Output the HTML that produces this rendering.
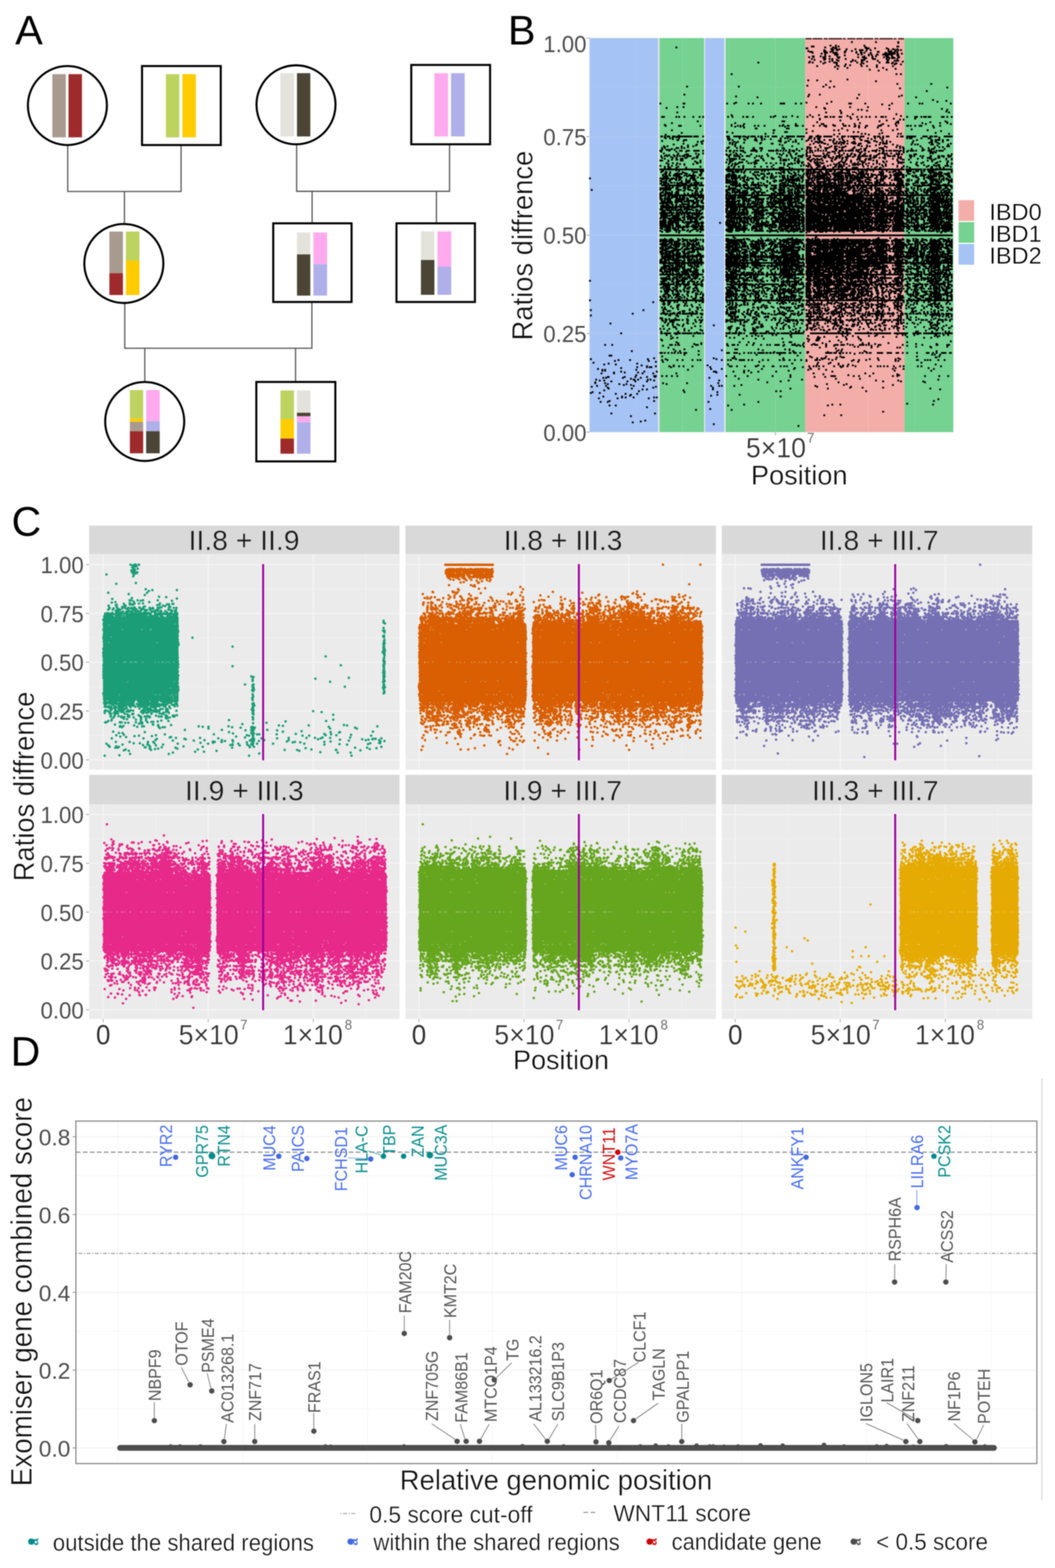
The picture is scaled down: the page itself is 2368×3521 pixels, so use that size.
<!DOCTYPE html>
<html lang="en"><head><meta charset="utf-8"><title>Figure: IBD sharing and Exomiser gene scores</title>
<style>
html,body{margin:0;padding:0;background:#fff}
svg{display:block;filter:blur(.8px)}
text{font-family:'Liberation Sans',sans-serif}
</style></head>
<body>
<svg width="2368" height="3521" viewBox="0 0 2368 3521" role="img" aria-label="Pedigree, IBD ratio scatter plots and Exomiser gene scores">
<rect width="2368" height="3521" fill="#fff"/>
<g id="panelA">
<text transform="translate(34 99.5)" font-size="93" fill="#000">A</text>
<path d="M152 326 L152 430 L406.4 430 L406.4 326" stroke="#4d4d4d" stroke-width="2.6" fill="none"/>
<path d="M279.3 430 L279.3 502" stroke="#4d4d4d" stroke-width="2.6" fill="none"/>
<path d="M665.8 325 L665.8 429.6 L1009 429.6 L1009 325" stroke="#4d4d4d" stroke-width="2.6" fill="none"/>
<path d="M700.6 429.6 L700.6 501" stroke="#4d4d4d" stroke-width="2.6" fill="none"/>
<path d="M979.6 429.6 L979.6 501" stroke="#4d4d4d" stroke-width="2.6" fill="none"/>
<path d="M280 681 L280 782 L700 782 L700 679" stroke="#4d4d4d" stroke-width="2.6" fill="none"/>
<path d="M325 782 L325 857" stroke="#4d4d4d" stroke-width="2.6" fill="none"/>
<path d="M663.4 782 L663.4 857" stroke="#4d4d4d" stroke-width="2.6" fill="none"/>
<circle cx="151.3" cy="237" r="88.7" fill="#fff" stroke="#000" stroke-width="4.6"/>
<rect x="117.5" y="166.5" width="30.2" height="141.9" fill="#a89a8e"/>
<rect x="153.8" y="166.5" width="30.2" height="141.9" fill="#9e2a2b"/>
<rect x="318.8" y="148.3" width="176.7" height="177.4" fill="#fff" stroke="#000" stroke-width="4.6"/>
<rect x="372.3" y="166.5" width="30.2" height="141.9" fill="#bcd35f"/>
<rect x="409.4" y="166.5" width="30.3" height="141.9" fill="#ffcc00"/>
<circle cx="664.4" cy="235.3" r="88.7" fill="#fff" stroke="#000" stroke-width="4.6"/>
<rect x="629.3" y="164.3" width="30.7" height="142.1" fill="#e3e2db"/>
<rect x="666.6" y="164.3" width="29.9" height="142.1" fill="#4b4535"/>
<rect x="923.1" y="145.8" width="176.9" height="178.2" fill="#fff" stroke="#000" stroke-width="4.6"/>
<rect x="975" y="164.3" width="30.7" height="142.1" fill="#ffaaee"/>
<rect x="1012.4" y="164.3" width="30.6" height="142.1" fill="#afafe9"/>
<circle cx="278" cy="591.7" r="88.7" fill="#fff" stroke="#000" stroke-width="4.6"/>
<rect x="245.5" y="520" width="30.4" height="93.4" fill="#a89a8e"/>
<rect x="245.5" y="613.4" width="30.4" height="49.1" fill="#9e2a2b"/>
<rect x="282.6" y="520" width="30.4" height="64.8" fill="#bcd35f"/>
<rect x="282.6" y="584.8" width="30.4" height="77.7" fill="#ffcc00"/>
<rect x="613.3" y="501.5" width="175.8" height="176.6" fill="#fff" stroke="#000" stroke-width="4.6"/>
<rect x="666.6" y="522" width="29.9" height="49.3" fill="#e3e2db"/>
<rect x="666.6" y="571.3" width="29.9" height="92.5" fill="#4b4535"/>
<rect x="703.5" y="522" width="30.7" height="71.3" fill="#ffaaee"/>
<rect x="703.5" y="593.3" width="30.7" height="70.5" fill="#afafe9"/>
<rect x="889.9" y="501.5" width="176.1" height="176.6" fill="#fff" stroke="#000" stroke-width="4.6"/>
<rect x="944.8" y="519.5" width="30.2" height="64.3" fill="#e3e2db"/>
<rect x="944.8" y="583.8" width="30.2" height="78.2" fill="#4b4535"/>
<rect x="982" y="519.5" width="30.8" height="79.5" fill="#ffaaee"/>
<rect x="982" y="599" width="30.8" height="63" fill="#afafe9"/>
<circle cx="324.8" cy="946.4" r="88.7" fill="#fff" stroke="#000" stroke-width="4.6"/>
<rect x="291.5" y="875.9" width="29.9" height="63.8" fill="#bcd35f"/>
<rect x="291.5" y="939.7" width="29.9" height="7.6" fill="#ffcc00"/>
<rect x="291.5" y="947.3" width="29.9" height="21" fill="#a89a8e"/>
<rect x="291.5" y="968.3" width="29.9" height="49.6" fill="#9e2a2b"/>
<rect x="328" y="875.9" width="30.5" height="69.6" fill="#ffaaee"/>
<rect x="328" y="945.5" width="30.5" height="22.8" fill="#afafe9"/>
<rect x="328" y="968.3" width="30.5" height="49.6" fill="#4b4535"/>
<rect x="575.3" y="857.7" width="177.4" height="178.4" fill="#fff" stroke="#000" stroke-width="4.6"/>
<rect x="629.5" y="876.8" width="30.3" height="64.2" fill="#bcd35f"/>
<rect x="629.5" y="941" width="30.3" height="43.8" fill="#ffcc00"/>
<rect x="629.5" y="984.8" width="30.3" height="34" fill="#9e2a2b"/>
<rect x="666.5" y="876.8" width="30.4" height="50" fill="#e3e2db"/>
<rect x="666.5" y="926.8" width="30.4" height="8" fill="#4b4535"/>
<rect x="666.5" y="934.8" width="30.4" height="13.4" fill="#ffaaee"/>
<rect x="666.5" y="948.2" width="30.4" height="70.6" fill="#afafe9"/>
</g>
<g id="panelB">
<text transform="translate(1140 99.5)" font-size="93" fill="#000">B</text>
<rect x="1323.2" y="85.5" width="816.5" height="884.8" fill="#ebebeb"/>
<rect x="1323.2" y="85.5" width="154.1" height="884.8" fill="#a6c3f5"/>
<rect x="1480.3" y="85.5" width="100" height="884.8" fill="#75d291"/>
<rect x="1582.6" y="85.5" width="43" height="884.8" fill="#a6c3f5"/>
<rect x="1628.6" y="85.5" width="178.7" height="884.8" fill="#75d291"/>
<rect x="1807.3" y="85.5" width="222.9" height="884.8" fill="#f3aeaa"/>
<rect x="2030.2" y="85.5" width="109.5" height="884.8" fill="#75d291"/>
<path d="M1323.2 749.1H2139.7M1323.2 527.9H2139.7M1323.2 306.7H2139.7M1532.2 85.5V970.3M1740.6 85.5V970.3M1949 85.5V970.3" stroke="#fff" stroke-width="2" opacity=".12" fill="none"/>
<path d="M1323.2 859.7H2139.7M1323.2 638.5H2139.7M1323.2 417.3H2139.7M1323.2 196.1H2139.7M1428 85.5V970.3M1636.4 85.5V970.3M1844.8 85.5V970.3M2053.2 85.5V970.3" stroke="#fff" stroke-width="1.2" opacity=".09" fill="none"/>
<path transform="translate(1324.2 86.5) scale(2.0)" d="M294 4h0m27 0h0m25 0h0m0 1h0m-76 3h0m6 0h0m32 0h0m-59 1h0m2 0h0m28 0h0m66 0h0m1 0h0m-249 1h0m167 0h0m9 0h0m3 0h0m33 0h0m1 0h0m-67 1h0m1 0h0m28 0h0m3 0h0m35 0h0m2 0h0m1 0h0m7 0h0m13 0h0m-62 1h0m6 0h0m3 0h0m8 0h0m10 0h0m13 0h0m24 0h0m5 0h0m1 0h0m4 0h0m-82 1h0m10 0h0m4 0h0m1 0h0m25 0h0m2 0h0m1 0h0m9 0h0m28 0h0m3 0h0m3 0h0m-104 1h0m18 0h0m1 0h0m8 0h0m15 0h0m7 0h0m10 0h0m6 0h0m25 0h0m3 0h0m5 0h0m-96 1h0m2 0h0m14 0h0m2 0h0m5 0h0m16 0h0m13 0h0m5 0h0m19 0h0m1 0h0m12 0h0m2 0h0m4 0h0m3 0h0m-95 1h0m16 0h0m7 0h0m2 0h0m1 0h0m1 0h0m9 0h0m13 0h0m5 0h0m1 0h0m3 0h0m7 0h0m17 0h0m7 0h0m2 0h0m-81 1h0m4 0h0m67 0h0m1 0h0m2 0h0m1 0h0m2 0h0m2 0h0m2 0h0m1 0h0m3 0h0m5 0h0m-75 1h0m2 0h0m1 0h0m23 0h0m4 0h0m8 0h0m3 0h0m6 0h0m1 0h0m6 0h0m1 0h0m5 0h0m2 0h0m1 0h0m8 0h0m-82 1h0m13 0h0m9 0h0m27 0h0m19 0h0m2 0h0m5 0h0m6 0h0m-95 1h0m1 0h0m8 0h0m5 0h0m5 0h0m39 0h0m9 0h0m4 0h0m18 0h0m7 0h0m-100 1h0m5 0h0m11 0h0m16 0h0m2 0h0m21 0h0m5 0h0m24 0h0m3 0h0m2 0h0m5 0h0m6 0h0m1 0h0m-85 1h0m2 0h0m15 0h0m29 0h0m1 0h0m1 0h0m7 0h0m19 0h0m3 0h0m1 0h0m2 0h0m-93 1h0m15 0h0m5 0h0m3 0h0m15 0h0m31 0h0m2 0h0m13 0h0m12 0h0m-93 1h0m11 0h0m14 0h0m18 0h0m10 0h0m2 0h0m1 0h0m27 0h0m-63 1h0m7 0h0m16 0h0m3 0h0m8 0h0m17 0h0m11 0h0m8 0h0m1 0h0m1 0h0m2 0h0m-99 1h0m12 0h0m10 0h0m24 0h0m12 0h0m6 0h0m23 0h0m17 0h0m-162 1h0m57 0h0m4 0h0m14 0h0m10 0h0m2 0h0m1 0h0m23 0h0m5 0h0m20 0h0m8 0h0m2 0h0m5 0h0m-78 1h0m45 0h0m32 0h0m4 0h0m1 0h0m-67 1h0m10 0h0m17 0h0m38 0h0m7 0h0m-72 1h0m15 0h0m30 0h0m-67 1h0m24 0h0m7 0h0m19 0h0m6 0h0m29 0h0m-65 1h0m47 0h0m-33 1h0m40 0h0m-51 1h0m65 0h0m-29 1h0m19 0h0m-9 1h0m-165 4h0m185 0h0m5 0h0m-60 6h0m-44 1h0m10 0h0m15 1h0m51 0h0m24 3h0m38 0h0m-118 1h0m-21 1h0m-135 1h0m58 0h0m95 0h0m12 0h0m-5 1h0m132 0h0m-53 1h0m30 3h0m-272 4h0m140 0h0m12 0h0m44 0h0m48 1h0m-186 1h0m81 0h0m102 0h0m-159 1h0m178 0h0m-66 1h0m85 2h0m15 1h0m-129 1h0m119 0h0m-226 1h0m79 0h0m-164 1h0m26 0h0m1 0h0m48 0h0m8 0h0m16 0h0m5 0h0m9 0h0m22 0h0m2 0h0m2 0h0m13 0h0m6 0h0m29 0h0m25 0h0m2 0h0m16 0h0m30 0h0m18 0h0m13 0h0m3 0h0m32 0h0m-77 1h0m8 1h0m-238 2h0m7 0h0m149 0h0m38 0h0m20 0h0m-226 1h0m177 0h0m1 1h0m72 0h0m59 0h0m-94 1h0m4 0h0m96 0h0m-120 1h0m30 0h0m89 1h0m-302 1h0m167 0h0m17 0h0m121 0h0m-121 1h0m13 1h0m49 0h0m-185 1h0m88 0h0m10 0h0m-49 1h0m19 0h0m62 0h0m60 0h0m-268 1h0m2 0h0m14 0h0m3 0h0m6 0h0m10 0h0m7 0h0m4 0h0m28 0h0m5 0h0m12 0h0m4 0h0m1 0h0m6 0h0m20 0h0m3 0h0m11 0h0m3 0h0m13 0h0m11 0h0m6 0h0m14 0h0m2 0h0m4 0h0m3 0h0m1 0h0m6 0h0m2 0h0m10 0h0m8 0h0m5 0h0m5 0h0m4 0h0m7 0h0m6 0h0m2 0h0m3 0h0m24 0h0m9 0h0m2 0h0m5 0h0m3 0h0m2 0h0m3 0h0m1 0h0m1 0h0m13 0h0m2 0h0m4 0h0m5 0h0m-148 2h0m35 0h0m48 0h0m24 0h0m-107 1h0m43 0h0m47 0h0m4 0h0m-71 1h0m52 0h0m-212 1h0m95 0h0m2 0h0m107 0h0m21 0h0m53 0h0m-144 1h0m89 0h0m38 0h0m19 0h0m-309 1h0m71 0h0m140 0h0m43 0h0m27 0h0m20 0h0m8 0h0m-228 1h0m58 0h0m29 0h0m2 0h0m22 0h0m13 0h0m32 0h0m14 0h0m34 0h0m28 0h0m-321 1h0m75 0h0m58 0h0m56 0h0m54 0h0m-242 1h0m15 0h0m2 0h0m22 0h0m35 0h0m7 0h0m3 0h0m3 0h0m13 0h0m4 0h0m7 0h0m17 0h0m3 0h0m6 0h0m1 0h0m8 0h0m2 0h0m6 0h0m12 0h0m7 0h0m5 0h0m2 0h0m9 0h0m1 0h0m10 0h0m2 0h0m4 0h0m7 0h0m4 0h0m8 0h0m1 0h0m13 0h0m2 0h0m9 0h0m9 0h0m12 0h0m1 0h0m3 0h0m5 0h0m5 0h0m2 0h0m13 0h0m8 0h0m-230 1h0m6 0h0m50 0h0m46 0h0m32 0h0m-124 1h0m129 0h0m7 0h0m14 0h0m63 0h0m-200 1h0m1 0h0m34 0h0m2 0h0m60 0h0m-40 1h0m102 0h0m16 0h0m-269 1h0m114 0h0m1 0h0m67 0h0m5 0h0m10 0h0m38 0h0m13 0h0m39 0h0m-129 1h0m144 0h0m-240 1h0m65 0h0m2 0h0m75 0h0m5 0h0m-198 1h0m57 0h0m46 0h0m37 0h0m85 0h0m60 0h0m-191 1h0m83 0h0m25 0h0m4 0h0m16 0h0m21 0h0m3 0h0m54 0h0m-318 1h0m189 0h0m39 0h0m-213 1h0m156 0h0m-176 1h0m1 0h0m3 0h0m3 0h0m2 0h0m4 0h0m1 0h0m1 0h0m3 0h0m2 0h0m1 0h0m1 0h0m1 0h0m2 0h0m2 0h0m2 0h0m1 0h0m1 0h0m2 0h0m1 0h0m3 0h0m1 0h0m2 0h0m1 0h0m6 0h0m27 0h0m1 0h0m1 0h0m6 0h0m1 0h0m2 0h0m1 0h0m1 0h0m1 0h0m1 0h0m3 0h0m1 0h0m1 0h0m4 0h0m3 0h0m2 0h0m2 0h0m4 0h0m3 0h0m1 0h0m4 0h0m3 0h0m5 0h0m2 0h0m2 0h0m7 0h0m5 0h0m1 0h0m1 0h0m2 0h0m1 0h0m1 0h0m1 0h0m1 0h0m4 0h0m1 0h0m2 0h0m1 0h0m2 0h0m1 0h0m7 0h0m1 0h0m1 0h0m5 0h0m2 0h0m1 0h0m1 0h0m1 0h0m4 0h0m1 0h0m2 0h0m1 0h0m2 0h0m2 0h0m7 0h0m5 0h0m1 0h0m1 0h0m1 0h0m4 0h0m3 0h0m2 0h0m2 0h0m1 0h0m1 0h0m1 0h0m1 0h0m3 0h0m2 0h0m1 0h0m12 0h0m1 0h0m3 0h0m1 0h0m1 0h0m4 0h0m4 0h0m2 0h0m10 0h0m4 0h0m1 0h0m1 0h0m5 0h0m1 0h0m2 0h0m2 0h0m1 0h0m2 0h0m1 0h0m9 0h0m2 0h0m1 0h0m1 0h0m4 0h0m2 0h0m3 0h0m2 0h0m9 0h0m2 0h0m1 0h0m1 0h0m2 0h0m2 0h0m-322 1h0m13 0h0m58 0h0m21 0h0m16 0h0m64 0h0m73 0h0m63 0h0m-307 1h0m5 0h0m3 0h0m7 0h0m56 0h0m12 0h0m9 0h0m9 0h0m7 0h0m21 0h0m5 0h0m3 0h0m24 0h0m2 0h0m4 0h0m6 0h0m25 0h0m13 0h0m7 0h0m9 0h0m8 0h0m6 0h0m3 0h0m27 0h0m3 0h0m2 0h0m11 0h0m8 0h0m2 0h0m-289 1h0m62 0h0m2 0h0m16 0h0m23 0h0m7 0h0m11 0h0m11 0h0m13 0h0m14 0h0m4 0h0m18 0h0m6 0h0m17 0h0m19 0h0m76 0h0m-294 1h0m1 0h0m7 0h0m2 0h0m48 0h0m4 0h0m14 0h0m11 0h0m2 0h0m6 0h0m38 0h0m14 0h0m12 0h0m6 0h0m6 0h0m1 0h0m4 0h0m10 0h0m20 0h0m1 0h0m23 0h0m39 0h0m16 0h0m1 0h0m4 0h0m1 0h0m1 0h0m2 0h0m4 0h0m5 0h0m1 0h0m-321 1h0m24 0h0m22 0h0m60 0h0m25 0h0m2 0h0m9 0h0m20 0h0m6 0h0m9 0h0m15 0h0m12 0h0m4 0h0m20 0h0m1 0h0m2 0h0m7 0h0m1 0h0m13 0h0m30 0h0m21 0h0m-263 1h0m4 0h0m37 0h0m4 0h0m48 0h0m6 0h0m8 0h0m3 0h0m22 0h0m2 0h0m3 0h0m2 0h0m13 0h0m4 0h0m4 0h0m4 0h0m1 0h0m10 0h0m1 0h0m16 0h0m9 0h0m7 0h0m4 0h0m4 0h0m46 0h0m1 0h0m4 0h0m8 0h0m-239 1h0m3 0h0m4 0h0m9 0h0m19 0h0m27 0h0m37 0h0m1 0h0m3 0h0m1 0h0m19 0h0m3 0h0m11 0h0m3 0h0m15 0h0m2 0h0m12 0h0m36 0h0m19 0h0m9 0h0m-285 1h0m21 0h0m31 0h0m34 0h0m13 0h0m1 0h0m29 0h0m17 0h0m12 0h0m1 0h0m10 0h0m2 0h0m3 0h0m6 0h0m4 0h0m7 0h0m2 0h0m4 0h0m2 0h0m25 0h0m2 0h0m2 0h0m51 0h0m8 0h0m13 0h0m-311 1h0m26 0h0m40 0h0m3 0h0m50 0h0m34 0h0m20 0h0m15 0h0m43 0h0m15 0h0m21 0h0m4 0h0m3 0h0m15 0h0m2 0h0m17 0h0m-292 1h0m9 0h0m97 0h0m42 0h0m43 0h0m1 0h0m9 0h0m10 0h0m24 0h0m45 0h0m-307 1h0m4 0h0m16 0h0m13 0h0m47 0h0m6 0h0m58 0h0m44 0h0m4 0h0m2 0h0m10 0h0m18 0h0m6 0h0m3 0h0m17 0h0m17 0h0m23 0h0m30 0h0m2 0h0m-319 1h0m26 0h0m46 0h0m88 0h0m2 0h0m7 0h0m6 0h0m10 0h0m6 0h0m5 0h0m3 0h0m2 0h0m12 0h0m36 0h0m11 0h0m4 0h0m3 0h0m36 0h0m5 0h0m4 0h0m-315 1h0m3 0h0m13 0h0m2 0h0m4 0h0m3 0h0m48 0h0m1 0h0m10 0h0m4 0h0m3 0h0m12 0h0m7 0h0m2 0h0m23 0h0m1 0h0m31 0h0m16 0h0m1 0h0m2 0h0m29 0h0m14 0h0m15 0h0m2 0h0m1 0h0m1 0h0m19 0h0m4 0h0m21 0h0m7 0h0m-288 1h0m91 0h0m10 0h0m25 0h0m14 0h0m6 0h0m6 0h0m3 0h0m9 0h0m9 0h0m10 0h0m2 0h0m6 0h0m12 0h0m9 0h0m4 0h0m20 0h0m1 0h0m32 0h0m23 0h0m2 0h0m12 0h0m-317 1h0m5 0h0m1 0h0m1 0h0m2 0h0m5 0h0m90 0h0m25 0h0m14 0h0m8 0h0m61 0h0m6 0h0m3 0h0m7 0h0m13 0h0m7 0h0m23 0h0m22 0h0m1 0h0m6 0h0m-302 1h0m10 0h0m12 0h0m2 0h0m6 0h0m1 0h0m1 0h0m6 0h0m1 0h0m1 0h0m2 0h0m1 0h0m5 0h0m26 0h0m4 0h0m1 0h0m4 0h0m3 0h0m4 0h0m2 0h0m1 0h0m9 0h0m1 0h0m2 0h0m1 0h0m1 0h0m1 0h0m5 0h0m9 0h0m1 0h0m2 0h0m2 0h0m3 0h0m2 0h0m3 0h0m3 0h0m3 0h0m4 0h0m3 0h0m2 0h0m6 0h0m8 0h0m4 0h0m2 0h0m4 0h0m3 0h0m3 0h0m3 0h0m3 0h0m11 0h0m4 0h0m1 0h0m1 0h0m2 0h0m3 0h0m3 0h0m2 0h0m2 0h0m1 0h0m4 0h0m2 0h0m7 0h0m1 0h0m8 0h0m2 0h0m1 0h0m1 0h0m4 0h0m5 0h0m3 0h0m3 0h0m1 0h0m1 0h0m3 0h0m2 0h0m1 0h0m1 0h0m3 0h0m1 0h0m3 0h0m5 0h0m3 0h0m1 0h0m1 0h0m1 0h0m3 0h0m7 0h0m7 0h0m3 0h0m6 0h0m3 0h0m1 0h0m1 0h0m2 0h0m-316 1h0m17 0h0m11 0h0m49 0h0m15 0h0m15 0h0m42 0h0m18 0h0m25 0h0m2 0h0m6 0h0m21 0h0m4 0h0m8 0h0m8 0h0m8 0h0m18 0h0m9 0h0m26 0h0m4 0h0m-225 1h0m13 0h0m49 0h0m1 0h0m20 0h0m3 0h0m3 0h0m17 0h0m2 0h0m10 0h0m24 0h0m1 0h0m48 0h0m32 0h0m1 0h0m3 0h0m-305 1h0m16 0h0m20 0h0m8 0h0m37 0h0m46 0h0m7 0h0m15 0h0m11 0h0m19 0h0m13 0h0m10 0h0m9 0h0m15 0h0m16 0h0m3 0h0m2 0h0m3 0h0m5 0h0m6 0h0m3 0h0m35 0h0m3 0h0m-286 1h0m9 0h0m2 0h0m12 0h0m31 0h0m5 0h0m7 0h0m4 0h0m12 0h0m18 0h0m14 0h0m12 0h0m6 0h0m12 0h0m23 0h0m14 0h0m9 0h0m4 0h0m4 0h0m6 0h0m5 0h0m16 0h0m7 0h0m14 0h0m2 0h0m3 0h0m14 0h0m2 0h0m40 0h0m-320 1h0m3 0h0m5 0h0m4 0h0m8 0h0m48 0h0m3 0h0m5 0h0m53 0h0m6 0h0m18 0h0m4 0h0m8 0h0m12 0h0m5 0h0m15 0h0m15 0h0m4 0h0m5 0h0m8 0h0m7 0h0m12 0h0m8 0h0m17 0h0m1 0h0m42 0h0m-322 1h0m4 0h0m3 0h0m8 0h0m3 0h0m3 0h0m3 0h0m2 0h0m3 0h0m2 0h0m2 0h0m7 0h0m1 0h0m35 0h0m6 0h0m2 0h0m1 0h0m1 0h0m1 0h0m4 0h0m5 0h0m1 0h0m2 0h0m8 0h0m3 0h0m3 0h0m7 0h0m21 0h0m5 0h0m8 0h0m2 0h0m1 0h0m6 0h0m1 0h0m3 0h0m6 0h0m1 0h0m2 0h0m1 0h0m2 0h0m4 0h0m2 0h0m3 0h0m9 0h0m1 0h0m2 0h0m1 0h0m8 0h0m1 0h0m1 0h0m1 0h0m5 0h0m8 0h0m1 0h0m2 0h0m1 0h0m2 0h0m3 0h0m1 0h0m4 0h0m1 0h0m11 0h0m4 0h0m2 0h0m3 0h0m1 0h0m1 0h0m4 0h0m13 0h0m1 0h0m1 0h0m3 0h0m7 0h0m3 0h0m8 0h0m1 0h0m8 0h0m1 0h0m3 0h0m2 0h0m5 0h0m2 0h0m1 0h0m-314 1h0m18 0h0m12 0h0m35 0h0m12 0h0m44 0h0m25 0h0m1 0h0m9 0h0m15 0h0m6 0h0m5 0h0m14 0h0m8 0h0m6 0h0m1 0h0m1 0h0m18 0h0m10 0h0m18 0h0m43 0h0m5 0h0m6 0h0m-322 1h0m12 0h0m4 0h0m10 0h0m1 0h0m9 0h0m3 0h0m65 0h0m7 0h0m12 0h0m10 0h0m13 0h0m4 0h0m15 0h0m18 0h0m6 0h0m6 0h0m1 0h0m3 0h0m3 0h0m1 0h0m5 0h0m13 0h0m1 0h0m12 0h0m3 0h0m1 0h0m6 0h0m4 0h0m17 0h0m1 0h0m13 0h0m13 0h0m6 0h0m2 0h0m1 0h0m9 0h0m1 0h0m-308 1h0m18 0h0m2 0h0m11 0h0m42 0h0m2 0h0m1 0h0m2 0h0m2 0h0m4 0h0m26 0h0m11 0h0m1 0h0m8 0h0m16 0h0m4 0h0m10 0h0m7 0h0m4 0h0m5 0h0m12 0h0m4 0h0m7 0h0m5 0h0m13 0h0m1 0h0m1 0h0m7 0h0m3 0h0m18 0h0m9 0h0m9 0h0m19 0h0m14 0h0m1 0h0m5 0h0m12 0h0m6 0h0m-314 1h0m5 0h0m1 0h0m56 0h0m8 0h0m9 0h0m2 0h0m44 0h0m2 0h0m1 0h0m3 0h0m22 0h0m4 0h0m4 0h0m3 0h0m2 0h0m17 0h0m8 0h0m5 0h0m12 0h0m9 0h0m4 0h0m2 0h0m30 0h0m6 0h0m1 0h0m6 0h0m28 0h0m14 0h0m6 0h0m-327 1h0m2 0h0m7 0h0m14 0h0m2 0h0m20 0h0m33 0h0m3 0h0m26 0h0m2 0h0m1 0h0m6 0h0m19 0h0m3 0h0m1 0h0m2 0h0m10 0h0m4 0h0m13 0h0m14 0h0m10 0h0m16 0h0m6 0h0m10 0h0m6 0h0m9 0h0m4 0h0m23 0h0m34 0h0m5 0h0m-296 1h0m30 0h0m41 0h0m17 0h0m10 0h0m47 0h0m1 0h0m1 0h0m13 0h0m4 0h0m3 0h0m11 0h0m6 0h0m10 0h0m11 0h0m12 0h0m1 0h0m23 0h0m4 0h0m13 0h0m38 0h0m9 0h0m9 0h0m-282 1h0m4 0h0m29 0h0m4 0h0m11 0h0m1 0h0m2 0h0m13 0h0m49 0h0m5 0h0m1 0h0m13 0h0m6 0h0m22 0h0m4 0h0m2 0h0m7 0h0m8 0h0m7 0h0m14 0h0m8 0h0m17 0h0m2 0h0m1 0h0m2 0h0m8 0h0m7 0h0m7 0h0m16 0h0m11 0h0m-315 1h0m7 0h0m5 0h0m22 0h0m1 0h0m42 0h0m4 0h0m11 0h0m3 0h0m4 0h0m2 0h0m11 0h0m5 0h0m6 0h0m5 0h0m4 0h0m8 0h0m4 0h0m4 0h0m4 0h0m7 0h0m8 0h0m1 0h0m2 0h0m4 0h0m2 0h0m17 0h0m18 0h0m9 0h0m7 0h0m9 0h0m24 0h0m3 0h0m1 0h0m22 0h0m16 0h0m1 0h0m17 0h0m-318 1h0m13 0h0m5 0h0m10 0h0m40 0h0m4 0h0m5 0h0m20 0h0m33 0h0m5 0h0m1 0h0m3 0h0m19 0h0m28 0h0m3 0h0m3 0h0m5 0h0m3 0h0m7 0h0m3 0h0m2 0h0m3 0h0m7 0h0m8 0h0m7 0h0m7 0h0m8 0h0m26 0h0m35 0h0m5 0h0m-309 1h0m9 0h0m57 0h0m43 0h0m12 0h0m22 0h0m7 0h0m7 0h0m2 0h0m1 0h0m1 0h0m12 0h0m6 0h0m6 0h0m3 0h0m10 0h0m1 0h0m2 0h0m3 0h0m5 0h0m22 0h0m39 0h0m8 0h0m11 0h0m5 0h0m1 0h0m-313 1h0m9 0h0m4 0h0m67 0h0m13 0h0m50 0h0m15 0h0m6 0h0m1 0h0m1 0h0m18 0h0m4 0h0m12 0h0m2 0h0m4 0h0m6 0h0m21 0h0m20 0h0m13 0h0m7 0h0m16 0h0m12 0h0m8 0h0m1 0h0m10 0h0m1 0h0m2 0h0m-318 1h0m15 0h0m25 0h0m32 0h0m6 0h0m5 0h0m18 0h0m7 0h0m7 0h0m5 0h0m41 0h0m3 0h0m8 0h0m2 0h0m4 0h0m13 0h0m1 0h0m3 0h0m2 0h0m1 0h0m1 0h0m24 0h0m9 0h0m6 0h0m7 0h0m16 0h0m7 0h0m4 0h0m22 0h0m6 0h0m8 0h0m13 0h0m-321 1h0m4 0h0m2 0h0m7 0h0m11 0h0m47 0h0m1 0h0m16 0h0m41 0h0m2 0h0m2 0h0m7 0h0m25 0h0m6 0h0m6 0h0m2 0h0m1 0h0m9 0h0m6 0h0m4 0h0m5 0h0m7 0h0m2 0h0m1 0h0m2 0h0m20 0h0m6 0h0m24 0h0m9 0h0m24 0h0m1 0h0m9 0h0m4 0h0m-241 1h0m5 0h0m45 0h0m21 0h0m27 0h0m58 0h0m13 0h0m64 0h0m-310 1h0m1 0h0m1 0h0m1 0h0m1 0h0m1 0h0m1 0h0m1 0h0m1 0h0m1 0h0m1 0h0m1 0h0m1 0h0m1 0h0m1 0h0m1 0h0m1 0h0m1 0h0m1 0h0m1 0h0m1 0h0m1 0h0m1 0h0m1 0h0m1 0h0m1 0h0m1 0h0m1 0h0m2 0h0m1 0h0m1 0h0m1 0h0m2 0h0m1 0h0m1 0h0m1 0h0m2 0h0m1 0h0m1 0h0m1 0h0m1 0h0m1 0h0m1 0h0m1 0h0m1 0h0m1 0h0m26 0h0m1 0h0m1 0h0m1 0h0m1 0h0m1 0h0m1 0h0m1 0h0m1 0h0m1 0h0m1 0h0m2 0h0m1 0h0m1 0h0m1 0h0m1 0h0m1 0h0m1 0h0m1 0h0m3 0h0m1 0h0m1 0h0m1 0h0m2 0h0m1 0h0m2 0h0m1 0h0m2 0h0m1 0h0m1 0h0m1 0h0m1 0h0m1 0h0m1 0h0m1 0h0m2 0h0m1 0h0m1 0h0m1 0h0m2 0h0m1 0h0m1 0h0m1 0h0m1 0h0m1 0h0m1 0h0m1 0h0m1 0h0m1 0h0m1 0h0m2 0h0m1 0h0m1 0h0m1 0h0m1 0h0m1 0h0m1 0h0m1 0h0m1 0h0m1 0h0m1 0h0m1 0h0m1 0h0m1 0h0m1 0h0m1 0h0m1 0h0m1 0h0m1 0h0m1 0h0m1 0h0m2 0h0m1 0h0m1 0h0m2 0h0m1 0h0m1 0h0m3 0h0m1 0h0m1 0h0m1 0h0m1 0h0m1 0h0m1 0h0m1 0h0m1 0h0m1 0h0m1 0h0m1 0h0m1 0h0m1 0h0m1 0h0m2 0h0m1 0h0m1 0h0m1 0h0m1 0h0m1 0h0m1 0h0m1 0h0m1 0h0m1 0h0m1 0h0m1 0h0m1 0h0m1 0h0m1 0h0m1 0h0m1 0h0m1 0h0m1 0h0m1 0h0m1 0h0m1 0h0m1 0h0m1 0h0m1 0h0m1 0h0m1 0h0m1 0h0m1 0h0m1 0h0m1 0h0m1 0h0m1 0h0m1 0h0m1 0h0m1 0h0m1 0h0m1 0h0m1 0h0m1 0h0m1 0h0m2 0h0m1 0h0m1 0h0m1 0h0m1 0h0m1 0h0m1 0h0m1 0h0m1 0h0m1 0h0m1 0h0m1 0h0m1 0h0m1 0h0m1 0h0m1 0h0m1 0h0m1 0h0m1 0h0m1 0h0m1 0h0m1 0h0m1 0h0m1 0h0m1 0h0m1 0h0m1 0h0m1 0h0m1 0h0m1 0h0m1 0h0m1 0h0m1 0h0m1 0h0m2 0h0m1 0h0m1 0h0m1 0h0m1 0h0m1 0h0m2 0h0m1 0h0m1 0h0m1 0h0m1 0h0m1 0h0m1 0h0m1 0h0m1 0h0m1 0h0m3 0h0m1 0h0m1 0h0m1 0h0m1 0h0m1 0h0m1 0h0m1 0h0m1 0h0m1 0h0m1 0h0m1 0h0m1 0h0m1 0h0m1 0h0m1 0h0m1 0h0m1 0h0m3 0h0m1 0h0m3 0h0m1 0h0m1 0h0m1 0h0m1 0h0m1 0h0m1 0h0m1 0h0m2 0h0m1 0h0m1 0h0m1 0h0m1 0h0m1 0h0m1 0h0m2 0h0m1 0h0m1 0h0m2 0h0m1 0h0m1 0h0m1 0h0m1 0h0m1 0h0m1 0h0m-309 1h0m3 0h0m54 0h0m5 0h0m6 0h0m5 0h0m26 0h0m4 0h0m14 0h0m4 0h0m4 0h0m4 0h0m18 0h0m2 0h0m6 0h0m6 0h0m12 0h0m12 0h0m6 0h0m13 0h0m5 0h0m3 0h0m6 0h0m13 0h0m18 0h0m10 0h0m10 0h0m9 0h0m10 0h0m3 0h0m-307 1h0m1 0h0m18 0h0m15 0h0m9 0h0m2 0h0m1 0h0m28 0h0m2 0h0m1 0h0m2 0h0m4 0h0m3 0h0m7 0h0m19 0h0m3 0h0m21 0h0m1 0h0m16 0h0m5 0h0m5 0h0m1 0h0m1 0h0m2 0h0m3 0h0m8 0h0m6 0h0m1 0h0m3 0h0m2 0h0m4 0h0m7 0h0m1 0h0m7 0h0m1 0h0m14 0h0m1 0h0m5 0h0m7 0h0m10 0h0m5 0h0m8 0h0m2 0h0m4 0h0m11 0h0m2 0h0m6 0h0m1 0h0m1 0h0m4 0h0m3 0h0m5 0h0m2 0h0m1 0h0m23 0h0m-326 1h0m5 0h0m1 0h0m4 0h0m14 0h0m13 0h0m1 0h0m2 0h0m41 0h0m1 0h0m3 0h0m1 0h0m4 0h0m3 0h0m7 0h0m5 0h0m2 0h0m2 0h0m27 0h0m1 0h0m6 0h0m6 0h0m5 0h0m9 0h0m5 0h0m4 0h0m1 0h0m2 0h0m1 0h0m1 0h0m3 0h0m5 0h0m2 0h0m7 0h0m5 0h0m1 0h0m1 0h0m1 0h0m7 0h0m2 0h0m4 0h0m2 0h0m5 0h0m2 0h0m2 0h0m1 0h0m18 0h0m2 0h0m2 0h0m7 0h0m1 0h0m3 0h0m7 0h0m2 0h0m7 0h0m1 0h0m6 0h0m9 0h0m9 0h0m3 0h0m2 0h0m6 0h0m2 0h0m12 0h0m-321 1h0m1 0h0m4 0h0m8 0h0m8 0h0m1 0h0m18 0h0m35 0h0m13 0h0m28 0h0m8 0h0m3 0h0m2 0h0m4 0h0m6 0h0m6 0h0m13 0h0m2 0h0m3 0h0m2 0h0m2 0h0m9 0h0m6 0h0m10 0h0m2 0h0m3 0h0m1 0h0m2 0h0m2 0h0m2 0h0m10 0h0m7 0h0m1 0h0m3 0h0m18 0h0m1 0h0m15 0h0m2 0h0m18 0h0m8 0h0m1 0h0m9 0h0m1 0h0m4 0h0m2 0h0m3 0h0m3 0h0m7 0h0m1 0h0m-319 1h0m12 0h0m3 0h0m2 0h0m2 0h0m6 0h0m7 0h0m9 0h0m31 0h0m1 0h0m4 0h0m22 0h0m9 0h0m2 0h0m1 0h0m4 0h0m2 0h0m3 0h0m10 0h0m12 0h0m5 0h0m9 0h0m4 0h0m1 0h0m1 0h0m1 0h0m9 0h0m1 0h0m1 0h0m4 0h0m2 0h0m1 0h0m2 0h0m1 0h0m4 0h0m1 0h0m2 0h0m2 0h0m2 0h0m1 0h0m2 0h0m8 0h0m2 0h0m10 0h0m2 0h0m2 0h0m4 0h0m2 0h0m4 0h0m10 0h0m1 0h0m1 0h0m1 0h0m13 0h0m4 0h0m1 0h0m2 0h0m1 0h0m7 0h0m2 0h0m13 0h0m10 0h0m4 0h0m2 0h0m2 0h0m1 0h0m3 0h0m4 0h0m2 0h0m2 0h0m-320 1h0m3 0h0m4 0h0m6 0h0m1 0h0m1 0h0m3 0h0m8 0h0m4 0h0m4 0h0m7 0h0m1 0h0m30 0h0m6 0h0m3 0h0m21 0h0m1 0h0m3 0h0m42 0h0m4 0h0m9 0h0m1 0h0m3 0h0m3 0h0m5 0h0m1 0h0m1 0h0m1 0h0m3 0h0m2 0h0m5 0h0m1 0h0m7 0h0m1 0h0m5 0h0m5 0h0m8 0h0m5 0h0m1 0h0m3 0h0m3 0h0m1 0h0m9 0h0m2 0h0m1 0h0m4 0h0m2 0h0m1 0h0m10 0h0m4 0h0m3 0h0m2 0h0m1 0h0m2 0h0m3 0h0m20 0h0m3 0h0m2 0h0m15 0h0m1 0h0m7 0h0m2 0h0m1 0h0m-321 1h0m3 0h0m1 0h0m4 0h0m4 0h0m1 0h0m2 0h0m1 0h0m8 0h0m5 0h0m2 0h0m2 0h0m1 0h0m1 0h0m1 0h0m6 0h0m29 0h0m1 0h0m2 0h0m1 0h0m1 0h0m2 0h0m1 0h0m1 0h0m1 0h0m1 0h0m4 0h0m6 0h0m16 0h0m6 0h0m8 0h0m1 0h0m11 0h0m1 0h0m1 0h0m4 0h0m6 0h0m3 0h0m5 0h0m3 0h0m5 0h0m3 0h0m4 0h0m1 0h0m4 0h0m4 0h0m1 0h0m1 0h0m1 0h0m2 0h0m9 0h0m3 0h0m2 0h0m1 0h0m2 0h0m1 0h0m1 0h0m5 0h0m2 0h0m1 0h0m2 0h0m1 0h0m2 0h0m3 0h0m4 0h0m2 0h0m6 0h0m4 0h0m6 0h0m5 0h0m2 0h0m3 0h0m6 0h0m4 0h0m1 0h0m2 0h0m2 0h0m4 0h0m4 0h0m7 0h0m3 0h0m1 0h0m5 0h0m1 0h0m1 0h0m7 0h0m3 0h0m1 0h0m2 0h0m1 0h0m2 0h0m3 0h0m1 0h0m1 0h0m2 0h0m6 0h0m-319 1h0m1 0h0m1 0h0m2 0h0m12 0h0m2 0h0m8 0h0m5 0h0m39 0h0m1 0h0m2 0h0m4 0h0m2 0h0m1 0h0m1 0h0m3 0h0m7 0h0m12 0h0m10 0h0m7 0h0m6 0h0m4 0h0m4 0h0m8 0h0m1 0h0m1 0h0m2 0h0m10 0h0m5 0h0m2 0h0m8 0h0m2 0h0m1 0h0m1 0h0m1 0h0m1 0h0m3 0h0m3 0h0m4 0h0m5 0h0m1 0h0m2 0h0m2 0h0m2 0h0m2 0h0m3 0h0m2 0h0m3 0h0m2 0h0m5 0h0m1 0h0m1 0h0m5 0h0m2 0h0m9 0h0m13 0h0m1 0h0m2 0h0m10 0h0m1 0h0m2 0h0m6 0h0m11 0h0m12 0h0m5 0h0m2 0h0m2 0h0m1 0h0m1 0h0m1 0h0m1 0h0m6 0h0m8 0h0m2 0h0m-319 1h0m1 0h0m11 0h0m4 0h0m2 0h0m12 0h0m2 0h0m4 0h0m32 0h0m3 0h0m3 0h0m1 0h0m7 0h0m1 0h0m3 0h0m2 0h0m4 0h0m17 0h0m5 0h0m5 0h0m3 0h0m9 0h0m2 0h0m4 0h0m4 0h0m2 0h0m6 0h0m3 0h0m2 0h0m11 0h0m3 0h0m3 0h0m2 0h0m1 0h0m3 0h0m5 0h0m11 0h0m1 0h0m3 0h0m5 0h0m7 0h0m3 0h0m1 0h0m3 0h0m2 0h0m1 0h0m5 0h0m1 0h0m3 0h0m1 0h0m1 0h0m7 0h0m5 0h0m4 0h0m6 0h0m6 0h0m8 0h0m1 0h0m14 0h0m1 0h0m1 0h0m7 0h0m3 0h0m4 0h0m2 0h0m1 0h0m7 0h0m5 0h0m7 0h0m-404 1h0m79 0h0m1 0h0m1 0h0m2 0h0m1 0h0m1 0h0m1 0h0m1 0h0m1 0h0m4 0h0m1 0h0m1 0h0m3 0h0m3 0h0m1 0h0m1 0h0m11 0h0m2 0h0m1 0h0m1 0h0m8 0h0m2 0h0m32 0h0m1 0h0m1 0h0m2 0h0m2 0h0m7 0h0m5 0h0m3 0h0m2 0h0m5 0h0m6 0h0m10 0h0m3 0h0m13 0h0m7 0h0m1 0h0m5 0h0m1 0h0m5 0h0m7 0h0m2 0h0m2 0h0m3 0h0m3 0h0m4 0h0m1 0h0m1 0h0m2 0h0m2 0h0m1 0h0m3 0h0m5 0h0m1 0h0m5 0h0m2 0h0m2 0h0m5 0h0m3 0h0m2 0h0m1 0h0m2 0h0m1 0h0m2 0h0m5 0h0m1 0h0m5 0h0m2 0h0m7 0h0m1 0h0m7 0h0m1 0h0m1 0h0m1 0h0m5 0h0m6 0h0m2 0h0m1 0h0m2 0h0m2 0h0m31 0h0m2 0h0m15 0h0m3 0h0m-319 1h0m2 0h0m3 0h0m4 0h0m2 0h0m4 0h0m4 0h0m1 0h0m7 0h0m9 0h0m1 0h0m35 0h0m1 0h0m6 0h0m9 0h0m4 0h0m10 0h0m6 0h0m6 0h0m22 0h0m5 0h0m1 0h0m2 0h0m2 0h0m2 0h0m1 0h0m2 0h0m1 0h0m2 0h0m10 0h0m4 0h0m6 0h0m1 0h0m2 0h0m4 0h0m1 0h0m4 0h0m2 0h0m3 0h0m1 0h0m1 0h0m3 0h0m2 0h0m2 0h0m1 0h0m1 0h0m2 0h0m3 0h0m4 0h0m4 0h0m1 0h0m4 0h0m2 0h0m8 0h0m1 0h0m14 0h0m3 0h0m18 0h0m2 0h0m8 0h0m1 0h0m11 0h0m6 0h0m8 0h0m1 0h0m1 0h0m1 0h0m2 0h0m1 0h0m3 0h0m3 0h0m2 0h0m3 0h0m1 0h0m1 0h0m4 0h0m-320 1h0m11 0h0m3 0h0m12 0h0m4 0h0m1 0h0m37 0h0m1 0h0m1 0h0m1 0h0m3 0h0m3 0h0m1 0h0m9 0h0m3 0h0m2 0h0m30 0h0m6 0h0m2 0h0m1 0h0m3 0h0m2 0h0m1 0h0m2 0h0m1 0h0m2 0h0m2 0h0m2 0h0m2 0h0m5 0h0m4 0h0m2 0h0m1 0h0m6 0h0m3 0h0m11 0h0m4 0h0m4 0h0m2 0h0m1 0h0m2 0h0m3 0h0m1 0h0m5 0h0m4 0h0m3 0h0m2 0h0m3 0h0m1 0h0m1 0h0m7 0h0m5 0h0m1 0h0m7 0h0m1 0h0m5 0h0m1 0h0m10 0h0m3 0h0m2 0h0m2 0h0m1 0h0m3 0h0m6 0h0m2 0h0m3 0h0m7 0h0m14 0h0m1 0h0m1 0h0m1 0h0m2 0h0m1 0h0m9 0h0m5 0h0m2 0h0m2 0h0m-327 1h0m1 0h0m5 0h0m4 0h0m1 0h0m13 0h0m5 0h0m2 0h0m1 0h0m8 0h0m34 0h0m19 0h0m1 0h0m26 0h0m7 0h0m3 0h0m4 0h0m1 0h0m1 0h0m9 0h0m3 0h0m5 0h0m3 0h0m8 0h0m1 0h0m1 0h0m4 0h0m1 0h0m5 0h0m1 0h0m7 0h0m2 0h0m3 0h0m1 0h0m6 0h0m9 0h0m5 0h0m2 0h0m3 0h0m6 0h0m2 0h0m2 0h0m2 0h0m16 0h0m4 0h0m3 0h0m16 0h0m2 0h0m1 0h0m1 0h0m2 0h0m5 0h0m2 0h0m8 0h0m11 0h0m7 0h0m4 0h0m1 0h0m2 0h0m3 0h0m9 0h0m2 0h0m1 0h0m-325 1h0m2 0h0m2 0h0m25 0h0m2 0h0m42 0h0m2 0h0m1 0h0m2 0h0m2 0h0m1 0h0m1 0h0m2 0h0m9 0h0m9 0h0m16 0h0m8 0h0m13 0h0m3 0h0m1 0h0m4 0h0m1 0h0m9 0h0m6 0h0m1 0h0m5 0h0m8 0h0m1 0h0m2 0h0m3 0h0m11 0h0m4 0h0m1 0h0m2 0h0m7 0h0m1 0h0m2 0h0m1 0h0m11 0h0m5 0h0m1 0h0m1 0h0m2 0h0m7 0h0m3 0h0m3 0h0m22 0h0m3 0h0m15 0h0m1 0h0m1 0h0m15 0h0m1 0h0m1 0h0m4 0h0m1 0h0m4 0h0m9 0h0m3 0h0m-322 1h0m2 0h0m5 0h0m1 0h0m3 0h0m3 0h0m3 0h0m2 0h0m5 0h0m1 0h0m2 0h0m6 0h0m2 0h0m2 0h0m1 0h0m3 0h0m28 0h0m1 0h0m1 0h0m1 0h0m1 0h0m5 0h0m3 0h0m11 0h0m6 0h0m1 0h0m6 0h0m3 0h0m10 0h0m14 0h0m1 0h0m2 0h0m7 0h0m1 0h0m16 0h0m1 0h0m1 0h0m2 0h0m1 0h0m3 0h0m4 0h0m2 0h0m6 0h0m5 0h0m2 0h0m1 0h0m1 0h0m2 0h0m5 0h0m4 0h0m3 0h0m2 0h0m3 0h0m2 0h0m1 0h0m3 0h0m1 0h0m4 0h0m4 0h0m5 0h0m1 0h0m2 0h0m1 0h0m1 0h0m5 0h0m1 0h0m2 0h0m1 0h0m6 0h0m6 0h0m9 0h0m1 0h0m2 0h0m1 0h0m15 0h0m2 0h0m1 0h0m4 0h0m2 0h0m1 0h0m1 0h0m2 0h0m5 0h0m1 0h0m8 0h0m11 0h0m-324 1h0m1 0h0m3 0h0m5 0h0m11 0h0m4 0h0m2 0h0m1 0h0m8 0h0m3 0h0m2 0h0m3 0h0m38 0h0m2 0h0m2 0h0m1 0h0m3 0h0m8 0h0m7 0h0m12 0h0m7 0h0m12 0h0m4 0h0m1 0h0m3 0h0m6 0h0m2 0h0m1 0h0m4 0h0m8 0h0m1 0h0m1 0h0m1 0h0m6 0h0m6 0h0m1 0h0m3 0h0m1 0h0m1 0h0m2 0h0m1 0h0m4 0h0m3 0h0m1 0h0m1 0h0m3 0h0m3 0h0m2 0h0m3 0h0m2 0h0m9 0h0m5 0h0m4 0h0m5 0h0m8 0h0m2 0h0m8 0h0m7 0h0m4 0h0m4 0h0m4 0h0m2 0h0m4 0h0m2 0h0m6 0h0m10 0h0m2 0h0m7 0h0m1 0h0m1 0h0m1 0h0m3 0h0m3 0h0m1 0h0m10 0h0m-317 1h0m3 0h0m10 0h0m2 0h0m7 0h0m1 0h0m5 0h0m6 0h0m1 0h0m5 0h0m33 0h0m5 0h0m10 0h0m1 0h0m8 0h0m2 0h0m2 0h0m1 0h0m1 0h0m1 0h0m24 0h0m4 0h0m14 0h0m4 0h0m9 0h0m4 0h0m8 0h0m7 0h0m3 0h0m1 0h0m1 0h0m1 0h0m6 0h0m4 0h0m1 0h0m2 0h0m9 0h0m10 0h0m16 0h0m4 0h0m4 0h0m1 0h0m1 0h0m1 0h0m5 0h0m7 0h0m1 0h0m4 0h0m2 0h0m2 0h0m1 0h0m1 0h0m4 0h0m3 0h0m5 0h0m17 0h0m6 0h0m2 0h0m2 0h0m7 0h0m2 0h0m-318 1h0m1 0h0m2 0h0m1 0h0m1 0h0m1 0h0m2 0h0m2 0h0m1 0h0m1 0h0m1 0h0m2 0h0m1 0h0m1 0h0m1 0h0m2 0h0m1 0h0m2 0h0m2 0h0m1 0h0m3 0h0m1 0h0m1 0h0m2 0h0m1 0h0m2 0h0m1 0h0m1 0h0m1 0h0m3 0h0m1 0h0m2 0h0m1 0h0m33 0h0m2 0h0m1 0h0m2 0h0m2 0h0m2 0h0m3 0h0m1 0h0m3 0h0m1 0h0m4 0h0m3 0h0m1 0h0m1 0h0m3 0h0m2 0h0m1 0h0m1 0h0m3 0h0m1 0h0m1 0h0m1 0h0m5 0h0m1 0h0m2 0h0m2 0h0m4 0h0m1 0h0m1 0h0m1 0h0m1 0h0m1 0h0m1 0h0m1 0h0m2 0h0m2 0h0m1 0h0m3 0h0m3 0h0m1 0h0m1 0h0m1 0h0m3 0h0m2 0h0m1 0h0m3 0h0m2 0h0m1 0h0m1 0h0m1 0h0m1 0h0m2 0h0m1 0h0m1 0h0m1 0h0m1 0h0m1 0h0m1 0h0m1 0h0m2 0h0m1 0h0m1 0h0m1 0h0m1 0h0m2 0h0m2 0h0m2 0h0m2 0h0m1 0h0m1 0h0m3 0h0m1 0h0m1 0h0m1 0h0m1 0h0m1 0h0m2 0h0m2 0h0m2 0h0m1 0h0m1 0h0m1 0h0m1 0h0m3 0h0m1 0h0m1 0h0m2 0h0m1 0h0m1 0h0m1 0h0m1 0h0m1 0h0m1 0h0m1 0h0m1 0h0m1 0h0m2 0h0m2 0h0m1 0h0m2 0h0m1 0h0m2 0h0m1 0h0m1 0h0m1 0h0m1 0h0m1 0h0m1 0h0m1 0h0m1 0h0m1 0h0m1 0h0m1 0h0m1 0h0m1 0h0m2 0h0m2 0h0m2 0h0m1 0h0m2 0h0m1 0h0m2 0h0m2 0h0m3 0h0m2 0h0m2 0h0m3 0h0m1 0h0m8 0h0m2 0h0m2 0h0m2 0h0m3 0h0m1 0h0m1 0h0m2 0h0m1 0h0m1 0h0m1 0h0m1 0h0m2 0h0m6 0h0m1 0h0m1 0h0m2 0h0m2 0h0m1 0h0m2 0h0m1 0h0m2 0h0m2 0h0m2 0h0m-320 1h0m1 0h0m3 0h0m10 0h0m2 0h0m9 0h0m43 0h0m3 0h0m8 0h0m1 0h0m3 0h0m5 0h0m16 0h0m19 0h0m6 0h0m4 0h0m2 0h0m5 0h0m2 0h0m2 0h0m3 0h0m1 0h0m1 0h0m2 0h0m9 0h0m3 0h0m7 0h0m2 0h0m5 0h0m1 0h0m3 0h0m5 0h0m5 0h0m1 0h0m2 0h0m1 0h0m9 0h0m3 0h0m3 0h0m1 0h0m4 0h0m5 0h0m1 0h0m2 0h0m8 0h0m4 0h0m1 0h0m24 0h0m1 0h0m3 0h0m19 0h0m2 0h0m2 0h0m11 0h0m7 0h0m3 0h0m6 0h0m1 0h0m5 0h0m1 0h0m-320 1h0m7 0h0m5 0h0m8 0h0m1 0h0m3 0h0m2 0h0m7 0h0m37 0h0m17 0h0m5 0h0m8 0h0m3 0h0m9 0h0m9 0h0m6 0h0m4 0h0m1 0h0m14 0h0m1 0h0m1 0h0m1 0h0m4 0h0m4 0h0m1 0h0m8 0h0m2 0h0m3 0h0m1 0h0m2 0h0m4 0h0m1 0h0m2 0h0m1 0h0m2 0h0m1 0h0m2 0h0m2 0h0m1 0h0m1 0h0m1 0h0m5 0h0m8 0h0m3 0h0m1 0h0m6 0h0m5 0h0m2 0h0m2 0h0m5 0h0m29 0h0m1 0h0m1 0h0m2 0h0m1 0h0m3 0h0m9 0h0m21 0h0m1 0h0m2 0h0m1 0h0m2 0h0m1 0h0m3 0h0m8 0h0m-321 1h0m2 0h0m1 0h0m2 0h0m1 0h0m2 0h0m1 0h0m1 0h0m2 0h0m6 0h0m8 0h0m2 0h0m10 0h0m1 0h0m3 0h0m35 0h0m2 0h0m2 0h0m2 0h0m1 0h0m7 0h0m4 0h0m2 0h0m3 0h0m2 0h0m1 0h0m2 0h0m3 0h0m1 0h0m1 0h0m2 0h0m12 0h0m1 0h0m5 0h0m5 0h0m1 0h0m3 0h0m4 0h0m1 0h0m7 0h0m3 0h0m1 0h0m2 0h0m2 0h0m2 0h0m4 0h0m6 0h0m1 0h0m1 0h0m1 0h0m3 0h0m7 0h0m2 0h0m1 0h0m1 0h0m3 0h0m2 0h0m1 0h0m5 0h0m2 0h0m1 0h0m2 0h0m4 0h0m2 0h0m4 0h0m3 0h0m1 0h0m3 0h0m4 0h0m2 0h0m7 0h0m2 0h0m1 0h0m4 0h0m3 0h0m2 0h0m3 0h0m8 0h0m1 0h0m5 0h0m4 0h0m1 0h0m1 0h0m1 0h0m6 0h0m6 0h0m3 0h0m4 0h0m14 0h0m4 0h0m1 0h0m3 0h0m1 0h0m3 0h0m5 0h0m2 0h0m5 0h0m-327 1h0m2 0h0m3 0h0m1 0h0m3 0h0m9 0h0m1 0h0m1 0h0m8 0h0m3 0h0m16 0h0m36 0h0m2 0h0m13 0h0m5 0h0m21 0h0m1 0h0m2 0h0m1 0h0m6 0h0m2 0h0m3 0h0m9 0h0m4 0h0m3 0h0m10 0h0m8 0h0m4 0h0m1 0h0m1 0h0m1 0h0m3 0h0m4 0h0m5 0h0m4 0h0m1 0h0m1 0h0m2 0h0m2 0h0m2 0h0m1 0h0m1 0h0m5 0h0m2 0h0m5 0h0m6 0h0m3 0h0m5 0h0m5 0h0m6 0h0m2 0h0m22 0h0m11 0h0m14 0h0m5 0h0m4 0h0m1 0h0m2 0h0m1 0h0m4 0h0m2 0h0m2 0h0m5 0h0m5 0h0m-400 1h0m77 0h0m4 0h0m1 0h0m2 0h0m1 0h0m2 0h0m1 0h0m10 0h0m2 0h0m9 0h0m2 0h0m6 0h0m1 0h0m33 0h0m2 0h0m2 0h0m3 0h0m2 0h0m4 0h0m2 0h0m13 0h0m3 0h0m8 0h0m20 0h0m2 0h0m1 0h0m1 0h0m1 0h0m1 0h0m6 0h0m1 0h0m2 0h0m6 0h0m5 0h0m5 0h0m3 0h0m1 0h0m6 0h0m2 0h0m1 0h0m1 0h0m5 0h0m1 0h0m1 0h0m1 0h0m4 0h0m1 0h0m1 0h0m4 0h0m1 0h0m3 0h0m1 0h0m1 0h0m1 0h0m4 0h0m5 0h0m5 0h0m6 0h0m5 0h0m1 0h0m2 0h0m1 0h0m5 0h0m5 0h0m1 0h0m3 0h0m7 0h0m2 0h0m4 0h0m5 0h0m1 0h0m1 0h0m3 0h0m1 0h0m7 0h0m7 0h0m5 0h0m7 0h0m4 0h0m2 0h0m1 0h0m1 0h0m2 0h0m1 0h0m1 0h0m1 0h0m2 0h0m6 0h0m6 0h0m2 0h0m-319 1h0m14 0h0m6 0h0m1 0h0m9 0h0m11 0h0m27 0h0m1 0h0m6 0h0m8 0h0m4 0h0m1 0h0m1 0h0m2 0h0m9 0h0m14 0h0m7 0h0m8 0h0m3 0h0m5 0h0m1 0h0m3 0h0m4 0h0m3 0h0m2 0h0m3 0h0m5 0h0m1 0h0m2 0h0m2 0h0m1 0h0m2 0h0m5 0h0m1 0h0m1 0h0m4 0h0m2 0h0m3 0h0m9 0h0m1 0h0m2 0h0m7 0h0m3 0h0m6 0h0m2 0h0m1 0h0m2 0h0m1 0h0m4 0h0m7 0h0m9 0h0m1 0h0m1 0h0m2 0h0m2 0h0m1 0h0m5 0h0m2 0h0m3 0h0m2 0h0m2 0h0m7 0h0m5 0h0m1 0h0m2 0h0m7 0h0m8 0h0m3 0h0m3 0h0m2 0h0m2 0h0m4 0h0m2 0h0m6 0h0m4 0h0m2 0h0m3 0h0m-321 1h0m3 0h0m7 0h0m5 0h0m2 0h0m20 0h0m1 0h0m4 0h0m29 0h0m1 0h0m7 0h0m1 0h0m2 0h0m2 0h0m7 0h0m13 0h0m3 0h0m2 0h0m17 0h0m5 0h0m1 0h0m3 0h0m1 0h0m12 0h0m3 0h0m7 0h0m3 0h0m2 0h0m1 0h0m5 0h0m1 0h0m5 0h0m1 0h0m8 0h0m6 0h0m2 0h0m5 0h0m1 0h0m2 0h0m2 0h0m1 0h0m2 0h0m9 0h0m8 0h0m2 0h0m4 0h0m1 0h0m18 0h0m17 0h0m1 0h0m2 0h0m2 0h0m4 0h0m11 0h0m9 0h0m7 0h0m18 0h0m3 0h0m-323 1h0m2 0h0m5 0h0m1 0h0m1 0h0m3 0h0m5 0h0m1 0h0m1 0h0m19 0h0m38 0h0m4 0h0m3 0h0m2 0h0m3 0h0m2 0h0m1 0h0m3 0h0m2 0h0m1 0h0m6 0h0m1 0h0m3 0h0m2 0h0m4 0h0m2 0h0m1 0h0m13 0h0m5 0h0m1 0h0m1 0h0m1 0h0m2 0h0m4 0h0m1 0h0m1 0h0m2 0h0m4 0h0m2 0h0m1 0h0m2 0h0m4 0h0m4 0h0m1 0h0m1 0h0m2 0h0m2 0h0m2 0h0m2 0h0m1 0h0m1 0h0m1 0h0m1 0h0m4 0h0m1 0h0m4 0h0m1 0h0m3 0h0m4 0h0m1 0h0m1 0h0m3 0h0m2 0h0m3 0h0m11 0h0m1 0h0m7 0h0m1 0h0m3 0h0m1 0h0m2 0h0m2 0h0m7 0h0m1 0h0m4 0h0m2 0h0m1 0h0m8 0h0m2 0h0m2 0h0m1 0h0m2 0h0m1 0h0m2 0h0m5 0h0m1 0h0m3 0h0m4 0h0m3 0h0m1 0h0m4 0h0m8 0h0m2 0h0m2 0h0m4 0h0m2 0h0m2 0h0m3 0h0m1 0h0m3 0h0m1 0h0m2 0h0m2 0h0m3 0h0m2 0h0m-325 1h0m6 0h0m1 0h0m1 0h0m1 0h0m2 0h0m2 0h0m4 0h0m1 0h0m1 0h0m1 0h0m7 0h0m4 0h0m5 0h0m3 0h0m3 0h0m4 0h0m29 0h0m3 0h0m6 0h0m5 0h0m3 0h0m1 0h0m2 0h0m2 0h0m6 0h0m1 0h0m1 0h0m4 0h0m1 0h0m4 0h0m11 0h0m1 0h0m2 0h0m4 0h0m2 0h0m1 0h0m1 0h0m2 0h0m7 0h0m3 0h0m3 0h0m3 0h0m1 0h0m9 0h0m1 0h0m1 0h0m1 0h0m3 0h0m1 0h0m2 0h0m2 0h0m1 0h0m1 0h0m1 0h0m2 0h0m2 0h0m1 0h0m2 0h0m1 0h0m1 0h0m1 0h0m1 0h0m1 0h0m1 0h0m3 0h0m1 0h0m1 0h0m1 0h0m1 0h0m2 0h0m1 0h0m2 0h0m1 0h0m2 0h0m2 0h0m2 0h0m7 0h0m1 0h0m3 0h0m2 0h0m3 0h0m3 0h0m4 0h0m4 0h0m3 0h0m2 0h0m1 0h0m1 0h0m2 0h0m3 0h0m1 0h0m2 0h0m4 0h0m4 0h0m1 0h0m1 0h0m3 0h0m2 0h0m1 0h0m1 0h0m4 0h0m3 0h0m1 0h0m5 0h0m1 0h0m1 0h0m3 0h0m2 0h0m10 0h0m5 0h0m1 0h0m2 0h0m4 0h0m1 0h0m1 0h0m3 0h0m4 0h0m2 0h0m1 0h0m4 0h0m-322 1h0m36 0h0m33 0h0m4 0h0m16 0h0m50 0h0m1 0h0m8 0h0m21 0h0m4 0h0m39 0h0m8 0h0m16 0h0m9 0h0m20 0h0m18 0h0m5 0h0m12 0h0m4 0h0m-309 1h0m1 0h0m1 0h0m1 0h0m1 0h0m2 0h0m3 0h0m1 0h0m1 0h0m2 0h0m1 0h0m2 0h0m2 0h0m1 0h0m1 0h0m1 0h0m1 0h0m2 0h0m2 0h0m1 0h0m2 0h0m1 0h0m1 0h0m1 0h0m2 0h0m1 0h0m1 0h0m1 0h0m1 0h0m1 0h0m1 0h0m1 0h0m1 0h0m1 0h0m2 0h0m1 0h0m2 0h0m26 0h0m1 0h0m1 0h0m1 0h0m2 0h0m1 0h0m1 0h0m2 0h0m1 0h0m1 0h0m1 0h0m1 0h0m1 0h0m1 0h0m1 0h0m1 0h0m1 0h0m1 0h0m1 0h0m1 0h0m2 0h0m1 0h0m2 0h0m2 0h0m1 0h0m3 0h0m1 0h0m1 0h0m1 0h0m1 0h0m1 0h0m1 0h0m1 0h0m2 0h0m1 0h0m1 0h0m1 0h0m1 0h0m2 0h0m1 0h0m1 0h0m1 0h0m1 0h0m1 0h0m1 0h0m1 0h0m1 0h0m1 0h0m2 0h0m1 0h0m1 0h0m1 0h0m1 0h0m1 0h0m1 0h0m1 0h0m1 0h0m1 0h0m2 0h0m1 0h0m1 0h0m1 0h0m1 0h0m1 0h0m1 0h0m3 0h0m1 0h0m1 0h0m1 0h0m1 0h0m1 0h0m1 0h0m1 0h0m1 0h0m1 0h0m3 0h0m1 0h0m1 0h0m1 0h0m1 0h0m1 0h0m1 0h0m1 0h0m1 0h0m1 0h0m1 0h0m1 0h0m1 0h0m1 0h0m1 0h0m1 0h0m1 0h0m1 0h0m1 0h0m1 0h0m1 0h0m1 0h0m1 0h0m1 0h0m1 0h0m1 0h0m1 0h0m2 0h0m1 0h0m1 0h0m1 0h0m1 0h0m1 0h0m1 0h0m1 0h0m1 0h0m1 0h0m1 0h0m1 0h0m1 0h0m1 0h0m1 0h0m2 0h0m1 0h0m1 0h0m1 0h0m1 0h0m1 0h0m1 0h0m1 0h0m1 0h0m1 0h0m1 0h0m1 0h0m1 0h0m1 0h0m1 0h0m1 0h0m1 0h0m1 0h0m1 0h0m1 0h0m1 0h0m1 0h0m1 0h0m2 0h0m1 0h0m1 0h0m1 0h0m1 0h0m1 0h0m1 0h0m1 0h0m1 0h0m1 0h0m1 0h0m1 0h0m1 0h0m1 0h0m1 0h0m1 0h0m1 0h0m1 0h0m1 0h0m1 0h0m1 0h0m1 0h0m1 0h0m1 0h0m1 0h0m1 0h0m1 0h0m1 0h0m1 0h0m1 0h0m1 0h0m1 0h0m1 0h0m1 0h0m1 0h0m1 0h0m1 0h0m1 0h0m1 0h0m1 0h0m1 0h0m1 0h0m2 0h0m1 0h0m1 0h0m1 0h0m1 0h0m1 0h0m2 0h0m1 0h0m1 0h0m1 0h0m1 0h0m1 0h0m1 0h0m1 0h0m1 0h0m1 0h0m1 0h0m2 0h0m1 0h0m1 0h0m2 0h0m1 0h0m1 0h0m2 0h0m1 0h0m2 0h0m1 0h0m1 0h0m1 0h0m2 0h0m1 0h0m1 0h0m1 0h0m1 0h0m1 0h0m1 0h0m1 0h0m1 0h0m1 0h0m1 0h0m1 0h0m2 0h0m1 0h0m3 0h0m-326 1h0m1 0h0m4 0h0m4 0h0m3 0h0m20 0h0m3 0h0m46 0h0m11 0h0m32 0h0m14 0h0m14 0h0m7 0h0m38 0h0m8 0h0m16 0h0m10 0h0m13 0h0m65 0h0m-310 1h0m9 0h0m5 0h0m2 0h0m2 0h0m1 0h0m3 0h0m3 0h0m2 0h0m7 0h0m3 0h0m2 0h0m4 0h0m2 0h0m1 0h0m2 0h0m26 0h0m3 0h0m2 0h0m1 0h0m4 0h0m4 0h0m1 0h0m2 0h0m4 0h0m8 0h0m2 0h0m1 0h0m1 0h0m2 0h0m14 0h0m5 0h0m2 0h0m5 0h0m5 0h0m2 0h0m1 0h0m1 0h0m1 0h0m1 0h0m1 0h0m4 0h0m1 0h0m1 0h0m2 0h0m2 0h0m1 0h0m2 0h0m1 0h0m5 0h0m1 0h0m2 0h0m3 0h0m1 0h0m3 0h0m1 0h0m1 0h0m1 0h0m2 0h0m1 0h0m1 0h0m1 0h0m1 0h0m2 0h0m1 0h0m1 0h0m1 0h0m3 0h0m1 0h0m2 0h0m4 0h0m1 0h0m3 0h0m4 0h0m2 0h0m1 0h0m1 0h0m1 0h0m2 0h0m1 0h0m1 0h0m1 0h0m1 0h0m1 0h0m1 0h0m2 0h0m1 0h0m1 0h0m1 0h0m1 0h0m9 0h0m1 0h0m4 0h0m2 0h0m1 0h0m4 0h0m1 0h0m1 0h0m4 0h0m12 0h0m1 0h0m1 0h0m9 0h0m2 0h0m1 0h0m1 0h0m3 0h0m10 0h0m9 0h0m1 0h0m1 0h0m1 0h0m2 0h0m1 0h0m1 0h0m1 0h0m2 0h0m1 0h0m3 0h0m1 0h0m4 0h0m4 0h0m-321 1h0m3 0h0m2 0h0m3 0h0m5 0h0m1 0h0m6 0h0m5 0h0m9 0h0m2 0h0m4 0h0m29 0h0m2 0h0m1 0h0m4 0h0m1 0h0m1 0h0m4 0h0m1 0h0m1 0h0m3 0h0m2 0h0m2 0h0m6 0h0m3 0h0m4 0h0m1 0h0m11 0h0m4 0h0m1 0h0m4 0h0m5 0h0m4 0h0m2 0h0m2 0h0m1 0h0m2 0h0m2 0h0m3 0h0m4 0h0m5 0h0m1 0h0m4 0h0m1 0h0m1 0h0m3 0h0m2 0h0m2 0h0m2 0h0m1 0h0m1 0h0m1 0h0m2 0h0m3 0h0m2 0h0m1 0h0m2 0h0m1 0h0m2 0h0m1 0h0m2 0h0m1 0h0m1 0h0m3 0h0m5 0h0m4 0h0m1 0h0m4 0h0m2 0h0m2 0h0m2 0h0m2 0h0m1 0h0m1 0h0m2 0h0m1 0h0m1 0h0m2 0h0m1 0h0m3 0h0m2 0h0m5 0h0m1 0h0m4 0h0m2 0h0m2 0h0m1 0h0m3 0h0m5 0h0m2 0h0m5 0h0m1 0h0m1 0h0m2 0h0m2 0h0m11 0h0m5 0h0m1 0h0m4 0h0m1 0h0m2 0h0m5 0h0m1 0h0m3 0h0m1 0h0m3 0h0m1 0h0m3 0h0m4 0h0m4 0h0m-321 1h0m1 0h0m1 0h0m3 0h0m2 0h0m1 0h0m1 0h0m2 0h0m7 0h0m1 0h0m2 0h0m2 0h0m1 0h0m1 0h0m1 0h0m1 0h0m3 0h0m1 0h0m8 0h0m9 0h0m26 0h0m1 0h0m1 0h0m1 0h0m1 0h0m2 0h0m1 0h0m1 0h0m1 0h0m1 0h0m8 0h0m1 0h0m1 0h0m1 0h0m2 0h0m3 0h0m7 0h0m1 0h0m2 0h0m1 0h0m1 0h0m2 0h0m2 0h0m4 0h0m1 0h0m3 0h0m1 0h0m3 0h0m4 0h0m2 0h0m1 0h0m3 0h0m1 0h0m5 0h0m1 0h0m1 0h0m2 0h0m2 0h0m1 0h0m1 0h0m1 0h0m1 0h0m1 0h0m6 0h0m4 0h0m1 0h0m2 0h0m1 0h0m1 0h0m1 0h0m2 0h0m2 0h0m1 0h0m2 0h0m1 0h0m1 0h0m1 0h0m3 0h0m1 0h0m1 0h0m2 0h0m1 0h0m1 0h0m1 0h0m2 0h0m1 0h0m1 0h0m1 0h0m1 0h0m1 0h0m3 0h0m1 0h0m1 0h0m2 0h0m1 0h0m3 0h0m1 0h0m1 0h0m2 0h0m1 0h0m1 0h0m1 0h0m1 0h0m4 0h0m1 0h0m2 0h0m1 0h0m1 0h0m1 0h0m2 0h0m1 0h0m1 0h0m2 0h0m1 0h0m1 0h0m1 0h0m1 0h0m2 0h0m2 0h0m1 0h0m1 0h0m2 0h0m1 0h0m1 0h0m2 0h0m1 0h0m4 0h0m1 0h0m3 0h0m8 0h0m3 0h0m1 0h0m2 0h0m1 0h0m2 0h0m1 0h0m4 0h0m3 0h0m5 0h0m5 0h0m3 0h0m4 0h0m1 0h0m2 0h0m3 0h0m1 0h0m3 0h0m1 0h0m1 0h0m1 0h0m1 0h0m2 0h0m2 0h0m3 0h0m3 0h0m3 0h0m-325 1h0m3 0h0m3 0h0m1 0h0m2 0h0m7 0h0m1 0h0m1 0h0m3 0h0m3 0h0m4 0h0m1 0h0m10 0h0m36 0h0m4 0h0m1 0h0m11 0h0m3 0h0m3 0h0m10 0h0m3 0h0m16 0h0m7 0h0m1 0h0m5 0h0m2 0h0m1 0h0m1 0h0m2 0h0m4 0h0m4 0h0m1 0h0m8 0h0m1 0h0m1 0h0m2 0h0m1 0h0m3 0h0m2 0h0m1 0h0m2 0h0m1 0h0m2 0h0m3 0h0m3 0h0m1 0h0m3 0h0m6 0h0m1 0h0m3 0h0m1 0h0m2 0h0m1 0h0m2 0h0m1 0h0m2 0h0m1 0h0m3 0h0m1 0h0m1 0h0m2 0h0m1 0h0m1 0h0m2 0h0m1 0h0m4 0h0m2 0h0m3 0h0m2 0h0m3 0h0m3 0h0m4 0h0m1 0h0m2 0h0m8 0h0m12 0h0m1 0h0m1 0h0m1 0h0m1 0h0m3 0h0m5 0h0m7 0h0m3 0h0m5 0h0m3 0h0m6 0h0m4 0h0m2 0h0m1 0h0m1 0h0m1 0h0m2 0h0m4 0h0m1 0h0m5 0h0m3 0h0m1 0h0m-326 1h0m16 0h0m1 0h0m1 0h0m3 0h0m2 0h0m7 0h0m2 0h0m2 0h0m2 0h0m6 0h0m3 0h0m1 0h0m28 0h0m1 0h0m5 0h0m2 0h0m4 0h0m1 0h0m1 0h0m4 0h0m1 0h0m1 0h0m6 0h0m6 0h0m3 0h0m4 0h0m1 0h0m9 0h0m3 0h0m1 0h0m2 0h0m3 0h0m2 0h0m2 0h0m2 0h0m2 0h0m3 0h0m3 0h0m4 0h0m3 0h0m6 0h0m4 0h0m2 0h0m1 0h0m1 0h0m7 0h0m2 0h0m1 0h0m2 0h0m1 0h0m2 0h0m1 0h0m2 0h0m1 0h0m1 0h0m3 0h0m1 0h0m3 0h0m1 0h0m4 0h0m1 0h0m1 0h0m1 0h0m1 0h0m2 0h0m1 0h0m3 0h0m1 0h0m1 0h0m2 0h0m2 0h0m2 0h0m1 0h0m3 0h0m1 0h0m1 0h0m1 0h0m1 0h0m1 0h0m4 0h0m4 0h0m1 0h0m2 0h0m1 0h0m4 0h0m1 0h0m3 0h0m1 0h0m1 0h0m1 0h0m2 0h0m2 0h0m7 0h0m3 0h0m1 0h0m2 0h0m3 0h0m3 0h0m4 0h0m4 0h0m3 0h0m4 0h0m1 0h0m4 0h0m9 0h0m1 0h0m2 0h0m1 0h0m2 0h0m2 0h0m2 0h0m3 0h0m4 0h0m1 0h0m2 0h0m4 0h0m1 0h0m-325 1h0m1 0h0m2 0h0m3 0h0m2 0h0m2 0h0m7 0h0m2 0h0m1 0h0m5 0h0m2 0h0m1 0h0m1 0h0m1 0h0m3 0h0m6 0h0m1 0h0m32 0h0m1 0h0m3 0h0m2 0h0m1 0h0m1 0h0m1 0h0m1 0h0m1 0h0m8 0h0m1 0h0m3 0h0m2 0h0m5 0h0m3 0h0m3 0h0m10 0h0m8 0h0m3 0h0m2 0h0m5 0h0m6 0h0m1 0h0m1 0h0m2 0h0m3 0h0m1 0h0m2 0h0m1 0h0m9 0h0m1 0h0m1 0h0m1 0h0m1 0h0m3 0h0m1 0h0m3 0h0m1 0h0m2 0h0m4 0h0m1 0h0m1 0h0m2 0h0m1 0h0m4 0h0m1 0h0m1 0h0m3 0h0m1 0h0m4 0h0m1 0h0m1 0h0m3 0h0m2 0h0m2 0h0m1 0h0m1 0h0m7 0h0m1 0h0m2 0h0m2 0h0m2 0h0m6 0h0m1 0h0m8 0h0m1 0h0m1 0h0m2 0h0m1 0h0m1 0h0m1 0h0m1 0h0m2 0h0m1 0h0m1 0h0m2 0h0m10 0h0m1 0h0m1 0h0m1 0h0m10 0h0m1 0h0m7 0h0m3 0h0m5 0h0m2 0h0m5 0h0m3 0h0m1 0h0m1 0h0m4 0h0m3 0h0m4 0h0m1 0h0m1 0h0m2 0h0m2 0h0m1 0h0m3 0h0m-322 1h0m1 0h0m3 0h0m4 0h0m4 0h0m1 0h0m1 0h0m5 0h0m8 0h0m5 0h0m2 0h0m2 0h0m5 0h0m1 0h0m27 0h0m1 0h0m1 0h0m1 0h0m1 0h0m4 0h0m1 0h0m1 0h0m4 0h0m11 0h0m4 0h0m2 0h0m4 0h0m3 0h0m2 0h0m1 0h0m6 0h0m1 0h0m2 0h0m2 0h0m3 0h0m2 0h0m4 0h0m2 0h0m6 0h0m4 0h0m2 0h0m1 0h0m2 0h0m3 0h0m3 0h0m6 0h0m1 0h0m2 0h0m2 0h0m1 0h0m4 0h0m2 0h0m1 0h0m2 0h0m5 0h0m1 0h0m1 0h0m1 0h0m2 0h0m1 0h0m1 0h0m1 0h0m1 0h0m2 0h0m1 0h0m1 0h0m1 0h0m2 0h0m1 0h0m1 0h0m1 0h0m3 0h0m3 0h0m2 0h0m2 0h0m3 0h0m2 0h0m1 0h0m1 0h0m2 0h0m1 0h0m1 0h0m1 0h0m1 0h0m3 0h0m1 0h0m1 0h0m2 0h0m2 0h0m2 0h0m1 0h0m1 0h0m1 0h0m2 0h0m2 0h0m1 0h0m1 0h0m2 0h0m1 0h0m3 0h0m3 0h0m4 0h0m2 0h0m3 0h0m3 0h0m1 0h0m5 0h0m3 0h0m3 0h0m2 0h0m3 0h0m1 0h0m4 0h0m4 0h0m1 0h0m2 0h0m3 0h0m2 0h0m4 0h0m6 0h0m1 0h0m1 0h0m1 0h0m2 0h0m2 0h0m1 0h0m1 0h0m1 0h0m-321 1h0m1 0h0m1 0h0m2 0h0m2 0h0m2 0h0m3 0h0m2 0h0m5 0h0m7 0h0m14 0h0m3 0h0m6 0h0m27 0h0m3 0h0m2 0h0m3 0h0m1 0h0m9 0h0m1 0h0m9 0h0m2 0h0m1 0h0m3 0h0m3 0h0m12 0h0m2 0h0m3 0h0m1 0h0m1 0h0m1 0h0m1 0h0m2 0h0m1 0h0m1 0h0m2 0h0m1 0h0m5 0h0m10 0h0m2 0h0m8 0h0m1 0h0m2 0h0m1 0h0m7 0h0m7 0h0m1 0h0m1 0h0m1 0h0m1 0h0m1 0h0m1 0h0m1 0h0m1 0h0m1 0h0m2 0h0m3 0h0m3 0h0m1 0h0m2 0h0m1 0h0m1 0h0m3 0h0m3 0h0m1 0h0m2 0h0m2 0h0m2 0h0m1 0h0m3 0h0m1 0h0m2 0h0m3 0h0m7 0h0m6 0h0m2 0h0m1 0h0m5 0h0m1 0h0m2 0h0m6 0h0m1 0h0m1 0h0m2 0h0m2 0h0m1 0h0m1 0h0m1 0h0m4 0h0m1 0h0m3 0h0m2 0h0m4 0h0m1 0h0m1 0h0m10 0h0m6 0h0m2 0h0m1 0h0m2 0h0m1 0h0m2 0h0m2 0h0m8 0h0m6 0h0m3 0h0m-313 1h0m12 0h0m2 0h0m1 0h0m2 0h0m2 0h0m5 0h0m5 0h0m33 0h0m2 0h0m2 0h0m2 0h0m1 0h0m1 0h0m1 0h0m3 0h0m2 0h0m1 0h0m4 0h0m1 0h0m3 0h0m2 0h0m1 0h0m5 0h0m1 0h0m4 0h0m3 0h0m6 0h0m1 0h0m4 0h0m2 0h0m2 0h0m5 0h0m3 0h0m2 0h0m4 0h0m1 0h0m1 0h0m1 0h0m1 0h0m1 0h0m4 0h0m7 0h0m7 0h0m2 0h0m3 0h0m1 0h0m5 0h0m2 0h0m2 0h0m2 0h0m6 0h0m3 0h0m3 0h0m2 0h0m2 0h0m1 0h0m1 0h0m2 0h0m1 0h0m1 0h0m2 0h0m2 0h0m2 0h0m1 0h0m1 0h0m4 0h0m1 0h0m1 0h0m5 0h0m1 0h0m1 0h0m1 0h0m3 0h0m4 0h0m1 0h0m1 0h0m3 0h0m2 0h0m1 0h0m2 0h0m1 0h0m1 0h0m3 0h0m1 0h0m3 0h0m1 0h0m5 0h0m4 0h0m1 0h0m2 0h0m1 0h0m5 0h0m6 0h0m6 0h0m3 0h0m1 0h0m1 0h0m9 0h0m7 0h0m1 0h0m2 0h0m1 0h0m1 0h0m2 0h0m1 0h0m3 0h0m4 0h0m4 0h0m-321 1h0m4 0h0m2 0h0m5 0h0m4 0h0m4 0h0m1 0h0m3 0h0m5 0h0m5 0h0m5 0h0m33 0h0m7 0h0m2 0h0m2 0h0m6 0h0m2 0h0m14 0h0m2 0h0m13 0h0m3 0h0m9 0h0m4 0h0m9 0h0m1 0h0m5 0h0m6 0h0m2 0h0m3 0h0m2 0h0m1 0h0m1 0h0m2 0h0m2 0h0m2 0h0m3 0h0m1 0h0m1 0h0m1 0h0m2 0h0m1 0h0m1 0h0m5 0h0m2 0h0m7 0h0m5 0h0m1 0h0m1 0h0m6 0h0m2 0h0m2 0h0m1 0h0m2 0h0m1 0h0m3 0h0m2 0h0m1 0h0m1 0h0m3 0h0m2 0h0m1 0h0m3 0h0m1 0h0m4 0h0m2 0h0m4 0h0m5 0h0m5 0h0m2 0h0m3 0h0m6 0h0m2 0h0m1 0h0m3 0h0m5 0h0m1 0h0m6 0h0m1 0h0m6 0h0m4 0h0m1 0h0m1 0h0m4 0h0m3 0h0m1 0h0m4 0h0m3 0h0m6 0h0m1 0h0m2 0h0m1 0h0m2 0h0m2 0h0m-326 1h0m4 0h0m1 0h0m1 0h0m3 0h0m7 0h0m1 0h0m8 0h0m5 0h0m2 0h0m8 0h0m1 0h0m1 0h0m2 0h0m3 0h0m26 0h0m2 0h0m2 0h0m1 0h0m1 0h0m2 0h0m1 0h0m1 0h0m1 0h0m3 0h0m2 0h0m4 0h0m4 0h0m3 0h0m3 0h0m1 0h0m2 0h0m5 0h0m2 0h0m1 0h0m10 0h0m2 0h0m1 0h0m6 0h0m1 0h0m4 0h0m1 0h0m4 0h0m1 0h0m2 0h0m1 0h0m3 0h0m1 0h0m1 0h0m1 0h0m2 0h0m8 0h0m1 0h0m1 0h0m2 0h0m1 0h0m3 0h0m1 0h0m3 0h0m1 0h0m1 0h0m1 0h0m2 0h0m1 0h0m1 0h0m2 0h0m1 0h0m1 0h0m1 0h0m2 0h0m1 0h0m1 0h0m2 0h0m1 0h0m1 0h0m1 0h0m2 0h0m4 0h0m1 0h0m2 0h0m1 0h0m1 0h0m1 0h0m1 0h0m1 0h0m1 0h0m1 0h0m1 0h0m1 0h0m3 0h0m4 0h0m1 0h0m1 0h0m1 0h0m1 0h0m3 0h0m3 0h0m1 0h0m2 0h0m1 0h0m1 0h0m4 0h0m3 0h0m1 0h0m2 0h0m1 0h0m1 0h0m1 0h0m2 0h0m3 0h0m2 0h0m9 0h0m1 0h0m1 0h0m1 0h0m1 0h0m2 0h0m6 0h0m6 0h0m1 0h0m13 0h0m1 0h0m3 0h0m1 0h0m3 0h0m1 0h0m1 0h0m1 0h0m1 0h0m1 0h0m1 0h0m5 0h0m2 0h0m4 0h0m2 0h0m2 0h0m-326 1h0m1 0h0m1 0h0m2 0h0m1 0h0m1 0h0m1 0h0m1 0h0m1 0h0m1 0h0m2 0h0m1 0h0m4 0h0m2 0h0m1 0h0m1 0h0m2 0h0m1 0h0m1 0h0m1 0h0m1 0h0m1 0h0m1 0h0m1 0h0m1 0h0m1 0h0m1 0h0m1 0h0m2 0h0m1 0h0m1 0h0m1 0h0m1 0h0m1 0h0m3 0h0m1 0h0m2 0h0m27 0h0m2 0h0m1 0h0m1 0h0m1 0h0m1 0h0m1 0h0m1 0h0m3 0h0m1 0h0m1 0h0m1 0h0m1 0h0m1 0h0m2 0h0m1 0h0m2 0h0m1 0h0m1 0h0m1 0h0m1 0h0m3 0h0m1 0h0m2 0h0m1 0h0m1 0h0m3 0h0m1 0h0m2 0h0m5 0h0m1 0h0m1 0h0m1 0h0m2 0h0m1 0h0m1 0h0m2 0h0m2 0h0m1 0h0m3 0h0m1 0h0m1 0h0m1 0h0m2 0h0m1 0h0m1 0h0m2 0h0m1 0h0m1 0h0m3 0h0m1 0h0m1 0h0m1 0h0m1 0h0m1 0h0m1 0h0m1 0h0m2 0h0m1 0h0m1 0h0m1 0h0m1 0h0m3 0h0m1 0h0m1 0h0m1 0h0m1 0h0m1 0h0m1 0h0m1 0h0m1 0h0m1 0h0m1 0h0m1 0h0m2 0h0m1 0h0m1 0h0m1 0h0m1 0h0m1 0h0m1 0h0m1 0h0m1 0h0m1 0h0m1 0h0m1 0h0m1 0h0m2 0h0m1 0h0m1 0h0m1 0h0m1 0h0m1 0h0m1 0h0m1 0h0m1 0h0m1 0h0m1 0h0m1 0h0m1 0h0m1 0h0m1 0h0m1 0h0m1 0h0m1 0h0m1 0h0m1 0h0m1 0h0m1 0h0m1 0h0m1 0h0m1 0h0m1 0h0m1 0h0m1 0h0m1 0h0m1 0h0m1 0h0m1 0h0m1 0h0m1 0h0m1 0h0m1 0h0m1 0h0m1 0h0m1 0h0m1 0h0m1 0h0m1 0h0m1 0h0m1 0h0m1 0h0m1 0h0m1 0h0m1 0h0m1 0h0m1 0h0m1 0h0m1 0h0m1 0h0m1 0h0m1 0h0m1 0h0m1 0h0m1 0h0m1 0h0m1 0h0m1 0h0m1 0h0m1 0h0m1 0h0m1 0h0m2 0h0m1 0h0m1 0h0m1 0h0m1 0h0m1 0h0m1 0h0m2 0h0m1 0h0m1 0h0m1 0h0m2 0h0m1 0h0m1 0h0m1 0h0m6 0h0m2 0h0m2 0h0m1 0h0m1 0h0m1 0h0m1 0h0m2 0h0m1 0h0m1 0h0m1 0h0m1 0h0m1 0h0m2 0h0m5 0h0m2 0h0m1 0h0m1 0h0m2 0h0m1 0h0m1 0h0m2 0h0m1 0h0m1 0h0m1 0h0m2 0h0m3 0h0m1 0h0m1 0h0m1 0h0m1 0h0m1 0h0m3 0h0m-325 1h0m1 0h0m2 0h0m1 0h0m2 0h0m2 0h0m1 0h0m1 0h0m2 0h0m1 0h0m1 0h0m2 0h0m12 0h0m2 0h0m4 0h0m1 0h0m2 0h0m6 0h0m31 0h0m3 0h0m1 0h0m1 0h0m1 0h0m2 0h0m1 0h0m1 0h0m3 0h0m5 0h0m2 0h0m4 0h0m2 0h0m1 0h0m1 0h0m5 0h0m1 0h0m2 0h0m2 0h0m2 0h0m1 0h0m8 0h0m5 0h0m3 0h0m2 0h0m1 0h0m3 0h0m5 0h0m5 0h0m5 0h0m1 0h0m1 0h0m1 0h0m2 0h0m1 0h0m4 0h0m1 0h0m1 0h0m1 0h0m1 0h0m1 0h0m1 0h0m4 0h0m2 0h0m2 0h0m2 0h0m1 0h0m1 0h0m1 0h0m1 0h0m2 0h0m2 0h0m1 0h0m2 0h0m1 0h0m1 0h0m2 0h0m1 0h0m1 0h0m1 0h0m2 0h0m1 0h0m1 0h0m2 0h0m1 0h0m1 0h0m3 0h0m1 0h0m1 0h0m3 0h0m1 0h0m1 0h0m1 0h0m1 0h0m1 0h0m2 0h0m1 0h0m4 0h0m2 0h0m1 0h0m1 0h0m3 0h0m2 0h0m5 0h0m2 0h0m1 0h0m1 0h0m4 0h0m1 0h0m1 0h0m2 0h0m2 0h0m2 0h0m4 0h0m1 0h0m5 0h0m1 0h0m3 0h0m1 0h0m1 0h0m9 0h0m6 0h0m2 0h0m4 0h0m2 0h0m9 0h0m1 0h0m1 0h0m2 0h0m5 0h0m5 0h0m1 0h0m4 0h0m4 0h0m-326 1h0m1 0h0m8 0h0m13 0h0m4 0h0m2 0h0m19 0h0m26 0h0m1 0h0m5 0h0m1 0h0m4 0h0m1 0h0m8 0h0m2 0h0m1 0h0m13 0h0m14 0h0m11 0h0m1 0h0m3 0h0m2 0h0m2 0h0m1 0h0m2 0h0m9 0h0m4 0h0m1 0h0m5 0h0m3 0h0m4 0h0m2 0h0m1 0h0m1 0h0m6 0h0m3 0h0m1 0h0m1 0h0m2 0h0m3 0h0m3 0h0m2 0h0m3 0h0m2 0h0m1 0h0m1 0h0m3 0h0m1 0h0m1 0h0m2 0h0m3 0h0m1 0h0m4 0h0m2 0h0m1 0h0m5 0h0m1 0h0m1 0h0m4 0h0m9 0h0m3 0h0m3 0h0m2 0h0m5 0h0m3 0h0m3 0h0m1 0h0m2 0h0m2 0h0m4 0h0m1 0h0m2 0h0m4 0h0m11 0h0m6 0h0m11 0h0m1 0h0m2 0h0m2 0h0m1 0h0m8 0h0m2 0h0m2 0h0m4 0h0m-327 1h0m1 0h0m6 0h0m1 0h0m1 0h0m1 0h0m3 0h0m1 0h0m3 0h0m3 0h0m2 0h0m2 0h0m3 0h0m4 0h0m1 0h0m2 0h0m1 0h0m6 0h0m6 0h0m27 0h0m1 0h0m4 0h0m3 0h0m2 0h0m1 0h0m1 0h0m3 0h0m3 0h0m2 0h0m1 0h0m9 0h0m1 0h0m2 0h0m1 0h0m1 0h0m1 0h0m5 0h0m4 0h0m8 0h0m1 0h0m1 0h0m6 0h0m2 0h0m1 0h0m1 0h0m1 0h0m5 0h0m1 0h0m1 0h0m1 0h0m2 0h0m1 0h0m4 0h0m5 0h0m4 0h0m1 0h0m2 0h0m1 0h0m1 0h0m2 0h0m1 0h0m1 0h0m1 0h0m2 0h0m1 0h0m2 0h0m1 0h0m2 0h0m2 0h0m1 0h0m1 0h0m2 0h0m1 0h0m1 0h0m2 0h0m2 0h0m1 0h0m2 0h0m1 0h0m1 0h0m1 0h0m1 0h0m1 0h0m1 0h0m1 0h0m1 0h0m2 0h0m1 0h0m1 0h0m1 0h0m3 0h0m2 0h0m1 0h0m1 0h0m1 0h0m2 0h0m2 0h0m1 0h0m1 0h0m1 0h0m2 0h0m2 0h0m1 0h0m1 0h0m1 0h0m3 0h0m1 0h0m1 0h0m2 0h0m3 0h0m1 0h0m2 0h0m3 0h0m1 0h0m1 0h0m5 0h0m1 0h0m2 0h0m2 0h0m4 0h0m1 0h0m1 0h0m1 0h0m3 0h0m2 0h0m1 0h0m4 0h0m5 0h0m1 0h0m1 0h0m3 0h0m1 0h0m1 0h0m1 0h0m1 0h0m2 0h0m2 0h0m1 0h0m2 0h0m4 0h0m1 0h0m1 0h0m1 0h0m2 0h0m3 0h0m2 0h0m1 0h0m8 0h0m1 0h0m3 0h0m1 0h0m1 0h0m-324 1h0m2 0h0m3 0h0m1 0h0m3 0h0m3 0h0m3 0h0m1 0h0m1 0h0m3 0h0m7 0h0m7 0h0m3 0h0m2 0h0m3 0h0m29 0h0m1 0h0m6 0h0m2 0h0m1 0h0m2 0h0m3 0h0m4 0h0m1 0h0m3 0h0m9 0h0m2 0h0m2 0h0m3 0h0m1 0h0m2 0h0m2 0h0m2 0h0m8 0h0m2 0h0m1 0h0m6 0h0m2 0h0m1 0h0m1 0h0m4 0h0m2 0h0m2 0h0m5 0h0m10 0h0m1 0h0m1 0h0m1 0h0m2 0h0m1 0h0m1 0h0m3 0h0m1 0h0m1 0h0m1 0h0m2 0h0m1 0h0m5 0h0m1 0h0m5 0h0m1 0h0m1 0h0m2 0h0m1 0h0m1 0h0m1 0h0m2 0h0m3 0h0m2 0h0m5 0h0m1 0h0m1 0h0m1 0h0m2 0h0m1 0h0m1 0h0m1 0h0m1 0h0m2 0h0m1 0h0m2 0h0m3 0h0m2 0h0m4 0h0m1 0h0m2 0h0m1 0h0m1 0h0m3 0h0m1 0h0m1 0h0m1 0h0m1 0h0m1 0h0m1 0h0m2 0h0m1 0h0m1 0h0m5 0h0m6 0h0m4 0h0m1 0h0m1 0h0m2 0h0m1 0h0m6 0h0m1 0h0m3 0h0m2 0h0m1 0h0m3 0h0m1 0h0m1 0h0m3 0h0m7 0h0m3 0h0m1 0h0m1 0h0m2 0h0m3 0h0m3 0h0m2 0h0m4 0h0m3 0h0m4 0h0m1 0h0m1 0h0m-325 1h0m2 0h0m7 0h0m1 0h0m7 0h0m6 0h0m4 0h0m1 0h0m14 0h0m33 0h0m1 0h0m1 0h0m1 0h0m1 0h0m1 0h0m2 0h0m10 0h0m3 0h0m1 0h0m12 0h0m2 0h0m4 0h0m11 0h0m11 0h0m1 0h0m1 0h0m3 0h0m1 0h0m2 0h0m2 0h0m1 0h0m1 0h0m2 0h0m1 0h0m1 0h0m1 0h0m2 0h0m1 0h0m6 0h0m1 0h0m1 0h0m1 0h0m1 0h0m2 0h0m6 0h0m1 0h0m1 0h0m1 0h0m3 0h0m1 0h0m1 0h0m2 0h0m1 0h0m2 0h0m1 0h0m1 0h0m1 0h0m3 0h0m2 0h0m4 0h0m2 0h0m1 0h0m1 0h0m4 0h0m2 0h0m3 0h0m1 0h0m3 0h0m3 0h0m2 0h0m3 0h0m4 0h0m1 0h0m3 0h0m1 0h0m12 0h0m1 0h0m1 0h0m1 0h0m2 0h0m2 0h0m7 0h0m4 0h0m1 0h0m4 0h0m2 0h0m1 0h0m2 0h0m16 0h0m5 0h0m2 0h0m9 0h0m3 0h0m1 0h0m1 0h0m1 0h0m5 0h0m2 0h0m1 0h0m3 0h0m3 0h0m-325 1h0m2 0h0m1 0h0m14 0h0m3 0h0m6 0h0m5 0h0m8 0h0m3 0h0m30 0h0m3 0h0m1 0h0m5 0h0m5 0h0m3 0h0m2 0h0m1 0h0m3 0h0m7 0h0m2 0h0m2 0h0m6 0h0m12 0h0m1 0h0m7 0h0m4 0h0m1 0h0m1 0h0m1 0h0m4 0h0m2 0h0m3 0h0m3 0h0m1 0h0m2 0h0m4 0h0m4 0h0m2 0h0m1 0h0m4 0h0m1 0h0m1 0h0m3 0h0m1 0h0m1 0h0m1 0h0m1 0h0m1 0h0m2 0h0m1 0h0m1 0h0m1 0h0m1 0h0m4 0h0m3 0h0m1 0h0m1 0h0m1 0h0m4 0h0m1 0h0m2 0h0m1 0h0m4 0h0m1 0h0m2 0h0m1 0h0m2 0h0m1 0h0m1 0h0m1 0h0m2 0h0m2 0h0m2 0h0m1 0h0m1 0h0m3 0h0m2 0h0m2 0h0m2 0h0m1 0h0m5 0h0m2 0h0m4 0h0m2 0h0m10 0h0m3 0h0m4 0h0m1 0h0m1 0h0m1 0h0m1 0h0m7 0h0m3 0h0m1 0h0m1 0h0m1 0h0m3 0h0m1 0h0m9 0h0m6 0h0m1 0h0m4 0h0m1 0h0m2 0h0m3 0h0m2 0h0m2 0h0m2 0h0m4 0h0m4 0h0m-327 1h0m1 0h0m1 0h0m1 0h0m2 0h0m2 0h0m1 0h0m1 0h0m1 0h0m2 0h0m1 0h0m1 0h0m1 0h0m3 0h0m1 0h0m2 0h0m2 0h0m2 0h0m1 0h0m2 0h0m1 0h0m2 0h0m1 0h0m1 0h0m1 0h0m2 0h0m1 0h0m1 0h0m1 0h0m1 0h0m1 0h0m1 0h0m2 0h0m3 0h0m28 0h0m1 0h0m3 0h0m1 0h0m2 0h0m1 0h0m2 0h0m1 0h0m2 0h0m2 0h0m1 0h0m1 0h0m1 0h0m2 0h0m1 0h0m1 0h0m1 0h0m5 0h0m5 0h0m1 0h0m2 0h0m2 0h0m1 0h0m1 0h0m4 0h0m1 0h0m2 0h0m1 0h0m1 0h0m1 0h0m1 0h0m2 0h0m2 0h0m1 0h0m1 0h0m1 0h0m1 0h0m1 0h0m1 0h0m1 0h0m3 0h0m1 0h0m1 0h0m4 0h0m2 0h0m2 0h0m1 0h0m1 0h0m1 0h0m1 0h0m7 0h0m3 0h0m2 0h0m1 0h0m1 0h0m1 0h0m1 0h0m2 0h0m1 0h0m2 0h0m1 0h0m3 0h0m1 0h0m2 0h0m2 0h0m2 0h0m1 0h0m1 0h0m1 0h0m1 0h0m1 0h0m1 0h0m1 0h0m1 0h0m1 0h0m1 0h0m1 0h0m3 0h0m2 0h0m1 0h0m1 0h0m1 0h0m1 0h0m1 0h0m1 0h0m1 0h0m1 0h0m1 0h0m1 0h0m1 0h0m1 0h0m1 0h0m1 0h0m1 0h0m1 0h0m1 0h0m1 0h0m1 0h0m2 0h0m2 0h0m1 0h0m1 0h0m1 0h0m1 0h0m2 0h0m1 0h0m1 0h0m1 0h0m1 0h0m1 0h0m2 0h0m1 0h0m1 0h0m1 0h0m2 0h0m1 0h0m1 0h0m1 0h0m1 0h0m1 0h0m1 0h0m1 0h0m1 0h0m1 0h0m3 0h0m1 0h0m1 0h0m2 0h0m2 0h0m2 0h0m1 0h0m2 0h0m1 0h0m1 0h0m1 0h0m1 0h0m2 0h0m4 0h0m1 0h0m1 0h0m1 0h0m1 0h0m1 0h0m2 0h0m2 0h0m4 0h0m1 0h0m3 0h0m1 0h0m5 0h0m3 0h0m3 0h0m1 0h0m1 0h0m5 0h0m1 0h0m3 0h0m1 0h0m4 0h0m1 0h0m2 0h0m1 0h0m2 0h0m-326 1h0m1 0h0m2 0h0m9 0h0m5 0h0m12 0h0m1 0h0m6 0h0m3 0h0m1 0h0m5 0h0m29 0h0m1 0h0m1 0h0m7 0h0m9 0h0m1 0h0m1 0h0m3 0h0m8 0h0m1 0h0m3 0h0m9 0h0m6 0h0m10 0h0m2 0h0m1 0h0m4 0h0m2 0h0m2 0h0m3 0h0m4 0h0m1 0h0m4 0h0m1 0h0m5 0h0m1 0h0m2 0h0m1 0h0m1 0h0m2 0h0m1 0h0m1 0h0m1 0h0m2 0h0m3 0h0m1 0h0m4 0h0m4 0h0m2 0h0m3 0h0m1 0h0m2 0h0m1 0h0m1 0h0m2 0h0m3 0h0m2 0h0m2 0h0m1 0h0m1 0h0m1 0h0m1 0h0m2 0h0m1 0h0m1 0h0m1 0h0m1 0h0m1 0h0m4 0h0m2 0h0m1 0h0m1 0h0m1 0h0m3 0h0m3 0h0m1 0h0m1 0h0m1 0h0m1 0h0m7 0h0m4 0h0m2 0h0m2 0h0m2 0h0m1 0h0m7 0h0m2 0h0m1 0h0m1 0h0m1 0h0m1 0h0m2 0h0m3 0h0m5 0h0m8 0h0m4 0h0m1 0h0m5 0h0m2 0h0m6 0h0m1 0h0m1 0h0m1 0h0m1 0h0m2 0h0m2 0h0m1 0h0m2 0h0m3 0h0m2 0h0m2 0h0m3 0h0m-324 1h0m2 0h0m3 0h0m1 0h0m6 0h0m5 0h0m1 0h0m1 0h0m1 0h0m3 0h0m3 0h0m4 0h0m1 0h0m4 0h0m3 0h0m2 0h0m1 0h0m1 0h0m1 0h0m31 0h0m2 0h0m2 0h0m1 0h0m1 0h0m1 0h0m1 0h0m1 0h0m1 0h0m1 0h0m2 0h0m3 0h0m2 0h0m1 0h0m3 0h0m9 0h0m1 0h0m1 0h0m3 0h0m1 0h0m1 0h0m1 0h0m2 0h0m7 0h0m1 0h0m1 0h0m2 0h0m6 0h0m1 0h0m1 0h0m2 0h0m1 0h0m1 0h0m3 0h0m1 0h0m1 0h0m1 0h0m5 0h0m3 0h0m1 0h0m1 0h0m1 0h0m8 0h0m1 0h0m1 0h0m1 0h0m1 0h0m1 0h0m1 0h0m3 0h0m3 0h0m2 0h0m1 0h0m11 0h0m3 0h0m2 0h0m1 0h0m4 0h0m1 0h0m1 0h0m1 0h0m1 0h0m2 0h0m1 0h0m1 0h0m1 0h0m2 0h0m1 0h0m1 0h0m1 0h0m1 0h0m1 0h0m1 0h0m2 0h0m2 0h0m1 0h0m1 0h0m1 0h0m1 0h0m1 0h0m1 0h0m1 0h0m2 0h0m1 0h0m2 0h0m4 0h0m4 0h0m5 0h0m2 0h0m1 0h0m1 0h0m1 0h0m3 0h0m2 0h0m1 0h0m1 0h0m2 0h0m4 0h0m1 0h0m1 0h0m1 0h0m1 0h0m1 0h0m1 0h0m1 0h0m10 0h0m1 0h0m1 0h0m3 0h0m2 0h0m2 0h0m9 0h0m4 0h0m1 0h0m2 0h0m1 0h0m1 0h0m1 0h0m2 0h0m1 0h0m1 0h0m1 0h0m1 0h0m4 0h0m3 0h0m-320 1h0m3 0h0m1 0h0m1 0h0m1 0h0m1 0h0m2 0h0m3 0h0m1 0h0m2 0h0m1 0h0m3 0h0m6 0h0m4 0h0m2 0h0m3 0h0m5 0h0m36 0h0m1 0h0m1 0h0m4 0h0m1 0h0m5 0h0m1 0h0m11 0h0m7 0h0m5 0h0m13 0h0m1 0h0m7 0h0m2 0h0m2 0h0m3 0h0m2 0h0m4 0h0m2 0h0m2 0h0m1 0h0m1 0h0m2 0h0m5 0h0m4 0h0m2 0h0m1 0h0m1 0h0m2 0h0m1 0h0m1 0h0m2 0h0m2 0h0m1 0h0m1 0h0m1 0h0m2 0h0m1 0h0m2 0h0m3 0h0m2 0h0m2 0h0m1 0h0m1 0h0m1 0h0m2 0h0m2 0h0m3 0h0m1 0h0m2 0h0m2 0h0m3 0h0m1 0h0m1 0h0m3 0h0m2 0h0m2 0h0m5 0h0m1 0h0m1 0h0m1 0h0m2 0h0m3 0h0m2 0h0m1 0h0m8 0h0m1 0h0m1 0h0m1 0h0m1 0h0m2 0h0m1 0h0m1 0h0m1 0h0m1 0h0m2 0h0m2 0h0m2 0h0m3 0h0m3 0h0m2 0h0m1 0h0m3 0h0m1 0h0m1 0h0m1 0h0m2 0h0m2 0h0m2 0h0m2 0h0m12 0h0m3 0h0m2 0h0m10 0h0m1 0h0m2 0h0m1 0h0m1 0h0m1 0h0m1 0h0m1 0h0m1 0h0m1 0h0m3 0h0m3 0h0m1 0h0m1 0h0m1 0h0m-326 1h0m2 0h0m1 0h0m2 0h0m8 0h0m4 0h0m1 0h0m11 0h0m4 0h0m2 0h0m5 0h0m1 0h0m1 0h0m4 0h0m27 0h0m1 0h0m1 0h0m2 0h0m2 0h0m4 0h0m4 0h0m1 0h0m6 0h0m4 0h0m7 0h0m1 0h0m2 0h0m1 0h0m4 0h0m1 0h0m6 0h0m7 0h0m1 0h0m4 0h0m2 0h0m2 0h0m7 0h0m2 0h0m2 0h0m2 0h0m2 0h0m2 0h0m2 0h0m1 0h0m8 0h0m4 0h0m3 0h0m1 0h0m2 0h0m1 0h0m1 0h0m2 0h0m1 0h0m3 0h0m1 0h0m1 0h0m2 0h0m5 0h0m6 0h0m2 0h0m1 0h0m2 0h0m1 0h0m4 0h0m1 0h0m1 0h0m3 0h0m4 0h0m1 0h0m2 0h0m2 0h0m2 0h0m1 0h0m11 0h0m6 0h0m1 0h0m1 0h0m1 0h0m1 0h0m1 0h0m1 0h0m1 0h0m1 0h0m2 0h0m3 0h0m5 0h0m3 0h0m1 0h0m3 0h0m1 0h0m3 0h0m8 0h0m2 0h0m6 0h0m1 0h0m9 0h0m3 0h0m1 0h0m2 0h0m1 0h0m2 0h0m1 0h0m1 0h0m1 0h0m1 0h0m3 0h0m1 0h0m7 0h0m2 0h0m1 0h0m2 0h0m1 0h0m-326 1h0m2 0h0m2 0h0m1 0h0m1 0h0m7 0h0m1 0h0m2 0h0m2 0h0m1 0h0m5 0h0m1 0h0m1 0h0m4 0h0m1 0h0m5 0h0m2 0h0m7 0h0m2 0h0m27 0h0m2 0h0m2 0h0m1 0h0m1 0h0m1 0h0m1 0h0m1 0h0m2 0h0m2 0h0m2 0h0m3 0h0m1 0h0m1 0h0m2 0h0m1 0h0m5 0h0m1 0h0m1 0h0m1 0h0m1 0h0m4 0h0m3 0h0m1 0h0m12 0h0m8 0h0m1 0h0m2 0h0m2 0h0m4 0h0m1 0h0m2 0h0m1 0h0m1 0h0m1 0h0m2 0h0m1 0h0m1 0h0m1 0h0m4 0h0m1 0h0m1 0h0m3 0h0m1 0h0m1 0h0m2 0h0m1 0h0m2 0h0m1 0h0m3 0h0m2 0h0m1 0h0m1 0h0m2 0h0m1 0h0m1 0h0m2 0h0m1 0h0m2 0h0m3 0h0m3 0h0m1 0h0m1 0h0m2 0h0m2 0h0m1 0h0m1 0h0m1 0h0m1 0h0m3 0h0m1 0h0m1 0h0m1 0h0m1 0h0m1 0h0m2 0h0m2 0h0m6 0h0m2 0h0m1 0h0m3 0h0m2 0h0m3 0h0m1 0h0m1 0h0m3 0h0m1 0h0m3 0h0m1 0h0m2 0h0m1 0h0m1 0h0m1 0h0m1 0h0m1 0h0m1 0h0m3 0h0m1 0h0m3 0h0m6 0h0m1 0h0m1 0h0m3 0h0m3 0h0m5 0h0m5 0h0m2 0h0m4 0h0m1 0h0m4 0h0m3 0h0m1 0h0m5 0h0m1 0h0m1 0h0m1 0h0m2 0h0m1 0h0m5 0h0m2 0h0m4 0h0m2 0h0m4 0h0m2 0h0m-327 1h0m4 0h0m1 0h0m4 0h0m1 0h0m1 0h0m1 0h0m2 0h0m1 0h0m2 0h0m1 0h0m1 0h0m3 0h0m11 0h0m2 0h0m1 0h0m2 0h0m2 0h0m1 0h0m4 0h0m31 0h0m3 0h0m2 0h0m1 0h0m1 0h0m1 0h0m1 0h0m2 0h0m1 0h0m1 0h0m1 0h0m1 0h0m3 0h0m1 0h0m2 0h0m3 0h0m2 0h0m3 0h0m1 0h0m1 0h0m1 0h0m5 0h0m2 0h0m1 0h0m3 0h0m6 0h0m4 0h0m1 0h0m1 0h0m2 0h0m1 0h0m4 0h0m1 0h0m1 0h0m1 0h0m4 0h0m2 0h0m3 0h0m1 0h0m4 0h0m1 0h0m5 0h0m3 0h0m2 0h0m2 0h0m4 0h0m2 0h0m2 0h0m2 0h0m1 0h0m1 0h0m1 0h0m2 0h0m2 0h0m2 0h0m4 0h0m1 0h0m1 0h0m1 0h0m1 0h0m3 0h0m2 0h0m1 0h0m1 0h0m1 0h0m3 0h0m3 0h0m1 0h0m1 0h0m1 0h0m1 0h0m2 0h0m1 0h0m1 0h0m4 0h0m2 0h0m1 0h0m5 0h0m1 0h0m1 0h0m1 0h0m2 0h0m5 0h0m2 0h0m2 0h0m1 0h0m3 0h0m1 0h0m1 0h0m5 0h0m1 0h0m3 0h0m4 0h0m2 0h0m1 0h0m1 0h0m1 0h0m1 0h0m1 0h0m1 0h0m1 0h0m2 0h0m4 0h0m5 0h0m5 0h0m1 0h0m2 0h0m3 0h0m1 0h0m1 0h0m6 0h0m1 0h0m1 0h0m1 0h0m1 0h0m1 0h0m1 0h0m3 0h0m2 0h0m1 0h0m3 0h0m2 0h0m3 0h0m1 0h0m1 0h0m1 0h0m1 0h0m2 0h0m-317 1h0m1 0h0m1 0h0m7 0h0m1 0h0m1 0h0m6 0h0m4 0h0m8 0h0m2 0h0m3 0h0m1 0h0m31 0h0m4 0h0m3 0h0m6 0h0m2 0h0m3 0h0m3 0h0m1 0h0m4 0h0m3 0h0m1 0h0m1 0h0m1 0h0m2 0h0m1 0h0m14 0h0m5 0h0m4 0h0m3 0h0m1 0h0m1 0h0m1 0h0m3 0h0m5 0h0m2 0h0m1 0h0m1 0h0m1 0h0m1 0h0m5 0h0m1 0h0m1 0h0m3 0h0m1 0h0m1 0h0m3 0h0m1 0h0m2 0h0m1 0h0m1 0h0m2 0h0m1 0h0m1 0h0m1 0h0m1 0h0m3 0h0m1 0h0m1 0h0m1 0h0m1 0h0m1 0h0m1 0h0m1 0h0m1 0h0m3 0h0m1 0h0m3 0h0m2 0h0m1 0h0m1 0h0m1 0h0m1 0h0m1 0h0m1 0h0m3 0h0m4 0h0m2 0h0m1 0h0m3 0h0m2 0h0m2 0h0m1 0h0m1 0h0m1 0h0m1 0h0m1 0h0m1 0h0m2 0h0m1 0h0m2 0h0m2 0h0m1 0h0m1 0h0m3 0h0m2 0h0m3 0h0m2 0h0m1 0h0m1 0h0m2 0h0m1 0h0m4 0h0m5 0h0m2 0h0m1 0h0m1 0h0m1 0h0m1 0h0m3 0h0m4 0h0m1 0h0m1 0h0m5 0h0m2 0h0m2 0h0m1 0h0m1 0h0m1 0h0m4 0h0m1 0h0m8 0h0m1 0h0m2 0h0m1 0h0m1 0h0m1 0h0m1 0h0m1 0h0m2 0h0m1 0h0m1 0h0m1 0h0m6 0h0m1 0h0m1 0h0m1 0h0m3 0h0m-324 1h0m1 0h0m2 0h0m4 0h0m1 0h0m4 0h0m2 0h0m2 0h0m1 0h0m2 0h0m1 0h0m3 0h0m1 0h0m7 0h0m1 0h0m4 0h0m2 0h0m34 0h0m1 0h0m1 0h0m1 0h0m1 0h0m4 0h0m3 0h0m4 0h0m4 0h0m7 0h0m1 0h0m4 0h0m3 0h0m1 0h0m20 0h0m2 0h0m3 0h0m3 0h0m1 0h0m3 0h0m1 0h0m1 0h0m1 0h0m1 0h0m2 0h0m2 0h0m1 0h0m1 0h0m3 0h0m2 0h0m4 0h0m3 0h0m1 0h0m1 0h0m1 0h0m2 0h0m4 0h0m1 0h0m4 0h0m1 0h0m1 0h0m5 0h0m1 0h0m7 0h0m1 0h0m1 0h0m2 0h0m1 0h0m2 0h0m1 0h0m1 0h0m1 0h0m1 0h0m1 0h0m2 0h0m2 0h0m1 0h0m1 0h0m2 0h0m2 0h0m2 0h0m4 0h0m1 0h0m2 0h0m2 0h0m1 0h0m9 0h0m5 0h0m3 0h0m1 0h0m2 0h0m3 0h0m1 0h0m3 0h0m5 0h0m1 0h0m3 0h0m1 0h0m1 0h0m1 0h0m1 0h0m1 0h0m1 0h0m1 0h0m9 0h0m6 0h0m3 0h0m8 0h0m4 0h0m1 0h0m3 0h0m1 0h0m1 0h0m2 0h0m1 0h0m1 0h0m1 0h0m1 0h0m4 0h0m10 0h0m-326 1h0m1 0h0m5 0h0m4 0h0m1 0h0m1 0h0m1 0h0m1 0h0m4 0h0m1 0h0m1 0h0m5 0h0m9 0h0m6 0h0m36 0h0m1 0h0m4 0h0m5 0h0m3 0h0m2 0h0m1 0h0m2 0h0m1 0h0m3 0h0m7 0h0m3 0h0m2 0h0m4 0h0m5 0h0m7 0h0m2 0h0m9 0h0m4 0h0m1 0h0m2 0h0m4 0h0m2 0h0m9 0h0m1 0h0m4 0h0m2 0h0m3 0h0m2 0h0m1 0h0m3 0h0m1 0h0m2 0h0m2 0h0m3 0h0m1 0h0m1 0h0m1 0h0m2 0h0m4 0h0m1 0h0m2 0h0m1 0h0m1 0h0m1 0h0m1 0h0m2 0h0m3 0h0m1 0h0m1 0h0m1 0h0m2 0h0m1 0h0m1 0h0m1 0h0m4 0h0m2 0h0m1 0h0m1 0h0m1 0h0m1 0h0m5 0h0m3 0h0m1 0h0m2 0h0m1 0h0m2 0h0m2 0h0m3 0h0m1 0h0m1 0h0m5 0h0m1 0h0m1 0h0m2 0h0m2 0h0m4 0h0m5 0h0m2 0h0m2 0h0m3 0h0m1 0h0m1 0h0m5 0h0m2 0h0m3 0h0m5 0h0m9 0h0m6 0h0m2 0h0m1 0h0m1 0h0m2 0h0m2 0h0m2 0h0m3 0h0m3 0h0m6 0h0m-324 1h0m3 0h0m1 0h0m1 0h0m1 0h0m3 0h0m2 0h0m5 0h0m1 0h0m1 0h0m1 0h0m1 0h0m5 0h0m4 0h0m2 0h0m1 0h0m1 0h0m1 0h0m2 0h0m2 0h0m3 0h0m1 0h0m5 0h0m27 0h0m1 0h0m4 0h0m3 0h0m1 0h0m9 0h0m2 0h0m3 0h0m1 0h0m4 0h0m3 0h0m5 0h0m10 0h0m1 0h0m7 0h0m1 0h0m1 0h0m2 0h0m1 0h0m2 0h0m1 0h0m2 0h0m2 0h0m1 0h0m1 0h0m1 0h0m1 0h0m1 0h0m2 0h0m1 0h0m3 0h0m2 0h0m3 0h0m4 0h0m1 0h0m3 0h0m1 0h0m1 0h0m1 0h0m1 0h0m1 0h0m2 0h0m2 0h0m2 0h0m1 0h0m1 0h0m1 0h0m1 0h0m3 0h0m1 0h0m1 0h0m1 0h0m1 0h0m1 0h0m1 0h0m1 0h0m3 0h0m1 0h0m1 0h0m1 0h0m2 0h0m1 0h0m2 0h0m3 0h0m1 0h0m6 0h0m2 0h0m2 0h0m1 0h0m1 0h0m1 0h0m1 0h0m1 0h0m1 0h0m1 0h0m1 0h0m1 0h0m1 0h0m1 0h0m1 0h0m1 0h0m1 0h0m2 0h0m1 0h0m3 0h0m2 0h0m1 0h0m1 0h0m1 0h0m1 0h0m3 0h0m1 0h0m1 0h0m1 0h0m3 0h0m1 0h0m2 0h0m1 0h0m1 0h0m1 0h0m3 0h0m3 0h0m5 0h0m1 0h0m1 0h0m3 0h0m1 0h0m5 0h0m1 0h0m1 0h0m8 0h0m2 0h0m7 0h0m7 0h0m1 0h0m1 0h0m6 0h0m3 0h0m3 0h0m4 0h0m2 0h0m1 0h0m3 0h0m-326 1h0m2 0h0m1 0h0m1 0h0m1 0h0m4 0h0m1 0h0m1 0h0m2 0h0m3 0h0m1 0h0m9 0h0m4 0h0m2 0h0m1 0h0m5 0h0m1 0h0m1 0h0m4 0h0m1 0h0m1 0h0m1 0h0m19 0h0m7 0h0m2 0h0m1 0h0m4 0h0m3 0h0m1 0h0m1 0h0m1 0h0m2 0h0m4 0h0m2 0h0m1 0h0m1 0h0m1 0h0m6 0h0m4 0h0m6 0h0m2 0h0m2 0h0m3 0h0m5 0h0m1 0h0m1 0h0m6 0h0m2 0h0m1 0h0m1 0h0m1 0h0m3 0h0m1 0h0m1 0h0m1 0h0m1 0h0m1 0h0m1 0h0m2 0h0m1 0h0m1 0h0m1 0h0m1 0h0m1 0h0m4 0h0m1 0h0m5 0h0m2 0h0m1 0h0m1 0h0m2 0h0m2 0h0m3 0h0m1 0h0m1 0h0m1 0h0m1 0h0m2 0h0m1 0h0m1 0h0m2 0h0m1 0h0m1 0h0m2 0h0m1 0h0m1 0h0m5 0h0m1 0h0m2 0h0m1 0h0m2 0h0m1 0h0m1 0h0m1 0h0m1 0h0m1 0h0m1 0h0m3 0h0m1 0h0m1 0h0m2 0h0m1 0h0m1 0h0m1 0h0m1 0h0m1 0h0m2 0h0m1 0h0m1 0h0m1 0h0m1 0h0m4 0h0m1 0h0m1 0h0m4 0h0m5 0h0m1 0h0m1 0h0m3 0h0m1 0h0m2 0h0m1 0h0m1 0h0m1 0h0m2 0h0m2 0h0m4 0h0m3 0h0m2 0h0m1 0h0m1 0h0m2 0h0m1 0h0m1 0h0m1 0h0m7 0h0m2 0h0m2 0h0m1 0h0m4 0h0m10 0h0m3 0h0m2 0h0m1 0h0m1 0h0m1 0h0m1 0h0m1 0h0m1 0h0m4 0h0m2 0h0m3 0h0m1 0h0m1 0h0m1 0h0m1 0h0m2 0h0m-325 1h0m4 0h0m2 0h0m3 0h0m9 0h0m1 0h0m1 0h0m10 0h0m2 0h0m10 0h0m1 0h0m33 0h0m2 0h0m4 0h0m2 0h0m1 0h0m14 0h0m8 0h0m3 0h0m2 0h0m2 0h0m1 0h0m1 0h0m18 0h0m1 0h0m2 0h0m3 0h0m4 0h0m2 0h0m11 0h0m3 0h0m4 0h0m1 0h0m1 0h0m1 0h0m2 0h0m3 0h0m4 0h0m2 0h0m1 0h0m2 0h0m1 0h0m1 0h0m1 0h0m1 0h0m2 0h0m1 0h0m5 0h0m1 0h0m1 0h0m1 0h0m1 0h0m1 0h0m3 0h0m1 0h0m2 0h0m1 0h0m4 0h0m1 0h0m1 0h0m1 0h0m2 0h0m1 0h0m1 0h0m2 0h0m3 0h0m1 0h0m3 0h0m3 0h0m3 0h0m2 0h0m1 0h0m4 0h0m3 0h0m2 0h0m5 0h0m1 0h0m1 0h0m3 0h0m8 0h0m4 0h0m1 0h0m1 0h0m1 0h0m1 0h0m1 0h0m3 0h0m2 0h0m1 0h0m20 0h0m1 0h0m2 0h0m1 0h0m5 0h0m1 0h0m2 0h0m3 0h0m2 0h0m1 0h0m11 0h0m-323 1h0m4 0h0m3 0h0m1 0h0m2 0h0m2 0h0m4 0h0m2 0h0m17 0h0m3 0h0m7 0h0m27 0h0m5 0h0m1 0h0m4 0h0m1 0h0m3 0h0m1 0h0m1 0h0m4 0h0m7 0h0m7 0h0m2 0h0m1 0h0m1 0h0m2 0h0m3 0h0m2 0h0m1 0h0m3 0h0m2 0h0m1 0h0m2 0h0m1 0h0m5 0h0m2 0h0m1 0h0m1 0h0m1 0h0m1 0h0m7 0h0m4 0h0m1 0h0m3 0h0m6 0h0m3 0h0m2 0h0m1 0h0m1 0h0m4 0h0m2 0h0m1 0h0m1 0h0m1 0h0m1 0h0m1 0h0m2 0h0m2 0h0m2 0h0m1 0h0m1 0h0m2 0h0m2 0h0m1 0h0m1 0h0m2 0h0m2 0h0m1 0h0m2 0h0m4 0h0m1 0h0m2 0h0m1 0h0m1 0h0m1 0h0m5 0h0m1 0h0m1 0h0m2 0h0m2 0h0m1 0h0m4 0h0m1 0h0m3 0h0m1 0h0m2 0h0m1 0h0m11 0h0m2 0h0m1 0h0m1 0h0m1 0h0m12 0h0m2 0h0m2 0h0m2 0h0m1 0h0m1 0h0m1 0h0m2 0h0m5 0h0m7 0h0m3 0h0m2 0h0m3 0h0m2 0h0m1 0h0m8 0h0m1 0h0m1 0h0m2 0h0m1 0h0m2 0h0m1 0h0m3 0h0m3 0h0m1 0h0m2 0h0m1 0h0m1 0h0m4 0h0m-327 1h0m3 0h0m1 0h0m3 0h0m2 0h0m1 0h0m8 0h0m1 0h0m3 0h0m7 0h0m1 0h0m1 0h0m5 0h0m1 0h0m2 0h0m1 0h0m3 0h0m3 0h0m1 0h0m28 0h0m1 0h0m1 0h0m1 0h0m1 0h0m1 0h0m2 0h0m3 0h0m9 0h0m1 0h0m2 0h0m8 0h0m3 0h0m7 0h0m3 0h0m2 0h0m2 0h0m2 0h0m1 0h0m4 0h0m1 0h0m4 0h0m1 0h0m3 0h0m3 0h0m1 0h0m2 0h0m2 0h0m1 0h0m1 0h0m2 0h0m1 0h0m1 0h0m1 0h0m1 0h0m1 0h0m1 0h0m4 0h0m4 0h0m1 0h0m1 0h0m1 0h0m2 0h0m2 0h0m1 0h0m1 0h0m1 0h0m1 0h0m1 0h0m1 0h0m1 0h0m1 0h0m1 0h0m1 0h0m3 0h0m1 0h0m1 0h0m1 0h0m1 0h0m1 0h0m1 0h0m2 0h0m2 0h0m1 0h0m1 0h0m1 0h0m2 0h0m1 0h0m1 0h0m1 0h0m1 0h0m1 0h0m3 0h0m1 0h0m1 0h0m1 0h0m1 0h0m1 0h0m1 0h0m2 0h0m1 0h0m2 0h0m1 0h0m1 0h0m2 0h0m1 0h0m1 0h0m2 0h0m1 0h0m1 0h0m1 0h0m2 0h0m1 0h0m1 0h0m1 0h0m2 0h0m1 0h0m4 0h0m1 0h0m3 0h0m4 0h0m1 0h0m1 0h0m1 0h0m1 0h0m1 0h0m2 0h0m3 0h0m3 0h0m3 0h0m1 0h0m1 0h0m1 0h0m2 0h0m3 0h0m4 0h0m5 0h0m5 0h0m1 0h0m5 0h0m3 0h0m8 0h0m2 0h0m1 0h0m1 0h0m1 0h0m1 0h0m1 0h0m1 0h0m1 0h0m3 0h0m2 0h0m1 0h0m2 0h0m1 0h0m1 0h0m2 0h0m1 0h0m1 0h0m-326 1h0m1 0h0m2 0h0m2 0h0m2 0h0m3 0h0m3 0h0m4 0h0m1 0h0m1 0h0m2 0h0m4 0h0m3 0h0m2 0h0m1 0h0m3 0h0m1 0h0m1 0h0m2 0h0m3 0h0m3 0h0m1 0h0m2 0h0m28 0h0m1 0h0m1 0h0m1 0h0m2 0h0m1 0h0m2 0h0m2 0h0m1 0h0m1 0h0m1 0h0m1 0h0m3 0h0m11 0h0m2 0h0m1 0h0m3 0h0m1 0h0m2 0h0m5 0h0m1 0h0m1 0h0m3 0h0m1 0h0m1 0h0m1 0h0m4 0h0m5 0h0m1 0h0m1 0h0m1 0h0m1 0h0m2 0h0m3 0h0m2 0h0m1 0h0m2 0h0m3 0h0m1 0h0m6 0h0m1 0h0m1 0h0m3 0h0m1 0h0m1 0h0m1 0h0m1 0h0m2 0h0m2 0h0m1 0h0m3 0h0m1 0h0m2 0h0m2 0h0m1 0h0m2 0h0m1 0h0m1 0h0m2 0h0m2 0h0m1 0h0m4 0h0m1 0h0m1 0h0m1 0h0m2 0h0m1 0h0m1 0h0m1 0h0m1 0h0m1 0h0m2 0h0m1 0h0m1 0h0m2 0h0m1 0h0m1 0h0m1 0h0m1 0h0m1 0h0m1 0h0m1 0h0m1 0h0m2 0h0m1 0h0m4 0h0m1 0h0m2 0h0m1 0h0m1 0h0m1 0h0m1 0h0m1 0h0m1 0h0m1 0h0m1 0h0m6 0h0m3 0h0m2 0h0m1 0h0m1 0h0m1 0h0m7 0h0m4 0h0m2 0h0m3 0h0m2 0h0m1 0h0m2 0h0m1 0h0m2 0h0m2 0h0m2 0h0m1 0h0m3 0h0m2 0h0m1 0h0m1 0h0m1 0h0m1 0h0m1 0h0m2 0h0m4 0h0m3 0h0m1 0h0m2 0h0m1 0h0m1 0h0m1 0h0m2 0h0m2 0h0m2 0h0m2 0h0m3 0h0m3 0h0m1 0h0m1 0h0m2 0h0m1 0h0m1 0h0m1 0h0m-325 1h0m4 0h0m1 0h0m1 0h0m3 0h0m10 0h0m2 0h0m1 0h0m1 0h0m1 0h0m2 0h0m3 0h0m1 0h0m6 0h0m2 0h0m2 0h0m1 0h0m3 0h0m2 0h0m30 0h0m1 0h0m1 0h0m1 0h0m1 0h0m2 0h0m1 0h0m1 0h0m1 0h0m2 0h0m1 0h0m3 0h0m2 0h0m1 0h0m8 0h0m1 0h0m1 0h0m1 0h0m2 0h0m3 0h0m3 0h0m11 0h0m1 0h0m1 0h0m1 0h0m1 0h0m4 0h0m1 0h0m1 0h0m5 0h0m3 0h0m1 0h0m3 0h0m2 0h0m7 0h0m5 0h0m3 0h0m1 0h0m1 0h0m1 0h0m1 0h0m4 0h0m2 0h0m2 0h0m1 0h0m1 0h0m1 0h0m1 0h0m1 0h0m1 0h0m2 0h0m1 0h0m1 0h0m1 0h0m4 0h0m1 0h0m3 0h0m1 0h0m1 0h0m1 0h0m2 0h0m2 0h0m1 0h0m1 0h0m1 0h0m2 0h0m3 0h0m2 0h0m1 0h0m2 0h0m1 0h0m1 0h0m1 0h0m1 0h0m1 0h0m2 0h0m3 0h0m2 0h0m1 0h0m1 0h0m2 0h0m1 0h0m3 0h0m1 0h0m1 0h0m1 0h0m2 0h0m3 0h0m1 0h0m1 0h0m1 0h0m3 0h0m1 0h0m1 0h0m1 0h0m2 0h0m3 0h0m4 0h0m2 0h0m3 0h0m1 0h0m2 0h0m1 0h0m7 0h0m1 0h0m2 0h0m6 0h0m2 0h0m1 0h0m5 0h0m1 0h0m1 0h0m1 0h0m2 0h0m4 0h0m2 0h0m3 0h0m1 0h0m1 0h0m2 0h0m1 0h0m3 0h0m2 0h0m5 0h0m1 0h0m1 0h0m1 0h0m-326 1h0m2 0h0m5 0h0m2 0h0m1 0h0m1 0h0m3 0h0m1 0h0m2 0h0m21 0h0m40 0h0m3 0h0m7 0h0m6 0h0m3 0h0m7 0h0m2 0h0m1 0h0m1 0h0m14 0h0m14 0h0m5 0h0m3 0h0m4 0h0m2 0h0m3 0h0m2 0h0m11 0h0m4 0h0m3 0h0m2 0h0m1 0h0m2 0h0m1 0h0m2 0h0m2 0h0m2 0h0m1 0h0m1 0h0m8 0h0m2 0h0m1 0h0m4 0h0m1 0h0m2 0h0m1 0h0m2 0h0m1 0h0m1 0h0m6 0h0m1 0h0m3 0h0m1 0h0m1 0h0m2 0h0m1 0h0m2 0h0m3 0h0m1 0h0m1 0h0m4 0h0m4 0h0m2 0h0m1 0h0m3 0h0m3 0h0m15 0h0m2 0h0m3 0h0m1 0h0m3 0h0m4 0h0m8 0h0m2 0h0m2 0h0m4 0h0m2 0h0m1 0h0m7 0h0m1 0h0m4 0h0m3 0h0m2 0h0m2 0h0m1 0h0m1 0h0m1 0h0m2 0h0m1 0h0m3 0h0m3 0h0m-325 1h0m7 0h0m1 0h0m1 0h0m4 0h0m2 0h0m3 0h0m5 0h0m13 0h0m1 0h0m1 0h0m4 0h0m2 0h0m2 0h0m27 0h0m1 0h0m2 0h0m1 0h0m2 0h0m4 0h0m1 0h0m3 0h0m2 0h0m1 0h0m1 0h0m1 0h0m2 0h0m7 0h0m4 0h0m1 0h0m4 0h0m2 0h0m9 0h0m1 0h0m9 0h0m5 0h0m2 0h0m2 0h0m5 0h0m1 0h0m3 0h0m1 0h0m1 0h0m1 0h0m1 0h0m1 0h0m1 0h0m3 0h0m1 0h0m3 0h0m2 0h0m1 0h0m1 0h0m3 0h0m2 0h0m3 0h0m1 0h0m1 0h0m5 0h0m1 0h0m2 0h0m4 0h0m1 0h0m4 0h0m1 0h0m1 0h0m3 0h0m2 0h0m2 0h0m1 0h0m2 0h0m2 0h0m1 0h0m1 0h0m3 0h0m1 0h0m2 0h0m1 0h0m1 0h0m1 0h0m1 0h0m1 0h0m4 0h0m1 0h0m1 0h0m4 0h0m1 0h0m1 0h0m1 0h0m1 0h0m2 0h0m1 0h0m2 0h0m1 0h0m1 0h0m1 0h0m2 0h0m2 0h0m1 0h0m1 0h0m1 0h0m5 0h0m5 0h0m1 0h0m4 0h0m1 0h0m1 0h0m2 0h0m1 0h0m1 0h0m7 0h0m8 0h0m9 0h0m10 0h0m1 0h0m1 0h0m1 0h0m2 0h0m1 0h0m1 0h0m4 0h0m2 0h0m2 0h0m2 0h0m3 0h0m1 0h0m-322 1h0m2 0h0m4 0h0m5 0h0m2 0h0m7 0h0m1 0h0m1 0h0m4 0h0m5 0h0m6 0h0m4 0h0m2 0h0m26 0h0m1 0h0m2 0h0m2 0h0m2 0h0m5 0h0m2 0h0m1 0h0m2 0h0m1 0h0m2 0h0m1 0h0m4 0h0m4 0h0m6 0h0m1 0h0m1 0h0m14 0h0m5 0h0m5 0h0m2 0h0m5 0h0m4 0h0m1 0h0m1 0h0m2 0h0m7 0h0m7 0h0m1 0h0m1 0h0m1 0h0m2 0h0m1 0h0m2 0h0m1 0h0m3 0h0m1 0h0m1 0h0m2 0h0m1 0h0m1 0h0m2 0h0m1 0h0m1 0h0m1 0h0m1 0h0m3 0h0m1 0h0m3 0h0m1 0h0m1 0h0m1 0h0m2 0h0m1 0h0m1 0h0m1 0h0m1 0h0m2 0h0m1 0h0m1 0h0m1 0h0m1 0h0m1 0h0m10 0h0m1 0h0m3 0h0m2 0h0m6 0h0m1 0h0m2 0h0m1 0h0m1 0h0m1 0h0m2 0h0m1 0h0m2 0h0m1 0h0m3 0h0m1 0h0m3 0h0m1 0h0m2 0h0m8 0h0m2 0h0m1 0h0m1 0h0m2 0h0m13 0h0m3 0h0m3 0h0m3 0h0m3 0h0m3 0h0m5 0h0m4 0h0m1 0h0m6 0h0m4 0h0m3 0h0m1 0h0m2 0h0m1 0h0m3 0h0m-327 1h0m9 0h0m1 0h0m1 0h0m10 0h0m1 0h0m8 0h0m4 0h0m7 0h0m1 0h0m33 0h0m3 0h0m1 0h0m6 0h0m1 0h0m2 0h0m6 0h0m12 0h0m1 0h0m1 0h0m2 0h0m1 0h0m1 0h0m1 0h0m1 0h0m1 0h0m5 0h0m1 0h0m3 0h0m1 0h0m1 0h0m2 0h0m1 0h0m1 0h0m1 0h0m4 0h0m1 0h0m1 0h0m1 0h0m3 0h0m1 0h0m1 0h0m1 0h0m1 0h0m2 0h0m1 0h0m2 0h0m2 0h0m2 0h0m3 0h0m3 0h0m1 0h0m4 0h0m1 0h0m2 0h0m5 0h0m4 0h0m1 0h0m1 0h0m1 0h0m1 0h0m1 0h0m1 0h0m1 0h0m1 0h0m1 0h0m2 0h0m1 0h0m1 0h0m2 0h0m1 0h0m1 0h0m1 0h0m2 0h0m3 0h0m1 0h0m1 0h0m1 0h0m1 0h0m2 0h0m1 0h0m2 0h0m2 0h0m1 0h0m1 0h0m1 0h0m1 0h0m1 0h0m1 0h0m4 0h0m1 0h0m1 0h0m5 0h0m2 0h0m1 0h0m1 0h0m1 0h0m2 0h0m2 0h0m7 0h0m1 0h0m1 0h0m3 0h0m1 0h0m1 0h0m3 0h0m4 0h0m3 0h0m2 0h0m1 0h0m1 0h0m1 0h0m1 0h0m2 0h0m1 0h0m1 0h0m1 0h0m1 0h0m4 0h0m10 0h0m1 0h0m1 0h0m2 0h0m6 0h0m1 0h0m3 0h0m1 0h0m2 0h0m1 0h0m1 0h0m1 0h0m3 0h0m3 0h0m4 0h0m1 0h0m4 0h0m2 0h0m3 0h0m-325 1h0m5 0h0m2 0h0m9 0h0m3 0h0m12 0h0m12 0h0m32 0h0m1 0h0m2 0h0m14 0h0m29 0h0m9 0h0m12 0h0m6 0h0m7 0h0m2 0h0m8 0h0m7 0h0m1 0h0m4 0h0m2 0h0m1 0h0m4 0h0m9 0h0m6 0h0m14 0h0m14 0h0m20 0h0m1 0h0m61 0h0m5 0h0m4 0h0m7 0h0m-306 1h0m143 0h0m53 0h0m62 0h0m36 0h0m-315 3h0m1 0h0m1 0h0m1 0h0m1 0h0m1 0h0m2 0h0m2 0h0m1 0h0m1 0h0m1 0h0m1 0h0m1 0h0m1 0h0m1 0h0m1 0h0m1 0h0m1 0h0m2 0h0m1 0h0m1 0h0m1 0h0m1 0h0m1 0h0m1 0h0m1 0h0m1 0h0m1 0h0m1 0h0m1 0h0m1 0h0m1 0h0m1 0h0m1 0h0m1 0h0m1 0h0m1 0h0m1 0h0m1 0h0m2 0h0m1 0h0m1 0h0m1 0h0m1 0h0m1 0h0m26 0h0m1 0h0m1 0h0m1 0h0m1 0h0m1 0h0m1 0h0m1 0h0m2 0h0m1 0h0m1 0h0m1 0h0m1 0h0m1 0h0m1 0h0m1 0h0m1 0h0m1 0h0m1 0h0m1 0h0m1 0h0m1 0h0m1 0h0m1 0h0m1 0h0m1 0h0m1 0h0m1 0h0m1 0h0m1 0h0m1 0h0m1 0h0m1 0h0m1 0h0m1 0h0m1 0h0m1 0h0m1 0h0m1 0h0m1 0h0m1 0h0m1 0h0m1 0h0m1 0h0m1 0h0m1 0h0m1 0h0m1 0h0m1 0h0m1 0h0m1 0h0m1 0h0m1 0h0m1 0h0m1 0h0m1 0h0m1 0h0m1 0h0m1 0h0m1 0h0m1 0h0m1 0h0m1 0h0m1 0h0m1 0h0m1 0h0m1 0h0m1 0h0m2 0h0m1 0h0m1 0h0m1 0h0m1 0h0m1 0h0m1 0h0m1 0h0m1 0h0m1 0h0m1 0h0m1 0h0m1 0h0m1 0h0m1 0h0m1 0h0m1 0h0m1 0h0m3 0h0m1 0h0m2 0h0m1 0h0m1 0h0m1 0h0m1 0h0m1 0h0m1 0h0m1 0h0m2 0h0m2 0h0m1 0h0m1 0h0m1 0h0m2 0h0m1 0h0m2 0h0m1 0h0m1 0h0m1 0h0m1 0h0m1 0h0m1 0h0m1 0h0m1 0h0m1 0h0m1 0h0m1 0h0m2 0h0m1 0h0m1 0h0m1 0h0m1 0h0m1 0h0m1 0h0m1 0h0m1 0h0m1 0h0m1 0h0m1 0h0m1 0h0m1 0h0m1 0h0m1 0h0m1 0h0m1 0h0m1 0h0m1 0h0m1 0h0m1 0h0m1 0h0m1 0h0m1 0h0m1 0h0m1 0h0m1 0h0m1 0h0m1 0h0m1 0h0m1 0h0m1 0h0m1 0h0m1 0h0m1 0h0m1 0h0m1 0h0m1 0h0m1 0h0m1 0h0m1 0h0m1 0h0m1 0h0m1 0h0m1 0h0m1 0h0m1 0h0m1 0h0m2 0h0m1 0h0m1 0h0m1 0h0m1 0h0m1 0h0m1 0h0m1 0h0m1 0h0m1 0h0m2 0h0m1 0h0m1 0h0m1 0h0m1 0h0m1 0h0m1 0h0m1 0h0m1 0h0m1 0h0m1 0h0m1 0h0m1 0h0m1 0h0m2 0h0m1 0h0m1 0h0m1 0h0m1 0h0m1 0h0m1 0h0m1 0h0m1 0h0m1 0h0m1 0h0m1 0h0m1 0h0m1 0h0m1 0h0m1 0h0m1 0h0m1 0h0m1 0h0m1 0h0m1 0h0m1 0h0m2 0h0m1 0h0m1 0h0m1 0h0m1 0h0m1 0h0m1 0h0m1 0h0m1 0h0m1 0h0m1 0h0m1 0h0m1 0h0m1 0h0m1 0h0m1 0h0m1 0h0m1 0h0m1 0h0m1 0h0m1 0h0m1 0h0m1 0h0m1 0h0m1 0h0m1 0h0m1 0h0m1 0h0m1 0h0m1 0h0m-245 2h0m93 0h0m-91 1h0m29 0h0m35 0h0m26 0h0m71 0h0m13 0h0m-253 1h0m7 0h0m8 0h0m5 0h0m15 0h0m34 0h0m2 0h0m18 0h0m3 0h0m1 0h0m23 0h0m10 0h0m12 0h0m1 0h0m2 0h0m2 0h0m5 0h0m12 0h0m1 0h0m5 0h0m3 0h0m3 0h0m18 0h0m4 0h0m11 0h0m33 0h0m21 0h0m1 0h0m7 0h0m12 0h0m3 0h0m7 0h0m10 0h0m10 0h0m2 0h0m1 0h0m6 0h0m1 0h0m-324 1h0m1 0h0m2 0h0m1 0h0m1 0h0m2 0h0m3 0h0m3 0h0m1 0h0m6 0h0m1 0h0m1 0h0m4 0h0m1 0h0m1 0h0m2 0h0m3 0h0m4 0h0m3 0h0m2 0h0m3 0h0m3 0h0m26 0h0m4 0h0m1 0h0m1 0h0m1 0h0m2 0h0m3 0h0m2 0h0m1 0h0m1 0h0m2 0h0m2 0h0m5 0h0m1 0h0m10 0h0m4 0h0m6 0h0m4 0h0m4 0h0m6 0h0m4 0h0m1 0h0m2 0h0m1 0h0m2 0h0m1 0h0m2 0h0m1 0h0m2 0h0m1 0h0m1 0h0m2 0h0m1 0h0m2 0h0m3 0h0m4 0h0m2 0h0m1 0h0m1 0h0m1 0h0m1 0h0m4 0h0m1 0h0m1 0h0m2 0h0m1 0h0m3 0h0m1 0h0m1 0h0m1 0h0m1 0h0m1 0h0m1 0h0m1 0h0m3 0h0m1 0h0m2 0h0m1 0h0m2 0h0m1 0h0m1 0h0m1 0h0m1 0h0m1 0h0m1 0h0m1 0h0m1 0h0m1 0h0m1 0h0m1 0h0m1 0h0m1 0h0m1 0h0m1 0h0m1 0h0m1 0h0m1 0h0m1 0h0m1 0h0m2 0h0m2 0h0m2 0h0m1 0h0m1 0h0m1 0h0m2 0h0m2 0h0m3 0h0m1 0h0m4 0h0m2 0h0m2 0h0m2 0h0m1 0h0m1 0h0m1 0h0m1 0h0m1 0h0m2 0h0m2 0h0m9 0h0m3 0h0m1 0h0m1 0h0m2 0h0m2 0h0m1 0h0m4 0h0m1 0h0m9 0h0m1 0h0m1 0h0m6 0h0m1 0h0m2 0h0m6 0h0m3 0h0m1 0h0m4 0h0m1 0h0m5 0h0m2 0h0m3 0h0m1 0h0m3 0h0m-326 1h0m4 0h0m7 0h0m1 0h0m1 0h0m7 0h0m6 0h0m7 0h0m2 0h0m1 0h0m1 0h0m2 0h0m34 0h0m1 0h0m1 0h0m2 0h0m1 0h0m1 0h0m5 0h0m3 0h0m3 0h0m13 0h0m6 0h0m2 0h0m3 0h0m3 0h0m1 0h0m2 0h0m1 0h0m7 0h0m6 0h0m2 0h0m1 0h0m2 0h0m2 0h0m1 0h0m5 0h0m2 0h0m2 0h0m2 0h0m1 0h0m3 0h0m6 0h0m1 0h0m3 0h0m4 0h0m1 0h0m2 0h0m1 0h0m1 0h0m2 0h0m5 0h0m4 0h0m1 0h0m3 0h0m3 0h0m1 0h0m1 0h0m6 0h0m1 0h0m1 0h0m2 0h0m1 0h0m1 0h0m1 0h0m1 0h0m1 0h0m5 0h0m1 0h0m3 0h0m1 0h0m1 0h0m1 0h0m2 0h0m2 0h0m3 0h0m1 0h0m1 0h0m1 0h0m2 0h0m1 0h0m1 0h0m3 0h0m2 0h0m1 0h0m1 0h0m1 0h0m1 0h0m2 0h0m1 0h0m2 0h0m2 0h0m1 0h0m1 0h0m4 0h0m1 0h0m1 0h0m2 0h0m1 0h0m1 0h0m1 0h0m1 0h0m2 0h0m10 0h0m4 0h0m3 0h0m6 0h0m6 0h0m4 0h0m1 0h0m1 0h0m3 0h0m1 0h0m2 0h0m1 0h0m1 0h0m5 0h0m1 0h0m3 0h0m1 0h0m1 0h0m3 0h0m-327 1h0m3 0h0m2 0h0m2 0h0m1 0h0m1 0h0m1 0h0m2 0h0m1 0h0m3 0h0m2 0h0m1 0h0m6 0h0m5 0h0m5 0h0m3 0h0m2 0h0m8 0h0m27 0h0m2 0h0m1 0h0m2 0h0m1 0h0m1 0h0m1 0h0m2 0h0m1 0h0m3 0h0m2 0h0m4 0h0m7 0h0m4 0h0m1 0h0m1 0h0m1 0h0m4 0h0m1 0h0m11 0h0m1 0h0m3 0h0m9 0h0m1 0h0m4 0h0m6 0h0m1 0h0m2 0h0m1 0h0m2 0h0m2 0h0m1 0h0m7 0h0m2 0h0m1 0h0m1 0h0m1 0h0m1 0h0m1 0h0m1 0h0m1 0h0m1 0h0m1 0h0m1 0h0m1 0h0m1 0h0m2 0h0m1 0h0m1 0h0m1 0h0m1 0h0m1 0h0m1 0h0m1 0h0m2 0h0m1 0h0m1 0h0m1 0h0m2 0h0m1 0h0m2 0h0m3 0h0m2 0h0m1 0h0m2 0h0m1 0h0m1 0h0m1 0h0m1 0h0m1 0h0m3 0h0m2 0h0m1 0h0m2 0h0m1 0h0m2 0h0m1 0h0m2 0h0m1 0h0m3 0h0m1 0h0m1 0h0m1 0h0m2 0h0m6 0h0m2 0h0m4 0h0m1 0h0m1 0h0m2 0h0m1 0h0m1 0h0m2 0h0m6 0h0m4 0h0m2 0h0m1 0h0m1 0h0m2 0h0m7 0h0m2 0h0m7 0h0m2 0h0m1 0h0m4 0h0m1 0h0m10 0h0m1 0h0m1 0h0m1 0h0m1 0h0m1 0h0m2 0h0m3 0h0m4 0h0m3 0h0m3 0h0m2 0h0m-320 1h0m7 0h0m5 0h0m2 0h0m12 0h0m11 0h0m33 0h0m4 0h0m2 0h0m9 0h0m1 0h0m2 0h0m1 0h0m8 0h0m4 0h0m1 0h0m2 0h0m5 0h0m9 0h0m3 0h0m7 0h0m1 0h0m4 0h0m2 0h0m4 0h0m1 0h0m1 0h0m1 0h0m2 0h0m2 0h0m5 0h0m2 0h0m6 0h0m1 0h0m1 0h0m2 0h0m1 0h0m1 0h0m7 0h0m1 0h0m1 0h0m3 0h0m1 0h0m1 0h0m1 0h0m2 0h0m7 0h0m2 0h0m1 0h0m2 0h0m1 0h0m1 0h0m1 0h0m1 0h0m1 0h0m3 0h0m1 0h0m1 0h0m4 0h0m2 0h0m1 0h0m1 0h0m6 0h0m7 0h0m3 0h0m1 0h0m4 0h0m2 0h0m2 0h0m1 0h0m2 0h0m4 0h0m15 0h0m1 0h0m1 0h0m1 0h0m1 0h0m1 0h0m1 0h0m2 0h0m5 0h0m8 0h0m2 0h0m3 0h0m5 0h0m7 0h0m1 0h0m2 0h0m2 0h0m1 0h0m1 0h0m3 0h0m2 0h0m6 0h0m1 0h0m5 0h0m-325 1h0m1 0h0m2 0h0m1 0h0m5 0h0m2 0h0m3 0h0m3 0h0m1 0h0m1 0h0m1 0h0m5 0h0m4 0h0m2 0h0m4 0h0m4 0h0m1 0h0m35 0h0m1 0h0m1 0h0m2 0h0m1 0h0m1 0h0m1 0h0m1 0h0m1 0h0m1 0h0m1 0h0m3 0h0m1 0h0m2 0h0m2 0h0m12 0h0m2 0h0m1 0h0m1 0h0m2 0h0m1 0h0m1 0h0m1 0h0m6 0h0m2 0h0m2 0h0m5 0h0m3 0h0m7 0h0m1 0h0m1 0h0m5 0h0m1 0h0m1 0h0m1 0h0m2 0h0m1 0h0m4 0h0m1 0h0m5 0h0m2 0h0m1 0h0m2 0h0m3 0h0m1 0h0m2 0h0m1 0h0m1 0h0m1 0h0m6 0h0m1 0h0m1 0h0m5 0h0m1 0h0m2 0h0m1 0h0m1 0h0m2 0h0m1 0h0m1 0h0m3 0h0m1 0h0m1 0h0m2 0h0m1 0h0m1 0h0m2 0h0m1 0h0m4 0h0m1 0h0m1 0h0m1 0h0m1 0h0m1 0h0m2 0h0m1 0h0m1 0h0m1 0h0m1 0h0m1 0h0m2 0h0m1 0h0m6 0h0m6 0h0m2 0h0m2 0h0m2 0h0m2 0h0m9 0h0m3 0h0m2 0h0m1 0h0m1 0h0m2 0h0m1 0h0m1 0h0m1 0h0m13 0h0m1 0h0m1 0h0m3 0h0m5 0h0m5 0h0m1 0h0m1 0h0m1 0h0m3 0h0m2 0h0m5 0h0m7 0h0m4 0h0m2 0h0m-327 1h0m1 0h0m2 0h0m1 0h0m2 0h0m1 0h0m2 0h0m4 0h0m4 0h0m1 0h0m2 0h0m2 0h0m3 0h0m2 0h0m3 0h0m1 0h0m2 0h0m1 0h0m2 0h0m1 0h0m3 0h0m2 0h0m1 0h0m31 0h0m1 0h0m2 0h0m1 0h0m5 0h0m3 0h0m2 0h0m5 0h0m2 0h0m6 0h0m2 0h0m2 0h0m1 0h0m2 0h0m1 0h0m1 0h0m1 0h0m4 0h0m1 0h0m6 0h0m1 0h0m3 0h0m3 0h0m5 0h0m1 0h0m1 0h0m2 0h0m10 0h0m4 0h0m1 0h0m1 0h0m1 0h0m9 0h0m1 0h0m1 0h0m1 0h0m1 0h0m2 0h0m2 0h0m1 0h0m1 0h0m1 0h0m1 0h0m1 0h0m1 0h0m1 0h0m1 0h0m1 0h0m1 0h0m1 0h0m1 0h0m1 0h0m3 0h0m1 0h0m1 0h0m1 0h0m1 0h0m2 0h0m1 0h0m2 0h0m1 0h0m2 0h0m1 0h0m2 0h0m1 0h0m1 0h0m1 0h0m3 0h0m2 0h0m2 0h0m2 0h0m1 0h0m1 0h0m1 0h0m1 0h0m4 0h0m1 0h0m1 0h0m2 0h0m2 0h0m2 0h0m2 0h0m1 0h0m2 0h0m1 0h0m2 0h0m1 0h0m1 0h0m2 0h0m1 0h0m1 0h0m4 0h0m1 0h0m2 0h0m2 0h0m1 0h0m5 0h0m6 0h0m1 0h0m2 0h0m2 0h0m1 0h0m1 0h0m2 0h0m4 0h0m1 0h0m1 0h0m1 0h0m1 0h0m3 0h0m3 0h0m3 0h0m4 0h0m2 0h0m4 0h0m1 0h0m1 0h0m1 0h0m1 0h0m1 0h0m1 0h0m3 0h0m2 0h0m1 0h0m1 0h0m2 0h0m3 0h0m1 0h0m4 0h0m2 0h0m-325 1h0m4 0h0m9 0h0m2 0h0m2 0h0m1 0h0m7 0h0m5 0h0m4 0h0m1 0h0m1 0h0m3 0h0m34 0h0m1 0h0m1 0h0m1 0h0m3 0h0m1 0h0m1 0h0m1 0h0m1 0h0m8 0h0m2 0h0m7 0h0m3 0h0m3 0h0m6 0h0m5 0h0m6 0h0m5 0h0m1 0h0m4 0h0m2 0h0m2 0h0m2 0h0m3 0h0m2 0h0m2 0h0m1 0h0m1 0h0m11 0h0m3 0h0m1 0h0m2 0h0m2 0h0m2 0h0m1 0h0m1 0h0m1 0h0m2 0h0m3 0h0m1 0h0m1 0h0m1 0h0m4 0h0m1 0h0m6 0h0m1 0h0m1 0h0m1 0h0m1 0h0m1 0h0m2 0h0m2 0h0m1 0h0m1 0h0m1 0h0m3 0h0m1 0h0m1 0h0m2 0h0m5 0h0m1 0h0m5 0h0m1 0h0m3 0h0m3 0h0m1 0h0m3 0h0m6 0h0m3 0h0m2 0h0m3 0h0m1 0h0m1 0h0m5 0h0m2 0h0m6 0h0m1 0h0m2 0h0m4 0h0m1 0h0m2 0h0m2 0h0m2 0h0m4 0h0m12 0h0m2 0h0m3 0h0m2 0h0m4 0h0m1 0h0m2 0h0m2 0h0m4 0h0m1 0h0m2 0h0m7 0h0m2 0h0m-321 1h0m1 0h0m2 0h0m4 0h0m1 0h0m4 0h0m1 0h0m2 0h0m1 0h0m1 0h0m6 0h0m1 0h0m3 0h0m1 0h0m4 0h0m1 0h0m7 0h0m3 0h0m28 0h0m1 0h0m2 0h0m1 0h0m1 0h0m1 0h0m3 0h0m2 0h0m3 0h0m3 0h0m2 0h0m1 0h0m2 0h0m1 0h0m6 0h0m1 0h0m1 0h0m1 0h0m1 0h0m3 0h0m3 0h0m1 0h0m2 0h0m11 0h0m1 0h0m6 0h0m2 0h0m1 0h0m1 0h0m5 0h0m2 0h0m3 0h0m1 0h0m11 0h0m3 0h0m1 0h0m1 0h0m2 0h0m1 0h0m1 0h0m6 0h0m1 0h0m1 0h0m1 0h0m1 0h0m1 0h0m1 0h0m2 0h0m2 0h0m2 0h0m3 0h0m1 0h0m1 0h0m1 0h0m1 0h0m1 0h0m1 0h0m1 0h0m2 0h0m1 0h0m2 0h0m2 0h0m1 0h0m5 0h0m2 0h0m3 0h0m2 0h0m1 0h0m3 0h0m1 0h0m1 0h0m1 0h0m2 0h0m2 0h0m1 0h0m2 0h0m1 0h0m1 0h0m10 0h0m1 0h0m2 0h0m1 0h0m1 0h0m1 0h0m2 0h0m2 0h0m3 0h0m5 0h0m5 0h0m1 0h0m1 0h0m1 0h0m6 0h0m10 0h0m2 0h0m1 0h0m10 0h0m5 0h0m1 0h0m1 0h0m1 0h0m1 0h0m1 0h0m1 0h0m1 0h0m2 0h0m4 0h0m4 0h0m2 0h0m1 0h0m1 0h0m2 0h0m-325 1h0m7 0h0m1 0h0m9 0h0m1 0h0m5 0h0m5 0h0m7 0h0m2 0h0m35 0h0m1 0h0m2 0h0m1 0h0m1 0h0m6 0h0m1 0h0m3 0h0m4 0h0m1 0h0m1 0h0m7 0h0m2 0h0m2 0h0m1 0h0m2 0h0m1 0h0m6 0h0m8 0h0m5 0h0m2 0h0m3 0h0m3 0h0m2 0h0m1 0h0m1 0h0m2 0h0m1 0h0m1 0h0m3 0h0m1 0h0m1 0h0m1 0h0m3 0h0m1 0h0m2 0h0m4 0h0m3 0h0m1 0h0m1 0h0m1 0h0m1 0h0m1 0h0m7 0h0m1 0h0m1 0h0m1 0h0m1 0h0m1 0h0m1 0h0m1 0h0m1 0h0m2 0h0m1 0h0m2 0h0m2 0h0m2 0h0m2 0h0m1 0h0m4 0h0m1 0h0m2 0h0m1 0h0m1 0h0m2 0h0m3 0h0m3 0h0m1 0h0m2 0h0m4 0h0m1 0h0m1 0h0m1 0h0m1 0h0m1 0h0m1 0h0m1 0h0m1 0h0m3 0h0m1 0h0m5 0h0m4 0h0m2 0h0m3 0h0m4 0h0m1 0h0m11 0h0m2 0h0m2 0h0m1 0h0m1 0h0m2 0h0m1 0h0m2 0h0m8 0h0m1 0h0m11 0h0m1 0h0m3 0h0m2 0h0m3 0h0m1 0h0m3 0h0m2 0h0m1 0h0m1 0h0m6 0h0m1 0h0m4 0h0m1 0h0m5 0h0m-327 1h0m1 0h0m2 0h0m3 0h0m4 0h0m2 0h0m1 0h0m1 0h0m3 0h0m18 0h0m2 0h0m4 0h0m1 0h0m3 0h0m3 0h0m26 0h0m1 0h0m2 0h0m4 0h0m1 0h0m1 0h0m1 0h0m1 0h0m1 0h0m2 0h0m3 0h0m7 0h0m10 0h0m1 0h0m1 0h0m1 0h0m4 0h0m1 0h0m12 0h0m1 0h0m6 0h0m4 0h0m4 0h0m2 0h0m2 0h0m5 0h0m2 0h0m1 0h0m9 0h0m1 0h0m1 0h0m2 0h0m4 0h0m1 0h0m4 0h0m2 0h0m2 0h0m3 0h0m2 0h0m1 0h0m2 0h0m2 0h0m1 0h0m3 0h0m2 0h0m1 0h0m1 0h0m1 0h0m3 0h0m2 0h0m2 0h0m3 0h0m4 0h0m1 0h0m1 0h0m6 0h0m1 0h0m2 0h0m2 0h0m3 0h0m2 0h0m5 0h0m3 0h0m2 0h0m2 0h0m1 0h0m1 0h0m1 0h0m2 0h0m1 0h0m2 0h0m2 0h0m3 0h0m4 0h0m4 0h0m2 0h0m1 0h0m2 0h0m3 0h0m4 0h0m3 0h0m4 0h0m2 0h0m3 0h0m7 0h0m7 0h0m1 0h0m3 0h0m1 0h0m3 0h0m1 0h0m1 0h0m1 0h0m5 0h0m3 0h0m5 0h0m-327 1h0m6 0h0m1 0h0m2 0h0m6 0h0m3 0h0m6 0h0m4 0h0m1 0h0m2 0h0m2 0h0m4 0h0m4 0h0m3 0h0m1 0h0m33 0h0m3 0h0m1 0h0m3 0h0m1 0h0m13 0h0m5 0h0m1 0h0m2 0h0m1 0h0m2 0h0m1 0h0m1 0h0m3 0h0m6 0h0m1 0h0m1 0h0m4 0h0m11 0h0m3 0h0m5 0h0m3 0h0m6 0h0m1 0h0m3 0h0m5 0h0m1 0h0m1 0h0m1 0h0m1 0h0m1 0h0m2 0h0m4 0h0m1 0h0m3 0h0m2 0h0m2 0h0m1 0h0m1 0h0m1 0h0m1 0h0m3 0h0m1 0h0m3 0h0m1 0h0m2 0h0m1 0h0m2 0h0m3 0h0m2 0h0m4 0h0m1 0h0m3 0h0m1 0h0m1 0h0m2 0h0m1 0h0m1 0h0m1 0h0m2 0h0m4 0h0m4 0h0m1 0h0m1 0h0m2 0h0m1 0h0m1 0h0m2 0h0m1 0h0m4 0h0m2 0h0m1 0h0m1 0h0m2 0h0m1 0h0m4 0h0m4 0h0m1 0h0m2 0h0m2 0h0m1 0h0m1 0h0m1 0h0m1 0h0m3 0h0m1 0h0m1 0h0m1 0h0m8 0h0m2 0h0m4 0h0m1 0h0m5 0h0m1 0h0m5 0h0m1 0h0m6 0h0m2 0h0m1 0h0m1 0h0m1 0h0m2 0h0m2 0h0m6 0h0m3 0h0m-322 1h0m2 0h0m1 0h0m1 0h0m1 0h0m8 0h0m2 0h0m3 0h0m2 0h0m5 0h0m2 0h0m2 0h0m5 0h0m2 0h0m2 0h0m2 0h0m3 0h0m1 0h0m2 0h0m28 0h0m1 0h0m1 0h0m3 0h0m1 0h0m1 0h0m1 0h0m3 0h0m5 0h0m1 0h0m1 0h0m1 0h0m1 0h0m6 0h0m6 0h0m2 0h0m14 0h0m1 0h0m10 0h0m3 0h0m1 0h0m2 0h0m1 0h0m2 0h0m4 0h0m2 0h0m5 0h0m1 0h0m4 0h0m1 0h0m3 0h0m2 0h0m1 0h0m2 0h0m2 0h0m3 0h0m2 0h0m1 0h0m1 0h0m2 0h0m2 0h0m2 0h0m1 0h0m1 0h0m2 0h0m7 0h0m1 0h0m1 0h0m1 0h0m2 0h0m1 0h0m1 0h0m1 0h0m1 0h0m5 0h0m1 0h0m3 0h0m2 0h0m1 0h0m1 0h0m3 0h0m1 0h0m1 0h0m2 0h0m2 0h0m3 0h0m1 0h0m1 0h0m2 0h0m1 0h0m3 0h0m5 0h0m1 0h0m1 0h0m1 0h0m1 0h0m2 0h0m1 0h0m1 0h0m4 0h0m3 0h0m5 0h0m5 0h0m1 0h0m3 0h0m8 0h0m1 0h0m4 0h0m1 0h0m2 0h0m2 0h0m7 0h0m1 0h0m6 0h0m1 0h0m4 0h0m1 0h0m1 0h0m1 0h0m1 0h0m3 0h0m8 0h0m-321 1h0m1 0h0m1 0h0m2 0h0m7 0h0m1 0h0m3 0h0m2 0h0m17 0h0m1 0h0m5 0h0m32 0h0m1 0h0m2 0h0m3 0h0m1 0h0m1 0h0m3 0h0m1 0h0m1 0h0m1 0h0m7 0h0m2 0h0m11 0h0m1 0h0m2 0h0m7 0h0m1 0h0m3 0h0m5 0h0m4 0h0m6 0h0m2 0h0m1 0h0m4 0h0m2 0h0m1 0h0m1 0h0m3 0h0m1 0h0m2 0h0m1 0h0m9 0h0m1 0h0m9 0h0m1 0h0m2 0h0m2 0h0m5 0h0m1 0h0m1 0h0m1 0h0m1 0h0m3 0h0m3 0h0m1 0h0m1 0h0m2 0h0m1 0h0m1 0h0m1 0h0m1 0h0m1 0h0m1 0h0m1 0h0m2 0h0m2 0h0m1 0h0m1 0h0m2 0h0m2 0h0m2 0h0m1 0h0m3 0h0m1 0h0m1 0h0m2 0h0m1 0h0m4 0h0m1 0h0m1 0h0m1 0h0m1 0h0m1 0h0m8 0h0m1 0h0m2 0h0m2 0h0m1 0h0m1 0h0m2 0h0m2 0h0m1 0h0m1 0h0m9 0h0m2 0h0m2 0h0m1 0h0m9 0h0m3 0h0m11 0h0m3 0h0m1 0h0m6 0h0m1 0h0m1 0h0m1 0h0m5 0h0m1 0h0m12 0h0m1 0h0m2 0h0m-327 1h0m1 0h0m1 0h0m5 0h0m2 0h0m2 0h0m1 0h0m3 0h0m4 0h0m1 0h0m5 0h0m1 0h0m1 0h0m6 0h0m4 0h0m1 0h0m38 0h0m5 0h0m1 0h0m2 0h0m1 0h0m3 0h0m1 0h0m1 0h0m10 0h0m4 0h0m4 0h0m1 0h0m11 0h0m5 0h0m3 0h0m8 0h0m3 0h0m2 0h0m2 0h0m1 0h0m6 0h0m1 0h0m2 0h0m12 0h0m1 0h0m1 0h0m1 0h0m1 0h0m2 0h0m2 0h0m3 0h0m1 0h0m1 0h0m1 0h0m4 0h0m1 0h0m1 0h0m1 0h0m1 0h0m4 0h0m1 0h0m1 0h0m3 0h0m2 0h0m1 0h0m1 0h0m1 0h0m2 0h0m1 0h0m6 0h0m1 0h0m1 0h0m2 0h0m3 0h0m1 0h0m1 0h0m1 0h0m4 0h0m1 0h0m1 0h0m1 0h0m3 0h0m1 0h0m1 0h0m2 0h0m3 0h0m2 0h0m5 0h0m1 0h0m1 0h0m2 0h0m1 0h0m1 0h0m3 0h0m5 0h0m3 0h0m1 0h0m1 0h0m2 0h0m1 0h0m1 0h0m1 0h0m3 0h0m2 0h0m6 0h0m1 0h0m3 0h0m1 0h0m3 0h0m1 0h0m3 0h0m2 0h0m3 0h0m6 0h0m2 0h0m1 0h0m3 0h0m2 0h0m1 0h0m1 0h0m1 0h0m4 0h0m1 0h0m4 0h0m2 0h0m1 0h0m-325 1h0m6 0h0m4 0h0m1 0h0m2 0h0m1 0h0m5 0h0m8 0h0m4 0h0m2 0h0m1 0h0m2 0h0m1 0h0m5 0h0m35 0h0m1 0h0m1 0h0m2 0h0m1 0h0m7 0h0m4 0h0m2 0h0m2 0h0m7 0h0m1 0h0m1 0h0m2 0h0m1 0h0m4 0h0m2 0h0m2 0h0m9 0h0m3 0h0m1 0h0m1 0h0m2 0h0m1 0h0m3 0h0m2 0h0m1 0h0m1 0h0m6 0h0m1 0h0m4 0h0m1 0h0m1 0h0m10 0h0m1 0h0m1 0h0m1 0h0m1 0h0m5 0h0m1 0h0m5 0h0m1 0h0m3 0h0m1 0h0m1 0h0m1 0h0m1 0h0m3 0h0m1 0h0m1 0h0m1 0h0m1 0h0m2 0h0m1 0h0m1 0h0m4 0h0m1 0h0m1 0h0m2 0h0m1 0h0m2 0h0m2 0h0m2 0h0m3 0h0m1 0h0m2 0h0m3 0h0m2 0h0m3 0h0m2 0h0m2 0h0m2 0h0m3 0h0m6 0h0m1 0h0m5 0h0m1 0h0m1 0h0m1 0h0m2 0h0m10 0h0m3 0h0m1 0h0m1 0h0m2 0h0m1 0h0m1 0h0m3 0h0m2 0h0m1 0h0m3 0h0m4 0h0m2 0h0m9 0h0m4 0h0m1 0h0m2 0h0m1 0h0m2 0h0m1 0h0m1 0h0m2 0h0m1 0h0m4 0h0m3 0h0m-316 1h0m2 0h0m2 0h0m1 0h0m3 0h0m4 0h0m4 0h0m1 0h0m1 0h0m2 0h0m4 0h0m1 0h0m3 0h0m1 0h0m12 0h0m34 0h0m1 0h0m1 0h0m2 0h0m5 0h0m3 0h0m3 0h0m1 0h0m1 0h0m1 0h0m6 0h0m2 0h0m3 0h0m2 0h0m15 0h0m3 0h0m7 0h0m3 0h0m2 0h0m1 0h0m1 0h0m1 0h0m6 0h0m1 0h0m2 0h0m2 0h0m1 0h0m1 0h0m10 0h0m3 0h0m6 0h0m1 0h0m1 0h0m2 0h0m1 0h0m1 0h0m1 0h0m2 0h0m1 0h0m1 0h0m2 0h0m2 0h0m1 0h0m1 0h0m1 0h0m1 0h0m3 0h0m3 0h0m2 0h0m1 0h0m1 0h0m1 0h0m1 0h0m1 0h0m3 0h0m2 0h0m3 0h0m1 0h0m1 0h0m1 0h0m1 0h0m1 0h0m1 0h0m1 0h0m2 0h0m1 0h0m1 0h0m2 0h0m1 0h0m2 0h0m4 0h0m2 0h0m3 0h0m1 0h0m2 0h0m2 0h0m1 0h0m1 0h0m1 0h0m1 0h0m4 0h0m1 0h0m12 0h0m1 0h0m2 0h0m3 0h0m1 0h0m1 0h0m5 0h0m1 0h0m2 0h0m3 0h0m4 0h0m1 0h0m4 0h0m1 0h0m2 0h0m1 0h0m6 0h0m3 0h0m5 0h0m4 0h0m3 0h0m6 0h0m2 0h0m2 0h0m-326 1h0m2 0h0m3 0h0m1 0h0m1 0h0m1 0h0m2 0h0m4 0h0m3 0h0m9 0h0m1 0h0m4 0h0m13 0h0m29 0h0m1 0h0m3 0h0m2 0h0m9 0h0m5 0h0m1 0h0m7 0h0m2 0h0m1 0h0m9 0h0m4 0h0m7 0h0m2 0h0m10 0h0m3 0h0m1 0h0m2 0h0m2 0h0m5 0h0m2 0h0m12 0h0m2 0h0m1 0h0m1 0h0m8 0h0m1 0h0m1 0h0m1 0h0m1 0h0m3 0h0m2 0h0m3 0h0m2 0h0m1 0h0m1 0h0m1 0h0m2 0h0m1 0h0m2 0h0m2 0h0m1 0h0m2 0h0m1 0h0m5 0h0m2 0h0m1 0h0m3 0h0m1 0h0m3 0h0m2 0h0m1 0h0m2 0h0m9 0h0m2 0h0m3 0h0m4 0h0m1 0h0m1 0h0m4 0h0m2 0h0m4 0h0m11 0h0m2 0h0m5 0h0m5 0h0m1 0h0m4 0h0m3 0h0m3 0h0m4 0h0m3 0h0m1 0h0m6 0h0m3 0h0m2 0h0m4 0h0m6 0h0m2 0h0m1 0h0m2 0h0m-320 1h0m4 0h0m1 0h0m3 0h0m4 0h0m2 0h0m3 0h0m1 0h0m1 0h0m1 0h0m5 0h0m1 0h0m3 0h0m5 0h0m5 0h0m1 0h0m2 0h0m31 0h0m3 0h0m4 0h0m1 0h0m3 0h0m2 0h0m7 0h0m2 0h0m1 0h0m3 0h0m3 0h0m2 0h0m1 0h0m6 0h0m6 0h0m6 0h0m12 0h0m1 0h0m1 0h0m2 0h0m1 0h0m2 0h0m1 0h0m2 0h0m2 0h0m1 0h0m1 0h0m3 0h0m1 0h0m5 0h0m4 0h0m1 0h0m1 0h0m1 0h0m2 0h0m8 0h0m1 0h0m1 0h0m1 0h0m2 0h0m1 0h0m1 0h0m1 0h0m1 0h0m1 0h0m2 0h0m1 0h0m1 0h0m4 0h0m1 0h0m1 0h0m3 0h0m1 0h0m2 0h0m1 0h0m1 0h0m4 0h0m1 0h0m1 0h0m1 0h0m1 0h0m1 0h0m1 0h0m1 0h0m1 0h0m1 0h0m1 0h0m2 0h0m1 0h0m1 0h0m1 0h0m7 0h0m5 0h0m4 0h0m1 0h0m2 0h0m1 0h0m1 0h0m1 0h0m4 0h0m4 0h0m9 0h0m2 0h0m1 0h0m2 0h0m2 0h0m3 0h0m8 0h0m3 0h0m1 0h0m1 0h0m1 0h0m1 0h0m6 0h0m2 0h0m3 0h0m2 0h0m7 0h0m2 0h0m1 0h0m1 0h0m3 0h0m1 0h0m7 0h0m-321 1h0m3 0h0m1 0h0m2 0h0m1 0h0m1 0h0m1 0h0m1 0h0m1 0h0m1 0h0m4 0h0m1 0h0m1 0h0m5 0h0m1 0h0m8 0h0m1 0h0m2 0h0m2 0h0m1 0h0m2 0h0m1 0h0m2 0h0m1 0h0m2 0h0m26 0h0m1 0h0m1 0h0m1 0h0m1 0h0m1 0h0m2 0h0m1 0h0m1 0h0m1 0h0m3 0h0m1 0h0m2 0h0m4 0h0m1 0h0m7 0h0m2 0h0m3 0h0m3 0h0m4 0h0m1 0h0m1 0h0m3 0h0m4 0h0m1 0h0m3 0h0m2 0h0m2 0h0m4 0h0m3 0h0m1 0h0m3 0h0m1 0h0m3 0h0m1 0h0m1 0h0m2 0h0m2 0h0m1 0h0m2 0h0m1 0h0m8 0h0m1 0h0m1 0h0m1 0h0m1 0h0m4 0h0m2 0h0m1 0h0m1 0h0m1 0h0m1 0h0m1 0h0m1 0h0m1 0h0m2 0h0m1 0h0m2 0h0m1 0h0m1 0h0m1 0h0m1 0h0m1 0h0m2 0h0m2 0h0m1 0h0m1 0h0m3 0h0m1 0h0m1 0h0m1 0h0m1 0h0m1 0h0m3 0h0m2 0h0m1 0h0m2 0h0m2 0h0m1 0h0m2 0h0m1 0h0m1 0h0m1 0h0m2 0h0m1 0h0m1 0h0m1 0h0m1 0h0m3 0h0m1 0h0m2 0h0m5 0h0m2 0h0m1 0h0m1 0h0m1 0h0m1 0h0m1 0h0m3 0h0m2 0h0m2 0h0m5 0h0m1 0h0m6 0h0m1 0h0m1 0h0m1 0h0m1 0h0m1 0h0m4 0h0m3 0h0m1 0h0m2 0h0m5 0h0m1 0h0m3 0h0m1 0h0m3 0h0m2 0h0m10 0h0m1 0h0m1 0h0m1 0h0m1 0h0m1 0h0m2 0h0m3 0h0m3 0h0m3 0h0m4 0h0m2 0h0m1 0h0m-325 1h0m1 0h0m1 0h0m1 0h0m4 0h0m1 0h0m1 0h0m2 0h0m1 0h0m1 0h0m3 0h0m1 0h0m1 0h0m2 0h0m1 0h0m3 0h0m1 0h0m1 0h0m1 0h0m1 0h0m1 0h0m2 0h0m1 0h0m1 0h0m1 0h0m1 0h0m1 0h0m1 0h0m1 0h0m5 0h0m1 0h0m1 0h0m1 0h0m26 0h0m1 0h0m2 0h0m1 0h0m2 0h0m1 0h0m1 0h0m1 0h0m1 0h0m1 0h0m1 0h0m3 0h0m2 0h0m1 0h0m1 0h0m2 0h0m1 0h0m2 0h0m3 0h0m1 0h0m1 0h0m1 0h0m1 0h0m1 0h0m1 0h0m1 0h0m1 0h0m1 0h0m1 0h0m1 0h0m4 0h0m2 0h0m1 0h0m1 0h0m1 0h0m1 0h0m2 0h0m1 0h0m2 0h0m1 0h0m1 0h0m1 0h0m1 0h0m1 0h0m2 0h0m1 0h0m1 0h0m1 0h0m2 0h0m1 0h0m2 0h0m4 0h0m2 0h0m1 0h0m2 0h0m2 0h0m3 0h0m4 0h0m4 0h0m1 0h0m1 0h0m1 0h0m1 0h0m2 0h0m1 0h0m2 0h0m2 0h0m2 0h0m1 0h0m2 0h0m1 0h0m1 0h0m1 0h0m1 0h0m1 0h0m1 0h0m1 0h0m1 0h0m1 0h0m1 0h0m2 0h0m1 0h0m4 0h0m1 0h0m1 0h0m1 0h0m1 0h0m1 0h0m1 0h0m2 0h0m1 0h0m1 0h0m1 0h0m1 0h0m1 0h0m2 0h0m1 0h0m2 0h0m1 0h0m1 0h0m1 0h0m1 0h0m2 0h0m1 0h0m1 0h0m2 0h0m1 0h0m1 0h0m1 0h0m1 0h0m1 0h0m1 0h0m2 0h0m1 0h0m1 0h0m1 0h0m1 0h0m1 0h0m2 0h0m1 0h0m1 0h0m1 0h0m2 0h0m1 0h0m1 0h0m1 0h0m1 0h0m1 0h0m2 0h0m2 0h0m3 0h0m1 0h0m1 0h0m1 0h0m1 0h0m1 0h0m2 0h0m1 0h0m1 0h0m1 0h0m1 0h0m1 0h0m1 0h0m2 0h0m1 0h0m2 0h0m1 0h0m1 0h0m2 0h0m1 0h0m2 0h0m1 0h0m1 0h0m3 0h0m1 0h0m2 0h0m1 0h0m2 0h0m1 0h0m1 0h0m3 0h0m2 0h0m1 0h0m1 0h0m1 0h0m1 0h0m1 0h0m1 0h0m2 0h0m1 0h0m1 0h0m1 0h0m2 0h0m1 0h0m1 0h0m2 0h0m2 0h0m1 0h0m1 0h0m1 0h0m3 0h0m2 0h0m-325 1h0m1 0h0m1 0h0m2 0h0m1 0h0m2 0h0m6 0h0m3 0h0m1 0h0m1 0h0m2 0h0m3 0h0m2 0h0m3 0h0m1 0h0m1 0h0m4 0h0m5 0h0m4 0h0m1 0h0m29 0h0m2 0h0m1 0h0m1 0h0m1 0h0m1 0h0m2 0h0m1 0h0m3 0h0m1 0h0m4 0h0m1 0h0m1 0h0m4 0h0m3 0h0m5 0h0m4 0h0m4 0h0m3 0h0m3 0h0m3 0h0m6 0h0m1 0h0m1 0h0m2 0h0m2 0h0m1 0h0m1 0h0m1 0h0m1 0h0m2 0h0m1 0h0m2 0h0m1 0h0m1 0h0m1 0h0m2 0h0m1 0h0m4 0h0m1 0h0m1 0h0m4 0h0m4 0h0m1 0h0m1 0h0m1 0h0m1 0h0m1 0h0m3 0h0m4 0h0m1 0h0m1 0h0m1 0h0m1 0h0m1 0h0m1 0h0m2 0h0m3 0h0m1 0h0m3 0h0m1 0h0m1 0h0m2 0h0m2 0h0m3 0h0m1 0h0m1 0h0m1 0h0m1 0h0m5 0h0m1 0h0m1 0h0m3 0h0m1 0h0m2 0h0m4 0h0m1 0h0m2 0h0m1 0h0m1 0h0m3 0h0m4 0h0m2 0h0m2 0h0m4 0h0m2 0h0m3 0h0m2 0h0m1 0h0m1 0h0m1 0h0m2 0h0m9 0h0m6 0h0m1 0h0m1 0h0m1 0h0m4 0h0m1 0h0m5 0h0m8 0h0m4 0h0m2 0h0m3 0h0m1 0h0m1 0h0m2 0h0m1 0h0m1 0h0m2 0h0m2 0h0m2 0h0m1 0h0m1 0h0m1 0h0m1 0h0m3 0h0m1 0h0m2 0h0m2 0h0m3 0h0m2 0h0m-324 1h0m3 0h0m5 0h0m3 0h0m6 0h0m7 0h0m4 0h0m5 0h0m5 0h0m4 0h0m1 0h0m30 0h0m1 0h0m1 0h0m2 0h0m1 0h0m1 0h0m1 0h0m3 0h0m3 0h0m4 0h0m2 0h0m1 0h0m11 0h0m6 0h0m1 0h0m11 0h0m2 0h0m4 0h0m3 0h0m5 0h0m1 0h0m1 0h0m1 0h0m4 0h0m1 0h0m1 0h0m2 0h0m3 0h0m2 0h0m2 0h0m7 0h0m1 0h0m2 0h0m1 0h0m3 0h0m2 0h0m1 0h0m3 0h0m1 0h0m3 0h0m1 0h0m1 0h0m1 0h0m2 0h0m1 0h0m3 0h0m1 0h0m1 0h0m1 0h0m2 0h0m1 0h0m1 0h0m2 0h0m1 0h0m1 0h0m3 0h0m1 0h0m4 0h0m1 0h0m1 0h0m1 0h0m1 0h0m1 0h0m1 0h0m1 0h0m1 0h0m6 0h0m2 0h0m1 0h0m7 0h0m1 0h0m1 0h0m1 0h0m2 0h0m4 0h0m1 0h0m3 0h0m3 0h0m1 0h0m2 0h0m2 0h0m1 0h0m2 0h0m1 0h0m2 0h0m5 0h0m1 0h0m1 0h0m11 0h0m2 0h0m5 0h0m2 0h0m2 0h0m6 0h0m6 0h0m3 0h0m2 0h0m3 0h0m1 0h0m1 0h0m1 0h0m1 0h0m8 0h0m2 0h0m1 0h0m1 0h0m1 0h0m1 0h0m-326 1h0m4 0h0m1 0h0m3 0h0m1 0h0m1 0h0m1 0h0m4 0h0m2 0h0m1 0h0m1 0h0m7 0h0m5 0h0m1 0h0m1 0h0m4 0h0m3 0h0m3 0h0m1 0h0m29 0h0m1 0h0m1 0h0m1 0h0m1 0h0m5 0h0m1 0h0m1 0h0m2 0h0m8 0h0m1 0h0m5 0h0m1 0h0m1 0h0m4 0h0m1 0h0m3 0h0m2 0h0m2 0h0m10 0h0m6 0h0m1 0h0m3 0h0m4 0h0m1 0h0m1 0h0m1 0h0m2 0h0m1 0h0m1 0h0m2 0h0m1 0h0m2 0h0m2 0h0m1 0h0m1 0h0m3 0h0m1 0h0m2 0h0m3 0h0m3 0h0m1 0h0m2 0h0m6 0h0m1 0h0m1 0h0m1 0h0m2 0h0m1 0h0m2 0h0m2 0h0m1 0h0m1 0h0m2 0h0m2 0h0m3 0h0m1 0h0m4 0h0m2 0h0m2 0h0m1 0h0m5 0h0m1 0h0m2 0h0m1 0h0m1 0h0m1 0h0m2 0h0m1 0h0m2 0h0m1 0h0m1 0h0m1 0h0m1 0h0m1 0h0m1 0h0m5 0h0m1 0h0m1 0h0m2 0h0m1 0h0m2 0h0m2 0h0m1 0h0m1 0h0m2 0h0m1 0h0m1 0h0m1 0h0m2 0h0m2 0h0m2 0h0m5 0h0m1 0h0m2 0h0m4 0h0m1 0h0m1 0h0m4 0h0m1 0h0m15 0h0m1 0h0m5 0h0m5 0h0m2 0h0m3 0h0m2 0h0m1 0h0m1 0h0m1 0h0m1 0h0m1 0h0m2 0h0m7 0h0m1 0h0m1 0h0m1 0h0m1 0h0m3 0h0m-327 1h0m1 0h0m6 0h0m2 0h0m5 0h0m4 0h0m1 0h0m1 0h0m2 0h0m1 0h0m4 0h0m4 0h0m3 0h0m1 0h0m3 0h0m4 0h0m3 0h0m1 0h0m28 0h0m1 0h0m1 0h0m1 0h0m1 0h0m1 0h0m1 0h0m3 0h0m1 0h0m1 0h0m2 0h0m3 0h0m2 0h0m2 0h0m2 0h0m1 0h0m1 0h0m3 0h0m6 0h0m1 0h0m1 0h0m7 0h0m1 0h0m2 0h0m6 0h0m3 0h0m1 0h0m4 0h0m1 0h0m1 0h0m3 0h0m1 0h0m2 0h0m2 0h0m2 0h0m2 0h0m1 0h0m2 0h0m1 0h0m1 0h0m1 0h0m1 0h0m1 0h0m9 0h0m1 0h0m1 0h0m1 0h0m1 0h0m1 0h0m2 0h0m1 0h0m2 0h0m2 0h0m1 0h0m1 0h0m1 0h0m1 0h0m1 0h0m1 0h0m1 0h0m1 0h0m1 0h0m1 0h0m1 0h0m1 0h0m2 0h0m1 0h0m1 0h0m1 0h0m1 0h0m1 0h0m2 0h0m1 0h0m1 0h0m1 0h0m2 0h0m1 0h0m1 0h0m2 0h0m2 0h0m2 0h0m1 0h0m2 0h0m2 0h0m2 0h0m1 0h0m3 0h0m1 0h0m3 0h0m1 0h0m1 0h0m2 0h0m2 0h0m1 0h0m2 0h0m1 0h0m1 0h0m1 0h0m1 0h0m1 0h0m2 0h0m1 0h0m1 0h0m5 0h0m2 0h0m3 0h0m1 0h0m3 0h0m1 0h0m1 0h0m3 0h0m4 0h0m1 0h0m1 0h0m1 0h0m1 0h0m1 0h0m4 0h0m1 0h0m9 0h0m2 0h0m2 0h0m5 0h0m3 0h0m4 0h0m3 0h0m1 0h0m1 0h0m1 0h0m1 0h0m1 0h0m1 0h0m1 0h0m1 0h0m1 0h0m3 0h0m2 0h0m4 0h0m1 0h0m3 0h0m1 0h0m-327 1h0m2 0h0m3 0h0m1 0h0m10 0h0m2 0h0m3 0h0m4 0h0m2 0h0m5 0h0m8 0h0m5 0h0m30 0h0m7 0h0m2 0h0m2 0h0m3 0h0m1 0h0m4 0h0m9 0h0m3 0h0m2 0h0m2 0h0m18 0h0m2 0h0m3 0h0m1 0h0m1 0h0m4 0h0m3 0h0m2 0h0m1 0h0m2 0h0m2 0h0m1 0h0m1 0h0m1 0h0m3 0h0m9 0h0m1 0h0m1 0h0m1 0h0m2 0h0m7 0h0m2 0h0m1 0h0m2 0h0m5 0h0m2 0h0m1 0h0m1 0h0m1 0h0m2 0h0m2 0h0m3 0h0m2 0h0m2 0h0m1 0h0m1 0h0m3 0h0m4 0h0m2 0h0m3 0h0m2 0h0m3 0h0m1 0h0m1 0h0m1 0h0m1 0h0m1 0h0m6 0h0m1 0h0m2 0h0m1 0h0m4 0h0m1 0h0m2 0h0m4 0h0m1 0h0m1 0h0m1 0h0m1 0h0m1 0h0m1 0h0m1 0h0m3 0h0m1 0h0m6 0h0m1 0h0m1 0h0m1 0h0m2 0h0m1 0h0m1 0h0m6 0h0m7 0h0m4 0h0m8 0h0m3 0h0m4 0h0m1 0h0m4 0h0m1 0h0m1 0h0m1 0h0m2 0h0m5 0h0m2 0h0m3 0h0m3 0h0m1 0h0m-326 1h0m2 0h0m7 0h0m7 0h0m1 0h0m2 0h0m1 0h0m6 0h0m5 0h0m1 0h0m3 0h0m2 0h0m2 0h0m1 0h0m2 0h0m2 0h0m2 0h0m27 0h0m3 0h0m2 0h0m1 0h0m2 0h0m2 0h0m1 0h0m1 0h0m4 0h0m3 0h0m1 0h0m3 0h0m7 0h0m2 0h0m1 0h0m21 0h0m1 0h0m1 0h0m4 0h0m1 0h0m1 0h0m2 0h0m3 0h0m1 0h0m1 0h0m3 0h0m1 0h0m1 0h0m1 0h0m5 0h0m2 0h0m4 0h0m4 0h0m1 0h0m1 0h0m1 0h0m1 0h0m1 0h0m1 0h0m2 0h0m2 0h0m2 0h0m2 0h0m3 0h0m3 0h0m1 0h0m2 0h0m3 0h0m2 0h0m1 0h0m1 0h0m1 0h0m3 0h0m2 0h0m3 0h0m2 0h0m5 0h0m2 0h0m6 0h0m3 0h0m1 0h0m1 0h0m1 0h0m1 0h0m2 0h0m1 0h0m2 0h0m1 0h0m2 0h0m3 0h0m1 0h0m1 0h0m1 0h0m2 0h0m2 0h0m2 0h0m1 0h0m1 0h0m1 0h0m2 0h0m3 0h0m2 0h0m10 0h0m1 0h0m1 0h0m1 0h0m1 0h0m3 0h0m4 0h0m4 0h0m8 0h0m1 0h0m4 0h0m7 0h0m1 0h0m4 0h0m2 0h0m1 0h0m3 0h0m1 0h0m1 0h0m2 0h0m3 0h0m1 0h0m2 0h0m4 0h0m2 0h0m-327 1h0m2 0h0m1 0h0m1 0h0m1 0h0m1 0h0m2 0h0m2 0h0m1 0h0m1 0h0m1 0h0m1 0h0m1 0h0m2 0h0m1 0h0m1 0h0m1 0h0m1 0h0m1 0h0m1 0h0m1 0h0m1 0h0m1 0h0m1 0h0m1 0h0m1 0h0m2 0h0m1 0h0m1 0h0m2 0h0m3 0h0m1 0h0m1 0h0m1 0h0m1 0h0m2 0h0m1 0h0m1 0h0m1 0h0m1 0h0m26 0h0m1 0h0m1 0h0m1 0h0m2 0h0m1 0h0m1 0h0m1 0h0m1 0h0m1 0h0m1 0h0m1 0h0m1 0h0m1 0h0m1 0h0m1 0h0m1 0h0m1 0h0m1 0h0m1 0h0m1 0h0m1 0h0m1 0h0m1 0h0m1 0h0m1 0h0m1 0h0m1 0h0m2 0h0m1 0h0m1 0h0m1 0h0m2 0h0m1 0h0m1 0h0m1 0h0m1 0h0m2 0h0m1 0h0m1 0h0m1 0h0m1 0h0m2 0h0m1 0h0m1 0h0m1 0h0m1 0h0m1 0h0m1 0h0m2 0h0m1 0h0m1 0h0m2 0h0m1 0h0m1 0h0m1 0h0m1 0h0m1 0h0m1 0h0m1 0h0m1 0h0m2 0h0m1 0h0m1 0h0m1 0h0m1 0h0m1 0h0m1 0h0m1 0h0m1 0h0m3 0h0m1 0h0m2 0h0m1 0h0m1 0h0m1 0h0m4 0h0m1 0h0m1 0h0m1 0h0m1 0h0m1 0h0m1 0h0m1 0h0m1 0h0m1 0h0m1 0h0m1 0h0m1 0h0m1 0h0m1 0h0m1 0h0m1 0h0m1 0h0m1 0h0m1 0h0m1 0h0m1 0h0m1 0h0m1 0h0m1 0h0m1 0h0m1 0h0m1 0h0m1 0h0m1 0h0m1 0h0m1 0h0m1 0h0m1 0h0m1 0h0m1 0h0m1 0h0m1 0h0m1 0h0m1 0h0m1 0h0m2 0h0m1 0h0m1 0h0m1 0h0m1 0h0m1 0h0m1 0h0m1 0h0m1 0h0m1 0h0m1 0h0m1 0h0m1 0h0m1 0h0m1 0h0m1 0h0m1 0h0m1 0h0m1 0h0m1 0h0m1 0h0m1 0h0m1 0h0m1 0h0m1 0h0m1 0h0m1 0h0m1 0h0m1 0h0m1 0h0m1 0h0m1 0h0m1 0h0m1 0h0m1 0h0m1 0h0m1 0h0m1 0h0m1 0h0m1 0h0m2 0h0m1 0h0m1 0h0m1 0h0m1 0h0m1 0h0m1 0h0m1 0h0m1 0h0m1 0h0m1 0h0m1 0h0m2 0h0m1 0h0m1 0h0m1 0h0m1 0h0m1 0h0m1 0h0m1 0h0m1 0h0m2 0h0m1 0h0m1 0h0m1 0h0m2 0h0m1 0h0m2 0h0m3 0h0m1 0h0m1 0h0m1 0h0m1 0h0m1 0h0m1 0h0m1 0h0m3 0h0m1 0h0m1 0h0m1 0h0m1 0h0m1 0h0m3 0h0m1 0h0m1 0h0m1 0h0m1 0h0m1 0h0m1 0h0m1 0h0m1 0h0m2 0h0m1 0h0m3 0h0m1 0h0m1 0h0m1 0h0m1 0h0m1 0h0m1 0h0m1 0h0m1 0h0m1 0h0m1 0h0m1 0h0m1 0h0m1 0h0m1 0h0m-322 1h0m5 0h0m1 0h0m3 0h0m3 0h0m3 0h0m1 0h0m4 0h0m6 0h0m3 0h0m3 0h0m1 0h0m1 0h0m3 0h0m1 0h0m3 0h0m28 0h0m1 0h0m2 0h0m4 0h0m1 0h0m4 0h0m2 0h0m1 0h0m5 0h0m1 0h0m3 0h0m7 0h0m2 0h0m18 0h0m5 0h0m4 0h0m1 0h0m2 0h0m2 0h0m1 0h0m3 0h0m1 0h0m3 0h0m1 0h0m1 0h0m1 0h0m3 0h0m2 0h0m6 0h0m5 0h0m1 0h0m1 0h0m1 0h0m3 0h0m3 0h0m1 0h0m1 0h0m2 0h0m5 0h0m3 0h0m1 0h0m1 0h0m2 0h0m1 0h0m1 0h0m1 0h0m2 0h0m1 0h0m3 0h0m2 0h0m1 0h0m1 0h0m3 0h0m3 0h0m1 0h0m2 0h0m8 0h0m3 0h0m2 0h0m2 0h0m1 0h0m2 0h0m1 0h0m2 0h0m1 0h0m1 0h0m1 0h0m3 0h0m3 0h0m1 0h0m2 0h0m1 0h0m1 0h0m1 0h0m15 0h0m3 0h0m1 0h0m2 0h0m1 0h0m1 0h0m4 0h0m5 0h0m2 0h0m2 0h0m5 0h0m3 0h0m2 0h0m3 0h0m3 0h0m4 0h0m2 0h0m4 0h0m2 0h0m10 0h0m4 0h0m-323 1h0m15 0h0m1 0h0m1 0h0m3 0h0m3 0h0m7 0h0m12 0h0m28 0h0m3 0h0m1 0h0m1 0h0m4 0h0m1 0h0m8 0h0m1 0h0m10 0h0m6 0h0m2 0h0m1 0h0m20 0h0m3 0h0m2 0h0m3 0h0m2 0h0m1 0h0m4 0h0m3 0h0m1 0h0m2 0h0m1 0h0m1 0h0m6 0h0m4 0h0m5 0h0m1 0h0m2 0h0m4 0h0m1 0h0m2 0h0m3 0h0m3 0h0m1 0h0m1 0h0m5 0h0m1 0h0m1 0h0m3 0h0m1 0h0m1 0h0m1 0h0m2 0h0m1 0h0m1 0h0m3 0h0m1 0h0m4 0h0m5 0h0m4 0h0m1 0h0m1 0h0m3 0h0m2 0h0m2 0h0m1 0h0m7 0h0m3 0h0m1 0h0m3 0h0m4 0h0m15 0h0m3 0h0m1 0h0m1 0h0m17 0h0m6 0h0m3 0h0m7 0h0m5 0h0m1 0h0m3 0h0m1 0h0m1 0h0m-310 1h0m2 0h0m1 0h0m2 0h0m3 0h0m1 0h0m1 0h0m4 0h0m2 0h0m2 0h0m10 0h0m1 0h0m2 0h0m4 0h0m1 0h0m2 0h0m32 0h0m1 0h0m2 0h0m3 0h0m1 0h0m1 0h0m1 0h0m1 0h0m1 0h0m1 0h0m2 0h0m1 0h0m2 0h0m2 0h0m2 0h0m3 0h0m6 0h0m1 0h0m1 0h0m2 0h0m1 0h0m1 0h0m4 0h0m1 0h0m1 0h0m1 0h0m4 0h0m1 0h0m3 0h0m1 0h0m2 0h0m1 0h0m2 0h0m3 0h0m4 0h0m2 0h0m1 0h0m3 0h0m1 0h0m4 0h0m6 0h0m1 0h0m2 0h0m1 0h0m6 0h0m1 0h0m1 0h0m1 0h0m2 0h0m1 0h0m1 0h0m1 0h0m3 0h0m1 0h0m2 0h0m2 0h0m1 0h0m2 0h0m1 0h0m1 0h0m1 0h0m1 0h0m2 0h0m1 0h0m1 0h0m1 0h0m1 0h0m1 0h0m3 0h0m2 0h0m1 0h0m1 0h0m1 0h0m2 0h0m5 0h0m1 0h0m2 0h0m1 0h0m1 0h0m1 0h0m2 0h0m2 0h0m1 0h0m1 0h0m1 0h0m3 0h0m1 0h0m2 0h0m1 0h0m2 0h0m2 0h0m1 0h0m3 0h0m1 0h0m1 0h0m1 0h0m1 0h0m1 0h0m2 0h0m1 0h0m4 0h0m1 0h0m2 0h0m1 0h0m7 0h0m3 0h0m1 0h0m1 0h0m2 0h0m1 0h0m1 0h0m15 0h0m3 0h0m7 0h0m8 0h0m1 0h0m1 0h0m3 0h0m1 0h0m1 0h0m3 0h0m5 0h0m5 0h0m1 0h0m2 0h0m-322 1h0m2 0h0m1 0h0m2 0h0m1 0h0m7 0h0m1 0h0m1 0h0m1 0h0m2 0h0m2 0h0m3 0h0m9 0h0m7 0h0m32 0h0m1 0h0m2 0h0m1 0h0m1 0h0m3 0h0m2 0h0m2 0h0m1 0h0m3 0h0m4 0h0m1 0h0m2 0h0m8 0h0m1 0h0m5 0h0m1 0h0m7 0h0m4 0h0m1 0h0m4 0h0m2 0h0m4 0h0m4 0h0m1 0h0m1 0h0m1 0h0m1 0h0m1 0h0m3 0h0m4 0h0m2 0h0m1 0h0m1 0h0m6 0h0m3 0h0m1 0h0m1 0h0m1 0h0m1 0h0m1 0h0m1 0h0m1 0h0m6 0h0m1 0h0m2 0h0m3 0h0m1 0h0m3 0h0m3 0h0m1 0h0m1 0h0m1 0h0m1 0h0m1 0h0m2 0h0m1 0h0m2 0h0m3 0h0m1 0h0m1 0h0m1 0h0m5 0h0m4 0h0m4 0h0m3 0h0m1 0h0m1 0h0m1 0h0m1 0h0m1 0h0m3 0h0m2 0h0m2 0h0m3 0h0m3 0h0m1 0h0m1 0h0m1 0h0m1 0h0m2 0h0m2 0h0m1 0h0m2 0h0m3 0h0m12 0h0m1 0h0m2 0h0m1 0h0m1 0h0m2 0h0m5 0h0m3 0h0m9 0h0m1 0h0m5 0h0m2 0h0m4 0h0m1 0h0m1 0h0m3 0h0m1 0h0m4 0h0m1 0h0m5 0h0m4 0h0m1 0h0m1 0h0m3 0h0m-325 1h0m1 0h0m1 0h0m6 0h0m4 0h0m4 0h0m1 0h0m3 0h0m4 0h0m9 0h0m3 0h0m3 0h0m35 0h0m1 0h0m1 0h0m8 0h0m2 0h0m5 0h0m1 0h0m7 0h0m5 0h0m1 0h0m1 0h0m20 0h0m1 0h0m6 0h0m3 0h0m1 0h0m1 0h0m1 0h0m4 0h0m1 0h0m2 0h0m5 0h0m3 0h0m2 0h0m6 0h0m1 0h0m1 0h0m7 0h0m1 0h0m2 0h0m1 0h0m1 0h0m1 0h0m2 0h0m2 0h0m1 0h0m1 0h0m2 0h0m3 0h0m1 0h0m3 0h0m1 0h0m1 0h0m2 0h0m5 0h0m1 0h0m2 0h0m3 0h0m1 0h0m1 0h0m1 0h0m4 0h0m2 0h0m2 0h0m1 0h0m1 0h0m2 0h0m3 0h0m2 0h0m2 0h0m1 0h0m8 0h0m3 0h0m2 0h0m3 0h0m2 0h0m2 0h0m3 0h0m12 0h0m1 0h0m1 0h0m1 0h0m18 0h0m10 0h0m4 0h0m6 0h0m1 0h0m1 0h0m1 0h0m9 0h0m-319 1h0m3 0h0m2 0h0m6 0h0m3 0h0m1 0h0m3 0h0m6 0h0m2 0h0m11 0h0m36 0h0m2 0h0m1 0h0m5 0h0m3 0h0m6 0h0m2 0h0m1 0h0m1 0h0m9 0h0m5 0h0m1 0h0m5 0h0m6 0h0m11 0h0m6 0h0m1 0h0m3 0h0m3 0h0m3 0h0m7 0h0m11 0h0m1 0h0m2 0h0m2 0h0m6 0h0m11 0h0m4 0h0m1 0h0m2 0h0m2 0h0m1 0h0m1 0h0m1 0h0m1 0h0m2 0h0m2 0h0m2 0h0m5 0h0m1 0h0m3 0h0m1 0h0m2 0h0m4 0h0m1 0h0m5 0h0m3 0h0m12 0h0m2 0h0m2 0h0m1 0h0m12 0h0m3 0h0m2 0h0m2 0h0m1 0h0m10 0h0m3 0h0m2 0h0m5 0h0m2 0h0m7 0h0m2 0h0m5 0h0m1 0h0m1 0h0m1 0h0m4 0h0m1 0h0m5 0h0m5 0h0m-322 1h0m1 0h0m3 0h0m3 0h0m1 0h0m1 0h0m1 0h0m2 0h0m5 0h0m3 0h0m10 0h0m2 0h0m1 0h0m6 0h0m34 0h0m2 0h0m2 0h0m1 0h0m3 0h0m3 0h0m4 0h0m5 0h0m1 0h0m18 0h0m13 0h0m1 0h0m1 0h0m4 0h0m3 0h0m2 0h0m1 0h0m2 0h0m1 0h0m1 0h0m1 0h0m2 0h0m1 0h0m1 0h0m1 0h0m2 0h0m1 0h0m2 0h0m3 0h0m3 0h0m1 0h0m5 0h0m2 0h0m2 0h0m3 0h0m1 0h0m1 0h0m1 0h0m1 0h0m1 0h0m1 0h0m1 0h0m3 0h0m4 0h0m1 0h0m1 0h0m2 0h0m3 0h0m1 0h0m1 0h0m1 0h0m2 0h0m2 0h0m1 0h0m3 0h0m1 0h0m2 0h0m3 0h0m1 0h0m3 0h0m2 0h0m5 0h0m1 0h0m1 0h0m1 0h0m1 0h0m1 0h0m1 0h0m2 0h0m2 0h0m1 0h0m1 0h0m1 0h0m4 0h0m1 0h0m2 0h0m1 0h0m2 0h0m2 0h0m3 0h0m1 0h0m2 0h0m9 0h0m2 0h0m2 0h0m4 0h0m1 0h0m1 0h0m2 0h0m4 0h0m3 0h0m1 0h0m4 0h0m2 0h0m8 0h0m6 0h0m3 0h0m4 0h0m13 0h0m3 0h0m1 0h0m2 0h0m-327 1h0m12 0h0m3 0h0m2 0h0m2 0h0m1 0h0m6 0h0m1 0h0m2 0h0m1 0h0m1 0h0m3 0h0m5 0h0m3 0h0m6 0h0m35 0h0m1 0h0m5 0h0m14 0h0m1 0h0m9 0h0m11 0h0m11 0h0m3 0h0m3 0h0m2 0h0m1 0h0m1 0h0m1 0h0m7 0h0m6 0h0m1 0h0m5 0h0m1 0h0m1 0h0m1 0h0m4 0h0m1 0h0m3 0h0m1 0h0m1 0h0m2 0h0m2 0h0m1 0h0m1 0h0m2 0h0m4 0h0m4 0h0m2 0h0m1 0h0m1 0h0m2 0h0m1 0h0m1 0h0m1 0h0m1 0h0m1 0h0m5 0h0m1 0h0m1 0h0m4 0h0m7 0h0m1 0h0m3 0h0m5 0h0m1 0h0m16 0h0m1 0h0m7 0h0m6 0h0m1 0h0m3 0h0m1 0h0m2 0h0m1 0h0m2 0h0m4 0h0m11 0h0m1 0h0m7 0h0m12 0h0m2 0h0m2 0h0m2 0h0m3 0h0m1 0h0m2 0h0m2 0h0m2 0h0m-324 1h0m1 0h0m4 0h0m2 0h0m3 0h0m1 0h0m3 0h0m3 0h0m3 0h0m6 0h0m2 0h0m5 0h0m5 0h0m1 0h0m1 0h0m37 0h0m1 0h0m3 0h0m2 0h0m1 0h0m1 0h0m1 0h0m2 0h0m1 0h0m16 0h0m6 0h0m1 0h0m12 0h0m11 0h0m1 0h0m2 0h0m1 0h0m1 0h0m1 0h0m3 0h0m4 0h0m4 0h0m3 0h0m2 0h0m2 0h0m5 0h0m1 0h0m1 0h0m3 0h0m2 0h0m1 0h0m1 0h0m1 0h0m2 0h0m1 0h0m2 0h0m4 0h0m3 0h0m3 0h0m1 0h0m5 0h0m1 0h0m1 0h0m4 0h0m2 0h0m1 0h0m1 0h0m4 0h0m2 0h0m1 0h0m1 0h0m5 0h0m1 0h0m3 0h0m3 0h0m7 0h0m1 0h0m4 0h0m1 0h0m1 0h0m11 0h0m2 0h0m2 0h0m15 0h0m1 0h0m1 0h0m1 0h0m3 0h0m2 0h0m11 0h0m8 0h0m5 0h0m3 0h0m1 0h0m1 0h0m6 0h0m9 0h0m3 0h0m-322 1h0m3 0h0m4 0h0m1 0h0m4 0h0m4 0h0m6 0h0m2 0h0m1 0h0m2 0h0m1 0h0m4 0h0m1 0h0m2 0h0m2 0h0m2 0h0m7 0h0m26 0h0m5 0h0m2 0h0m3 0h0m4 0h0m6 0h0m16 0h0m2 0h0m17 0h0m7 0h0m1 0h0m1 0h0m1 0h0m1 0h0m3 0h0m2 0h0m3 0h0m2 0h0m9 0h0m6 0h0m3 0h0m4 0h0m5 0h0m1 0h0m5 0h0m1 0h0m1 0h0m1 0h0m2 0h0m1 0h0m1 0h0m1 0h0m1 0h0m1 0h0m2 0h0m5 0h0m4 0h0m1 0h0m1 0h0m2 0h0m2 0h0m1 0h0m3 0h0m7 0h0m2 0h0m1 0h0m2 0h0m1 0h0m1 0h0m8 0h0m1 0h0m4 0h0m2 0h0m6 0h0m3 0h0m6 0h0m6 0h0m2 0h0m1 0h0m1 0h0m1 0h0m8 0h0m1 0h0m3 0h0m8 0h0m1 0h0m1 0h0m2 0h0m3 0h0m8 0h0m2 0h0m1 0h0m1 0h0m4 0h0m3 0h0m2 0h0m-314 1h0m4 0h0m4 0h0m10 0h0m4 0h0m4 0h0m2 0h0m6 0h0m2 0h0m1 0h0m2 0h0m33 0h0m4 0h0m2 0h0m2 0h0m1 0h0m1 0h0m6 0h0m1 0h0m2 0h0m3 0h0m1 0h0m1 0h0m2 0h0m2 0h0m1 0h0m3 0h0m3 0h0m4 0h0m1 0h0m5 0h0m5 0h0m4 0h0m6 0h0m2 0h0m2 0h0m1 0h0m2 0h0m1 0h0m1 0h0m1 0h0m5 0h0m1 0h0m6 0h0m1 0h0m6 0h0m1 0h0m1 0h0m2 0h0m1 0h0m1 0h0m3 0h0m2 0h0m2 0h0m1 0h0m1 0h0m1 0h0m1 0h0m1 0h0m1 0h0m6 0h0m2 0h0m1 0h0m3 0h0m2 0h0m1 0h0m2 0h0m1 0h0m1 0h0m1 0h0m6 0h0m1 0h0m3 0h0m1 0h0m1 0h0m1 0h0m1 0h0m1 0h0m1 0h0m2 0h0m1 0h0m1 0h0m1 0h0m3 0h0m1 0h0m2 0h0m1 0h0m2 0h0m3 0h0m7 0h0m5 0h0m2 0h0m2 0h0m5 0h0m1 0h0m5 0h0m3 0h0m1 0h0m3 0h0m1 0h0m11 0h0m7 0h0m4 0h0m9 0h0m1 0h0m1 0h0m5 0h0m1 0h0m2 0h0m1 0h0m2 0h0m4 0h0m1 0h0m1 0h0m4 0h0m-311 1h0m5 0h0m8 0h0m55 0h0m1 0h0m43 0h0m8 0h0m6 0h0m3 0h0m2 0h0m2 0h0m8 0h0m4 0h0m8 0h0m7 0h0m8 0h0m1 0h0m20 0h0m23 0h0m1 0h0m22 0h0m35 0h0m3 0h0m1 0h0m8 0h0m8 0h0m4 0h0m8 0h0m3 0h0m-319 1h0m2 0h0m1 0h0m1 0h0m1 0h0m1 0h0m1 0h0m1 0h0m1 0h0m1 0h0m1 0h0m1 0h0m1 0h0m1 0h0m1 0h0m1 0h0m1 0h0m1 0h0m1 0h0m2 0h0m2 0h0m1 0h0m1 0h0m1 0h0m1 0h0m2 0h0m1 0h0m2 0h0m3 0h0m2 0h0m1 0h0m1 0h0m1 0h0m1 0h0m1 0h0m1 0h0m1 0h0m1 0h0m1 0h0m1 0h0m27 0h0m1 0h0m1 0h0m2 0h0m1 0h0m1 0h0m1 0h0m1 0h0m3 0h0m1 0h0m1 0h0m1 0h0m1 0h0m1 0h0m1 0h0m1 0h0m2 0h0m1 0h0m1 0h0m1 0h0m1 0h0m1 0h0m1 0h0m1 0h0m1 0h0m1 0h0m1 0h0m1 0h0m2 0h0m1 0h0m1 0h0m1 0h0m1 0h0m2 0h0m1 0h0m1 0h0m1 0h0m3 0h0m1 0h0m2 0h0m1 0h0m1 0h0m1 0h0m1 0h0m2 0h0m1 0h0m1 0h0m1 0h0m1 0h0m1 0h0m1 0h0m3 0h0m1 0h0m1 0h0m1 0h0m1 0h0m1 0h0m1 0h0m1 0h0m1 0h0m1 0h0m2 0h0m1 0h0m1 0h0m1 0h0m1 0h0m1 0h0m1 0h0m1 0h0m1 0h0m2 0h0m1 0h0m1 0h0m1 0h0m3 0h0m1 0h0m1 0h0m1 0h0m1 0h0m1 0h0m1 0h0m1 0h0m1 0h0m1 0h0m1 0h0m1 0h0m1 0h0m1 0h0m1 0h0m1 0h0m1 0h0m1 0h0m1 0h0m1 0h0m1 0h0m1 0h0m1 0h0m1 0h0m1 0h0m1 0h0m1 0h0m1 0h0m1 0h0m1 0h0m1 0h0m1 0h0m1 0h0m1 0h0m1 0h0m1 0h0m1 0h0m1 0h0m1 0h0m1 0h0m1 0h0m1 0h0m1 0h0m1 0h0m1 0h0m1 0h0m1 0h0m1 0h0m1 0h0m1 0h0m1 0h0m1 0h0m1 0h0m1 0h0m1 0h0m1 0h0m1 0h0m1 0h0m1 0h0m1 0h0m1 0h0m1 0h0m1 0h0m1 0h0m1 0h0m1 0h0m1 0h0m1 0h0m1 0h0m1 0h0m1 0h0m1 0h0m1 0h0m1 0h0m1 0h0m1 0h0m2 0h0m1 0h0m1 0h0m1 0h0m1 0h0m1 0h0m1 0h0m1 0h0m1 0h0m1 0h0m1 0h0m1 0h0m1 0h0m1 0h0m2 0h0m1 0h0m1 0h0m1 0h0m1 0h0m1 0h0m1 0h0m1 0h0m1 0h0m1 0h0m1 0h0m1 0h0m1 0h0m1 0h0m1 0h0m1 0h0m1 0h0m4 0h0m1 0h0m1 0h0m1 0h0m2 0h0m1 0h0m3 0h0m1 0h0m1 0h0m1 0h0m1 0h0m1 0h0m2 0h0m1 0h0m4 0h0m2 0h0m1 0h0m1 0h0m1 0h0m2 0h0m1 0h0m1 0h0m1 0h0m1 0h0m2 0h0m1 0h0m1 0h0m1 0h0m1 0h0m4 0h0m1 0h0m1 0h0m1 0h0m2 0h0m1 0h0m1 0h0m1 0h0m1 0h0m-318 1h0m5 0h0m15 0h0m3 0h0m4 0h0m41 0h0m1 0h0m2 0h0m2 0h0m4 0h0m3 0h0m1 0h0m7 0h0m4 0h0m1 0h0m4 0h0m21 0h0m8 0h0m1 0h0m14 0h0m15 0h0m9 0h0m11 0h0m1 0h0m9 0h0m9 0h0m8 0h0m1 0h0m5 0h0m13 0h0m38 0h0m3 0h0m15 0h0m15 0h0m22 0h0m-315 1h0m1 0h0m9 0h0m3 0h0m2 0h0m9 0h0m4 0h0m3 0h0m2 0h0m32 0h0m2 0h0m4 0h0m2 0h0m1 0h0m2 0h0m10 0h0m10 0h0m4 0h0m10 0h0m1 0h0m8 0h0m7 0h0m4 0h0m1 0h0m2 0h0m2 0h0m2 0h0m1 0h0m1 0h0m3 0h0m14 0h0m1 0h0m2 0h0m2 0h0m3 0h0m1 0h0m2 0h0m1 0h0m2 0h0m1 0h0m1 0h0m2 0h0m2 0h0m2 0h0m2 0h0m2 0h0m1 0h0m3 0h0m2 0h0m2 0h0m2 0h0m4 0h0m3 0h0m2 0h0m1 0h0m3 0h0m2 0h0m2 0h0m1 0h0m1 0h0m1 0h0m2 0h0m1 0h0m2 0h0m3 0h0m2 0h0m1 0h0m4 0h0m1 0h0m2 0h0m3 0h0m10 0h0m17 0h0m17 0h0m1 0h0m1 0h0m1 0h0m3 0h0m1 0h0m12 0h0m1 0h0m2 0h0m3 0h0m3 0h0m4 0h0m1 0h0m3 0h0m5 0h0m-320 1h0m9 0h0m2 0h0m3 0h0m6 0h0m4 0h0m2 0h0m6 0h0m2 0h0m7 0h0m26 0h0m1 0h0m1 0h0m1 0h0m1 0h0m6 0h0m1 0h0m4 0h0m11 0h0m2 0h0m5 0h0m1 0h0m16 0h0m4 0h0m1 0h0m5 0h0m4 0h0m2 0h0m1 0h0m19 0h0m5 0h0m7 0h0m1 0h0m1 0h0m1 0h0m1 0h0m1 0h0m1 0h0m6 0h0m2 0h0m1 0h0m4 0h0m4 0h0m1 0h0m1 0h0m4 0h0m5 0h0m5 0h0m5 0h0m5 0h0m2 0h0m1 0h0m2 0h0m3 0h0m1 0h0m8 0h0m3 0h0m3 0h0m4 0h0m1 0h0m2 0h0m1 0h0m15 0h0m2 0h0m3 0h0m6 0h0m8 0h0m14 0h0m8 0h0m1 0h0m3 0h0m1 0h0m4 0h0m4 0h0m1 0h0m1 0h0m-322 1h0m1 0h0m1 0h0m2 0h0m1 0h0m4 0h0m4 0h0m4 0h0m4 0h0m3 0h0m4 0h0m1 0h0m3 0h0m5 0h0m1 0h0m1 0h0m1 0h0m34 0h0m1 0h0m3 0h0m1 0h0m2 0h0m1 0h0m1 0h0m2 0h0m3 0h0m2 0h0m1 0h0m1 0h0m4 0h0m1 0h0m4 0h0m3 0h0m1 0h0m9 0h0m13 0h0m1 0h0m2 0h0m7 0h0m5 0h0m1 0h0m2 0h0m2 0h0m3 0h0m1 0h0m1 0h0m1 0h0m1 0h0m10 0h0m2 0h0m1 0h0m4 0h0m1 0h0m5 0h0m5 0h0m1 0h0m1 0h0m1 0h0m1 0h0m1 0h0m1 0h0m6 0h0m3 0h0m4 0h0m1 0h0m1 0h0m3 0h0m1 0h0m1 0h0m1 0h0m1 0h0m1 0h0m2 0h0m2 0h0m2 0h0m1 0h0m1 0h0m2 0h0m2 0h0m1 0h0m1 0h0m1 0h0m1 0h0m4 0h0m3 0h0m1 0h0m5 0h0m6 0h0m1 0h0m1 0h0m1 0h0m1 0h0m1 0h0m2 0h0m1 0h0m1 0h0m2 0h0m1 0h0m5 0h0m2 0h0m1 0h0m1 0h0m1 0h0m1 0h0m1 0h0m9 0h0m3 0h0m1 0h0m1 0h0m8 0h0m1 0h0m2 0h0m1 0h0m4 0h0m1 0h0m1 0h0m1 0h0m5 0h0m3 0h0m1 0h0m7 0h0m7 0h0m-325 1h0m2 0h0m2 0h0m2 0h0m1 0h0m2 0h0m3 0h0m1 0h0m3 0h0m1 0h0m7 0h0m2 0h0m2 0h0m5 0h0m1 0h0m3 0h0m5 0h0m31 0h0m2 0h0m1 0h0m3 0h0m1 0h0m2 0h0m1 0h0m1 0h0m8 0h0m3 0h0m1 0h0m7 0h0m2 0h0m29 0h0m8 0h0m6 0h0m8 0h0m6 0h0m4 0h0m1 0h0m3 0h0m3 0h0m1 0h0m3 0h0m1 0h0m1 0h0m9 0h0m7 0h0m2 0h0m1 0h0m1 0h0m2 0h0m1 0h0m5 0h0m1 0h0m4 0h0m2 0h0m6 0h0m1 0h0m6 0h0m1 0h0m4 0h0m2 0h0m1 0h0m8 0h0m4 0h0m3 0h0m11 0h0m2 0h0m1 0h0m5 0h0m4 0h0m1 0h0m3 0h0m10 0h0m7 0h0m2 0h0m2 0h0m4 0h0m1 0h0m1 0h0m2 0h0m2 0h0m3 0h0m2 0h0m8 0h0m-320 1h0m4 0h0m4 0h0m3 0h0m6 0h0m4 0h0m2 0h0m9 0h0m13 0h0m26 0h0m2 0h0m4 0h0m8 0h0m5 0h0m1 0h0m1 0h0m2 0h0m1 0h0m8 0h0m1 0h0m1 0h0m1 0h0m3 0h0m2 0h0m11 0h0m3 0h0m1 0h0m3 0h0m11 0h0m1 0h0m7 0h0m6 0h0m1 0h0m6 0h0m2 0h0m1 0h0m1 0h0m4 0h0m1 0h0m3 0h0m2 0h0m1 0h0m2 0h0m1 0h0m1 0h0m3 0h0m1 0h0m1 0h0m1 0h0m1 0h0m2 0h0m6 0h0m2 0h0m1 0h0m1 0h0m2 0h0m9 0h0m2 0h0m7 0h0m12 0h0m3 0h0m6 0h0m2 0h0m3 0h0m1 0h0m15 0h0m3 0h0m6 0h0m8 0h0m5 0h0m1 0h0m3 0h0m3 0h0m3 0h0m5 0h0m3 0h0m5 0h0m5 0h0m1 0h0m5 0h0m1 0h0m-400 1h0m84 0h0m1 0h0m13 0h0m3 0h0m2 0h0m3 0h0m7 0h0m13 0h0m29 0h0m6 0h0m12 0h0m1 0h0m2 0h0m3 0h0m3 0h0m4 0h0m1 0h0m5 0h0m7 0h0m6 0h0m6 0h0m6 0h0m4 0h0m2 0h0m8 0h0m3 0h0m11 0h0m2 0h0m1 0h0m1 0h0m3 0h0m3 0h0m1 0h0m2 0h0m3 0h0m2 0h0m3 0h0m5 0h0m3 0h0m3 0h0m2 0h0m1 0h0m3 0h0m2 0h0m4 0h0m9 0h0m3 0h0m2 0h0m1 0h0m2 0h0m3 0h0m1 0h0m14 0h0m2 0h0m1 0h0m1 0h0m4 0h0m8 0h0m3 0h0m1 0h0m1 0h0m1 0h0m4 0h0m1 0h0m8 0h0m6 0h0m2 0h0m14 0h0m4 0h0m5 0h0m1 0h0m1 0h0m10 0h0m4 0h0m-326 1h0m1 0h0m2 0h0m9 0h0m1 0h0m4 0h0m3 0h0m4 0h0m1 0h0m1 0h0m5 0h0m4 0h0m2 0h0m4 0h0m4 0h0m29 0h0m3 0h0m1 0h0m2 0h0m1 0h0m1 0h0m4 0h0m2 0h0m20 0h0m1 0h0m4 0h0m2 0h0m12 0h0m8 0h0m1 0h0m1 0h0m1 0h0m1 0h0m3 0h0m1 0h0m2 0h0m2 0h0m1 0h0m1 0h0m2 0h0m2 0h0m12 0h0m2 0h0m6 0h0m2 0h0m1 0h0m2 0h0m1 0h0m4 0h0m3 0h0m2 0h0m2 0h0m3 0h0m1 0h0m1 0h0m1 0h0m3 0h0m1 0h0m1 0h0m1 0h0m1 0h0m2 0h0m3 0h0m5 0h0m1 0h0m1 0h0m1 0h0m1 0h0m2 0h0m1 0h0m1 0h0m1 0h0m2 0h0m2 0h0m2 0h0m6 0h0m2 0h0m4 0h0m1 0h0m1 0h0m1 0h0m6 0h0m3 0h0m9 0h0m3 0h0m1 0h0m1 0h0m1 0h0m3 0h0m6 0h0m12 0h0m11 0h0m2 0h0m2 0h0m2 0h0m2 0h0m1 0h0m1 0h0m8 0h0m5 0h0m1 0h0m2 0h0m-322 1h0m5 0h0m6 0h0m3 0h0m1 0h0m7 0h0m5 0h0m1 0h0m9 0h0m5 0h0m35 0h0m1 0h0m1 0h0m2 0h0m9 0h0m48 0h0m3 0h0m6 0h0m2 0h0m2 0h0m4 0h0m6 0h0m3 0h0m4 0h0m2 0h0m3 0h0m1 0h0m2 0h0m3 0h0m1 0h0m2 0h0m2 0h0m1 0h0m1 0h0m2 0h0m2 0h0m1 0h0m4 0h0m1 0h0m1 0h0m2 0h0m1 0h0m3 0h0m2 0h0m2 0h0m2 0h0m2 0h0m2 0h0m2 0h0m9 0h0m1 0h0m2 0h0m1 0h0m6 0h0m2 0h0m1 0h0m8 0h0m1 0h0m8 0h0m8 0h0m1 0h0m1 0h0m1 0h0m2 0h0m34 0h0m3 0h0m1 0h0m3 0h0m6 0h0m1 0h0m1 0h0m3 0h0m-321 1h0m3 0h0m1 0h0m14 0h0m5 0h0m13 0h0m42 0h0m9 0h0m3 0h0m1 0h0m2 0h0m2 0h0m15 0h0m25 0h0m1 0h0m20 0h0m2 0h0m4 0h0m1 0h0m1 0h0m1 0h0m9 0h0m2 0h0m1 0h0m2 0h0m1 0h0m2 0h0m2 0h0m1 0h0m1 0h0m1 0h0m4 0h0m2 0h0m8 0h0m7 0h0m9 0h0m6 0h0m11 0h0m5 0h0m5 0h0m11 0h0m7 0h0m3 0h0m1 0h0m10 0h0m6 0h0m7 0h0m12 0h0m5 0h0m1 0h0m2 0h0m4 0h0m2 0h0m6 0h0m-323 1h0m2 0h0m1 0h0m1 0h0m3 0h0m1 0h0m1 0h0m1 0h0m1 0h0m2 0h0m1 0h0m1 0h0m3 0h0m2 0h0m1 0h0m1 0h0m1 0h0m3 0h0m1 0h0m2 0h0m2 0h0m1 0h0m5 0h0m1 0h0m1 0h0m3 0h0m1 0h0m1 0h0m3 0h0m28 0h0m1 0h0m1 0h0m1 0h0m5 0h0m1 0h0m1 0h0m1 0h0m2 0h0m1 0h0m2 0h0m1 0h0m1 0h0m1 0h0m2 0h0m1 0h0m2 0h0m2 0h0m1 0h0m1 0h0m4 0h0m1 0h0m3 0h0m3 0h0m1 0h0m2 0h0m1 0h0m1 0h0m1 0h0m2 0h0m1 0h0m1 0h0m1 0h0m2 0h0m1 0h0m1 0h0m2 0h0m1 0h0m4 0h0m2 0h0m1 0h0m1 0h0m3 0h0m2 0h0m3 0h0m1 0h0m1 0h0m1 0h0m2 0h0m3 0h0m2 0h0m2 0h0m4 0h0m1 0h0m1 0h0m1 0h0m1 0h0m1 0h0m4 0h0m1 0h0m1 0h0m1 0h0m1 0h0m1 0h0m1 0h0m1 0h0m1 0h0m2 0h0m1 0h0m1 0h0m1 0h0m1 0h0m1 0h0m1 0h0m1 0h0m1 0h0m1 0h0m1 0h0m1 0h0m1 0h0m1 0h0m2 0h0m2 0h0m1 0h0m1 0h0m1 0h0m1 0h0m1 0h0m4 0h0m1 0h0m1 0h0m2 0h0m1 0h0m1 0h0m1 0h0m1 0h0m1 0h0m1 0h0m1 0h0m1 0h0m2 0h0m1 0h0m1 0h0m1 0h0m1 0h0m1 0h0m2 0h0m1 0h0m1 0h0m1 0h0m2 0h0m2 0h0m4 0h0m1 0h0m1 0h0m1 0h0m1 0h0m1 0h0m2 0h0m1 0h0m1 0h0m1 0h0m1 0h0m1 0h0m1 0h0m1 0h0m2 0h0m2 0h0m1 0h0m1 0h0m1 0h0m1 0h0m1 0h0m1 0h0m1 0h0m1 0h0m3 0h0m1 0h0m6 0h0m1 0h0m2 0h0m6 0h0m1 0h0m1 0h0m1 0h0m1 0h0m2 0h0m1 0h0m1 0h0m3 0h0m1 0h0m2 0h0m5 0h0m1 0h0m1 0h0m1 0h0m3 0h0m2 0h0m1 0h0m1 0h0m1 0h0m1 0h0m2 0h0m4 0h0m2 0h0m-321 1h0m1 0h0m1 0h0m1 0h0m1 0h0m19 0h0m2 0h0m1 0h0m1 0h0m8 0h0m2 0h0m5 0h0m33 0h0m1 0h0m2 0h0m8 0h0m1 0h0m9 0h0m3 0h0m2 0h0m5 0h0m7 0h0m18 0h0m1 0h0m3 0h0m9 0h0m2 0h0m2 0h0m12 0h0m2 0h0m1 0h0m1 0h0m4 0h0m4 0h0m2 0h0m1 0h0m3 0h0m1 0h0m1 0h0m1 0h0m1 0h0m2 0h0m1 0h0m1 0h0m1 0h0m4 0h0m1 0h0m2 0h0m3 0h0m2 0h0m1 0h0m1 0h0m5 0h0m1 0h0m5 0h0m1 0h0m2 0h0m3 0h0m1 0h0m2 0h0m8 0h0m5 0h0m4 0h0m2 0h0m4 0h0m5 0h0m1 0h0m4 0h0m4 0h0m5 0h0m8 0h0m13 0h0m1 0h0m9 0h0m7 0h0m1 0h0m7 0h0m1 0h0m10 0h0m3 0h0m-323 1h0m1 0h0m1 0h0m2 0h0m2 0h0m7 0h0m2 0h0m3 0h0m25 0h0m33 0h0m2 0h0m6 0h0m1 0h0m5 0h0m2 0h0m10 0h0m4 0h0m5 0h0m11 0h0m1 0h0m6 0h0m1 0h0m3 0h0m4 0h0m4 0h0m1 0h0m1 0h0m1 0h0m2 0h0m11 0h0m3 0h0m2 0h0m1 0h0m1 0h0m5 0h0m2 0h0m1 0h0m1 0h0m2 0h0m5 0h0m3 0h0m1 0h0m11 0h0m3 0h0m5 0h0m5 0h0m1 0h0m3 0h0m1 0h0m1 0h0m1 0h0m2 0h0m1 0h0m3 0h0m6 0h0m2 0h0m1 0h0m9 0h0m4 0h0m1 0h0m10 0h0m8 0h0m1 0h0m2 0h0m3 0h0m5 0h0m7 0h0m2 0h0m8 0h0m4 0h0m5 0h0m4 0h0m1 0h0m2 0h0m3 0h0m6 0h0m4 0h0m4 0h0m-324 1h0m25 0h0m5 0h0m7 0h0m36 0h0m1 0h0m6 0h0m1 0h0m4 0h0m1 0h0m4 0h0m1 0h0m9 0h0m7 0h0m2 0h0m2 0h0m15 0h0m6 0h0m16 0h0m14 0h0m2 0h0m12 0h0m1 0h0m1 0h0m5 0h0m3 0h0m8 0h0m1 0h0m2 0h0m7 0h0m1 0h0m1 0h0m1 0h0m1 0h0m7 0h0m1 0h0m4 0h0m3 0h0m3 0h0m11 0h0m3 0h0m11 0h0m1 0h0m5 0h0m1 0h0m18 0h0m9 0h0m5 0h0m20 0h0m3 0h0m5 0h0m-320 1h0m5 0h0m1 0h0m2 0h0m1 0h0m4 0h0m1 0h0m3 0h0m1 0h0m8 0h0m4 0h0m1 0h0m7 0h0m2 0h0m33 0h0m4 0h0m1 0h0m1 0h0m1 0h0m1 0h0m7 0h0m5 0h0m1 0h0m2 0h0m10 0h0m1 0h0m2 0h0m8 0h0m2 0h0m11 0h0m4 0h0m13 0h0m1 0h0m2 0h0m9 0h0m4 0h0m1 0h0m2 0h0m4 0h0m5 0h0m2 0h0m2 0h0m1 0h0m3 0h0m3 0h0m8 0h0m1 0h0m1 0h0m1 0h0m2 0h0m3 0h0m1 0h0m1 0h0m4 0h0m3 0h0m1 0h0m13 0h0m2 0h0m1 0h0m4 0h0m4 0h0m4 0h0m7 0h0m2 0h0m1 0h0m11 0h0m9 0h0m7 0h0m2 0h0m6 0h0m5 0h0m2 0h0m1 0h0m9 0h0m4 0h0m1 0h0m1 0h0m2 0h0m2 0h0m3 0h0m6 0h0m2 0h0m1 0h0m-321 1h0m26 0h0m2 0h0m5 0h0m4 0h0m37 0h0m3 0h0m2 0h0m1 0h0m2 0h0m9 0h0m20 0h0m7 0h0m1 0h0m5 0h0m10 0h0m1 0h0m1 0h0m4 0h0m8 0h0m3 0h0m2 0h0m1 0h0m6 0h0m2 0h0m1 0h0m1 0h0m8 0h0m8 0h0m3 0h0m1 0h0m1 0h0m2 0h0m2 0h0m1 0h0m2 0h0m2 0h0m3 0h0m2 0h0m2 0h0m2 0h0m2 0h0m2 0h0m1 0h0m1 0h0m1 0h0m2 0h0m1 0h0m1 0h0m3 0h0m1 0h0m4 0h0m1 0h0m2 0h0m1 0h0m2 0h0m3 0h0m2 0h0m6 0h0m6 0h0m1 0h0m13 0h0m1 0h0m3 0h0m1 0h0m2 0h0m3 0h0m5 0h0m9 0h0m9 0h0m5 0h0m2 0h0m1 0h0m3 0h0m5 0h0m1 0h0m5 0h0m3 0h0m2 0h0m-316 1h0m2 0h0m2 0h0m5 0h0m1 0h0m1 0h0m8 0h0m16 0h0m33 0h0m1 0h0m2 0h0m6 0h0m10 0h0m1 0h0m3 0h0m6 0h0m1 0h0m16 0h0m9 0h0m4 0h0m1 0h0m1 0h0m1 0h0m2 0h0m1 0h0m3 0h0m1 0h0m2 0h0m1 0h0m4 0h0m1 0h0m3 0h0m2 0h0m7 0h0m1 0h0m1 0h0m1 0h0m5 0h0m1 0h0m4 0h0m1 0h0m1 0h0m9 0h0m1 0h0m2 0h0m6 0h0m3 0h0m1 0h0m1 0h0m4 0h0m1 0h0m1 0h0m2 0h0m2 0h0m1 0h0m5 0h0m5 0h0m1 0h0m1 0h0m1 0h0m1 0h0m4 0h0m11 0h0m1 0h0m11 0h0m4 0h0m8 0h0m11 0h0m5 0h0m3 0h0m4 0h0m4 0h0m14 0h0m2 0h0m1 0h0m7 0h0m10 0h0m-322 1h0m8 0h0m1 0h0m5 0h0m3 0h0m5 0h0m11 0h0m1 0h0m40 0h0m5 0h0m1 0h0m2 0h0m2 0h0m5 0h0m1 0h0m5 0h0m1 0h0m10 0h0m5 0h0m4 0h0m8 0h0m6 0h0m4 0h0m3 0h0m4 0h0m5 0h0m4 0h0m10 0h0m1 0h0m2 0h0m1 0h0m5 0h0m4 0h0m2 0h0m1 0h0m1 0h0m2 0h0m1 0h0m2 0h0m4 0h0m2 0h0m5 0h0m6 0h0m1 0h0m1 0h0m4 0h0m7 0h0m6 0h0m4 0h0m1 0h0m3 0h0m1 0h0m2 0h0m9 0h0m2 0h0m5 0h0m10 0h0m6 0h0m2 0h0m1 0h0m3 0h0m15 0h0m23 0h0m1 0h0m3 0h0m1 0h0m4 0h0m2 0h0m1 0h0m-320 1h0m4 0h0m1 0h0m1 0h0m2 0h0m5 0h0m4 0h0m5 0h0m4 0h0m3 0h0m2 0h0m5 0h0m5 0h0m1 0h0m32 0h0m1 0h0m1 0h0m1 0h0m1 0h0m1 0h0m1 0h0m4 0h0m7 0h0m2 0h0m10 0h0m2 0h0m2 0h0m6 0h0m11 0h0m1 0h0m1 0h0m2 0h0m2 0h0m8 0h0m2 0h0m2 0h0m1 0h0m2 0h0m2 0h0m2 0h0m4 0h0m1 0h0m11 0h0m2 0h0m1 0h0m3 0h0m2 0h0m3 0h0m1 0h0m1 0h0m5 0h0m2 0h0m1 0h0m1 0h0m4 0h0m1 0h0m1 0h0m2 0h0m1 0h0m1 0h0m1 0h0m2 0h0m1 0h0m1 0h0m1 0h0m3 0h0m1 0h0m1 0h0m1 0h0m5 0h0m2 0h0m2 0h0m4 0h0m5 0h0m3 0h0m2 0h0m2 0h0m2 0h0m6 0h0m1 0h0m6 0h0m3 0h0m3 0h0m3 0h0m2 0h0m1 0h0m2 0h0m5 0h0m1 0h0m5 0h0m2 0h0m8 0h0m2 0h0m1 0h0m6 0h0m2 0h0m2 0h0m1 0h0m3 0h0m2 0h0m4 0h0m1 0h0m4 0h0m7 0h0m2 0h0m5 0h0m-319 1h0m12 0h0m11 0h0m5 0h0m10 0h0m32 0h0m2 0h0m17 0h0m9 0h0m1 0h0m1 0h0m2 0h0m7 0h0m17 0h0m3 0h0m2 0h0m1 0h0m4 0h0m2 0h0m4 0h0m2 0h0m6 0h0m2 0h0m4 0h0m1 0h0m3 0h0m1 0h0m4 0h0m2 0h0m1 0h0m2 0h0m2 0h0m1 0h0m3 0h0m1 0h0m2 0h0m3 0h0m10 0h0m3 0h0m2 0h0m9 0h0m4 0h0m1 0h0m5 0h0m2 0h0m2 0h0m4 0h0m1 0h0m10 0h0m1 0h0m5 0h0m2 0h0m8 0h0m11 0h0m14 0h0m12 0h0m2 0h0m6 0h0m2 0h0m4 0h0m2 0h0m1 0h0m8 0h0m4 0h0m-319 1h0m8 0h0m6 0h0m11 0h0m9 0h0m34 0h0m1 0h0m2 0h0m1 0h0m4 0h0m3 0h0m17 0h0m5 0h0m3 0h0m4 0h0m3 0h0m11 0h0m4 0h0m4 0h0m1 0h0m8 0h0m1 0h0m1 0h0m1 0h0m8 0h0m3 0h0m5 0h0m3 0h0m1 0h0m9 0h0m2 0h0m8 0h0m1 0h0m8 0h0m1 0h0m1 0h0m2 0h0m3 0h0m1 0h0m2 0h0m10 0h0m6 0h0m2 0h0m2 0h0m1 0h0m6 0h0m4 0h0m6 0h0m2 0h0m5 0h0m7 0h0m1 0h0m5 0h0m1 0h0m13 0h0m7 0h0m3 0h0m2 0h0m1 0h0m15 0h0m1 0h0m2 0h0m1 0h0m2 0h0m9 0h0m3 0h0m3 0h0m-321 1h0m1 0h0m2 0h0m9 0h0m2 0h0m2 0h0m9 0h0m10 0h0m2 0h0m3 0h0m3 0h0m26 0h0m1 0h0m2 0h0m2 0h0m2 0h0m3 0h0m2 0h0m5 0h0m1 0h0m1 0h0m1 0h0m4 0h0m1 0h0m5 0h0m3 0h0m1 0h0m2 0h0m9 0h0m6 0h0m4 0h0m4 0h0m2 0h0m4 0h0m8 0h0m20 0h0m1 0h0m6 0h0m1 0h0m1 0h0m3 0h0m2 0h0m1 0h0m1 0h0m1 0h0m1 0h0m2 0h0m4 0h0m2 0h0m1 0h0m1 0h0m1 0h0m1 0h0m3 0h0m1 0h0m1 0h0m1 0h0m1 0h0m2 0h0m2 0h0m3 0h0m1 0h0m2 0h0m3 0h0m1 0h0m4 0h0m3 0h0m2 0h0m3 0h0m2 0h0m1 0h0m5 0h0m6 0h0m23 0h0m1 0h0m1 0h0m9 0h0m3 0h0m17 0h0m2 0h0m3 0h0m1 0h0m3 0h0m1 0h0m2 0h0m2 0h0m1 0h0m1 0h0m3 0h0m2 0h0m3 0h0m-318 1h0m6 0h0m5 0h0m10 0h0m50 0h0m4 0h0m2 0h0m1 0h0m4 0h0m4 0h0m4 0h0m7 0h0m23 0h0m15 0h0m8 0h0m1 0h0m2 0h0m1 0h0m13 0h0m1 0h0m1 0h0m2 0h0m5 0h0m3 0h0m1 0h0m1 0h0m1 0h0m2 0h0m2 0h0m3 0h0m1 0h0m5 0h0m3 0h0m6 0h0m6 0h0m2 0h0m1 0h0m1 0h0m1 0h0m1 0h0m1 0h0m2 0h0m5 0h0m1 0h0m4 0h0m2 0h0m2 0h0m3 0h0m4 0h0m12 0h0m8 0h0m10 0h0m1 0h0m11 0h0m4 0h0m1 0h0m3 0h0m2 0h0m7 0h0m1 0h0m7 0h0m3 0h0m1 0h0m1 0h0m6 0h0m3 0h0m3 0h0m6 0h0m-324 1h0m6 0h0m2 0h0m7 0h0m2 0h0m11 0h0m9 0h0m8 0h0m29 0h0m1 0h0m2 0h0m2 0h0m3 0h0m7 0h0m1 0h0m2 0h0m1 0h0m10 0h0m1 0h0m3 0h0m1 0h0m5 0h0m10 0h0m7 0h0m1 0h0m1 0h0m7 0h0m6 0h0m2 0h0m2 0h0m4 0h0m8 0h0m4 0h0m1 0h0m3 0h0m1 0h0m2 0h0m1 0h0m1 0h0m1 0h0m4 0h0m4 0h0m1 0h0m3 0h0m5 0h0m2 0h0m3 0h0m1 0h0m2 0h0m2 0h0m3 0h0m1 0h0m4 0h0m3 0h0m1 0h0m4 0h0m1 0h0m1 0h0m3 0h0m2 0h0m1 0h0m4 0h0m2 0h0m9 0h0m9 0h0m4 0h0m12 0h0m1 0h0m2 0h0m9 0h0m3 0h0m3 0h0m5 0h0m2 0h0m1 0h0m7 0h0m1 0h0m4 0h0m1 0h0m3 0h0m2 0h0m9 0h0m1 0h0m1 0h0m2 0h0m-326 1h0m4 0h0m2 0h0m12 0h0m1 0h0m3 0h0m5 0h0m8 0h0m5 0h0m34 0h0m1 0h0m1 0h0m2 0h0m1 0h0m5 0h0m1 0h0m3 0h0m4 0h0m9 0h0m18 0h0m14 0h0m2 0h0m4 0h0m1 0h0m1 0h0m1 0h0m2 0h0m1 0h0m1 0h0m2 0h0m1 0h0m1 0h0m1 0h0m7 0h0m1 0h0m5 0h0m1 0h0m2 0h0m2 0h0m3 0h0m1 0h0m2 0h0m2 0h0m1 0h0m1 0h0m1 0h0m4 0h0m1 0h0m1 0h0m7 0h0m1 0h0m1 0h0m3 0h0m2 0h0m3 0h0m3 0h0m2 0h0m1 0h0m4 0h0m3 0h0m6 0h0m1 0h0m2 0h0m12 0h0m5 0h0m1 0h0m7 0h0m4 0h0m9 0h0m4 0h0m1 0h0m2 0h0m1 0h0m1 0h0m9 0h0m5 0h0m1 0h0m6 0h0m12 0h0m1 0h0m4 0h0m1 0h0m1 0h0m1 0h0m1 0h0m1 0h0m7 0h0m4 0h0m1 0h0m-318 1h0m4 0h0m4 0h0m7 0h0m3 0h0m13 0h0m5 0h0m2 0h0m30 0h0m7 0h0m8 0h0m3 0h0m12 0h0m1 0h0m2 0h0m14 0h0m1 0h0m1 0h0m8 0h0m3 0h0m2 0h0m1 0h0m3 0h0m4 0h0m4 0h0m14 0h0m1 0h0m1 0h0m5 0h0m2 0h0m2 0h0m1 0h0m6 0h0m1 0h0m4 0h0m5 0h0m2 0h0m5 0h0m4 0h0m2 0h0m10 0h0m1 0h0m2 0h0m1 0h0m2 0h0m1 0h0m18 0h0m3 0h0m2 0h0m12 0h0m10 0h0m5 0h0m14 0h0m1 0h0m7 0h0m7 0h0m6 0h0m1 0h0m1 0h0m2 0h0m3 0h0m-314 1h0m1 0h0m4 0h0m14 0h0m1 0h0m9 0h0m7 0h0m2 0h0m8 0h0m1 0h0m26 0h0m6 0h0m4 0h0m2 0h0m10 0h0m11 0h0m3 0h0m3 0h0m18 0h0m3 0h0m1 0h0m3 0h0m3 0h0m3 0h0m3 0h0m3 0h0m6 0h0m2 0h0m9 0h0m2 0h0m2 0h0m5 0h0m3 0h0m7 0h0m1 0h0m1 0h0m4 0h0m3 0h0m5 0h0m2 0h0m1 0h0m2 0h0m4 0h0m6 0h0m2 0h0m2 0h0m2 0h0m5 0h0m4 0h0m2 0h0m3 0h0m1 0h0m3 0h0m9 0h0m2 0h0m1 0h0m6 0h0m8 0h0m2 0h0m1 0h0m2 0h0m1 0h0m8 0h0m10 0h0m2 0h0m7 0h0m2 0h0m1 0h0m1 0h0m1 0h0m1 0h0m4 0h0m1 0h0m1 0h0m1 0h0m2 0h0m2 0h0m3 0h0m4 0h0m5 0h0m-305 1h0m58 0h0m14 0h0m17 0h0m14 0h0m9 0h0m4 0h0m6 0h0m9 0h0m2 0h0m1 0h0m45 0h0m1 0h0m9 0h0m2 0h0m22 0h0m9 0h0m37 0h0m3 0h0m8 0h0m11 0h0m7 0h0m2 0h0m-391 1h0m79 0h0m1 0h0m1 0h0m1 0h0m1 0h0m1 0h0m1 0h0m1 0h0m1 0h0m1 0h0m1 0h0m1 0h0m1 0h0m1 0h0m1 0h0m1 0h0m1 0h0m1 0h0m1 0h0m2 0h0m1 0h0m1 0h0m2 0h0m1 0h0m2 0h0m1 0h0m1 0h0m1 0h0m1 0h0m1 0h0m1 0h0m1 0h0m1 0h0m1 0h0m1 0h0m1 0h0m1 0h0m1 0h0m1 0h0m1 0h0m1 0h0m1 0h0m1 0h0m1 0h0m1 0h0m1 0h0m26 0h0m1 0h0m1 0h0m1 0h0m1 0h0m1 0h0m1 0h0m1 0h0m1 0h0m1 0h0m1 0h0m1 0h0m1 0h0m1 0h0m1 0h0m1 0h0m1 0h0m1 0h0m1 0h0m1 0h0m1 0h0m1 0h0m1 0h0m1 0h0m1 0h0m1 0h0m2 0h0m3 0h0m1 0h0m1 0h0m1 0h0m1 0h0m1 0h0m1 0h0m1 0h0m1 0h0m2 0h0m1 0h0m2 0h0m1 0h0m1 0h0m1 0h0m1 0h0m1 0h0m1 0h0m1 0h0m1 0h0m1 0h0m1 0h0m1 0h0m1 0h0m1 0h0m1 0h0m1 0h0m1 0h0m1 0h0m1 0h0m1 0h0m1 0h0m1 0h0m1 0h0m1 0h0m1 0h0m1 0h0m1 0h0m1 0h0m1 0h0m1 0h0m1 0h0m1 0h0m2 0h0m1 0h0m2 0h0m1 0h0m2 0h0m1 0h0m3 0h0m1 0h0m3 0h0m1 0h0m1 0h0m1 0h0m1 0h0m1 0h0m1 0h0m1 0h0m1 0h0m1 0h0m1 0h0m1 0h0m1 0h0m1 0h0m1 0h0m1 0h0m1 0h0m1 0h0m1 0h0m1 0h0m1 0h0m1 0h0m1 0h0m1 0h0m1 0h0m1 0h0m1 0h0m1 0h0m1 0h0m1 0h0m1 0h0m1 0h0m1 0h0m1 0h0m1 0h0m1 0h0m1 0h0m1 0h0m1 0h0m1 0h0m1 0h0m1 0h0m1 0h0m1 0h0m1 0h0m1 0h0m1 0h0m1 0h0m1 0h0m1 0h0m1 0h0m1 0h0m1 0h0m1 0h0m1 0h0m1 0h0m1 0h0m1 0h0m1 0h0m1 0h0m1 0h0m1 0h0m1 0h0m1 0h0m2 0h0m1 0h0m1 0h0m1 0h0m1 0h0m1 0h0m1 0h0m1 0h0m1 0h0m1 0h0m1 0h0m1 0h0m1 0h0m1 0h0m1 0h0m1 0h0m1 0h0m1 0h0m1 0h0m1 0h0m1 0h0m1 0h0m1 0h0m1 0h0m1 0h0m1 0h0m1 0h0m1 0h0m1 0h0m1 0h0m1 0h0m1 0h0m1 0h0m1 0h0m1 0h0m1 0h0m1 0h0m1 0h0m1 0h0m1 0h0m1 0h0m1 0h0m1 0h0m1 0h0m1 0h0m4 0h0m1 0h0m2 0h0m1 0h0m1 0h0m1 0h0m2 0h0m1 0h0m1 0h0m1 0h0m1 0h0m1 0h0m3 0h0m1 0h0m1 0h0m1 0h0m2 0h0m1 0h0m1 0h0m1 0h0m1 0h0m1 0h0m1 0h0m1 0h0m1 0h0m1 0h0m1 0h0m1 0h0m1 0h0m1 0h0m1 0h0m1 0h0m1 0h0m1 0h0m1 0h0m1 0h0m1 0h0m1 0h0m1 0h0m1 0h0m1 0h0m1 0h0m1 0h0m1 0h0m1 0h0m1 0h0m-325 1h0m9 0h0m18 0h0m15 0h0m49 0h0m15 0h0m25 0h0m5 0h0m14 0h0m41 0h0m37 0h0m5 0h0m19 0h0m23 0h0m5 0h0m5 0h0m2 0h0m20 0h0m-317 1h0m12 0h0m5 0h0m2 0h0m5 0h0m3 0h0m7 0h0m14 0h0m7 0h0m1 0h0m27 0h0m3 0h0m3 0h0m14 0h0m11 0h0m5 0h0m1 0h0m9 0h0m15 0h0m3 0h0m6 0h0m11 0h0m9 0h0m2 0h0m5 0h0m9 0h0m7 0h0m9 0h0m1 0h0m26 0h0m2 0h0m4 0h0m14 0h0m5 0h0m3 0h0m12 0h0m3 0h0m6 0h0m23 0h0m5 0h0m1 0h0m6 0h0m15 0h0m-294 1h0m52 0h0m4 0h0m9 0h0m4 0h0m25 0h0m8 0h0m5 0h0m2 0h0m3 0h0m8 0h0m24 0h0m4 0h0m11 0h0m1 0h0m2 0h0m1 0h0m4 0h0m4 0h0m3 0h0m1 0h0m4 0h0m9 0h0m2 0h0m8 0h0m6 0h0m16 0h0m13 0h0m4 0h0m1 0h0m3 0h0m8 0h0m7 0h0m3 0h0m19 0h0m6 0h0m8 0h0m-318 1h0m2 0h0m4 0h0m1 0h0m18 0h0m50 0h0m3 0h0m23 0h0m1 0h0m29 0h0m4 0h0m10 0h0m1 0h0m3 0h0m7 0h0m5 0h0m4 0h0m2 0h0m4 0h0m2 0h0m2 0h0m1 0h0m2 0h0m6 0h0m5 0h0m3 0h0m7 0h0m2 0h0m4 0h0m1 0h0m1 0h0m4 0h0m2 0h0m9 0h0m6 0h0m6 0h0m8 0h0m2 0h0m2 0h0m17 0h0m5 0h0m6 0h0m11 0h0m16 0h0m1 0h0m4 0h0m3 0h0m1 0h0m8 0h0m4 0h0m-321 1h0m5 0h0m11 0h0m1 0h0m14 0h0m9 0h0m32 0h0m1 0h0m4 0h0m4 0h0m1 0h0m5 0h0m3 0h0m1 0h0m3 0h0m6 0h0m12 0h0m44 0h0m4 0h0m1 0h0m1 0h0m2 0h0m1 0h0m3 0h0m1 0h0m2 0h0m1 0h0m5 0h0m3 0h0m3 0h0m17 0h0m1 0h0m1 0h0m1 0h0m9 0h0m1 0h0m5 0h0m1 0h0m8 0h0m1 0h0m2 0h0m5 0h0m3 0h0m2 0h0m4 0h0m2 0h0m2 0h0m11 0h0m4 0h0m4 0h0m10 0h0m3 0h0m17 0h0m2 0h0m5 0h0m3 0h0m-292 1h0m8 0h0m3 0h0m55 0h0m4 0h0m25 0h0m5 0h0m36 0h0m2 0h0m2 0h0m18 0h0m1 0h0m6 0h0m15 0h0m2 0h0m3 0h0m4 0h0m4 0h0m6 0h0m8 0h0m1 0h0m10 0h0m6 0h0m9 0h0m11 0h0m2 0h0m5 0h0m6 0h0m18 0h0m10 0h0m7 0h0m4 0h0m-303 1h0m8 0h0m16 0h0m38 0h0m5 0h0m1 0h0m4 0h0m30 0h0m3 0h0m8 0h0m10 0h0m16 0h0m4 0h0m4 0h0m1 0h0m7 0h0m3 0h0m3 0h0m3 0h0m2 0h0m17 0h0m8 0h0m14 0h0m4 0h0m13 0h0m11 0h0m2 0h0m2 0h0m3 0h0m3 0h0m9 0h0m2 0h0m2 0h0m11 0h0m20 0h0m6 0h0m4 0h0m3 0h0m3 0h0m-313 1h0m3 0h0m14 0h0m22 0h0m1 0h0m3 0h0m32 0h0m2 0h0m2 0h0m1 0h0m3 0h0m19 0h0m1 0h0m4 0h0m1 0h0m3 0h0m7 0h0m7 0h0m8 0h0m2 0h0m2 0h0m3 0h0m2 0h0m2 0h0m9 0h0m16 0h0m3 0h0m2 0h0m3 0h0m9 0h0m9 0h0m4 0h0m2 0h0m5 0h0m1 0h0m2 0h0m1 0h0m2 0h0m2 0h0m4 0h0m2 0h0m3 0h0m4 0h0m2 0h0m6 0h0m7 0h0m4 0h0m1 0h0m17 0h0m4 0h0m9 0h0m7 0h0m10 0h0m15 0h0m6 0h0m5 0h0m1 0h0m-309 1h0m28 0h0m36 0h0m4 0h0m36 0h0m14 0h0m7 0h0m6 0h0m7 0h0m1 0h0m16 0h0m8 0h0m2 0h0m3 0h0m3 0h0m15 0h0m3 0h0m3 0h0m18 0h0m1 0h0m8 0h0m10 0h0m5 0h0m9 0h0m6 0h0m7 0h0m6 0h0m6 0h0m2 0h0m12 0h0m16 0h0m15 0h0m-323 1h0m2 0h0m14 0h0m13 0h0m9 0h0m33 0h0m3 0h0m2 0h0m1 0h0m3 0h0m15 0h0m11 0h0m31 0h0m20 0h0m11 0h0m5 0h0m8 0h0m4 0h0m8 0h0m1 0h0m6 0h0m13 0h0m14 0h0m8 0h0m27 0h0m1 0h0m16 0h0m21 0h0m20 0h0m-402 1h0m59 0h0m22 0h0m30 0h0m14 0h0m28 0h0m13 0h0m10 0h0m6 0h0m29 0h0m11 0h0m15 0h0m5 0h0m3 0h0m8 0h0m1 0h0m3 0h0m6 0h0m1 0h0m2 0h0m8 0h0m7 0h0m3 0h0m1 0h0m8 0h0m2 0h0m1 0h0m5 0h0m2 0h0m19 0h0m6 0h0m7 0h0m10 0h0m16 0h0m10 0h0m15 0h0m7 0h0m2 0h0m9 0h0m1 0h0m-319 1h0m1 0h0m1 0h0m1 0h0m14 0h0m2 0h0m13 0h0m45 0h0m17 0h0m26 0h0m15 0h0m3 0h0m1 0h0m2 0h0m23 0h0m5 0h0m1 0h0m3 0h0m5 0h0m1 0h0m7 0h0m1 0h0m1 0h0m1 0h0m24 0h0m1 0h0m2 0h0m15 0h0m7 0h0m23 0h0m1 0h0m16 0h0m1 0h0m20 0h0m1 0h0m4 0h0m10 0h0m-318 1h0m18 0h0m4 0h0m10 0h0m5 0h0m33 0h0m1 0h0m4 0h0m2 0h0m1 0h0m1 0h0m2 0h0m3 0h0m6 0h0m4 0h0m4 0h0m5 0h0m1 0h0m6 0h0m14 0h0m6 0h0m3 0h0m18 0h0m12 0h0m2 0h0m3 0h0m1 0h0m8 0h0m11 0h0m3 0h0m3 0h0m2 0h0m1 0h0m2 0h0m5 0h0m9 0h0m4 0h0m1 0h0m9 0h0m3 0h0m8 0h0m1 0h0m1 0h0m2 0h0m3 0h0m1 0h0m32 0h0m2 0h0m12 0h0m4 0h0m4 0h0m-301 1h0m12 0h0m5 0h0m13 0h0m51 0h0m30 0h0m1 0h0m24 0h0m16 0h0m4 0h0m13 0h0m2 0h0m2 0h0m3 0h0m10 0h0m4 0h0m1 0h0m6 0h0m10 0h0m3 0h0m8 0h0m35 0h0m5 0h0m5 0h0m5 0h0m20 0h0m17 0h0m4 0h0m-343 1h0m32 0h0m3 0h0m2 0h0m1 0h0m1 0h0m3 0h0m1 0h0m1 0h0m1 0h0m1 0h0m1 0h0m3 0h0m3 0h0m3 0h0m1 0h0m1 0h0m1 0h0m1 0h0m2 0h0m1 0h0m2 0h0m1 0h0m2 0h0m1 0h0m1 0h0m1 0h0m1 0h0m4 0h0m1 0h0m1 0h0m27 0h0m1 0h0m1 0h0m3 0h0m1 0h0m1 0h0m1 0h0m1 0h0m1 0h0m8 0h0m5 0h0m1 0h0m3 0h0m5 0h0m1 0h0m3 0h0m6 0h0m2 0h0m3 0h0m1 0h0m10 0h0m1 0h0m2 0h0m1 0h0m3 0h0m1 0h0m1 0h0m6 0h0m2 0h0m1 0h0m1 0h0m3 0h0m5 0h0m5 0h0m1 0h0m2 0h0m2 0h0m3 0h0m2 0h0m1 0h0m3 0h0m2 0h0m3 0h0m1 0h0m3 0h0m1 0h0m4 0h0m1 0h0m1 0h0m2 0h0m2 0h0m3 0h0m3 0h0m3 0h0m5 0h0m2 0h0m4 0h0m5 0h0m1 0h0m3 0h0m3 0h0m3 0h0m2 0h0m1 0h0m1 0h0m1 0h0m1 0h0m1 0h0m1 0h0m2 0h0m2 0h0m1 0h0m2 0h0m1 0h0m3 0h0m3 0h0m2 0h0m2 0h0m2 0h0m1 0h0m8 0h0m2 0h0m3 0h0m1 0h0m4 0h0m1 0h0m3 0h0m3 0h0m1 0h0m1 0h0m3 0h0m4 0h0m1 0h0m3 0h0m5 0h0m2 0h0m3 0h0m3 0h0m3 0h0m1 0h0m4 0h0m1 0h0m1 0h0m1 0h0m1 0h0m-319 1h0m5 0h0m8 0h0m16 0h0m12 0h0m30 0h0m16 0h0m6 0h0m11 0h0m15 0h0m3 0h0m2 0h0m7 0h0m13 0h0m1 0h0m6 0h0m8 0h0m30 0h0m35 0h0m13 0h0m5 0h0m2 0h0m22 0h0m5 0h0m26 0h0m6 0h0m3 0h0m6 0h0m3 0h0m6 0h0m-405 1h0m88 0h0m1 0h0m7 0h0m17 0h0m42 0h0m2 0h0m4 0h0m18 0h0m7 0h0m2 0h0m29 0h0m7 0h0m9 0h0m14 0h0m10 0h0m3 0h0m12 0h0m7 0h0m3 0h0m6 0h0m5 0h0m1 0h0m2 0h0m9 0h0m2 0h0m4 0h0m2 0h0m7 0h0m2 0h0m1 0h0m16 0h0m6 0h0m3 0h0m28 0h0m7 0h0m2 0h0m3 0h0m4 0h0m8 0h0m1 0h0m-303 1h0m11 0h0m48 0h0m2 0h0m3 0h0m3 0h0m8 0h0m16 0h0m8 0h0m2 0h0m43 0h0m1 0h0m1 0h0m1 0h0m3 0h0m2 0h0m4 0h0m15 0h0m9 0h0m4 0h0m1 0h0m9 0h0m11 0h0m13 0h0m10 0h0m2 0h0m8 0h0m10 0h0m2 0h0m7 0h0m36 0h0m4 0h0m4 0h0m6 0h0m-285 1h0m4 0h0m34 0h0m1 0h0m5 0h0m1 0h0m8 0h0m9 0h0m2 0h0m11 0h0m1 0h0m3 0h0m20 0h0m4 0h0m24 0h0m7 0h0m1 0h0m2 0h0m2 0h0m6 0h0m15 0h0m24 0h0m5 0h0m12 0h0m38 0h0m6 0h0m18 0h0m19 0h0m-324 1h0m2 0h0m15 0h0m67 0h0m20 0h0m4 0h0m19 0h0m2 0h0m6 0h0m6 0h0m2 0h0m24 0h0m1 0h0m8 0h0m6 0h0m9 0h0m6 0h0m25 0h0m5 0h0m17 0h0m4 0h0m19 0h0m3 0h0m7 0h0m32 0h0m-303 1h0m4 0h0m20 0h0m50 0h0m1 0h0m92 0h0m4 0h0m7 0h0m2 0h0m5 0h0m6 0h0m5 0h0m13 0h0m4 0h0m3 0h0m21 0h0m23 0h0m13 0h0m11 0h0m17 0h0m6 0h0m7 0h0m7 0h0m-325 1h0m4 0h0m1 0h0m6 0h0m1 0h0m1 0h0m1 0h0m2 0h0m1 0h0m2 0h0m4 0h0m5 0h0m1 0h0m8 0h0m5 0h0m3 0h0m27 0h0m1 0h0m3 0h0m5 0h0m1 0h0m2 0h0m3 0h0m1 0h0m1 0h0m1 0h0m2 0h0m4 0h0m1 0h0m7 0h0m2 0h0m11 0h0m6 0h0m4 0h0m5 0h0m5 0h0m4 0h0m1 0h0m1 0h0m2 0h0m1 0h0m2 0h0m3 0h0m4 0h0m1 0h0m2 0h0m4 0h0m1 0h0m1 0h0m1 0h0m2 0h0m1 0h0m2 0h0m3 0h0m1 0h0m1 0h0m1 0h0m1 0h0m1 0h0m1 0h0m1 0h0m2 0h0m1 0h0m1 0h0m2 0h0m1 0h0m1 0h0m4 0h0m1 0h0m1 0h0m1 0h0m3 0h0m2 0h0m7 0h0m1 0h0m3 0h0m1 0h0m1 0h0m1 0h0m2 0h0m1 0h0m3 0h0m5 0h0m2 0h0m2 0h0m1 0h0m2 0h0m2 0h0m5 0h0m1 0h0m1 0h0m4 0h0m1 0h0m3 0h0m1 0h0m2 0h0m3 0h0m1 0h0m4 0h0m2 0h0m4 0h0m1 0h0m1 0h0m3 0h0m7 0h0m1 0h0m6 0h0m6 0h0m2 0h0m3 0h0m1 0h0m5 0h0m8 0h0m2 0h0m1 0h0m2 0h0m3 0h0m1 0h0m4 0h0m-322 1h0m8 0h0m20 0h0m15 0h0m28 0h0m2 0h0m11 0h0m47 0h0m7 0h0m8 0h0m3 0h0m8 0h0m13 0h0m13 0h0m2 0h0m1 0h0m14 0h0m1 0h0m8 0h0m4 0h0m8 0h0m12 0h0m20 0h0m10 0h0m59 0h0m-319 1h0m5 0h0m1 0h0m2 0h0m1 0h0m25 0h0m6 0h0m28 0h0m5 0h0m2 0h0m3 0h0m6 0h0m5 0h0m2 0h0m8 0h0m6 0h0m32 0h0m1 0h0m1 0h0m9 0h0m12 0h0m2 0h0m23 0h0m5 0h0m1 0h0m5 0h0m3 0h0m12 0h0m7 0h0m7 0h0m20 0h0m1 0h0m8 0h0m7 0h0m3 0h0m31 0h0m1 0h0m9 0h0m6 0h0m-312 1h0m25 0h0m15 0h0m45 0h0m4 0h0m11 0h0m2 0h0m26 0h0m5 0h0m16 0h0m22 0h0m1 0h0m11 0h0m8 0h0m2 0h0m4 0h0m2 0h0m18 0h0m14 0h0m5 0h0m9 0h0m1 0h0m22 0h0m10 0h0m9 0h0m11 0h0m2 0h0m-361 1h0m65 0h0m5 0h0m17 0h0m6 0h0m68 0h0m6 0h0m20 0h0m5 0h0m14 0h0m9 0h0m8 0h0m2 0h0m4 0h0m3 0h0m9 0h0m8 0h0m2 0h0m3 0h0m28 0h0m6 0h0m2 0h0m4 0h0m11 0h0m16 0h0m2 0h0m3 0h0m1 0h0m6 0h0m8 0h0m19 0h0m7 0h0m2 0h0m-294 1h0m7 0h0m64 0h0m13 0h0m11 0h0m27 0h0m12 0h0m12 0h0m11 0h0m20 0h0m9 0h0m11 0h0m2 0h0m4 0h0m24 0h0m20 0h0m1 0h0m22 0h0m14 0h0m5 0h0m-300 1h0m6 0h0m7 0h0m39 0h0m33 0h0m1 0h0m19 0h0m18 0h0m8 0h0m25 0h0m1 0h0m7 0h0m6 0h0m20 0h0m2 0h0m9 0h0m1 0h0m11 0h0m12 0h0m12 0h0m6 0h0m2 0h0m53 0h0m3 0h0m2 0h0m10 0h0m-318 1h0m22 0h0m14 0h0m6 0h0m35 0h0m14 0h0m21 0h0m29 0h0m6 0h0m24 0h0m14 0h0m7 0h0m4 0h0m4 0h0m12 0h0m2 0h0m25 0h0m5 0h0m13 0h0m3 0h0m2 0h0m8 0h0m31 0h0m6 0h0m8 0h0m9 0h0m-312 1h0m2 0h0m60 0h0m1 0h0m30 0h0m2 0h0m3 0h0m1 0h0m11 0h0m13 0h0m27 0h0m7 0h0m10 0h0m20 0h0m22 0h0m10 0h0m7 0h0m25 0h0m10 0h0m10 0h0m10 0h0m-261 1h0m41 0h0m3 0h0m7 0h0m2 0h0m16 0h0m5 0h0m21 0h0m15 0h0m12 0h0m11 0h0m2 0h0m8 0h0m16 0h0m10 0h0m48 0h0m10 0h0m6 0h0m36 0h0m2 0h0m2 0h0m4 0h0m4 0h0m8 0h0m1 0h0m-325 1h0m4 0h0m6 0h0m8 0h0m9 0h0m50 0h0m17 0h0m10 0h0m2 0h0m20 0h0m9 0h0m3 0h0m14 0h0m13 0h0m4 0h0m6 0h0m19 0h0m3 0h0m4 0h0m1 0h0m5 0h0m2 0h0m3 0h0m16 0h0m9 0h0m9 0h0m11 0h0m9 0h0m7 0h0m29 0h0m6 0h0m-263 1h0m33 0h0m8 0h0m8 0h0m10 0h0m2 0h0m43 0h0m15 0h0m6 0h0m3 0h0m7 0h0m3 0h0m6 0h0m1 0h0m20 0h0m2 0h0m1 0h0m1 0h0m9 0h0m13 0h0m3 0h0m3 0h0m5 0h0m5 0h0m58 0h0m1 0h0m6 0h0m-309 1h0m19 0h0m5 0h0m15 0h0m48 0h0m12 0h0m21 0h0m28 0h0m28 0h0m18 0h0m7 0h0m40 0h0m18 0h0m31 0h0m12 0h0m-309 1h0m19 0h0m65 0h0m20 0h0m14 0h0m2 0h0m25 0h0m6 0h0m3 0h0m6 0h0m26 0h0m13 0h0m5 0h0m4 0h0m78 0h0m2 0h0m16 0h0m15 0h0m4 0h0m-283 1h0m37 0h0m11 0h0m111 0h0m10 0h0m23 0h0m-277 1h0m45 0h0m1 0h0m3 0h0m1 0h0m1 0h0m1 0h0m1 0h0m2 0h0m5 0h0m1 0h0m1 0h0m1 0h0m2 0h0m1 0h0m3 0h0m2 0h0m1 0h0m1 0h0m2 0h0m1 0h0m2 0h0m1 0h0m3 0h0m1 0h0m3 0h0m1 0h0m1 0h0m1 0h0m3 0h0m26 0h0m1 0h0m1 0h0m1 0h0m1 0h0m3 0h0m1 0h0m1 0h0m1 0h0m1 0h0m3 0h0m1 0h0m1 0h0m1 0h0m3 0h0m7 0h0m2 0h0m1 0h0m1 0h0m1 0h0m1 0h0m1 0h0m1 0h0m3 0h0m2 0h0m1 0h0m2 0h0m1 0h0m1 0h0m3 0h0m2 0h0m1 0h0m1 0h0m1 0h0m1 0h0m3 0h0m1 0h0m1 0h0m3 0h0m1 0h0m2 0h0m1 0h0m2 0h0m2 0h0m3 0h0m1 0h0m1 0h0m1 0h0m1 0h0m2 0h0m2 0h0m2 0h0m1 0h0m2 0h0m9 0h0m2 0h0m1 0h0m1 0h0m2 0h0m1 0h0m1 0h0m1 0h0m1 0h0m1 0h0m1 0h0m1 0h0m1 0h0m1 0h0m1 0h0m1 0h0m1 0h0m1 0h0m1 0h0m2 0h0m1 0h0m1 0h0m2 0h0m1 0h0m2 0h0m2 0h0m1 0h0m2 0h0m2 0h0m1 0h0m1 0h0m1 0h0m1 0h0m1 0h0m1 0h0m2 0h0m6 0h0m1 0h0m2 0h0m1 0h0m1 0h0m1 0h0m1 0h0m1 0h0m1 0h0m1 0h0m1 0h0m1 0h0m1 0h0m1 0h0m1 0h0m1 0h0m1 0h0m1 0h0m3 0h0m1 0h0m1 0h0m1 0h0m1 0h0m1 0h0m1 0h0m1 0h0m1 0h0m1 0h0m2 0h0m1 0h0m2 0h0m2 0h0m1 0h0m1 0h0m5 0h0m2 0h0m2 0h0m1 0h0m1 0h0m1 0h0m1 0h0m2 0h0m2 0h0m1 0h0m1 0h0m7 0h0m1 0h0m2 0h0m2 0h0m1 0h0m2 0h0m4 0h0m1 0h0m1 0h0m1 0h0m2 0h0m1 0h0m1 0h0m1 0h0m1 0h0m2 0h0m1 0h0m1 0h0m1 0h0m2 0h0m2 0h0m3 0h0m3 0h0m1 0h0m1 0h0m1 0h0m1 0h0m1 0h0m2 0h0m-320 1h0m11 0h0m129 0h0m57 0h0m62 0h0m23 0h0m20 0h0m-302 1h0m81 0h0m19 0h0m19 0h0m4 0h0m16 0h0m64 0h0m33 0h0m29 0h0m3 0h0m10 0h0m25 0h0m8 0h0m5 0h0m-311 1h0m25 0h0m37 0h0m23 0h0m6 0h0m7 0h0m4 0h0m52 0h0m39 0h0m11 0h0m18 0h0m7 0h0m67 0h0m5 0h0m-166 1h0m30 0h0m7 0h0m14 0h0m10 0h0m14 0h0m28 0h0m15 0h0m12 0h0m34 0h0m-297 1h0m5 0h0m59 0h0m5 0h0m95 0h0m1 0h0m117 0h0m8 0h0m-292 1h0m81 0h0m14 0h0m9 0h0m21 0h0m28 0h0m11 0h0m1 0h0m32 0h0m14 0h0m-222 1h0m166 0h0m11 0h0m31 0h0m16 0h0m-223 1h0m173 0h0m2 0h0m23 0h0m25 0h0m-59 1h0m24 0h0m136 0h0m-308 1h0m71 0h0m10 0h0m39 0h0m7 0h0m2 0h0m56 0h0m74 0h0m-257 1h0m26 0h0m59 0h0m56 0h0m21 0h0m45 0h0m7 0h0m22 0h0m-218 1h0m8 0h0m29 0h0m76 0h0m21 0h0m1 0h0m13 0h0m24 0h0m31 0h0m46 0h0m23 0h0m-372 1h0m8 0h0m65 0h0m2 0h0m4 0h0m3 0h0m1 0h0m19 0h0m2 0h0m33 0h0m6 0h0m2 0h0m4 0h0m10 0h0m7 0h0m9 0h0m7 0h0m3 0h0m6 0h0m1 0h0m1 0h0m2 0h0m6 0h0m9 0h0m1 0h0m2 0h0m4 0h0m5 0h0m10 0h0m4 0h0m2 0h0m10 0h0m10 0h0m2 0h0m1 0h0m4 0h0m2 0h0m1 0h0m7 0h0m3 0h0m8 0h0m2 0h0m2 0h0m3 0h0m3 0h0m11 0h0m1 0h0m1 0h0m25 0h0m22 0h0m16 0h0m1 0h0m11 0h0m1 0h0m1 0h0m-321 1h0m73 0h0m62 0h0m15 0h0m4 0h0m38 0h0m42 0h0m40 0h0m-241 1h0m125 0h0m25 0h0m32 0h0m4 0h0m22 0h0m43 0h0m16 0h0m19 0h0m-313 1h0m170 0h0m58 0h0m29 0h0m3 0h0m35 0h0m-107 1h0m-182 1h0m12 0h0m57 0h0m2 0h0m24 0h0m30 0h0m5 0h0m59 0h0m-135 1h0m46 0h0m30 0h0m55 0h0m-232 1h0m49 0h0m5 0h0m21 0h0m106 0h0m49 0h0m5 0h0m26 0h0m81 0h0m-182 1h0m22 0h0m15 0h0m1 0h0m22 0h0m43 0h0m-231 1h0m2 0h0m3 0h0m4 0h0m4 0h0m3 0h0m4 0h0m3 0h0m4 0h0m2 0h0m46 0h0m2 0h0m6 0h0m1 0h0m2 0h0m8 0h0m5 0h0m3 0h0m4 0h0m4 0h0m1 0h0m1 0h0m1 0h0m1 0h0m1 0h0m1 0h0m3 0h0m1 0h0m3 0h0m1 0h0m3 0h0m4 0h0m2 0h0m2 0h0m2 0h0m1 0h0m1 0h0m1 0h0m5 0h0m1 0h0m4 0h0m2 0h0m5 0h0m8 0h0m21 0h0m1 0h0m1 0h0m2 0h0m2 0h0m3 0h0m2 0h0m4 0h0m1 0h0m3 0h0m4 0h0m4 0h0m11 0h0m3 0h0m5 0h0m3 0h0m1 0h0m8 0h0m1 0h0m2 0h0m2 0h0m6 0h0m2 0h0m2 0h0m6 0h0m1 0h0m1 0h0m5 0h0m5 0h0m11 0h0m11 0h0m2 0h0m5 0h0m4 0h0m6 0h0m1 0h0m1 0h0m2 0h0m5 0h0m1 0h0m-237 1h0m113 0h0m16 0h0m-191 1h0m16 0h0m65 0h0m26 0h0m171 0h0m3 0h0m6 0h0m-371 1h0m2 0h0m209 0h0m-152 1h0m81 0h0m85 0h0m18 0h0m16 0h0m86 0h0m25 0h0m-143 1h0m28 0h0m6 0h0m2 0h0m103 0h0m1 0h0m-317 1h0m67 0h0m21 0h0m2 0h0m55 0h0m38 0h0m5 0h0m3 0h0m1 0h0m59 0h0m23 0h0m-345 1h0m64 0h0m20 0h0m57 0h0m22 0h0m97 0h0m7 0h0m8 0h0m38 0h0m29 0h0m5 0h0m-316 1h0m13 0h0m36 0h0m6 0h0m11 0h0m6 0h0m11 0h0m6 0h0m3 0h0m24 0h0m7 0h0m3 0h0m10 0h0m2 0h0m1 0h0m2 0h0m5 0h0m4 0h0m12 0h0m6 0h0m13 0h0m4 0h0m1 0h0m6 0h0m6 0h0m7 0h0m6 0h0m10 0h0m2 0h0m3 0h0m14 0h0m24 0h0m6 0h0m8 0h0m14 0h0m43 0h0m1 0h0m8 0h0m3 0h0m3 0h0m9 0h0m7 0h0m-370 1h0m38 0h0m177 0h0m51 0h0m49 0h0m3 0h0m-272 1h0m8 0h0m108 0h0m111 0h0m-297 1h0m252 0h0m14 0h0m102 0h0m-351 1h0m32 0h0m174 0h0m41 0h0m11 0h0m-263 1h0m13 0h0m126 0h0m100 0h0m24 0h0m11 0h0m98 0h0m-330 1h0m36 0h0m38 0h0m57 0h0m95 0h0m11 0h0m-231 1h0m10 0h0m15 0h0m5 0h0m6 0h0m5 0h0m10 0h0m42 0h0m2 0h0m6 0h0m9 0h0m12 0h0m1 0h0m8 0h0m10 0h0m1 0h0m8 0h0m4 0h0m3 0h0m25 0h0m5 0h0m3 0h0m3 0h0m5 0h0m12 0h0m7 0h0m3 0h0m5 0h0m9 0h0m17 0h0m8 0h0m3 0h0m4 0h0m4 0h0m7 0h0m7 0h0m4 0h0m16 0h0m4 0h0m22 0h0m-341 1h0m11 0h0m3 0h0m2 0h0m22 0h0m44 0h0m104 0h0m43 0h0m-247 1h0m195 0h0m17 0h0m96 0h0m37 0h0m-371 1h0m127 0h0m12 0h0m45 0h0m36 0h0m19 0h0m9 0h0m83 0h0m12 0h0m34 0h0m-372 1h0m3 0h0m35 0h0m58 0h0m135 0h0m20 0h0m-251 1h0m3 0h0m156 0h0m5 0h0m45 0h0m119 0h0m41 0h0m-348 1h0m26 0h0m14 0h0m64 0h0m2 0h0m20 0h0m28 0h0m20 0h0m63 0h0m-245 1h0m12 0h0m15 0h0m88 0h0m31 0h0m8 0h0m-168 1h0m14 0h0m32 0h0m12 0h0m26 0h0m154 0h0m58 0h0m9 0h0m-56 1h0m83 0h0m-293 1h0m173 0h0m65 0h0m57 0h0m-275 1h0m2 0h0m7 0h0m5 0h0m6 0h0m6 0h0m55 0h0m10 0h0m14 0h0m28 0h0m66 0h0m2 0h0m2 0h0m21 0h0m6 0h0m12 0h0m26 0h0m5 0h0m31 0h0m16 0h0m10 0h0m-382 1h0m1 0h0m18 0h0m12 0h0m13 0h0m9 0h0m152 0h0m27 0h0m12 0h0m-249 1h0m3 0h0m19 0h0m20 0h0m77 0h0m-88 1h0m121 0h0m109 0h0m27 0h0m-296 1h0m42 0h0m1 0h0m4 0h0m11 0h0m3 0h0m121 0h0m49 0h0m153 0h0m-380 1h0m5 0h0m56 0h0m73 0h0m78 0h0m98 0h0m25 0h0m-322 1h0m18 0h0m9 0h0m13 0h0m150 0h0m115 0h0m20 0h0m25 0h0m-368 1h0m193 0h0m80 0h0m97 0h0m-370 1h0m11 0h0m65 0h0m27 0h0m35 0h0m-124 1h0m13 0h0m8 0h0m45 0h0m180 0h0m22 0h0m-250 1h0m8 0h0m124 0h0m115 0h0m55 0h0m-332 1h0m10 0h0m31 0h0m11 0h0m76 0h0m9 0h0m3 0h0m14 0h0m91 0h0m-251 1h0m72 0h0m181 0h0m38 0h0m-273 1h0m51 0h0m67 0h0m154 0h0m14 0h0m23 0h0m-308 1h0m26 0h0m178 0h0m42 0h0m115 0h0m-323 1h0m5 0h0m74 0h0m255 0h0m-377 1h0m89 0h0m-50 1h0m154 0h0m5 0h0m96 0h0m-307 1h0m103 0h0m37 0h0m-142 1h0m10 0h0m18 1h0m11 0h0m13 0h0m-7 1h0m97 0h0m25 0h0m-123 1h0m91 0h0m-121 1h0m21 0h0m178 0h0m-178 1h0m4 0h0m9 0h0m23 0h0m3 0h0m-65 1h0m21 0h0m35 0h0m325 1h0m-369 2h0m50 0h0m314 0h0m-374 1h0m8 0h0m113 0h0m56 0h0m167 2h0m-183 1h0m99 0h0m9 0h0m104 0h0m-363 1h0m7 0h0m126 0h0m112 0h0m-203 2h0m71 2h0m-16 1h0m40 0h0m170 2h0m-305 2h0m49 0h0m190 2h0m19 0h0m-236 1h0m16 5h0m-5 1h0m-9 1h0m91 2h0m95 2h0" stroke="#000" stroke-width="2.1" stroke-linecap="square" fill="none"/>
<path d="M1808 87.1H2029" stroke="#000" stroke-width="3" stroke-dasharray="14 2 22 3 9 2 30 2 6 4 18 2" opacity=".8" fill="none"/>
<path d="M1316.5 85.5H1323.2" stroke="#a0a0a0" stroke-width="1.8"/>
<text transform="translate(1316.3 117.3) scale(0.975 1)" font-size="51" fill="#4d4d4d" text-anchor="end">1.00</text>
<path d="M1316.5 306.7H1323.2" stroke="#a0a0a0" stroke-width="1.8"/>
<text transform="translate(1316.3 326) scale(0.975 1)" font-size="51" fill="#4d4d4d" text-anchor="end">0.75</text>
<path d="M1316.5 527.9H1323.2" stroke="#a0a0a0" stroke-width="1.8"/>
<text transform="translate(1316.3 547.2) scale(0.975 1)" font-size="51" fill="#4d4d4d" text-anchor="end">0.50</text>
<path d="M1316.5 749.1H1323.2" stroke="#a0a0a0" stroke-width="1.8"/>
<text transform="translate(1316.3 768.4) scale(0.975 1)" font-size="51" fill="#4d4d4d" text-anchor="end">0.25</text>
<path d="M1316.5 970.3H1323.2" stroke="#a0a0a0" stroke-width="1.8"/>
<text transform="translate(1316.3 989.6) scale(0.975 1)" font-size="51" fill="#4d4d4d" text-anchor="end">0.00</text>
<path d="M1740.6 970.3V977.3" stroke="#a0a0a0" stroke-width="1.8"/>
<text transform="translate(1674.3 1027.2) scale(.958 1)" font-size="62.5" fill="#333" stroke="#fff" stroke-width="0.5">5×10<tspan dy="-33.5" dx="2.5" font-size="31" fill="#6e6e6e" stroke="none">7</tspan></text>
<text transform="translate(1685.5 1088.3) scale(0.983 1)" font-size="62" fill="#111" stroke="#fff" stroke-width="0.7">Position</text>
<text transform="translate(1194.5 551.5) scale(1.06 1) rotate(-90)" font-size="61.5" fill="#111" text-anchor="middle" stroke="#fff" stroke-width="0.7">Ratios diffrence</text>
<rect x="2151.6" y="449.5" width="35" height="46.5" fill="#f3aeaa"/>
<text transform="translate(2220.6 494) scale(1.027 1)" font-size="51.5" fill="#000" stroke="#fff" stroke-width="0.7">IBD0</text>
<rect x="2151.6" y="498.7" width="35" height="46.5" fill="#75d291"/>
<text transform="translate(2220.6 543.2) scale(1.027 1)" font-size="51.5" fill="#000" stroke="#fff" stroke-width="0.7">IBD1</text>
<rect x="2151.6" y="547.9" width="35" height="46.5" fill="#a6c3f5"/>
<text transform="translate(2220.6 592.4) scale(1.027 1)" font-size="51.5" fill="#000" stroke="#fff" stroke-width="0.7">IBD2</text>
</g>
<g id="panelC">
<text transform="translate(26 1203)" font-size="92" fill="#000">C</text>
<rect x="200" y="1180.3" width="696.8" height="63.9" fill="#d9d9d9"/>
<rect x="200" y="1244.2" width="696.8" height="484.2" fill="#ebebeb"/>
<path d="M200 1651.4h696.8M200 1541.8h696.8M200 1432.2h696.8M200 1322.6h696.8M349.5 1244.2V1728.4M585.3 1244.2V1728.4M821.1 1244.2V1728.4" stroke="#f1f1f1" stroke-width="1.5" fill="none"/>
<path d="M200 1706.2h696.8M200 1596.6h696.8M200 1487h696.8M200 1377.4h696.8M200 1267.8h696.8M231.6 1244.2V1728.4M467.4 1244.2V1728.4M703.2 1244.2V1728.4" stroke="#f5f5f5" stroke-width="2.5" fill="none"/>
<text transform="translate(547.8 1234.5) scale(1.008 1)" font-size="63" fill="#1a1a1a" text-anchor="middle" stroke="#d9d9d9" stroke-width="0.7">II.8 + II.9</text>
<rect x="231.1" y="1387" width="169.6" height="185.9" fill="#1b9e77"/>
<path d="M293 1268h0m9 0h0m3 0h0m7 0h0m-10 1h0m-4 1h0m4 1h0m2 0h0m2 0h0m1 0h0m-3 1h0m-7 2h0m2 2h0m2 1h0m8 0h0m-10 2h0m4 1h0m-8 1h0m5 1h0m1 1h0m1 0h0m-6 1h0m6 0h0m6 1h0m-10 2h0m1 0h0m1 0h0m2 0h0m2 0h0m3 0h0m-6 1h0m-62 2h0m62 0h0m-2 4h0m6 15h0m-44 2h0m66 12h0m15 2h0m55 0h0m-63 2h0m-91 4h0m87 0h0m-41 3h0m36 2h0m32 4h0m16 1h0m-77 2h0m101 1h0m-145 1h0m39 3h0m4 0h0m14 0h0m12 0h0m33 0h0m-38 1h0m70 0h0m-86 2h0m-41 1h0m76 0h0m-84 1h0m40 1h0m11 1h0m10 0h0m9 0h0m38 0h0m-81 1h0m109 0h0m2 0h0m-93 1h0m79 0h0m4 0h0m-117 1h0m30 0h0m7 0h0m59 0h0m-98 1h0m93 0h0m-109 1h0m38 0h0m84 0h0m-122 1h0m35 0h0m92 0h0m9 0h0m-55 1h0m-63 1h0m12 0h0m48 0h0m60 0h0m-80 1h0m11 0h0m46 0h0m3 0h0m-116 1h0m17 0h0m12 0h0m6 0h0m7 0h0m8 0h0m5 0h0m1 0h0m11 0h0m23 0h0m7 0h0m11 0h0m2 0h0m23 0h0m11 0h0m6 0h0m-141 1h0m20 0h0m18 0h0m50 0h0m-98 1h0m20 0h0m19 0h0m12 0h0m22 0h0m22 0h0m4 0h0m-38 1h0m14 0h0m1 0h0m15 0h0m-93 1h0m10 0h0m15 0h0m2 0h0m32 0h0m15 0h0m8 0h0m30 0h0m23 0h0m-114 1h0m4 0h0m20 0h0m11 0h0m31 0h0m8 0h0m14 0h0m31 0h0m12 0h0m-135 1h0m43 0h0m1 0h0m45 0h0m12 0h0m25 0h0m-126 1h0m5 0h0m23 0h0m19 0h0m3 0h0m6 0h0m11 0h0m27 0h0m17 0h0m14 0h0m7 0h0m-116 1h0m10 0h0m6 0h0m3 0h0m15 0h0m34 0h0m-61 1h0m4 0h0m18 0h0m9 0h0m27 0h0m21 0h0m33 0h0m-130 1h0m6 0h0m26 0h0m7 0h0m7 0h0m13 0h0m3 0h0m21 0h0m11 0h0m16 0h0m-123 1h0m10 0h0m7 0h0m26 0h0m8 0h0m1 0h0m10 0h0m20 0h0m51 0h0m8 0h0m3 0h0m-156 1h0m3 0h0m9 0h0m9 0h0m2 0h0m7 0h0m4 0h0m12 0h0m19 0h0m6 0h0m2 0h0m7 0h0m9 0h0m5 0h0m14 0h0m10 0h0m3 0h0m7 0h0m7 0h0m1 0h0m6 0h0m1 0h0m13 0h0m1 0h0m-161 1h0m1 0h0m6 0h0m1 0h0m3 0h0m25 0h0m7 0h0m2 0h0m15 0h0m1 0h0m2 0h0m6 0h0m6 0h0m4 0h0m5 0h0m1 0h0m1 0h0m1 0h0m2 0h0m2 0h0m8 0h0m3 0h0m10 0h0m4 0h0m6 0h0m26 0h0m2 0h0m6 0h0m3 0h0m3 0h0m-153 1h0m1 0h0m10 0h0m7 0h0m4 0h0m21 0h0m4 0h0m17 0h0m6 0h0m15 0h0m20 0h0m6 0h0m10 0h0m5 0h0m12 0h0m-147 1h0m14 0h0m13 0h0m4 0h0m3 0h0m2 0h0m28 0h0m1 0h0m4 0h0m9 0h0m10 0h0m2 0h0m10 0h0m2 0h0m16 0h0m5 0h0m16 0h0m4 0h0m11 0h0m-149 1h0m7 0h0m17 0h0m4 0h0m16 0h0m4 0h0m20 0h0m7 0h0m34 0h0m12 0h0m18 0h0m11 0h0m-154 1h0m23 0h0m2 0h0m9 0h0m35 0h0m6 0h0m5 0h0m3 0h0m4 0h0m14 0h0m59 0h0m-159 1h0m6 0h0m8 0h0m16 0h0m3 0h0m6 0h0m7 0h0m4 0h0m3 0h0m3 0h0m3 0h0m5 0h0m16 0h0m3 0h0m5 0h0m2 0h0m11 0h0m2 0h0m4 0h0m48 0h0m-159 1h0m7 0h0m10 0h0m13 0h0m19 0h0m13 0h0m8 0h0m11 0h0m22 0h0m4 0h0m1 0h0m3 0h0m6 0h0m1 0h0m2 0h0m29 0h0m5 0h0m7 0h0m-159 1h0m7 0h0m4 0h0m5 0h0m1 0h0m47 0h0m6 0h0m4 0h0m2 0h0m3 0h0m1 0h0m9 0h0m8 0h0m7 0h0m1 0h0m8 0h0m12 0h0m1 0h0m3 0h0m10 0h0m5 0h0m17 0h0m-158 1h0m13 0h0m8 0h0m17 0h0m8 0h0m8 0h0m12 0h0m4 0h0m7 0h0m25 0h0m2 0h0m4 0h0m6 0h0m9 0h0m15 0h0m11 0h0m2 0h0m4 0h0m-158 1h0m1 0h0m11 0h0m8 0h0m4 0h0m3 0h0m2 0h0m2 0h0m1 0h0m1 0h0m13 0h0m4 0h0m6 0h0m12 0h0m3 0h0m3 0h0m2 0h0m3 0h0m12 0h0m3 0h0m4 0h0m3 0h0m1 0h0m1 0h0m2 0h0m2 0h0m4 0h0m4 0h0m9 0h0m1 0h0m7 0h0m1 0h0m8 0h0m6 0h0m7 0h0m7 0h0m1 0h0m-162 1h0m7 0h0m1 0h0m14 0h0m7 0h0m3 0h0m6 0h0m2 0h0m4 0h0m4 0h0m5 0h0m5 0h0m1 0h0m2 0h0m1 0h0m2 0h0m5 0h0m3 0h0m12 0h0m2 0h0m2 0h0m1 0h0m23 0h0m3 0h0m4 0h0m1 0h0m5 0h0m3 0h0m3 0h0m11 0h0m6 0h0m3 0h0m3 0h0m4 0h0m1 0h0m3 0h0m-140 1h0m39 0h0m10 0h0m1 0h0m4 0h0m17 0h0m21 0h0m37 0h0m-146 1h0m22 0h0m22 0h0m7 0h0m1 0h0m2 0h0m17 0h0m13 0h0m13 0h0m9 0h0m12 0h0m16 0h0m3 0h0m14 0h0m3 0h0m-160 1h0m-3 1h0m166 2h0m463 0h0m0 4h0m-627 1h0m-1 1h0m631 0h0m-466 1h0m-165 2h0m166 3h0m-1 4h0m463 0h0m-627 1h0m164 1h0m0 1h0m-166 1h0m167 0h0m461 2h0m3 0h0m-628 1h0m165 1h0m462 0h0m-463 2h0m464 0h0m-630 6h0m629 1h0m-628 1h0m165 0h0m-166 1h0m627 0h0m-627 2h0m629 0h0m-630 1h0m200 0h0m-34 2h0m-165 2h0m166 1h0m464 0h0m-1 2h0m-464 1h0m-165 1h0m166 1h0m-164 1h0m165 0h0m463 0h0m-628 1h0m1 0h0m625 0h0m-463 1h0m463 0h0m2 0h0m-466 1h0m464 0h0m-460 2h0m460 0h0m1 2h0m-628 1h0m164 0h0m0 1h0m124 0h0m339 1h0m1 0h0m-1 1h0m0 2h0m-629 1h0m631 0h0m-629 1h0m629 0h0m0 1h0m-2 1h0m-628 1h0m629 0h0m2 0h0m-4 2h0m1 1h0m-629 1h0m627 0h0m-461 1h0m465 0h0m-631 1h0m1 0h0m629 2h0m-629 1h0m630 0h0m-630 1h0m165 0h0m-165 1h0m630 0h0m-631 1h0m499 1h0m-332 3h0m463 0h0m-629 1h0m629 1h0m-628 2h0m627 1h0m-628 1h0m166 1h0m0 1h0m462 0h0m2 0h0m0 1h0m-464 1h0m463 0h0m1 3h0m-630 1h0m2 0h0m627 0h0m-462 1h0m461 0h0m1 0h0m0 1h0m-97 1h0m-533 1h0m629 0h0m-339 1h0m339 1h0m-463 1h0m1 0h0m1 0h0m461 0h0m1 0h0m-628 2h0m-2 2h0m2 1h0m628 0h0m-1 1h0m-628 3h0m164 0h0m464 0h0m-628 1h0m166 0h0m463 0h0m1 0h0m-631 1h0m628 1h0m-625 1h0m627 1h0m1 1h0m-631 2h0m2 0h0m627 0h0m1 0h0m-463 1h0m462 0h0m-463 1h0m2 0h0m-167 1h0m628 0h0m-297 1h0m297 0h0m1 0h0m1 0h0m-294 1h0m292 0h0m-629 2h0m167 0h0m384 0h0m79 0h0m-154 2h0m153 0h0m-626 1h0m164 0h0m168 0h0m0 2h0m294 1h0m2 0h0m-296 1h0m294 0h0m2 1h0m-122 1h0m120 0h0m1 0h0m-2 1h0m-461 2h0m-1 1h0m-164 2h0m316 0h0m18 0h0m1 0h0m293 0h0m-1 1h0m-294 1h0m295 2h0m-294 1h0m206 0h0m-374 1h0m167 0h0m293 0h0m4 0h0m-296 1h0m1 0h0m294 0h0m-465 1h0m1 0h0m461 0h0m1 1h0m-293 1h0m293 0h0m-627 1h0m166 0h0m170 0h0m-4 2h0m-166 1h0m169 0h0m293 0h0m-294 1h0m295 2h0m-1 2h0m-630 1h0m629 0h0m-294 2h0m-334 2h0m335 2h0m0 2h0m-1 2h0m-169 1h0m168 0h0m-294 2h0m4 0h0m43 0h0m11 0h0m7 0h0m-93 1h0m2 0h0m6 0h0m7 0h0m15 0h0m8 0h0m15 0h0m1 0h0m24 0h0m1 0h0m2 0h0m3 0h0m8 0h0m17 0h0m2 0h0m1 0h0m15 0h0m-113 1h0m29 0h0m2 0h0m10 0h0m13 0h0m1 0h0m2 0h0m2 0h0m2 0h0m8 0h0m7 0h0m7 0h0m7 0h0m15 0h0m2 0h0m5 0h0m2 0h0m3 0h0m4 0h0m188 0h0m-308 1h0m3 0h0m4 0h0m16 0h0m2 0h0m2 0h0m13 0h0m20 0h0m1 0h0m2 0h0m7 0h0m4 0h0m17 0h0m10 0h0m12 0h0m9 0h0m-132 1h0m3 0h0m3 0h0m17 0h0m2 0h0m11 0h0m5 0h0m1 0h0m8 0h0m2 0h0m9 0h0m4 0h0m4 0h0m1 0h0m4 0h0m5 0h0m12 0h0m2 0h0m2 0h0m5 0h0m12 0h0m2 0h0m9 0h0m5 0h0m21 0h0m-163 1h0m1 0h0m9 0h0m8 0h0m10 0h0m6 0h0m1 0h0m1 0h0m1 0h0m1 0h0m1 0h0m3 0h0m11 0h0m7 0h0m2 0h0m2 0h0m11 0h0m3 0h0m4 0h0m7 0h0m7 0h0m1 0h0m1 0h0m16 0h0m4 0h0m1 0h0m10 0h0m5 0h0m17 0h0m5 0h0m3 0h0m-160 1h0m5 0h0m12 0h0m19 0h0m3 0h0m24 0h0m1 0h0m2 0h0m16 0h0m3 0h0m4 0h0m1 0h0m1 0h0m1 0h0m2 0h0m18 0h0m26 0h0m1 0h0m5 0h0m3 0h0m1 0h0m2 0h0m-140 1h0m4 0h0m7 0h0m3 0h0m13 0h0m11 0h0m8 0h0m1 0h0m25 0h0m5 0h0m12 0h0m14 0h0m22 0h0m6 0h0m7 0h0m-142 1h0m10 0h0m4 0h0m6 0h0m10 0h0m44 0h0m3 0h0m4 0h0m7 0h0m10 0h0m10 0h0m32 0h0m3 0h0m1 0h0m12 0h0m-162 1h0m6 0h0m21 0h0m16 0h0m5 0h0m2 0h0m15 0h0m18 0h0m1 0h0m2 0h0m1 0h0m3 0h0m3 0h0m5 0h0m1 0h0m1 0h0m2 0h0m2 0h0m3 0h0m4 0h0m1 0h0m7 0h0m216 0h0m-332 1h0m3 0h0m6 0h0m11 0h0m9 0h0m2 0h0m2 0h0m22 0h0m3 0h0m18 0h0m1 0h0m11 0h0m4 0h0m7 0h0m4 0h0m1 0h0m1 0h0m3 0h0m2 0h0m3 0h0m1 0h0m15 0h0m9 0h0m1 0h0m191 0h0m1 0h0m-333 1h0m16 0h0m1 0h0m9 0h0m6 0h0m3 0h0m2 0h0m1 0h0m11 0h0m1 0h0m1 0h0m9 0h0m12 0h0m4 0h0m6 0h0m2 0h0m1 0h0m3 0h0m7 0h0m1 0h0m3 0h0m5 0h0m5 0h0m2 0h0m12 0h0m17 0h0m18 0h0m4 0h0m-144 1h0m17 0h0m6 0h0m2 0h0m7 0h0m4 0h0m5 0h0m3 0h0m3 0h0m14 0h0m2 0h0m1 0h0m5 0h0m2 0h0m2 0h0m4 0h0m14 0h0m4 0h0m1 0h0m1 0h0m12 0h0m4 0h0m5 0h0m2 0h0m13 0h0m181 0h0m2 0h0m-333 1h0m16 0h0m18 0h0m3 0h0m1 0h0m7 0h0m11 0h0m22 0h0m2 0h0m6 0h0m3 0h0m8 0h0m11 0h0m9 0h0m13 0h0m23 0h0m-123 1h0m1 0h0m12 0h0m11 0h0m6 0h0m27 0h0m1 0h0m8 0h0m13 0h0m17 0h0m209 0h0m-296 1h0m3 0h0m22 0h0m13 0h0m6 0h0m7 0h0m24 0h0m5 0h0m15 0h0m28 0h0m-154 1h0m1 0h0m12 0h0m18 0h0m1 0h0m1 0h0m33 0h0m7 0h0m2 0h0m1 0h0m5 0h0m13 0h0m3 0h0m11 0h0m5 0h0m11 0h0m3 0h0m9 0h0m12 0h0m177 0h0m-334 1h0m4 0h0m4 0h0m1 0h0m4 0h0m9 0h0m3 0h0m6 0h0m1 0h0m2 0h0m4 0h0m3 0h0m7 0h0m9 0h0m12 0h0m13 0h0m4 0h0m1 0h0m3 0h0m2 0h0m53 0h0m-137 1h0m33 0h0m8 0h0m9 0h0m31 0h0m18 0h0m1 0h0m3 0h0m221 0h0m-316 1h0m80 0h0m-71 1h0m15 0h0m1 0h0m49 0h0m24 0h0m33 0h0m186 0h0m-321 1h0m4 0h0m6 0h0m9 0h0m16 0h0m2 0h0m29 0h0m19 0h0m5 0h0m36 0h0m-103 1h0m2 0h0m3 0h0m85 0h0m5 0h0m202 0h0m-245 1h0m7 0h0m47 0h0m189 0h0m-315 1h0m18 0h0m5 0h0m2 0h0m3 0h0m44 0h0m15 0h0m3 0h0m7 0h0m4 0h0m217 0h0m-331 1h0m1 0h0m21 0h0m29 0h0m6 0h0m35 0h0m17 0h0m6 0h0m6 0h0m15 0h0m196 0h0m-282 1h0m1 0h0m3 0h0m8 0h0m19 0h0m2 0h0m1 0h0m3 0h0m1 0h0m8 0h0m12 0h0m1 0h0m10 0h0m40 0h0m-161 1h0m1 0h0m7 0h0m18 0h0m1 0h0m3 0h0m10 0h0m1 0h0m10 0h0m35 0h0m1 0h0m12 0h0m4 0h0m7 0h0m13 0h0m19 0h0m190 0h0m136 0h0m-456 1h0m11 0h0m13 0h0m3 0h0m10 0h0m6 0h0m54 0h0m5 0h0m-75 1h0m3 0h0m40 0h0m7 0h0m28 0h0m21 0h0m195 0h0m154 0h0m-466 1h0m6 0h0m71 0h0m34 0h0m201 0h0m-333 1h0m94 0h0m50 0h0m-133 1h0m19 0h0m56 0h0m19 0h0m18 0h0m209 0h0m1 0h0m-318 1h0m7 0h0m3 0h0m20 0h0m17 0h0m2 0h0m41 0h0m23 0h0m4 0h0m-81 1h0m11 0h0m272 0h0m179 1h0m-437 1h0m61 0h0m25 0h0m-107 1h0m60 0h0m38 0h0m4 0h0m-144 1h0m9 0h0m9 0h0m48 0h0m16 0h0m2 0h0m43 0h0m-126 1h0m23 0h0m1 0h0m14 0h0m38 0h0m7 0h0m4 0h0m20 0h0m5 0h0m2 0h0m26 0h0m2 0h0m-119 1h0m7 0h0m11 0h0m27 0h0m57 0h0m193 0h0m-312 1h0m18 0h0m2 0h0m25 0h0m36 0h0m36 0h0m9 0h0m-65 1h0m252 0h0m-195 1h0m3 0h0m-98 1h0m39 0h0m11 0h0m-77 1h0m34 0h0m20 1h0m263 0h0m180 0h0m-432 1h0m198 0h0m-264 1h0m78 0h0m34 0h0m-119 1h0m135 0h0m354 0h0m-378 1h0m287 0h0m-301 1h0m4 0h0m-108 1h0m3 0h0m30 0h0m2 0h0m2 0h0m32 0h0m11 0h0m3 0h0m12 0h0m-50 1h0m7 0h0m310 0h0m-283 1h0m253 0h0m-256 1h0m7 0h0m225 1h0m-286 1h0m85 0h0m1 0h0m11 1h0m29 0h0m388 0h0m-471 1h0m325 0h0m67 0h0m86 0h0m-509 1h0m7 0h0m78 0h0m280 0h0m-316 1h0m4 0h0m123 0h0m67 0h0m334 0h0m-578 1h0m39 0h0m147 0h0m13 0h0m98 0h0m172 0h0m-464 1h0m83 0h0m8 0h0m5 0h0m151 0h0m48 0h0m-29 1h0m24 0h0m2 0h0m5 0h0m1 0h0m225 0h0m-438 1h0m109 1h0m97 0h0m4 0h0m172 0h0m60 0h0m-234 1h0m1 0h0m2 0h0m-1 1h0m-154 1h0m83 0h0m71 0h0m31 0h0m-49 1h0m13 0h0m58 0h0m-54 1h0m109 1h0m-423 1h0m381 0h0m202 0h0m-512 1h0m189 0h0m53 0h0m175 0h0m21 0h0m-2 1h0m-494 1h0m8 0h0m289 0h0m2 0h0m1 0h0m-44 1h0m43 0h0m4 0h0m94 1h0m64 0h0m-358 1h0m110 0h0m87 0h0m1 0h0m9 0h0m5 0h0m39 0h0m122 0h0m-465 1h0m510 0h0m-527 1h0m89 0h0m204 0h0m13 0h0m1 0h0m163 0h0m24 0h0m-443 1h0m247 0h0m9 0h0m111 0h0m15 0h0m139 0h0m-531 1h0m39 0h0m227 0h0m-298 1h0m260 0h0m-247 1h0m101 0h0m-3 1h0m169 0h0m18 0h0m156 0h0m62 0h0m-391 1h0m54 0h0m199 0h0m40 0h0m19 0h0m34 0h0m-490 1h0m71 0h0m168 0h0m77 0h0m1 0h0m19 0h0m35 0h0m98 0h0m136 0h0m-504 1h0m62 0h0m153 0h0m2 0h0m1 0h0m267 0h0m5 0h0m1 0h0m-426 1h0m153 0h0m144 0h0m99 0h0m23 0h0m-272 1h0m199 0h0m64 0h0m-478 1h0m110 0h0m39 0h0m24 0h0m48 0h0m23 0h0m55 0h0m173 0h0m30 0h0m-463 1h0m47 0h0m126 0h0m4 0h0m2 0h0m216 0h0m-278 1h0m76 0h0m282 0h0m-385 1h0m45 0h0m46 0h0m75 0h0m98 0h0m112 0h0m-594 1h0m31 0h0m41 0h0m12 0h0m138 0h0m15 0h0m1 0h0m164 0h0m66 0h0m-174 1h0m14 0h0m89 0h0m17 0h0m-342 1h0m118 0h0m28 0h0m88 0h0m285 0h0m-551 1h0m14 0h0m33 0h0m484 0h0m22 0h0m-614 1h0m160 0h0m68 0h0m68 0h0m33 0h0m9 0h0m36 0h0m70 0h0m-161 1h0m42 0h0m198 0h0m64 0h0m-551 1h0m56 0h0m35 0h0m189 0h0m10 0h0m163 0h0m51 0h0m-458 1h0m196 0h0m5 0h0m45 0h0m-324 1h0m92 0h0m15 0h0m188 0h0m-293 1h0m314 0h0m-298 1h0m75 0h0m76 0h0m-166 1h0m21 0h0m188 0h0m115 0h0m286 0h0m-531 1h0m2 0h0m10 0h0m26 0h0m198 0h0m-302 1h0m5 0h0m130 0h0m127 0h0m276 0h0m27 0h0m-138 1h0m159 0h0m-509 1h0m19 0h0m43 0h0m-50 1h0m482 0h0m-548 1h0m162 0h0m255 0h0m-360 1h0m300 0h0m28 0h0m87 0h0m1 0h0m-477 1h0m531 0h0m-520 1h0m197 0h0m186 0h0m-234 2h0m20 0h0m261 1h0m-331 1h0m370 0h0m29 0h0m-205 2h0m-290 1h0m87 0h0m-111 3h0m-33 1h0m324 0h0m230 0h0" stroke="#1b9e77" stroke-width="5.6" stroke-linecap="round" fill="none"/>
<path d="M393 1401h0m-149 3h0m31 10h0m44 0h0m18 0h0m2 0h0m-90 16h0m-5 13h0m109 0h0m-92 44h0m17 0h0m1 0h0m3 0h0m10 0h0m1 0h0m3 0h0m6 0h0m3 0h0m1 0h0m15 0h0m27 0h0m8 0h0m8 0h0m3 0h0m7 0h0m5 0h0m11 0h0m-103 44h0m104 0h0m-8 14h0m-115 15h0m81 0h0m10 0h0m27 0h0m9 0h0m-13 3h0m7 1h0m0 4h0" stroke="#ebebeb" stroke-width="2.8" stroke-linecap="round" fill="none" opacity="0.4"/>
<path d="M590.6 1266.8V1707.2" stroke="#a0009e" stroke-width="4.4"/>
<path d="M193 1267.8H200" stroke="#a0a0a0" stroke-width="1.8"/>
<text transform="translate(187.8 1287.1) scale(0.975 1)" font-size="51" fill="#4d4d4d" text-anchor="end">1.00</text>
<path d="M193 1377.4H200" stroke="#a0a0a0" stroke-width="1.8"/>
<text transform="translate(187.8 1396.7) scale(0.975 1)" font-size="51" fill="#4d4d4d" text-anchor="end">0.75</text>
<path d="M193 1487H200" stroke="#a0a0a0" stroke-width="1.8"/>
<text transform="translate(187.8 1506.3) scale(0.975 1)" font-size="51" fill="#4d4d4d" text-anchor="end">0.50</text>
<path d="M193 1596.6H200" stroke="#a0a0a0" stroke-width="1.8"/>
<text transform="translate(187.8 1615.9) scale(0.975 1)" font-size="51" fill="#4d4d4d" text-anchor="end">0.25</text>
<path d="M193 1706.2H200" stroke="#a0a0a0" stroke-width="1.8"/>
<text transform="translate(187.8 1725.5) scale(0.975 1)" font-size="51" fill="#4d4d4d" text-anchor="end">0.00</text>
<rect x="910.2" y="1180.3" width="696.8" height="63.9" fill="#d9d9d9"/>
<rect x="910.2" y="1244.2" width="696.8" height="484.2" fill="#ebebeb"/>
<path d="M910.2 1651.4h696.8M910.2 1541.8h696.8M910.2 1432.2h696.8M910.2 1322.6h696.8M1058.2 1244.2V1728.4M1294 1244.2V1728.4M1529.8 1244.2V1728.4" stroke="#f1f1f1" stroke-width="1.5" fill="none"/>
<path d="M910.2 1706.2h696.8M910.2 1596.6h696.8M910.2 1487h696.8M910.2 1377.4h696.8M910.2 1267.8h696.8M940.3 1244.2V1728.4M1176.1 1244.2V1728.4M1411.9 1244.2V1728.4" stroke="#f5f5f5" stroke-width="2.5" fill="none"/>
<text transform="translate(1263.9 1234.5) scale(1.008 1)" font-size="63" fill="#1a1a1a" text-anchor="middle" stroke="#d9d9d9" stroke-width="0.7">II.8 + III.3</text>
<path d="M999.7 1268.3H1106.3" stroke="#d95f02" stroke-width="5.4" stroke-linecap="round"/>
<rect x="940.1" y="1401.1" width="241.5" height="174" fill="#d95f02"/>
<rect x="1194.7" y="1401.1" width="382" height="174" fill="#d95f02"/>
<path d="M1488 1268h0m84 0h0m-537 9h0m-27 1h0m2 0h0m4 0h0m1 0h0m4 0h0m7 0h0m1 0h0m4 0h0m2 0h0m1 0h0m1 0h0m2 0h0m6 0h0m1 0h0m11 0h0m3 0h0m9 0h0m4 0h0m2 0h0m4 0h0m3 0h0m2 0h0m3 0h0m6 0h0m1 0h0m12 0h0m1 0h0m-102 1h0m2 0h0m5 0h0m10 0h0m3 0h0m6 0h0m2 0h0m1 0h0m1 0h0m3 0h0m1 0h0m3 0h0m2 0h0m1 0h0m6 0h0m1 0h0m1 0h0m5 0h0m4 0h0m4 0h0m7 0h0m4 0h0m3 0h0m2 0h0m6 0h0m2 0h0m1 0h0m2 0h0m2 0h0m1 0h0m3 0h0m1 0h0m5 0h0m-100 1h0m8 0h0m7 0h0m3 0h0m3 0h0m1 0h0m5 0h0m11 0h0m5 0h0m4 0h0m3 0h0m4 0h0m3 0h0m1 0h0m9 0h0m4 0h0m7 0h0m2 0h0m8 0h0m10 0h0m-93 1h0m6 0h0m5 0h0m2 0h0m4 0h0m1 0h0m7 0h0m6 0h0m3 0h0m5 0h0m3 0h0m3 0h0m1 0h0m6 0h0m2 0h0m1 0h0m3 0h0m2 0h0m8 0h0m1 0h0m1 0h0m1 0h0m1 0h0m6 0h0m2 0h0m8 0h0m1 0h0m2 0h0m1 0h0m-99 1h0m1 0h0m12 0h0m2 0h0m6 0h0m1 0h0m3 0h0m9 0h0m5 0h0m2 0h0m2 0h0m3 0h0m2 0h0m5 0h0m10 0h0m8 0h0m1 0h0m8 0h0m1 0h0m9 0h0m3 0h0m2 0h0m-95 1h0m3 0h0m4 0h0m2 0h0m1 0h0m13 0h0m8 0h0m9 0h0m1 0h0m31 0h0m4 0h0m2 0h0m2 0h0m13 0h0m1 0h0m3 0h0m6 0h0m2 0h0m-103 1h0m1 0h0m5 0h0m3 0h0m4 0h0m3 0h0m5 0h0m6 0h0m2 0h0m12 0h0m4 0h0m2 0h0m1 0h0m5 0h0m4 0h0m4 0h0m2 0h0m4 0h0m1 0h0m3 0h0m5 0h0m11 0h0m4 0h0m1 0h0m7 0h0m-92 1h0m5 0h0m4 0h0m6 0h0m3 0h0m1 0h0m2 0h0m1 0h0m8 0h0m3 0h0m7 0h0m2 0h0m26 0h0m1 0h0m3 0h0m8 0h0m1 0h0m13 0h0m-103 1h0m8 0h0m4 0h0m19 0h0m8 0h0m7 0h0m4 0h0m2 0h0m4 0h0m1 0h0m1 0h0m4 0h0m17 0h0m3 0h0m1 0h0m6 0h0m4 0h0m-89 1h0m21 0h0m4 0h0m17 0h0m15 0h0m6 0h0m1 0h0m5 0h0m6 0h0m12 0h0m3 0h0m5 0h0m5 0h0m-104 1h0m2 0h0m14 0h0m17 0h0m5 0h0m3 0h0m16 0h0m18 0h0m3 0h0m11 0h0m11 0h0m-95 1h0m12 0h0m8 0h0m6 0h0m7 0h0m3 0h0m7 0h0m2 0h0m16 0h0m2 0h0m14 0h0m8 0h0m3 0h0m1 0h0m1 0h0m1 0h0m-90 1h0m3 0h0m5 0h0m5 0h0m29 0h0m17 0h0m5 0h0m1 0h0m3 0h0m9 0h0m5 0h0m3 0h0m6 0h0m1 0h0m4 0h0m-99 1h0m6 0h0m1 0h0m10 0h0m1 0h0m7 0h0m5 0h0m15 0h0m4 0h0m11 0h0m8 0h0m2 0h0m2 0h0m2 0h0m12 0h0m2 0h0m-68 1h0m6 0h0m6 0h0m14 0h0m3 0h0m11 0h0m19 0h0m3 0h0m3 0h0m5 0h0m7 0h0m3 0h0m-98 1h0m2 0h0m5 0h0m6 0h0m13 0h0m1 0h0m6 0h0m3 0h0m10 0h0m22 0h0m14 0h0m12 0h0m-96 1h0m10 0h0m2 0h0m8 0h0m4 0h0m4 0h0m19 0h0m16 0h0m6 0h0m1 0h0m-64 1h0m11 0h0m6 0h0m29 0h0m5 0h0m2 0h0m6 0h0m5 0h0m18 0h0m10 0h0m3 0h0m-89 1h0m44 0h0m4 0h0m14 0h0m3 0h0m3 0h0m2 0h0m4 0h0m6 0h0m-90 1h0m17 0h0m15 0h0m33 0h0m28 0h0m-92 1h0m33 0h0m2 0h0m12 0h0m30 0h0m8 0h0m7 0h0m-71 1h0m16 0h0m-1 1h0m35 0h0m-67 1h0m20 0h0m-13 1h0m40 0h0m43 0h0m-54 1h0m46 0h0m-23 1h0m12 1h0m17 0h0m-58 2h0m-7 1h0m41 0h0m-2 1h0m474 3h0m-539 2h0m49 0h0m8 0h0m-3 2h0m4 1h0m102 1h0m-79 3h0m-14 1h0m-47 1h0m146 0h0m-144 2h0m-14 3h0m414 0h0m-459 1h0m270 0h0m-269 1h0m45 0h0m4 0h0m6 0h0m144 0h0m-21 1h0m157 0h0m-228 1h0m342 0h0m-397 1h0m396 0h0m-471 1h0m104 0h0m88 0h0m288 0h0m17 0h0m-299 1h0m198 0h0m179 0h0m-517 2h0m13 0h0m148 0h0m45 0h0m130 0h0m89 0h0m106 0h0m-481 1h0m-24 1h0m363 0h0m-361 1h0m196 0h0m179 0h0m99 0h0m24 0h0m-574 1h0m9 0h0m8 0h0m35 0h0m90 0h0m73 0h0m85 0h0m102 0h0m33 0h0m6 0h0m5 0h0m32 0h0m78 0h0m10 0h0m-505 1h0m308 0h0m9 0h0m94 0h0m118 0h0m-596 1h0m42 0h0m72 0h0m4 0h0m-112 1h0m6 0h0m72 0h0m15 0h0m1 0h0m51 0h0m-97 1h0m50 0h0m10 0h0m201 0h0m34 0h0m14 0h0m87 0h0m107 0h0m-450 1h0m336 0h0m75 0h0m3 0h0m39 0h0m23 0h0m-554 1h0m4 0h0m52 0h0m12 0h0m108 0h0m16 0h0m42 0h0m110 0h0m56 0h0m99 0h0m-440 1h0m18 0h0m113 0h0m38 0h0m11 0h0m1 0h0m38 0h0m84 0h0m96 0h0m43 0h0m-433 1h0m47 0h0m9 0h0m9 0h0m165 0h0m129 0h0m76 0h0m7 0h0m18 0h0m5 0h0m-482 1h0m91 0h0m19 0h0m15 0h0m189 0h0m116 0h0m21 0h0m34 0h0m-494 1h0m106 0h0m31 0h0m204 0h0m42 0h0m92 0h0m-531 1h0m25 0h0m76 0h0m48 0h0m81 0h0m111 0h0m107 0h0m76 0h0m38 0h0m-579 1h0m102 0h0m276 0h0m50 0h0m166 0h0m-584 1h0m10 0h0m116 0h0m201 0h0m35 0h0m18 0h0m3 0h0m64 0h0m-458 1h0m18 0h0m58 0h0m25 0h0m60 0h0m32 0h0m115 0h0m25 0h0m17 0h0m2 0h0m20 0h0m2 0h0m7 0h0m8 0h0m2 0h0m40 0h0m31 0h0m7 0h0m13 0h0m94 0h0m-523 1h0m32 0h0m14 0h0m20 0h0m67 0h0m12 0h0m110 0h0m5 0h0m83 0h0m76 0h0m-413 1h0m16 0h0m40 0h0m56 0h0m46 0h0m8 0h0m86 0h0m2 0h0m50 0h0m34 0h0m77 0h0m9 0h0m44 0h0m45 0h0m-572 1h0m40 0h0m19 0h0m4 0h0m18 0h0m44 0h0m145 0h0m89 0h0m101 0h0m7 0h0m12 0h0m19 0h0m-471 1h0m35 0h0m30 0h0m8 0h0m162 0h0m179 0h0m154 0h0m-577 1h0m70 0h0m3 0h0m43 0h0m28 0h0m49 0h0m5 0h0m113 0h0m9 0h0m32 0h0m13 0h0m2 0h0m3 0h0m27 0h0m48 0h0m15 0h0m1 0h0m4 0h0m20 0h0m57 0h0m-550 1h0m26 0h0m33 0h0m89 0h0m126 0h0m28 0h0m86 0h0m43 0h0m28 0h0m29 0h0m-443 1h0m18 0h0m36 0h0m79 0h0m148 0h0m49 0h0m1 0h0m23 0h0m8 0h0m18 0h0m17 0h0m7 0h0m3 0h0m3 0h0m6 0h0m7 0h0m85 0h0m5 0h0m14 0h0m-564 1h0m58 0h0m2 0h0m25 0h0m59 0h0m98 0h0m13 0h0m97 0h0m19 0h0m1 0h0m37 0h0m64 0h0m48 0h0m6 0h0m26 0h0m23 0h0m-573 1h0m8 0h0m13 0h0m56 0h0m124 0h0m31 0h0m24 0h0m7 0h0m52 0h0m39 0h0m13 0h0m69 0h0m25 0h0m13 0h0m56 0h0m56 0h0m-598 1h0m1 0h0m51 0h0m1 0h0m26 0h0m7 0h0m1 0h0m7 0h0m4 0h0m16 0h0m5 0h0m3 0h0m18 0h0m4 0h0m6 0h0m36 0h0m6 0h0m9 0h0m5 0h0m44 0h0m22 0h0m4 0h0m1 0h0m25 0h0m2 0h0m22 0h0m16 0h0m28 0h0m5 0h0m1 0h0m3 0h0m3 0h0m34 0h0m18 0h0m34 0h0m5 0h0m13 0h0m8 0h0m23 0h0m32 0h0m1 0h0m3 0h0m6 0h0m14 0h0m4 0h0m1 0h0m7 0h0m6 0h0m-591 1h0m13 0h0m4 0h0m38 0h0m43 0h0m9 0h0m8 0h0m85 0h0m5 0h0m4 0h0m41 0h0m76 0h0m4 0h0m38 0h0m53 0h0m29 0h0m3 0h0m4 0h0m2 0h0m13 0h0m11 0h0m3 0h0m18 0h0m1 0h0m16 0h0m5 0h0m1 0h0m14 0h0m15 0h0m32 0h0m6 0h0m13 0h0m-599 1h0m15 0h0m48 0h0m6 0h0m7 0h0m22 0h0m26 0h0m10 0h0m28 0h0m49 0h0m81 0h0m24 0h0m46 0h0m39 0h0m31 0h0m10 0h0m108 0h0m25 0h0m14 0h0m12 0h0m-597 1h0m92 0h0m3 0h0m3 0h0m33 0h0m57 0h0m44 0h0m124 0h0m14 0h0m33 0h0m26 0h0m38 0h0m39 0h0m55 0h0m-563 1h0m7 0h0m82 0h0m20 0h0m1 0h0m24 0h0m34 0h0m80 0h0m44 0h0m27 0h0m35 0h0m2 0h0m9 0h0m10 0h0m15 0h0m9 0h0m8 0h0m19 0h0m2 0h0m11 0h0m68 0h0m89 0h0m-606 1h0m19 0h0m39 0h0m4 0h0m22 0h0m31 0h0m39 0h0m62 0h0m52 0h0m45 0h0m15 0h0m52 0h0m2 0h0m4 0h0m2 0h0m22 0h0m50 0h0m16 0h0m2 0h0m1 0h0m73 0h0m3 0h0m4 0h0m31 0h0m-562 1h0m32 0h0m153 0h0m70 0h0m66 0h0m24 0h0m8 0h0m49 0h0m33 0h0m93 0h0m13 0h0m5 0h0m-543 1h0m29 0h0m21 0h0m4 0h0m6 0h0m6 0h0m46 0h0m3 0h0m60 0h0m35 0h0m2 0h0m50 0h0m23 0h0m41 0h0m9 0h0m1 0h0m8 0h0m31 0h0m42 0h0m4 0h0m14 0h0m14 0h0m24 0h0m5 0h0m38 0h0m5 0h0m5 0h0m-475 1h0m2 0h0m7 0h0m12 0h0m14 0h0m87 0h0m5 0h0m58 0h0m2 0h0m106 0h0m44 0h0m24 0h0m23 0h0m87 0h0m15 0h0m34 0h0m-554 1h0m25 0h0m26 0h0m2 0h0m15 0h0m91 0h0m3 0h0m39 0h0m10 0h0m32 0h0m30 0h0m8 0h0m11 0h0m26 0h0m2 0h0m12 0h0m17 0h0m33 0h0m5 0h0m20 0h0m11 0h0m6 0h0m11 0h0m4 0h0m128 0h0m-615 1h0m12 0h0m10 0h0m32 0h0m74 0h0m45 0h0m39 0h0m74 0h0m64 0h0m15 0h0m6 0h0m100 0h0m7 0h0m24 0h0m4 0h0m13 0h0m44 0h0m7 0h0m21 0h0m-567 1h0m50 0h0m6 0h0m13 0h0m36 0h0m11 0h0m30 0h0m4 0h0m32 0h0m66 0h0m14 0h0m5 0h0m24 0h0m26 0h0m45 0h0m1 0h0m23 0h0m29 0h0m10 0h0m22 0h0m8 0h0m27 0h0m43 0h0m14 0h0m26 0h0m-596 1h0m13 0h0m28 0h0m11 0h0m8 0h0m3 0h0m16 0h0m14 0h0m3 0h0m10 0h0m15 0h0m18 0h0m2 0h0m10 0h0m28 0h0m22 0h0m4 0h0m5 0h0m6 0h0m1 0h0m49 0h0m17 0h0m19 0h0m19 0h0m11 0h0m3 0h0m20 0h0m22 0h0m24 0h0m3 0h0m22 0h0m7 0h0m13 0h0m7 0h0m7 0h0m8 0h0m2 0h0m7 0h0m14 0h0m11 0h0m6 0h0m8 0h0m8 0h0m3 0h0m7 0h0m28 0h0m18 0h0m4 0h0m8 0h0m6 0h0m15 0h0m-614 1h0m13 0h0m3 0h0m11 0h0m10 0h0m21 0h0m9 0h0m11 0h0m3 0h0m15 0h0m9 0h0m22 0h0m5 0h0m7 0h0m16 0h0m24 0h0m15 0h0m12 0h0m3 0h0m1 0h0m56 0h0m10 0h0m4 0h0m13 0h0m18 0h0m10 0h0m4 0h0m2 0h0m17 0h0m3 0h0m3 0h0m16 0h0m2 0h0m3 0h0m25 0h0m36 0h0m13 0h0m12 0h0m11 0h0m4 0h0m12 0h0m1 0h0m2 0h0m7 0h0m44 0h0m2 0h0m11 0h0m45 0h0m8 0h0m3 0h0m14 0h0m-601 1h0m16 0h0m14 0h0m6 0h0m1 0h0m3 0h0m16 0h0m13 0h0m7 0h0m6 0h0m17 0h0m86 0h0m2 0h0m6 0h0m4 0h0m65 0h0m41 0h0m29 0h0m18 0h0m12 0h0m9 0h0m50 0h0m9 0h0m11 0h0m16 0h0m13 0h0m11 0h0m5 0h0m63 0h0m1 0h0m3 0h0m15 0h0m20 0h0m-605 1h0m17 0h0m23 0h0m57 0h0m20 0h0m104 0h0m59 0h0m6 0h0m29 0h0m1 0h0m5 0h0m1 0h0m32 0h0m94 0h0m25 0h0m15 0h0m4 0h0m15 0h0m54 0h0m7 0h0m2 0h0m-570 1h0m14 0h0m1 0h0m6 0h0m34 0h0m15 0h0m9 0h0m2 0h0m9 0h0m2 0h0m1 0h0m6 0h0m15 0h0m4 0h0m1 0h0m49 0h0m2 0h0m82 0h0m21 0h0m4 0h0m28 0h0m11 0h0m8 0h0m17 0h0m39 0h0m36 0h0m7 0h0m4 0h0m8 0h0m9 0h0m5 0h0m24 0h0m2 0h0m6 0h0m1 0h0m3 0h0m6 0h0m14 0h0m16 0h0m1 0h0m36 0h0m7 0h0m38 0h0m-591 1h0m77 0h0m87 0h0m22 0h0m18 0h0m2 0h0m30 0h0m8 0h0m1 0h0m12 0h0m4 0h0m3 0h0m6 0h0m11 0h0m5 0h0m64 0h0m24 0h0m14 0h0m4 0h0m11 0h0m3 0h0m5 0h0m19 0h0m13 0h0m7 0h0m3 0h0m1 0h0m21 0h0m43 0h0m21 0h0m7 0h0m16 0h0m-564 1h0m8 0h0m10 0h0m13 0h0m31 0h0m1 0h0m16 0h0m14 0h0m43 0h0m6 0h0m1 0h0m29 0h0m4 0h0m24 0h0m4 0h0m64 0h0m29 0h0m4 0h0m4 0h0m7 0h0m43 0h0m56 0h0m20 0h0m10 0h0m5 0h0m6 0h0m3 0h0m25 0h0m31 0h0m7 0h0m9 0h0m1 0h0m18 0h0m9 0h0m23 0h0m3 0h0m18 0h0m-616 1h0m14 0h0m5 0h0m3 0h0m8 0h0m2 0h0m23 0h0m26 0h0m2 0h0m2 0h0m25 0h0m34 0h0m45 0h0m11 0h0m6 0h0m80 0h0m75 0h0m10 0h0m5 0h0m1 0h0m2 0h0m17 0h0m6 0h0m14 0h0m9 0h0m4 0h0m27 0h0m2 0h0m3 0h0m1 0h0m8 0h0m6 0h0m6 0h0m7 0h0m2 0h0m5 0h0m14 0h0m4 0h0m20 0h0m31 0h0m3 0h0m21 0h0m35 0h0m-617 1h0m9 0h0m16 0h0m5 0h0m40 0h0m4 0h0m9 0h0m10 0h0m24 0h0m1 0h0m1 0h0m63 0h0m75 0h0m11 0h0m18 0h0m49 0h0m22 0h0m13 0h0m5 0h0m5 0h0m3 0h0m1 0h0m34 0h0m31 0h0m11 0h0m4 0h0m1 0h0m6 0h0m10 0h0m4 0h0m1 0h0m5 0h0m39 0h0m44 0h0m6 0h0m9 0h0m15 0h0m-613 1h0m35 0h0m1 0h0m12 0h0m11 0h0m26 0h0m9 0h0m37 0h0m6 0h0m25 0h0m12 0h0m17 0h0m11 0h0m51 0h0m5 0h0m5 0h0m12 0h0m19 0h0m2 0h0m23 0h0m64 0h0m50 0h0m3 0h0m9 0h0m9 0h0m3 0h0m15 0h0m2 0h0m3 0h0m8 0h0m1 0h0m5 0h0m4 0h0m1 0h0m7 0h0m3 0h0m47 0h0m7 0h0m3 0h0m7 0h0m12 0h0m15 0h0m15 0h0m-604 1h0m14 0h0m4 0h0m1 0h0m3 0h0m7 0h0m15 0h0m3 0h0m5 0h0m5 0h0m1 0h0m3 0h0m8 0h0m17 0h0m1 0h0m1 0h0m2 0h0m3 0h0m2 0h0m2 0h0m10 0h0m12 0h0m1 0h0m7 0h0m5 0h0m3 0h0m23 0h0m37 0h0m1 0h0m13 0h0m2 0h0m11 0h0m36 0h0m18 0h0m6 0h0m18 0h0m6 0h0m1 0h0m19 0h0m12 0h0m12 0h0m3 0h0m3 0h0m10 0h0m1 0h0m8 0h0m5 0h0m1 0h0m4 0h0m2 0h0m2 0h0m15 0h0m8 0h0m13 0h0m2 0h0m1 0h0m3 0h0m8 0h0m7 0h0m8 0h0m2 0h0m2 0h0m1 0h0m1 0h0m4 0h0m2 0h0m1 0h0m1 0h0m2 0h0m2 0h0m1 0h0m1 0h0m2 0h0m1 0h0m3 0h0m1 0h0m1 0h0m1 0h0m4 0h0m7 0h0m1 0h0m6 0h0m14 0h0m18 0h0m20 0h0m6 0h0m2 0h0m8 0h0m2 0h0m5 0h0m2 0h0m3 0h0m-586 1h0m3 0h0m6 0h0m7 0h0m4 0h0m2 0h0m1 0h0m1 0h0m2 0h0m4 0h0m7 0h0m21 0h0m28 0h0m17 0h0m2 0h0m11 0h0m1 0h0m6 0h0m2 0h0m1 0h0m1 0h0m12 0h0m4 0h0m8 0h0m3 0h0m4 0h0m8 0h0m13 0h0m8 0h0m7 0h0m11 0h0m7 0h0m8 0h0m1 0h0m1 0h0m36 0h0m8 0h0m22 0h0m1 0h0m7 0h0m10 0h0m14 0h0m50 0h0m2 0h0m11 0h0m7 0h0m2 0h0m15 0h0m13 0h0m5 0h0m14 0h0m4 0h0m6 0h0m3 0h0m3 0h0m14 0h0m2 0h0m3 0h0m1 0h0m3 0h0m6 0h0m1 0h0m1 0h0m13 0h0m21 0h0m15 0h0m6 0h0m15 0h0m2 0h0m8 0h0m1 0h0m1 0h0m1 0h0m1 0h0m4 0h0m17 0h0m7 0h0m-602 1h0m9 0h0m15 0h0m5 0h0m1 0h0m4 0h0m1 0h0m10 0h0m6 0h0m14 0h0m2 0h0m13 0h0m12 0h0m21 0h0m21 0h0m2 0h0m15 0h0m6 0h0m31 0h0m31 0h0m6 0h0m32 0h0m25 0h0m29 0h0m64 0h0m7 0h0m2 0h0m6 0h0m5 0h0m10 0h0m15 0h0m33 0h0m26 0h0m7 0h0m13 0h0m2 0h0m14 0h0m33 0h0m1 0h0m10 0h0m11 0h0m17 0h0m4 0h0m18 0h0m-601 1h0m18 0h0m9 0h0m31 0h0m2 0h0m6 0h0m3 0h0m21 0h0m24 0h0m7 0h0m5 0h0m2 0h0m4 0h0m35 0h0m13 0h0m1 0h0m8 0h0m11 0h0m10 0h0m2 0h0m1 0h0m46 0h0m32 0h0m13 0h0m16 0h0m1 0h0m48 0h0m19 0h0m2 0h0m2 0h0m23 0h0m32 0h0m1 0h0m15 0h0m6 0h0m13 0h0m33 0h0m11 0h0m30 0h0m8 0h0m14 0h0m4 0h0m12 0h0m1 0h0m6 0h0m-605 1h0m21 0h0m6 0h0m29 0h0m1 0h0m4 0h0m1 0h0m21 0h0m8 0h0m1 0h0m2 0h0m16 0h0m17 0h0m17 0h0m8 0h0m10 0h0m12 0h0m17 0h0m11 0h0m71 0h0m7 0h0m31 0h0m12 0h0m8 0h0m31 0h0m25 0h0m6 0h0m1 0h0m3 0h0m55 0h0m15 0h0m16 0h0m2 0h0m6 0h0m39 0h0m35 0h0m15 0h0m-583 1h0m3 0h0m19 0h0m3 0h0m2 0h0m3 0h0m24 0h0m1 0h0m8 0h0m7 0h0m4 0h0m9 0h0m4 0h0m1 0h0m8 0h0m9 0h0m1 0h0m7 0h0m11 0h0m3 0h0m29 0h0m35 0h0m6 0h0m3 0h0m2 0h0m7 0h0m5 0h0m2 0h0m5 0h0m4 0h0m2 0h0m42 0h0m14 0h0m27 0h0m14 0h0m4 0h0m12 0h0m9 0h0m8 0h0m19 0h0m4 0h0m1 0h0m5 0h0m2 0h0m10 0h0m29 0h0m39 0h0m3 0h0m6 0h0m1 0h0m2 0h0m1 0h0m7 0h0m3 0h0m5 0h0m2 0h0m2 0h0m5 0h0m7 0h0m13 0h0m17 0h0m23 0h0m2 0h0m9 0h0m9 0h0m-567 1h0m2 0h0m2 0h0m1 0h0m6 0h0m2 0h0m3 0h0m1 0h0m1 0h0m2 0h0m3 0h0m2 0h0m2 0h0m4 0h0m3 0h0m3 0h0m3 0h0m4 0h0m2 0h0m1 0h0m2 0h0m2 0h0m1 0h0m17 0h0m4 0h0m1 0h0m3 0h0m2 0h0m2 0h0m5 0h0m5 0h0m1 0h0m2 0h0m8 0h0m3 0h0m8 0h0m2 0h0m9 0h0m2 0h0m3 0h0m8 0h0m6 0h0m1 0h0m1 0h0m1 0h0m8 0h0m9 0h0m16 0h0m3 0h0m1 0h0m7 0h0m3 0h0m3 0h0m8 0h0m4 0h0m4 0h0m34 0h0m5 0h0m2 0h0m1 0h0m3 0h0m5 0h0m3 0h0m10 0h0m9 0h0m5 0h0m9 0h0m1 0h0m9 0h0m2 0h0m9 0h0m13 0h0m1 0h0m6 0h0m11 0h0m9 0h0m4 0h0m1 0h0m8 0h0m2 0h0m1 0h0m1 0h0m1 0h0m2 0h0m1 0h0m14 0h0m9 0h0m1 0h0m16 0h0m1 0h0m1 0h0m13 0h0m3 0h0m1 0h0m1 0h0m3 0h0m1 0h0m3 0h0m1 0h0m4 0h0m4 0h0m2 0h0m2 0h0m5 0h0m5 0h0m1 0h0m3 0h0m1 0h0m2 0h0m1 0h0m8 0h0m4 0h0m2 0h0m5 0h0m5 0h0m2 0h0m4 0h0m9 0h0m1 0h0m2 0h0m16 0h0m10 0h0m2 0h0m15 0h0m23 0h0m-593 1h0m6 0h0m8 0h0m3 0h0m3 0h0m8 0h0m3 0h0m1 0h0m2 0h0m7 0h0m3 0h0m10 0h0m3 0h0m2 0h0m13 0h0m1 0h0m2 0h0m2 0h0m8 0h0m1 0h0m6 0h0m2 0h0m2 0h0m7 0h0m3 0h0m1 0h0m10 0h0m9 0h0m1 0h0m2 0h0m2 0h0m9 0h0m4 0h0m2 0h0m25 0h0m15 0h0m9 0h0m2 0h0m2 0h0m1 0h0m6 0h0m13 0h0m29 0h0m5 0h0m3 0h0m11 0h0m7 0h0m23 0h0m11 0h0m11 0h0m10 0h0m1 0h0m4 0h0m8 0h0m6 0h0m4 0h0m27 0h0m5 0h0m2 0h0m2 0h0m11 0h0m1 0h0m5 0h0m8 0h0m1 0h0m6 0h0m16 0h0m8 0h0m2 0h0m1 0h0m18 0h0m1 0h0m2 0h0m7 0h0m1 0h0m17 0h0m3 0h0m13 0h0m1 0h0m3 0h0m4 0h0m2 0h0m5 0h0m4 0h0m6 0h0m28 0h0m1 0h0m2 0h0m2 0h0m22 0h0m5 0h0m15 0h0m-607 1h0m6 0h0m15 0h0m18 0h0m16 0h0m3 0h0m3 0h0m3 0h0m1 0h0m5 0h0m6 0h0m13 0h0m3 0h0m4 0h0m9 0h0m2 0h0m4 0h0m10 0h0m31 0h0m15 0h0m12 0h0m19 0h0m2 0h0m2 0h0m1 0h0m5 0h0m1 0h0m38 0h0m2 0h0m17 0h0m9 0h0m1 0h0m28 0h0m2 0h0m12 0h0m2 0h0m7 0h0m1 0h0m17 0h0m28 0h0m3 0h0m2 0h0m1 0h0m8 0h0m28 0h0m5 0h0m7 0h0m1 0h0m3 0h0m2 0h0m10 0h0m1 0h0m8 0h0m6 0h0m2 0h0m6 0h0m12 0h0m3 0h0m5 0h0m3 0h0m4 0h0m26 0h0m2 0h0m3 0h0m9 0h0m10 0h0m6 0h0m10 0h0m9 0h0m1 0h0m9 0h0m3 0h0m21 0h0m14 0h0m-626 1h0m2 0h0m10 0h0m13 0h0m1 0h0m1 0h0m4 0h0m1 0h0m3 0h0m5 0h0m3 0h0m2 0h0m1 0h0m16 0h0m4 0h0m3 0h0m2 0h0m1 0h0m5 0h0m3 0h0m12 0h0m2 0h0m3 0h0m2 0h0m3 0h0m9 0h0m1 0h0m8 0h0m6 0h0m21 0h0m26 0h0m13 0h0m16 0h0m12 0h0m8 0h0m4 0h0m47 0h0m13 0h0m1 0h0m8 0h0m4 0h0m10 0h0m18 0h0m2 0h0m46 0h0m14 0h0m4 0h0m2 0h0m1 0h0m2 0h0m14 0h0m4 0h0m2 0h0m7 0h0m8 0h0m23 0h0m2 0h0m5 0h0m2 0h0m1 0h0m6 0h0m1 0h0m1 0h0m4 0h0m1 0h0m3 0h0m1 0h0m4 0h0m3 0h0m1 0h0m9 0h0m3 0h0m10 0h0m1 0h0m8 0h0m11 0h0m3 0h0m5 0h0m3 0h0m13 0h0m6 0h0m1 0h0m35 0h0m5 0h0m18 0h0m-612 1h0m3 0h0m15 0h0m1 0h0m1 0h0m3 0h0m4 0h0m6 0h0m10 0h0m30 0h0m10 0h0m4 0h0m2 0h0m4 0h0m7 0h0m13 0h0m4 0h0m8 0h0m13 0h0m1 0h0m24 0h0m2 0h0m15 0h0m8 0h0m10 0h0m1 0h0m6 0h0m2 0h0m3 0h0m5 0h0m2 0h0m31 0h0m14 0h0m1 0h0m4 0h0m2 0h0m10 0h0m11 0h0m16 0h0m10 0h0m7 0h0m6 0h0m10 0h0m22 0h0m21 0h0m9 0h0m1 0h0m1 0h0m2 0h0m23 0h0m3 0h0m1 0h0m2 0h0m2 0h0m18 0h0m11 0h0m7 0h0m2 0h0m1 0h0m1 0h0m9 0h0m1 0h0m4 0h0m13 0h0m5 0h0m22 0h0m1 0h0m2 0h0m4 0h0m5 0h0m18 0h0m15 0h0m8 0h0m2 0h0m10 0h0m2 0h0m9 0h0m-604 1h0m14 0h0m2 0h0m2 0h0m3 0h0m6 0h0m3 0h0m4 0h0m2 0h0m16 0h0m1 0h0m8 0h0m1 0h0m1 0h0m3 0h0m2 0h0m1 0h0m11 0h0m6 0h0m3 0h0m14 0h0m1 0h0m3 0h0m18 0h0m9 0h0m10 0h0m3 0h0m7 0h0m28 0h0m5 0h0m1 0h0m3 0h0m1 0h0m13 0h0m2 0h0m5 0h0m4 0h0m34 0h0m2 0h0m1 0h0m3 0h0m3 0h0m10 0h0m17 0h0m12 0h0m6 0h0m21 0h0m23 0h0m1 0h0m13 0h0m15 0h0m15 0h0m1 0h0m18 0h0m10 0h0m14 0h0m2 0h0m3 0h0m16 0h0m2 0h0m4 0h0m8 0h0m3 0h0m2 0h0m2 0h0m2 0h0m1 0h0m6 0h0m6 0h0m25 0h0m21 0h0m3 0h0m2 0h0m9 0h0m3 0h0m3 0h0m13 0h0m9 0h0m10 0h0m2 0h0m13 0h0m7 0h0m7 0h0m-620 1h0m20 0h0m2 0h0m2 0h0m1 0h0m1 0h0m5 0h0m2 0h0m2 0h0m1 0h0m4 0h0m11 0h0m4 0h0m7 0h0m3 0h0m1 0h0m2 0h0m22 0h0m4 0h0m1 0h0m2 0h0m8 0h0m1 0h0m17 0h0m3 0h0m6 0h0m6 0h0m3 0h0m4 0h0m12 0h0m5 0h0m16 0h0m9 0h0m3 0h0m8 0h0m8 0h0m1 0h0m1 0h0m10 0h0m4 0h0m39 0h0m8 0h0m7 0h0m1 0h0m1 0h0m1 0h0m3 0h0m3 0h0m1 0h0m4 0h0m1 0h0m7 0h0m1 0h0m1 0h0m5 0h0m6 0h0m9 0h0m3 0h0m2 0h0m5 0h0m7 0h0m8 0h0m2 0h0m7 0h0m8 0h0m1 0h0m2 0h0m1 0h0m7 0h0m1 0h0m2 0h0m8 0h0m3 0h0m1 0h0m1 0h0m2 0h0m1 0h0m18 0h0m2 0h0m5 0h0m1 0h0m2 0h0m7 0h0m1 0h0m1 0h0m6 0h0m4 0h0m19 0h0m4 0h0m1 0h0m3 0h0m3 0h0m3 0h0m1 0h0m1 0h0m1 0h0m2 0h0m2 0h0m3 0h0m1 0h0m1 0h0m1 0h0m1 0h0m8 0h0m5 0h0m2 0h0m1 0h0m2 0h0m8 0h0m5 0h0m13 0h0m2 0h0m8 0h0m5 0h0m1 0h0m4 0h0m12 0h0m1 0h0m1 0h0m2 0h0m1 0h0m2 0h0m3 0h0m14 0h0m2 0h0m1 0h0m2 0h0m11 0h0m12 0h0m2 0h0m5 0h0m5 0h0m-626 1h0m8 0h0m8 0h0m2 0h0m12 0h0m17 0h0m1 0h0m22 0h0m1 0h0m17 0h0m1 0h0m4 0h0m1 0h0m1 0h0m4 0h0m4 0h0m2 0h0m13 0h0m3 0h0m11 0h0m1 0h0m10 0h0m6 0h0m3 0h0m8 0h0m21 0h0m1 0h0m2 0h0m6 0h0m14 0h0m8 0h0m1 0h0m2 0h0m1 0h0m1 0h0m5 0h0m5 0h0m27 0h0m1 0h0m1 0h0m1 0h0m1 0h0m3 0h0m6 0h0m7 0h0m4 0h0m5 0h0m1 0h0m3 0h0m3 0h0m5 0h0m6 0h0m9 0h0m4 0h0m10 0h0m18 0h0m2 0h0m2 0h0m1 0h0m5 0h0m1 0h0m3 0h0m11 0h0m6 0h0m3 0h0m4 0h0m5 0h0m4 0h0m2 0h0m1 0h0m3 0h0m9 0h0m10 0h0m16 0h0m1 0h0m14 0h0m4 0h0m1 0h0m6 0h0m1 0h0m2 0h0m2 0h0m2 0h0m1 0h0m1 0h0m6 0h0m3 0h0m1 0h0m1 0h0m3 0h0m2 0h0m1 0h0m1 0h0m1 0h0m4 0h0m5 0h0m10 0h0m14 0h0m14 0h0m9 0h0m17 0h0m2 0h0m4 0h0m2 0h0m3 0h0m3 0h0m1 0h0m10 0h0m1 0h0m7 0h0m2 0h0m6 0h0m10 0h0m-591 1h0m11 0h0m1 0h0m1 0h0m19 0h0m3 0h0m4 0h0m4 0h0m4 0h0m21 0h0m6 0h0m6 0h0m2 0h0m2 0h0m3 0h0m11 0h0m3 0h0m8 0h0m6 0h0m1 0h0m11 0h0m4 0h0m12 0h0m30 0h0m6 0h0m2 0h0m7 0h0m8 0h0m8 0h0m7 0h0m2 0h0m27 0h0m2 0h0m11 0h0m13 0h0m1 0h0m8 0h0m31 0h0m11 0h0m5 0h0m6 0h0m7 0h0m2 0h0m2 0h0m21 0h0m7 0h0m3 0h0m7 0h0m1 0h0m1 0h0m17 0h0m19 0h0m9 0h0m3 0h0m2 0h0m5 0h0m8 0h0m2 0h0m3 0h0m1 0h0m4 0h0m1 0h0m13 0h0m2 0h0m8 0h0m1 0h0m3 0h0m4 0h0m1 0h0m14 0h0m50 0h0m5 0h0m4 0h0m16 0h0m12 0h0m15 0h0m5 0h0m-624 1h0m3 0h0m59 0h0m21 0h0m17 0h0m3 0h0m2 0h0m5 0h0m1 0h0m20 0h0m2 0h0m14 0h0m17 0h0m11 0h0m21 0h0m3 0h0m12 0h0m46 0h0m3 0h0m10 0h0m8 0h0m8 0h0m5 0h0m7 0h0m15 0h0m2 0h0m10 0h0m12 0h0m9 0h0m20 0h0m4 0h0m10 0h0m1 0h0m3 0h0m13 0h0m8 0h0m6 0h0m1 0h0m17 0h0m27 0h0m10 0h0m3 0h0m6 0h0m1 0h0m5 0h0m1 0h0m4 0h0m1 0h0m1 0h0m8 0h0m3 0h0m10 0h0m11 0h0m40 0h0m6 0h0m3 0h0m11 0h0m9 0h0m26 0h0m-592 1h0m2 0h0m1 0h0m18 0h0m1 0h0m11 0h0m5 0h0m3 0h0m19 0h0m4 0h0m8 0h0m4 0h0m1 0h0m23 0h0m4 0h0m17 0h0m35 0h0m9 0h0m5 0h0m15 0h0m7 0h0m5 0h0m12 0h0m20 0h0m1 0h0m2 0h0m29 0h0m2 0h0m11 0h0m5 0h0m22 0h0m7 0h0m3 0h0m1 0h0m13 0h0m9 0h0m4 0h0m17 0h0m10 0h0m12 0h0m13 0h0m21 0h0m16 0h0m3 0h0m10 0h0m10 0h0m5 0h0m3 0h0m9 0h0m3 0h0m4 0h0m27 0h0m8 0h0m11 0h0m20 0h0m9 0h0m5 0h0m9 0h0m7 0h0m14 0h0m20 0h0m-594 1h0m10 0h0m2 0h0m13 0h0m8 0h0m10 0h0m2 0h0m22 0h0m3 0h0m6 0h0m15 0h0m5 0h0m25 0h0m20 0h0m12 0h0m11 0h0m3 0h0m13 0h0m6 0h0m2 0h0m36 0h0m11 0h0m10 0h0m25 0h0m18 0h0m10 0h0m8 0h0m15 0h0m10 0h0m23 0h0m4 0h0m15 0h0m5 0h0m4 0h0m4 0h0m19 0h0m7 0h0m4 0h0m8 0h0m2 0h0m2 0h0m4 0h0m1 0h0m1 0h0m3 0h0m1 0h0m2 0h0m3 0h0m3 0h0m13 0h0m17 0h0m11 0h0m38 0h0m3 0h0m2 0h0m3 0h0m1 0h0m1 0h0m3 0h0m22 0h0m3 0h0m15 0h0m4 0h0m13 2h0m2 1h0m-397 1h0m-238 1h0m256 1h0m-255 2h0m237 0h0m17 0h0m1 0h0m-255 1h0m1 0h0m235 0h0m19 1h0m378 1h0m-396 1h0m17 0h0m-16 2h0m395 0h0m1 0h0m-396 3h0m-239 1h0m238 0h0m1 0h0m15 0h0m-15 6h0m-2 1h0m2 0h0m-238 2h0m632 0h0m-633 1h0m635 0h0m-3 1h0m-392 1h0m-238 2h0m237 0h0m17 1h0m377 0h0m-632 1h0m633 0h0m-1 2h0m1 1h0m0 1h0m-379 1h0m-254 1h0m632 0h0m-632 2h0m237 0h0m-237 1h0m0 1h0m255 1h0m1 0h0m-257 2h0m1 0h0m631 1h0m1 2h0m-632 2h0m0 2h0m256 1h0m377 0h0m-377 2h0m-2 1h0m-252 2h0m-3 1h0m4 0h0m234 0h0m397 0h0m-633 1h0m238 1h0m-3 1h0m20 0h0m-255 1h0m633 0h0m-635 2h0m2 2h0m236 1h0m1 0h0m15 0h0m-254 2h0m257 0h0m0 1h0m378 0h0m-632 2h0m629 0h0m3 2h0m-634 1h0m236 0h0m2 3h0m-238 1h0m238 0h0m1 1h0m395 0h0m-378 1h0m376 0h0m-633 1h0m256 2h0m-1 1h0m2 0h0m-18 2h0m-238 1h0m2 0h0m630 0h0m-379 2h0m1 0h0m377 2h0m3 0h0m-634 1h0m238 1h0m16 0h0m379 2h0m-632 2h0m237 1h0m16 1h0m-253 1h0m-1 2h0m254 1h0m377 0h0m2 1h0m-397 1h0m3 0h0m393 1h0m-395 1h0m394 1h0m-377 1h0m-254 1h0m256 0h0m0 3h0m-1 2h0m-18 1h0m16 0h0m379 1h0m-377 1h0m-254 1h0m235 0h0m1 0h0m396 2h0m-394 1h0m16 2h0m379 0h0m-397 1h0m-238 3h0m240 0h0m-239 1h0m255 0h0m-256 1h0m255 0h0m-16 1h0m-236 2h0m235 0h0m17 0h0m378 0h0m-634 1h0m240 0h0m0 1h0m17 1h0m-256 2h0m255 1h0m-16 1h0m393 1h0m-631 1h0m255 0h0m-1 2h0m1 0h0m378 0h0m-396 2h0m397 1h0m-2 1h0m-394 1h0m17 1h0m378 0h0m-634 1h0m0 2h0m635 0h0m-397 1h0m1 0h0m16 0h0m-254 1h0m237 1h0m16 0h0m3 0h0m-19 4h0m396 0h0m-1 1h0m0 1h0m-377 1h0m377 1h0m-600 1h0m8 0h0m5 0h0m5 0h0m3 0h0m4 0h0m2 0h0m9 0h0m2 0h0m1 0h0m8 0h0m14 0h0m9 0h0m13 0h0m4 0h0m11 0h0m2 0h0m5 0h0m19 0h0m5 0h0m36 0h0m12 0h0m11 0h0m16 0h0m35 0h0m7 0h0m11 0h0m6 0h0m11 0h0m5 0h0m17 0h0m12 0h0m43 0h0m4 0h0m19 0h0m22 0h0m17 0h0m1 0h0m10 0h0m20 0h0m8 0h0m18 0h0m30 0h0m1 0h0m11 0h0m15 0h0m28 0h0m13 0h0m-594 1h0m1 0h0m6 0h0m4 0h0m1 0h0m8 0h0m3 0h0m2 0h0m5 0h0m29 0h0m4 0h0m7 0h0m2 0h0m6 0h0m2 0h0m3 0h0m1 0h0m1 0h0m1 0h0m1 0h0m1 0h0m10 0h0m5 0h0m3 0h0m4 0h0m3 0h0m13 0h0m11 0h0m3 0h0m2 0h0m1 0h0m3 0h0m2 0h0m6 0h0m1 0h0m2 0h0m2 0h0m24 0h0m1 0h0m5 0h0m1 0h0m5 0h0m1 0h0m1 0h0m2 0h0m5 0h0m9 0h0m12 0h0m1 0h0m1 0h0m1 0h0m30 0h0m7 0h0m3 0h0m3 0h0m2 0h0m1 0h0m4 0h0m2 0h0m7 0h0m1 0h0m3 0h0m5 0h0m13 0h0m19 0h0m6 0h0m2 0h0m11 0h0m6 0h0m10 0h0m14 0h0m4 0h0m9 0h0m12 0h0m2 0h0m4 0h0m5 0h0m12 0h0m2 0h0m1 0h0m6 0h0m6 0h0m2 0h0m1 0h0m8 0h0m4 0h0m11 0h0m6 0h0m3 0h0m14 0h0m1 0h0m3 0h0m2 0h0m7 0h0m1 0h0m6 0h0m6 0h0m1 0h0m6 0h0m8 0h0m2 0h0m2 0h0m4 0h0m6 0h0m2 0h0m2 0h0m2 0h0m5 0h0m7 0h0m1 0h0m6 0h0m2 0h0m3 0h0m10 0h0m1 0h0m12 0h0m1 0h0m2 0h0m10 0h0m2 0h0m1 0h0m4 0h0m7 0h0m1 0h0m-628 1h0m1 0h0m2 0h0m3 0h0m5 0h0m2 0h0m1 0h0m2 0h0m1 0h0m1 0h0m4 0h0m6 0h0m2 0h0m3 0h0m2 0h0m4 0h0m1 0h0m2 0h0m1 0h0m2 0h0m5 0h0m10 0h0m13 0h0m1 0h0m6 0h0m4 0h0m3 0h0m9 0h0m11 0h0m3 0h0m6 0h0m5 0h0m9 0h0m1 0h0m9 0h0m3 0h0m1 0h0m1 0h0m1 0h0m1 0h0m3 0h0m3 0h0m6 0h0m4 0h0m2 0h0m9 0h0m1 0h0m1 0h0m22 0h0m1 0h0m2 0h0m2 0h0m3 0h0m1 0h0m8 0h0m3 0h0m4 0h0m2 0h0m2 0h0m1 0h0m2 0h0m2 0h0m1 0h0m32 0h0m7 0h0m2 0h0m1 0h0m1 0h0m4 0h0m1 0h0m4 0h0m1 0h0m4 0h0m1 0h0m1 0h0m18 0h0m6 0h0m9 0h0m1 0h0m7 0h0m17 0h0m25 0h0m4 0h0m5 0h0m4 0h0m9 0h0m32 0h0m3 0h0m9 0h0m3 0h0m5 0h0m9 0h0m6 0h0m6 0h0m4 0h0m24 0h0m8 0h0m4 0h0m3 0h0m5 0h0m6 0h0m8 0h0m7 0h0m5 0h0m13 0h0m11 0h0m12 0h0m5 0h0m1 0h0m5 0h0m3 0h0m8 0h0m8 0h0m4 0h0m-612 1h0m2 0h0m9 0h0m15 0h0m6 0h0m2 0h0m8 0h0m12 0h0m22 0h0m42 0h0m49 0h0m24 0h0m4 0h0m20 0h0m5 0h0m6 0h0m1 0h0m4 0h0m23 0h0m13 0h0m1 0h0m3 0h0m2 0h0m5 0h0m1 0h0m1 0h0m3 0h0m1 0h0m1 0h0m8 0h0m1 0h0m7 0h0m7 0h0m1 0h0m13 0h0m13 0h0m4 0h0m10 0h0m14 0h0m17 0h0m4 0h0m4 0h0m24 0h0m3 0h0m1 0h0m2 0h0m4 0h0m2 0h0m16 0h0m3 0h0m1 0h0m1 0h0m14 0h0m4 0h0m4 0h0m32 0h0m16 0h0m3 0h0m4 0h0m19 0h0m3 0h0m11 0h0m5 0h0m1 0h0m5 0h0m8 0h0m7 0h0m9 0h0m8 0h0m1 0h0m1 0h0m12 0h0m-604 1h0m5 0h0m20 0h0m30 0h0m18 0h0m6 0h0m6 0h0m1 0h0m4 0h0m2 0h0m2 0h0m6 0h0m3 0h0m15 0h0m9 0h0m4 0h0m3 0h0m3 0h0m12 0h0m12 0h0m21 0h0m6 0h0m14 0h0m7 0h0m50 0h0m14 0h0m1 0h0m1 0h0m2 0h0m12 0h0m10 0h0m5 0h0m7 0h0m29 0h0m22 0h0m35 0h0m19 0h0m37 0h0m3 0h0m10 0h0m22 0h0m45 0h0m16 0h0m4 0h0m25 0h0m14 0h0m2 0h0m1 0h0m1 0h0m2 0h0m16 0h0m-616 1h0m3 0h0m16 0h0m6 0h0m9 0h0m23 0h0m12 0h0m11 0h0m7 0h0m16 0h0m3 0h0m12 0h0m2 0h0m1 0h0m9 0h0m9 0h0m15 0h0m19 0h0m10 0h0m5 0h0m2 0h0m15 0h0m9 0h0m2 0h0m41 0h0m8 0h0m2 0h0m7 0h0m6 0h0m4 0h0m3 0h0m14 0h0m11 0h0m6 0h0m26 0h0m14 0h0m24 0h0m16 0h0m11 0h0m1 0h0m20 0h0m3 0h0m9 0h0m1 0h0m17 0h0m3 0h0m3 0h0m1 0h0m22 0h0m3 0h0m7 0h0m4 0h0m18 0h0m2 0h0m1 0h0m32 0h0m3 0h0m5 0h0m24 0h0m8 0h0m1 0h0m2 0h0m2 0h0m2 0h0m8 0h0m4 0h0m-618 1h0m20 0h0m1 0h0m19 0h0m22 0h0m9 0h0m17 0h0m8 0h0m11 0h0m38 0h0m4 0h0m7 0h0m1 0h0m8 0h0m18 0h0m18 0h0m2 0h0m17 0h0m47 0h0m1 0h0m11 0h0m4 0h0m15 0h0m2 0h0m11 0h0m22 0h0m12 0h0m36 0h0m1 0h0m20 0h0m1 0h0m9 0h0m4 0h0m6 0h0m15 0h0m5 0h0m8 0h0m18 0h0m10 0h0m1 0h0m9 0h0m10 0h0m3 0h0m18 0h0m16 0h0m23 0h0m6 0h0m2 0h0m3 0h0m44 0h0m8 0h0m3 0h0m-622 1h0m10 0h0m10 0h0m23 0h0m2 0h0m10 0h0m8 0h0m3 0h0m4 0h0m2 0h0m5 0h0m4 0h0m15 0h0m2 0h0m2 0h0m1 0h0m3 0h0m9 0h0m1 0h0m2 0h0m3 0h0m2 0h0m3 0h0m8 0h0m6 0h0m3 0h0m1 0h0m3 0h0m3 0h0m7 0h0m3 0h0m5 0h0m28 0h0m10 0h0m3 0h0m12 0h0m11 0h0m33 0h0m8 0h0m2 0h0m4 0h0m1 0h0m1 0h0m2 0h0m1 0h0m1 0h0m1 0h0m6 0h0m5 0h0m11 0h0m4 0h0m2 0h0m10 0h0m6 0h0m21 0h0m15 0h0m5 0h0m1 0h0m3 0h0m1 0h0m10 0h0m6 0h0m2 0h0m7 0h0m2 0h0m3 0h0m13 0h0m12 0h0m4 0h0m5 0h0m7 0h0m11 0h0m1 0h0m4 0h0m3 0h0m2 0h0m4 0h0m3 0h0m3 0h0m3 0h0m1 0h0m8 0h0m4 0h0m16 0h0m8 0h0m6 0h0m6 0h0m14 0h0m5 0h0m1 0h0m3 0h0m1 0h0m2 0h0m2 0h0m1 0h0m7 0h0m10 0h0m5 0h0m6 0h0m7 0h0m8 0h0m10 0h0m3 0h0m-618 1h0m8 0h0m6 0h0m4 0h0m1 0h0m2 0h0m1 0h0m3 0h0m2 0h0m1 0h0m5 0h0m1 0h0m6 0h0m9 0h0m4 0h0m2 0h0m6 0h0m3 0h0m11 0h0m4 0h0m1 0h0m8 0h0m5 0h0m3 0h0m14 0h0m5 0h0m3 0h0m8 0h0m5 0h0m18 0h0m3 0h0m1 0h0m16 0h0m7 0h0m10 0h0m7 0h0m3 0h0m2 0h0m1 0h0m4 0h0m9 0h0m1 0h0m1 0h0m4 0h0m7 0h0m3 0h0m4 0h0m25 0h0m4 0h0m3 0h0m8 0h0m1 0h0m4 0h0m1 0h0m1 0h0m2 0h0m1 0h0m2 0h0m2 0h0m29 0h0m3 0h0m31 0h0m6 0h0m5 0h0m14 0h0m7 0h0m7 0h0m7 0h0m9 0h0m1 0h0m2 0h0m1 0h0m1 0h0m1 0h0m1 0h0m2 0h0m1 0h0m1 0h0m15 0h0m4 0h0m9 0h0m2 0h0m3 0h0m6 0h0m2 0h0m2 0h0m7 0h0m2 0h0m4 0h0m4 0h0m7 0h0m8 0h0m2 0h0m2 0h0m11 0h0m10 0h0m5 0h0m3 0h0m3 0h0m1 0h0m1 0h0m7 0h0m4 0h0m4 0h0m1 0h0m2 0h0m10 0h0m8 0h0m10 0h0m5 0h0m4 0h0m4 0h0m7 0h0m16 0h0m6 0h0m9 0h0m-614 1h0m6 0h0m10 0h0m2 0h0m1 0h0m4 0h0m1 0h0m3 0h0m6 0h0m19 0h0m1 0h0m2 0h0m2 0h0m9 0h0m2 0h0m10 0h0m3 0h0m17 0h0m3 0h0m12 0h0m3 0h0m26 0h0m2 0h0m12 0h0m7 0h0m16 0h0m16 0h0m1 0h0m4 0h0m1 0h0m4 0h0m1 0h0m2 0h0m5 0h0m3 0h0m34 0h0m2 0h0m10 0h0m5 0h0m2 0h0m2 0h0m5 0h0m4 0h0m4 0h0m38 0h0m6 0h0m47 0h0m3 0h0m17 0h0m15 0h0m4 0h0m9 0h0m2 0h0m1 0h0m5 0h0m2 0h0m11 0h0m3 0h0m2 0h0m1 0h0m5 0h0m2 0h0m24 0h0m3 0h0m29 0h0m18 0h0m7 0h0m2 0h0m8 0h0m3 0h0m7 0h0m12 0h0m23 0h0m1 0h0m-603 1h0m17 0h0m22 0h0m13 0h0m38 0h0m1 0h0m1 0h0m16 0h0m38 0h0m14 0h0m31 0h0m9 0h0m14 0h0m15 0h0m2 0h0m25 0h0m10 0h0m13 0h0m17 0h0m2 0h0m2 0h0m2 0h0m7 0h0m13 0h0m15 0h0m14 0h0m17 0h0m12 0h0m1 0h0m1 0h0m5 0h0m2 0h0m2 0h0m16 0h0m1 0h0m1 0h0m3 0h0m2 0h0m14 0h0m14 0h0m3 0h0m16 0h0m3 0h0m3 0h0m4 0h0m5 0h0m10 0h0m8 0h0m5 0h0m2 0h0m4 0h0m11 0h0m9 0h0m4 0h0m1 0h0m1 0h0m6 0h0m10 0h0m3 0h0m6 0h0m3 0h0m12 0h0m10 0h0m9 0h0m1 0h0m8 0h0m3 0h0m2 0h0m1 0h0m16 0h0m-608 1h0m20 0h0m43 0h0m10 0h0m11 0h0m10 0h0m2 0h0m3 0h0m66 0h0m5 0h0m4 0h0m7 0h0m2 0h0m5 0h0m2 0h0m9 0h0m15 0h0m27 0h0m23 0h0m8 0h0m2 0h0m6 0h0m30 0h0m5 0h0m8 0h0m19 0h0m15 0h0m40 0h0m4 0h0m15 0h0m3 0h0m21 0h0m28 0h0m2 0h0m41 0h0m1 0h0m3 0h0m6 0h0m1 0h0m1 0h0m13 0h0m15 0h0m4 0h0m3 0h0m5 0h0m16 0h0m13 0h0m2 0h0m6 0h0m-565 1h0m2 0h0m23 0h0m5 0h0m5 0h0m5 0h0m3 0h0m4 0h0m21 0h0m1 0h0m9 0h0m51 0h0m1 0h0m5 0h0m2 0h0m3 0h0m11 0h0m16 0h0m2 0h0m5 0h0m32 0h0m16 0h0m2 0h0m1 0h0m7 0h0m3 0h0m1 0h0m3 0h0m5 0h0m1 0h0m2 0h0m6 0h0m8 0h0m4 0h0m18 0h0m5 0h0m16 0h0m13 0h0m17 0h0m2 0h0m2 0h0m3 0h0m6 0h0m8 0h0m15 0h0m11 0h0m9 0h0m5 0h0m12 0h0m16 0h0m1 0h0m17 0h0m11 0h0m3 0h0m5 0h0m2 0h0m7 0h0m7 0h0m3 0h0m2 0h0m10 0h0m20 0h0m8 0h0m5 0h0m4 0h0m2 0h0m1 0h0m5 0h0m5 0h0m7 0h0m33 0h0m-628 1h0m3 0h0m1 0h0m1 0h0m7 0h0m2 0h0m21 0h0m3 0h0m3 0h0m1 0h0m1 0h0m17 0h0m13 0h0m3 0h0m1 0h0m6 0h0m2 0h0m15 0h0m7 0h0m3 0h0m3 0h0m5 0h0m17 0h0m4 0h0m1 0h0m12 0h0m7 0h0m14 0h0m4 0h0m8 0h0m1 0h0m16 0h0m3 0h0m2 0h0m2 0h0m2 0h0m9 0h0m4 0h0m2 0h0m42 0h0m2 0h0m1 0h0m5 0h0m2 0h0m13 0h0m3 0h0m6 0h0m6 0h0m2 0h0m5 0h0m32 0h0m4 0h0m3 0h0m6 0h0m14 0h0m9 0h0m24 0h0m4 0h0m5 0h0m4 0h0m19 0h0m1 0h0m4 0h0m3 0h0m1 0h0m6 0h0m17 0h0m10 0h0m3 0h0m9 0h0m1 0h0m2 0h0m4 0h0m4 0h0m5 0h0m17 0h0m4 0h0m1 0h0m1 0h0m11 0h0m1 0h0m6 0h0m1 0h0m10 0h0m8 0h0m16 0h0m11 0h0m7 0h0m26 0h0m1 0h0m-616 1h0m3 0h0m20 0h0m3 0h0m7 0h0m25 0h0m2 0h0m3 0h0m7 0h0m1 0h0m6 0h0m10 0h0m22 0h0m13 0h0m10 0h0m1 0h0m1 0h0m2 0h0m5 0h0m5 0h0m2 0h0m7 0h0m15 0h0m19 0h0m16 0h0m9 0h0m4 0h0m22 0h0m3 0h0m12 0h0m8 0h0m2 0h0m3 0h0m5 0h0m19 0h0m4 0h0m8 0h0m14 0h0m3 0h0m1 0h0m18 0h0m10 0h0m16 0h0m6 0h0m4 0h0m35 0h0m7 0h0m1 0h0m3 0h0m16 0h0m9 0h0m7 0h0m2 0h0m1 0h0m1 0h0m2 0h0m2 0h0m2 0h0m12 0h0m13 0h0m8 0h0m2 0h0m13 0h0m1 0h0m1 0h0m1 0h0m2 0h0m14 0h0m18 0h0m6 0h0m11 0h0m9 0h0m21 0h0m3 0h0m14 0h0m-624 1h0m5 0h0m5 0h0m12 0h0m1 0h0m3 0h0m7 0h0m4 0h0m2 0h0m35 0h0m6 0h0m55 0h0m6 0h0m10 0h0m5 0h0m11 0h0m10 0h0m13 0h0m6 0h0m5 0h0m1 0h0m4 0h0m1 0h0m8 0h0m50 0h0m27 0h0m20 0h0m14 0h0m25 0h0m7 0h0m5 0h0m18 0h0m14 0h0m22 0h0m24 0h0m22 0h0m1 0h0m3 0h0m2 0h0m2 0h0m3 0h0m21 0h0m5 0h0m4 0h0m33 0h0m11 0h0m11 0h0m3 0h0m4 0h0m38 0h0m3 0h0m-603 1h0m4 0h0m2 0h0m9 0h0m34 0h0m35 0h0m1 0h0m57 0h0m1 0h0m3 0h0m22 0h0m28 0h0m56 0h0m32 0h0m1 0h0m3 0h0m20 0h0m12 0h0m29 0h0m28 0h0m30 0h0m11 0h0m21 0h0m97 0h0m1 0h0m5 0h0m31 0h0m40 0h0m-621 1h0m2 0h0m7 0h0m1 0h0m7 0h0m26 0h0m26 0h0m27 0h0m38 0h0m29 0h0m1 0h0m48 0h0m13 0h0m36 0h0m13 0h0m7 0h0m8 0h0m1 0h0m3 0h0m4 0h0m17 0h0m26 0h0m12 0h0m13 0h0m5 0h0m29 0h0m4 0h0m9 0h0m4 0h0m3 0h0m20 0h0m6 0h0m5 0h0m8 0h0m1 0h0m10 0h0m2 0h0m2 0h0m3 0h0m27 0h0m20 0h0m11 0h0m3 0h0m1 0h0m25 0h0m6 0h0m35 0h0m26 0h0m-589 1h0m11 0h0m1 0h0m9 0h0m14 0h0m11 0h0m23 0h0m3 0h0m16 0h0m13 0h0m22 0h0m4 0h0m16 0h0m4 0h0m31 0h0m36 0h0m2 0h0m4 0h0m3 0h0m10 0h0m4 0h0m11 0h0m4 0h0m79 0h0m28 0h0m6 0h0m21 0h0m3 0h0m5 0h0m3 0h0m5 0h0m2 0h0m5 0h0m11 0h0m26 0h0m14 0h0m2 0h0m14 0h0m7 0h0m5 0h0m1 0h0m8 0h0m3 0h0m34 0h0m6 0h0m21 0h0m4 0h0m19 0h0m-621 1h0m2 0h0m21 0h0m19 0h0m3 0h0m21 0h0m4 0h0m5 0h0m3 0h0m5 0h0m5 0h0m18 0h0m2 0h0m34 0h0m2 0h0m1 0h0m1 0h0m8 0h0m7 0h0m11 0h0m5 0h0m14 0h0m4 0h0m9 0h0m27 0h0m21 0h0m22 0h0m24 0h0m48 0h0m1 0h0m87 0h0m4 0h0m29 0h0m5 0h0m6 0h0m61 0h0m3 0h0m16 0h0m11 0h0m38 0h0m11 0h0m5 0h0m-594 1h0m28 0h0m16 0h0m40 0h0m23 0h0m6 0h0m49 0h0m67 0h0m10 0h0m6 0h0m5 0h0m13 0h0m6 0h0m91 0h0m32 0h0m15 0h0m29 0h0m27 0h0m29 0h0m23 0h0m6 0h0m54 0h0m-546 1h0m7 0h0m2 0h0m1 0h0m5 0h0m10 0h0m35 0h0m31 0h0m10 0h0m20 0h0m14 0h0m30 0h0m62 0h0m17 0h0m8 0h0m11 0h0m54 0h0m13 0h0m19 0h0m11 0h0m34 0h0m18 0h0m9 0h0m2 0h0m42 0h0m53 0h0m35 0h0m-600 1h0m25 0h0m1 0h0m17 0h0m25 0h0m4 0h0m9 0h0m1 0h0m29 0h0m23 0h0m1 0h0m6 0h0m12 0h0m29 0h0m1 0h0m6 0h0m6 0h0m61 0h0m16 0h0m2 0h0m2 0h0m6 0h0m19 0h0m36 0h0m2 0h0m9 0h0m15 0h0m7 0h0m24 0h0m31 0h0m16 0h0m10 0h0m6 0h0m6 0h0m1 0h0m4 0h0m16 0h0m10 0h0m1 0h0m19 0h0m4 0h0m13 0h0m28 0h0m19 0h0m7 0h0m4 0h0m6 0h0m10 0h0m1 0h0m5 0h0m2 0h0m-627 1h0m6 0h0m2 0h0m20 0h0m3 0h0m7 0h0m2 0h0m10 0h0m25 0h0m9 0h0m1 0h0m47 0h0m13 0h0m1 0h0m57 0h0m4 0h0m7 0h0m13 0h0m38 0h0m23 0h0m5 0h0m2 0h0m5 0h0m13 0h0m9 0h0m31 0h0m14 0h0m20 0h0m24 0h0m27 0h0m5 0h0m3 0h0m4 0h0m5 0h0m23 0h0m33 0h0m14 0h0m4 0h0m4 0h0m13 0h0m9 0h0m1 0h0m5 0h0m19 0h0m3 0h0m8 0h0m5 0h0m19 0h0m10 0h0m-618 1h0m13 0h0m7 0h0m34 0h0m2 0h0m13 0h0m3 0h0m4 0h0m3 0h0m7 0h0m26 0h0m26 0h0m24 0h0m17 0h0m9 0h0m1 0h0m4 0h0m4 0h0m11 0h0m3 0h0m4 0h0m3 0h0m35 0h0m19 0h0m7 0h0m1 0h0m1 0h0m4 0h0m4 0h0m5 0h0m2 0h0m24 0h0m2 0h0m2 0h0m5 0h0m13 0h0m1 0h0m6 0h0m7 0h0m9 0h0m4 0h0m14 0h0m14 0h0m3 0h0m13 0h0m8 0h0m4 0h0m8 0h0m2 0h0m5 0h0m19 0h0m3 0h0m35 0h0m1 0h0m2 0h0m10 0h0m50 0h0m7 0h0m9 0h0m20 0h0m6 0h0m-594 1h0m6 0h0m22 0h0m17 0h0m18 0h0m19 0h0m9 0h0m6 0h0m37 0h0m9 0h0m39 0h0m9 0h0m5 0h0m2 0h0m11 0h0m8 0h0m35 0h0m12 0h0m8 0h0m3 0h0m2 0h0m14 0h0m23 0h0m20 0h0m44 0h0m5 0h0m11 0h0m4 0h0m5 0h0m9 0h0m20 0h0m9 0h0m37 0h0m6 0h0m15 0h0m11 0h0m11 0h0m29 0h0m2 0h0m20 0h0m22 0h0m-585 1h0m16 0h0m1 0h0m11 0h0m13 0h0m15 0h0m18 0h0m39 0h0m5 0h0m5 0h0m53 0h0m30 0h0m28 0h0m22 0h0m4 0h0m5 0h0m11 0h0m53 0h0m54 0h0m64 0h0m40 0h0m9 0h0m21 0h0m3 0h0m8 0h0m21 0h0m1 0h0m46 0h0m-601 1h0m21 0h0m28 0h0m12 0h0m4 0h0m24 0h0m6 0h0m14 0h0m10 0h0m2 0h0m47 0h0m4 0h0m8 0h0m11 0h0m6 0h0m4 0h0m1 0h0m46 0h0m3 0h0m4 0h0m5 0h0m4 0h0m2 0h0m68 0h0m62 0h0m8 0h0m32 0h0m18 0h0m30 0h0m5 0h0m8 0h0m6 0h0m6 0h0m2 0h0m2 0h0m1 0h0m2 0h0m4 0h0m4 0h0m24 0h0m3 0h0m57 0h0m-614 1h0m14 0h0m10 0h0m1 0h0m6 0h0m31 0h0m4 0h0m3 0h0m14 0h0m18 0h0m37 0h0m6 0h0m4 0h0m8 0h0m28 0h0m31 0h0m27 0h0m11 0h0m10 0h0m38 0h0m141 0h0m29 0h0m63 0h0m22 0h0m-569 1h0m19 0h0m23 0h0m60 0h0m39 0h0m4 0h0m7 0h0m21 0h0m12 0h0m6 0h0m5 0h0m29 0h0m4 0h0m42 0h0m7 0h0m13 0h0m7 0h0m5 0h0m33 0h0m50 0h0m5 0h0m21 0h0m1 0h0m16 0h0m3 0h0m17 0h0m44 0h0m24 0h0m11 0h0m3 0h0m60 0h0m-573 1h0m7 0h0m15 0h0m33 0h0m12 0h0m72 0h0m27 0h0m40 0h0m7 0h0m81 0h0m39 0h0m6 0h0m41 0h0m43 0h0m4 0h0m23 0h0m2 0h0m32 0h0m4 0h0m7 0h0m27 0h0m42 0h0m-561 1h0m56 0h0m28 0h0m46 0h0m12 0h0m12 0h0m95 0h0m5 0h0m36 0h0m49 0h0m37 0h0m12 0h0m2 0h0m56 0h0m34 0h0m46 0h0m38 0h0m13 0h0m-583 1h0m72 0h0m14 0h0m3 0h0m1 0h0m34 0h0m7 0h0m7 0h0m30 0h0m24 0h0m1 0h0m6 0h0m57 0h0m8 0h0m22 0h0m22 0h0m14 0h0m74 0h0m55 0h0m5 0h0m2 0h0m2 0h0m3 0h0m53 0h0m70 0h0m28 0h0m-584 1h0m8 0h0m25 0h0m12 0h0m7 0h0m161 0h0m13 0h0m21 0h0m80 0h0m67 0h0m19 0h0m13 0h0m58 0h0m9 0h0m44 0h0m-568 1h0m13 0h0m10 0h0m14 0h0m10 0h0m20 0h0m101 0h0m23 0h0m75 0h0m5 0h0m1 0h0m20 0h0m27 0h0m24 0h0m78 0h0m7 0h0m3 0h0m28 0h0m3 0h0m33 0h0m2 0h0m38 0h0m9 0h0m48 0h0m6 0h0m9 0h0m-605 1h0m12 0h0m5 0h0m14 0h0m46 0h0m28 0h0m26 0h0m11 0h0m37 0h0m3 0h0m10 0h0m19 0h0m2 0h0m42 0h0m5 0h0m3 0h0m33 0h0m2 0h0m84 0h0m43 0h0m19 0h0m7 0h0m26 0h0m29 0h0m20 0h0m30 0h0m3 0h0m2 0h0m21 0h0m-595 1h0m2 0h0m11 0h0m17 0h0m2 0h0m6 0h0m7 0h0m12 0h0m12 0h0m22 0h0m22 0h0m28 0h0m7 0h0m21 0h0m7 0h0m17 0h0m4 0h0m16 0h0m6 0h0m10 0h0m36 0h0m1 0h0m12 0h0m6 0h0m12 0h0m7 0h0m33 0h0m41 0h0m2 0h0m2 0h0m43 0h0m7 0h0m2 0h0m10 0h0m4 0h0m13 0h0m6 0h0m4 0h0m7 0h0m5 0h0m20 0h0m6 0h0m20 0h0m20 0h0m25 0h0m6 0h0m8 0h0m4 0h0m-577 1h0m2 0h0m8 0h0m43 0h0m16 0h0m12 0h0m13 0h0m3 0h0m6 0h0m12 0h0m19 0h0m42 0h0m2 0h0m11 0h0m17 0h0m76 0h0m9 0h0m9 0h0m9 0h0m58 0h0m11 0h0m14 0h0m2 0h0m29 0h0m1 0h0m14 0h0m23 0h0m21 0h0m1 0h0m25 0h0m1 0h0m7 0h0m8 0h0m24 0h0m41 0h0m-591 1h0m12 0h0m1 0h0m9 0h0m29 0h0m6 0h0m3 0h0m1 0h0m3 0h0m5 0h0m7 0h0m24 0h0m30 0h0m80 0h0m31 0h0m104 0h0m37 0h0m84 0h0m27 0h0m13 0h0m3 0h0m8 0h0m13 0h0m24 0h0m-550 1h0m64 0h0m80 0h0m57 0h0m34 0h0m21 0h0m6 0h0m5 0h0m11 0h0m6 0h0m11 0h0m74 0h0m4 0h0m39 0h0m10 0h0m33 0h0m43 0h0m13 0h0m27 0h0m46 0h0m-581 1h0m8 0h0m7 0h0m19 0h0m11 0h0m39 0h0m8 0h0m14 0h0m79 0h0m61 0h0m1 0h0m3 0h0m8 0h0m58 0h0m32 0h0m42 0h0m90 0h0m83 0h0m-575 1h0m18 0h0m26 0h0m19 0h0m2 0h0m8 0h0m91 0h0m94 0h0m20 0h0m10 0h0m78 0h0m8 0h0m57 0h0m5 0h0m11 0h0m41 0h0m4 0h0m32 0h0m40 0h0m29 0h0m-601 1h0m37 0h0m82 0h0m5 0h0m17 0h0m5 0h0m5 0h0m22 0h0m23 0h0m11 0h0m62 0h0m31 0h0m4 0h0m9 0h0m46 0h0m25 0h0m85 0h0m14 0h0m8 0h0m24 0h0m40 0h0m43 0h0m-588 1h0m20 0h0m11 0h0m33 0h0m56 0h0m50 0h0m11 0h0m7 0h0m99 0h0m26 0h0m7 0h0m74 0h0m6 0h0m80 0h0m10 0h0m7 0h0m6 0h0m56 0h0m1 0h0m-535 1h0m39 0h0m33 0h0m42 0h0m4 0h0m106 0h0m6 0h0m25 0h0m48 0h0m14 0h0m28 0h0m62 0h0m13 0h0m147 0h0m-600 1h0m19 0h0m5 0h0m11 0h0m3 0h0m5 0h0m34 0h0m20 0h0m24 0h0m26 0h0m44 0h0m24 0h0m1 0h0m5 0h0m46 0h0m46 0h0m21 0h0m97 0h0m33 0h0m9 0h0m16 0h0m12 0h0m26 0h0m14 0h0m6 0h0m19 0h0m1 0h0m47 0h0m7 0h0m-607 1h0m16 0h0m1 0h0m2 0h0m31 0h0m21 0h0m22 0h0m12 0h0m4 0h0m34 0h0m30 0h0m6 0h0m15 0h0m2 0h0m56 0h0m5 0h0m10 0h0m8 0h0m117 0h0m36 0h0m3 0h0m27 0h0m7 0h0m78 0h0m9 0h0m12 0h0m19 0h0m8 0h0m19 0h0m-575 1h0m6 0h0m2 0h0m27 0h0m17 0h0m3 0h0m112 0h0m37 0h0m12 0h0m13 0h0m12 0h0m17 0h0m19 0h0m25 0h0m37 0h0m26 0h0m24 0h0m10 0h0m46 0h0m88 0h0m24 0h0m-601 1h0m25 0h0m85 0h0m73 0h0m1 0h0m2 0h0m95 0h0m2 0h0m15 0h0m5 0h0m112 0h0m13 0h0m138 0h0m-470 1h0m79 0h0m6 0h0m10 0h0m3 0h0m9 0h0m70 0h0m55 0h0m42 0h0m65 0h0m109 0h0m30 0h0m26 0h0m6 0h0m-614 1h0m86 0h0m197 0h0m1 0h0m6 0h0m6 0h0m8 0h0m9 0h0m147 0h0m39 0h0m65 0h0m6 0h0m9 0h0m25 0h0m7 0h0m-576 1h0m15 0h0m25 0h0m36 0h0m9 0h0m41 0h0m41 0h0m85 0h0m5 0h0m133 0h0m41 0h0m55 0h0m82 0h0m-601 1h0m3 0h0m56 0h0m58 0h0m111 0h0m48 0h0m76 0h0m60 0h0m119 0h0m69 0h0m4 0h0m21 0h0m-623 1h0m54 0h0m32 0h0m12 0h0m5 0h0m30 0h0m24 0h0m1 0h0m47 0h0m56 0h0m5 0h0m16 0h0m21 0h0m22 0h0m21 0h0m29 0h0m47 0h0m6 0h0m13 0h0m14 0h0m6 0h0m14 0h0m50 0h0m20 0h0m12 0h0m-525 1h0m2 0h0m11 0h0m2 0h0m19 0h0m2 0h0m6 0h0m1 0h0m24 0h0m23 0h0m7 0h0m64 0h0m6 0h0m24 0h0m33 0h0m23 0h0m3 0h0m4 0h0m164 0h0m28 0h0m9 0h0m11 0h0m34 0h0m21 0h0m10 0h0m59 0h0m-588 1h0m10 0h0m77 0h0m22 0h0m141 0h0m3 0h0m24 0h0m20 0h0m23 0h0m157 0h0m83 0h0m4 0h0m-568 1h0m7 0h0m32 0h0m4 0h0m1 0h0m74 0h0m252 0h0m85 0h0m110 0h0m-572 1h0m76 0h0m184 0h0m-266 1h0m170 0h0m161 0h0m209 0h0m-551 1h0m4 0h0m76 0h0m18 0h0m10 0h0m84 0h0m1 0h0m5 0h0m66 0h0m97 0h0m19 0h0m21 0h0m42 0h0m14 0h0m29 0h0m13 0h0m4 0h0m55 0h0m30 0h0m6 0h0m-593 1h0m71 0h0m27 0h0m35 0h0m54 0h0m157 0h0m62 0h0m56 0h0m32 0h0m1 0h0m-484 1h0m54 0h0m1 0h0m4 0h0m65 0h0m33 0h0m28 0h0m19 0h0m156 0h0m183 0h0m-499 1h0m131 0h0m199 0h0m205 0h0m-530 1h0m58 0h0m171 0h0m-153 1h0m126 0h0m203 0h0m108 0h0m-554 1h0m80 0h0m32 0h0m180 0h0m107 0h0m10 0h0m8 0h0m174 0h0m-599 1h0m13 0h0m51 0h0m9 0h0m56 0h0m20 0h0m125 0h0m134 0h0m-217 1h0m290 0h0m23 0h0m61 0h0m12 0h0m-512 1h0m56 0h0m3 0h0m131 0h0m39 0h0m115 0h0m5 0h0m12 0h0m127 0h0m52 0h0m-617 1h0m74 0h0m482 0h0m51 0h0m-573 1h0m104 0h0m69 0h0m59 0h0m31 0h0m45 0h0m29 0h0m29 0h0m61 0h0m44 0h0m13 0h0m33 0h0m-547 1h0m50 0h0m18 0h0m51 0h0m20 0h0m48 0h0m89 0h0m96 0h0m80 0h0m101 0h0m-535 1h0m28 0h0m26 0h0m170 0h0m75 0h0m65 0h0m153 0h0m68 0h0m-304 1h0m230 0h0m-258 1h0m6 0h0m211 0h0m22 0h0m93 0h0m-533 1h0m6 0h0m115 0h0m5 0h0m10 0h0m59 0h0m11 0h0m125 0h0m89 0h0m-383 1h0m144 1h0m23 0h0m131 0h0m52 0h0m43 0h0m19 0h0m-527 1h0m50 0h0m32 0h0m31 0h0m14 0h0m20 0h0m133 0h0m152 0h0m13 0h0m14 0h0m1 0h0m133 0h0m-461 1h0m4 0h0m15 0h0m149 0h0m136 0h0m28 0h0m63 0h0m55 0h0m-181 1h0m85 0h0m62 0h0m29 0h0m-358 1h0m-136 1h0m202 0h0m94 0h0m-186 1h0m75 0h0m77 0h0m95 0h0m157 0h0m-600 1h0m32 0h0m443 0h0m149 0h0m-550 1h0m35 0h0m102 0h0m323 0h0m-213 1h0m197 0h0m42 0h0m-361 2h0m169 0h0m15 0h0m166 0h0m-543 1h0m275 0h0m-62 1h0m9 0h0m24 0h0m50 0h0m128 0h0m-258 1h0m2 0h0m30 0h0m4 0h0m266 0h0m28 0h0m-277 2h0m-54 1h0m-116 1h0m488 2h0m-463 1h0m133 1h0m302 0h0m-340 1h0m-36 1h0m319 0h0m-77 1h0m-380 1h0m259 3h0m-142 1h0m77 0h0m322 0h0m-431 3h0m17 0h0m100 0h0m149 0h0m-354 1h0m466 0h0m-274 9h0m92 0h0" stroke="#d95f02" stroke-width="5.6" stroke-linecap="round" fill="none"/>
<path d="M1370 1406h0m-83 1h0m-320 1h0m89 0h0m250 0h0m85 1h0m-275 2h0m-150 3h0m6 0h0m75 0h0m59 0h0m24 0h0m73 0h0m168 0h0m15 0h0m24 0h0m18 0h0m21 0h0m1 0h0m87 0h0m15 0h0m-608 1h0m272 0h0m69 6h0m218 0h0m-515 2h0m400 3h0m-175 5h0m-258 3h0m469 5h0m-472 4h0m39 0h0m172 0h0m104 0h0m17 0h0m42 0h0m20 0h0m167 0h0m-560 44h0m2 0h0m6 0h0m10 0h0m37 0h0m18 0h0m7 0h0m10 0h0m15 0h0m7 0h0m11 0h0m7 0h0m6 0h0m2 0h0m10 0h0m14 0h0m13 0h0m1 0h0m17 0h0m1 0h0m10 0h0m3 0h0m1 0h0m49 0h0m8 0h0m8 0h0m8 0h0m5 0h0m4 0h0m4 0h0m4 0h0m9 0h0m22 0h0m8 0h0m12 0h0m2 0h0m18 0h0m2 0h0m3 0h0m6 0h0m6 0h0m6 0h0m6 0h0m28 0h0m6 0h0m16 0h0m6 0h0m2 0h0m30 0h0m11 0h0m4 0h0m2 0h0m10 0h0m27 0h0m5 0h0m2 0h0m5 0h0m23 0h0m7 0h0m4 0h0m3 0h0m28 0h0m-453 42h0m-173 2h0m101 0h0m34 0h0m10 0h0m225 0h0m50 0h0m126 0h0m15 0h0m42 0h0m1 16h0m-126 2h0m-437 3h0m137 1h0m232 3h0m-69 3h0m-338 1h0m47 0h0m99 0h0m16 0h0m6 0h0m24 0h0m9 0h0m62 0h0m8 0h0m32 0h0m29 0h0m6 0h0m77 0h0m6 0h0m19 0h0m6 0h0m123 0h0m16 0h0m-89 3h0m-26 1h0m-267 2h0m215 1h0m-123 1h0" stroke="#ebebeb" stroke-width="2.8" stroke-linecap="round" fill="none" opacity="0.4"/>
<path d="M1299.3 1266.8V1707.2" stroke="#a0009e" stroke-width="4.4"/>
<rect x="1620.2" y="1180.3" width="696.8" height="63.9" fill="#d9d9d9"/>
<rect x="1620.2" y="1244.2" width="696.8" height="484.2" fill="#ebebeb"/>
<path d="M1620.2 1651.4h696.8M1620.2 1541.8h696.8M1620.2 1432.2h696.8M1620.2 1322.6h696.8M1768.2 1244.2V1728.4M2004 1244.2V1728.4M2239.8 1244.2V1728.4" stroke="#f1f1f1" stroke-width="1.5" fill="none"/>
<path d="M1620.2 1706.2h696.8M1620.2 1596.6h696.8M1620.2 1487h696.8M1620.2 1377.4h696.8M1620.2 1267.8h696.8M1650.3 1244.2V1728.4M1886.1 1244.2V1728.4M2121.9 1244.2V1728.4" stroke="#f5f5f5" stroke-width="2.5" fill="none"/>
<text transform="translate(1973.6 1234.5) scale(1.008 1)" font-size="63" fill="#1a1a1a" text-anchor="middle" stroke="#d9d9d9" stroke-width="0.7">II.8 + III.7</text>
<path d="M1709.7 1268.3H1816.3" stroke="#7570b3" stroke-width="5.4" stroke-linecap="round"/>
<rect x="1650.1" y="1392.3" width="241.5" height="182.8" fill="#7570b3"/>
<rect x="1904.7" y="1392.3" width="382" height="182.8" fill="#7570b3"/>
<path d="M2200 1268h0m-454 9h0m-31 1h0m5 0h0m1 0h0m9 0h0m5 0h0m2 0h0m9 0h0m13 0h0m6 0h0m1 0h0m4 0h0m1 0h0m5 0h0m8 0h0m1 0h0m6 0h0m4 0h0m1 0h0m7 0h0m1 0h0m1 0h0m2 0h0m1 0h0m5 0h0m-101 1h0m2 0h0m2 0h0m1 0h0m9 0h0m1 0h0m3 0h0m1 0h0m5 0h0m3 0h0m1 0h0m1 0h0m2 0h0m2 0h0m3 0h0m2 0h0m8 0h0m2 0h0m4 0h0m2 0h0m9 0h0m10 0h0m3 0h0m1 0h0m2 0h0m1 0h0m3 0h0m12 0h0m5 0h0m-102 1h0m1 0h0m5 0h0m1 0h0m12 0h0m1 0h0m14 0h0m2 0h0m5 0h0m3 0h0m17 0h0m3 0h0m1 0h0m7 0h0m1 0h0m1 0h0m1 0h0m8 0h0m2 0h0m3 0h0m16 0h0m-102 1h0m1 0h0m1 0h0m10 0h0m5 0h0m10 0h0m2 0h0m3 0h0m2 0h0m6 0h0m6 0h0m2 0h0m5 0h0m2 0h0m1 0h0m6 0h0m7 0h0m8 0h0m6 0h0m4 0h0m10 0h0m7 0h0m-106 1h0m4 0h0m1 0h0m2 0h0m1 0h0m13 0h0m5 0h0m4 0h0m15 0h0m10 0h0m1 0h0m1 0h0m4 0h0m1 0h0m2 0h0m2 0h0m3 0h0m2 0h0m4 0h0m8 0h0m4 0h0m8 0h0m1 0h0m5 0h0m-98 1h0m5 0h0m1 0h0m1 0h0m4 0h0m1 0h0m14 0h0m3 0h0m3 0h0m14 0h0m7 0h0m6 0h0m2 0h0m2 0h0m6 0h0m2 0h0m1 0h0m1 0h0m5 0h0m9 0h0m2 0h0m7 0h0m2 0h0m4 0h0m-104 1h0m3 0h0m4 0h0m5 0h0m4 0h0m4 0h0m3 0h0m7 0h0m7 0h0m2 0h0m11 0h0m2 0h0m5 0h0m6 0h0m1 0h0m4 0h0m1 0h0m4 0h0m20 0h0m1 0h0m2 0h0m2 0h0m-98 1h0m1 0h0m3 0h0m4 0h0m13 0h0m12 0h0m6 0h0m2 0h0m3 0h0m2 0h0m5 0h0m10 0h0m10 0h0m7 0h0m2 0h0m2 0h0m1 0h0m3 0h0m15 0h0m-100 1h0m7 0h0m5 0h0m5 0h0m6 0h0m7 0h0m8 0h0m19 0h0m7 0h0m5 0h0m3 0h0m4 0h0m4 0h0m1 0h0m10 0h0m7 0h0m1 0h0m3 0h0m2 0h0m-104 1h0m8 0h0m3 0h0m3 0h0m3 0h0m21 0h0m1 0h0m3 0h0m12 0h0m3 0h0m1 0h0m5 0h0m1 0h0m1 0h0m2 0h0m1 0h0m4 0h0m6 0h0m12 0h0m2 0h0m3 0h0m-96 1h0m5 0h0m9 0h0m1 0h0m6 0h0m37 0h0m3 0h0m1 0h0m15 0h0m3 0h0m3 0h0m1 0h0m3 0h0m2 0h0m5 0h0m4 0h0m-83 1h0m7 0h0m2 0h0m8 0h0m4 0h0m1 0h0m6 0h0m6 0h0m5 0h0m4 0h0m2 0h0m2 0h0m11 0h0m11 0h0m6 0h0m3 0h0m1 0h0m5 0h0m1 0h0m-99 1h0m5 0h0m16 0h0m2 0h0m8 0h0m2 0h0m4 0h0m4 0h0m1 0h0m3 0h0m7 0h0m16 0h0m2 0h0m4 0h0m12 0h0m8 0h0m3 0h0m2 0h0m1 0h0m-97 1h0m13 0h0m11 0h0m8 0h0m23 0h0m10 0h0m16 0h0m8 0h0m7 0h0m-97 1h0m5 0h0m17 0h0m1 0h0m11 0h0m1 0h0m4 0h0m26 0h0m3 0h0m2 0h0m20 0h0m7 0h0m-93 1h0m2 0h0m6 0h0m5 0h0m14 0h0m5 0h0m15 0h0m3 0h0m27 0h0m4 0h0m12 0h0m3 0h0m-101 1h0m11 0h0m7 0h0m5 0h0m16 0h0m6 0h0m2 0h0m12 0h0m11 0h0m23 0h0m5 0h0m-50 1h0m1 0h0m5 0h0m1 0h0m11 0h0m2 0h0m24 0h0m7 0h0m-87 1h0m12 0h0m12 0h0m8 0h0m7 0h0m-46 1h0m33 0h0m15 0h0m-31 1h0m16 0h0m11 0h0m1 0h0m8 0h0m7 0h0m2 0h0m7 0h0m-35 1h0m24 0h0m38 0h0m-93 1h0m22 0h0m12 0h0m-30 1h0m2 0h0m5 0h0m41 0h0m10 1h0m1 0h0m-69 1h0m90 0h0m-6 1h0m-36 1h0m30 2h0m-48 2h0m16 2h0m19 1h0m-4 2h0m-29 1h0m2 1h0m-20 1h0m35 1h0m15 2h0m-109 1h0m10 0h0m51 0h0m320 0h0m-366 1h0m321 1h0m39 0h0m211 0h0m-200 2h0m-349 4h0m56 0h0m62 0h0m161 0h0m-231 2h0m31 0h0m264 0h0m-320 1h0m77 1h0m232 0h0m-101 1h0m44 0h0m125 0h0m-323 1h0m130 0h0m12 0h0m172 0h0m147 0h0m7 0h0m4 1h0m-245 1h0m-59 1h0m229 0h0m49 0h0m-475 1h0m75 0h0m10 0h0m250 0h0m147 0h0m-475 1h0m27 0h0m128 0h0m37 0h0m48 0h0m149 0h0m90 0h0m-565 1h0m63 0h0m39 0h0m31 0h0m124 0h0m51 0h0m61 0h0m43 0h0m157 0h0m-519 1h0m266 0h0m154 0h0m114 0h0m-583 1h0m31 0h0m68 0h0m64 0h0m206 0h0m58 0h0m-429 1h0m416 0h0m-410 1h0m290 0h0m-293 1h0m10 0h0m2 0h0m46 0h0m7 0h0m105 0h0m346 0h0m19 0h0m-508 1h0m110 0h0m31 0h0m15 0h0m4 0h0m24 0h0m22 0h0m20 0h0m69 0h0m49 0h0m1 0h0m9 0h0m42 0h0m15 0h0m86 0h0m11 0h0m-481 1h0m25 0h0m35 0h0m43 0h0m13 0h0m72 0h0m50 0h0m16 0h0m118 0h0m3 0h0m24 0h0m92 0h0m20 0h0m-576 1h0m79 0h0m41 0h0m81 0h0m125 0h0m11 0h0m12 0h0m5 0h0m94 0h0m101 0h0m7 0h0m-549 1h0m6 0h0m5 0h0m5 0h0m54 0h0m100 0h0m1 0h0m67 0h0m96 0h0m215 0h0m5 0h0m-499 1h0m39 0h0m42 0h0m145 0h0m99 0h0m75 0h0m126 0h0m-579 1h0m37 0h0m20 0h0m14 0h0m9 0h0m71 0h0m279 0h0m7 0h0m3 0h0m124 0h0m-577 1h0m1 0h0m124 0h0m74 0h0m59 0h0m61 0h0m85 0h0m17 0h0m-383 1h0m30 0h0m25 0h0m184 0h0m7 0h0m72 0h0m28 0h0m58 0h0m118 0h0m18 0h0m-551 1h0m16 0h0m42 0h0m3 0h0m5 0h0m11 0h0m46 0h0m30 0h0m2 0h0m4 0h0m126 0h0m40 0h0m26 0h0m2 0h0m3 0h0m15 0h0m95 0h0m6 0h0m13 0h0m13 0h0m36 0h0m2 0h0m7 0h0m-578 1h0m12 0h0m15 0h0m12 0h0m62 0h0m52 0h0m26 0h0m103 0h0m37 0h0m17 0h0m21 0h0m24 0h0m1 0h0m57 0h0m3 0h0m116 0h0m30 0h0m-576 1h0m10 0h0m82 0h0m16 0h0m6 0h0m74 0h0m16 0h0m113 0h0m49 0h0m9 0h0m61 0h0m136 0h0m30 0h0m13 0h0m-330 1h0m25 0h0m4 0h0m8 0h0m20 0h0m6 0h0m22 0h0m4 0h0m102 0h0m14 0h0m58 0h0m46 0h0m-606 1h0m18 0h0m82 0h0m10 0h0m152 0h0m57 0h0m33 0h0m26 0h0m110 0h0m17 0h0m6 0h0m32 0h0m32 0h0m-566 1h0m162 0h0m125 0h0m41 0h0m53 0h0m6 0h0m87 0h0m3 0h0m57 0h0m4 0h0m7 0h0m31 0h0m-565 1h0m41 0h0m11 0h0m249 0h0m34 0h0m76 0h0m79 0h0m43 0h0m52 0h0m-594 1h0m20 0h0m15 0h0m13 0h0m88 0h0m71 0h0m40 0h0m66 0h0m124 0h0m3 0h0m106 0h0m36 0h0m-583 1h0m11 0h0m32 0h0m3 0h0m22 0h0m47 0h0m35 0h0m2 0h0m4 0h0m33 0h0m6 0h0m82 0h0m15 0h0m68 0h0m6 0h0m58 0h0m19 0h0m38 0h0m19 0h0m23 0h0m21 0h0m14 0h0m25 0h0m32 0h0m-605 1h0m4 0h0m4 0h0m2 0h0m6 0h0m21 0h0m41 0h0m26 0h0m65 0h0m3 0h0m18 0h0m50 0h0m3 0h0m23 0h0m10 0h0m40 0h0m5 0h0m23 0h0m20 0h0m1 0h0m6 0h0m40 0h0m5 0h0m107 0h0m19 0h0m45 0h0m-580 1h0m2 0h0m2 0h0m6 0h0m40 0h0m16 0h0m10 0h0m5 0h0m6 0h0m10 0h0m6 0h0m29 0h0m12 0h0m16 0h0m26 0h0m2 0h0m43 0h0m3 0h0m3 0h0m13 0h0m12 0h0m9 0h0m12 0h0m1 0h0m4 0h0m4 0h0m3 0h0m8 0h0m3 0h0m14 0h0m5 0h0m12 0h0m10 0h0m12 0h0m1 0h0m2 0h0m50 0h0m1 0h0m10 0h0m3 0h0m24 0h0m2 0h0m67 0h0m29 0h0m3 0h0m4 0h0m2 0h0m9 0h0m26 0h0m-600 1h0m10 0h0m62 0h0m68 0h0m26 0h0m12 0h0m19 0h0m6 0h0m1 0h0m34 0h0m2 0h0m36 0h0m50 0h0m14 0h0m7 0h0m11 0h0m11 0h0m4 0h0m1 0h0m6 0h0m15 0h0m18 0h0m15 0h0m2 0h0m5 0h0m41 0h0m27 0h0m47 0h0m7 0h0m8 0h0m19 0h0m21 0h0m-609 1h0m6 0h0m8 0h0m2 0h0m3 0h0m51 0h0m37 0h0m14 0h0m132 0h0m52 0h0m86 0h0m32 0h0m4 0h0m5 0h0m74 0h0m2 0h0m34 0h0m17 0h0m24 0h0m14 0h0m-568 1h0m148 0h0m24 0h0m2 0h0m9 0h0m4 0h0m27 0h0m1 0h0m22 0h0m47 0h0m5 0h0m32 0h0m11 0h0m3 0h0m25 0h0m66 0h0m101 0h0m6 0h0m-569 1h0m12 0h0m15 0h0m12 0h0m9 0h0m64 0h0m35 0h0m1 0h0m14 0h0m38 0h0m52 0h0m2 0h0m57 0h0m79 0h0m24 0h0m17 0h0m1 0h0m3 0h0m114 0h0m26 0h0m2 0h0m43 0h0m-627 1h0m19 0h0m11 0h0m85 0h0m25 0h0m14 0h0m5 0h0m5 0h0m4 0h0m15 0h0m3 0h0m15 0h0m11 0h0m71 0h0m15 0h0m51 0h0m47 0h0m22 0h0m19 0h0m3 0h0m79 0h0m10 0h0m28 0h0m47 0h0m24 0h0m-608 1h0m9 0h0m17 0h0m13 0h0m47 0h0m6 0h0m13 0h0m7 0h0m6 0h0m48 0h0m4 0h0m66 0h0m6 0h0m46 0h0m13 0h0m40 0h0m3 0h0m21 0h0m44 0h0m1 0h0m7 0h0m64 0h0m52 0h0m59 0h0m-542 1h0m27 0h0m24 0h0m103 0h0m2 0h0m68 0h0m66 0h0m4 0h0m13 0h0m23 0h0m7 0h0m37 0h0m43 0h0m46 0h0m71 0h0m-586 1h0m2 0h0m9 0h0m71 0h0m3 0h0m9 0h0m12 0h0m29 0h0m4 0h0m6 0h0m14 0h0m30 0h0m54 0h0m58 0h0m10 0h0m23 0h0m32 0h0m50 0h0m58 0h0m24 0h0m12 0h0m4 0h0m12 0h0m33 0h0m4 0h0m8 0h0m25 0h0m4 0h0m7 0h0m-613 1h0m3 0h0m23 0h0m8 0h0m60 0h0m17 0h0m41 0h0m132 0h0m24 0h0m3 0h0m4 0h0m28 0h0m27 0h0m6 0h0m7 0h0m3 0h0m5 0h0m88 0h0m17 0h0m45 0h0m-551 1h0m6 0h0m73 0h0m9 0h0m10 0h0m31 0h0m18 0h0m65 0h0m13 0h0m26 0h0m27 0h0m23 0h0m22 0h0m20 0h0m19 0h0m16 0h0m70 0h0m114 0h0m8 0h0m9 0h0m36 0h0m-573 1h0m8 0h0m5 0h0m38 0h0m18 0h0m9 0h0m8 0h0m48 0h0m9 0h0m1 0h0m7 0h0m13 0h0m7 0h0m52 0h0m2 0h0m1 0h0m8 0h0m18 0h0m39 0h0m11 0h0m6 0h0m4 0h0m8 0h0m31 0h0m2 0h0m42 0h0m3 0h0m18 0h0m12 0h0m11 0h0m11 0h0m12 0h0m63 0h0m1 0h0m35 0h0m-599 1h0m3 0h0m3 0h0m1 0h0m22 0h0m2 0h0m17 0h0m7 0h0m2 0h0m4 0h0m31 0h0m1 0h0m7 0h0m25 0h0m24 0h0m4 0h0m3 0h0m3 0h0m6 0h0m12 0h0m5 0h0m24 0h0m1 0h0m8 0h0m4 0h0m52 0h0m10 0h0m13 0h0m8 0h0m15 0h0m3 0h0m2 0h0m25 0h0m1 0h0m2 0h0m6 0h0m6 0h0m26 0h0m4 0h0m2 0h0m20 0h0m9 0h0m8 0h0m2 0h0m3 0h0m1 0h0m5 0h0m18 0h0m4 0h0m21 0h0m3 0h0m8 0h0m3 0h0m17 0h0m26 0h0m17 0h0m9 0h0m13 0h0m14 0h0m3 0h0m7 0h0m4 0h0m-613 1h0m16 0h0m2 0h0m5 0h0m2 0h0m2 0h0m1 0h0m1 0h0m1 0h0m2 0h0m18 0h0m1 0h0m1 0h0m2 0h0m18 0h0m6 0h0m1 0h0m16 0h0m26 0h0m7 0h0m20 0h0m6 0h0m2 0h0m14 0h0m6 0h0m11 0h0m1 0h0m3 0h0m2 0h0m3 0h0m1 0h0m2 0h0m9 0h0m4 0h0m7 0h0m2 0h0m33 0h0m10 0h0m11 0h0m14 0h0m1 0h0m2 0h0m6 0h0m30 0h0m17 0h0m19 0h0m17 0h0m1 0h0m4 0h0m1 0h0m3 0h0m2 0h0m1 0h0m3 0h0m3 0h0m41 0h0m4 0h0m5 0h0m15 0h0m4 0h0m2 0h0m8 0h0m4 0h0m6 0h0m4 0h0m9 0h0m14 0h0m23 0h0m8 0h0m9 0h0m2 0h0m3 0h0m7 0h0m10 0h0m1 0h0m37 0h0m-582 1h0m52 0h0m26 0h0m13 0h0m13 0h0m17 0h0m13 0h0m3 0h0m18 0h0m4 0h0m19 0h0m2 0h0m40 0h0m44 0h0m20 0h0m25 0h0m6 0h0m5 0h0m3 0h0m6 0h0m9 0h0m21 0h0m2 0h0m5 0h0m28 0h0m38 0h0m2 0h0m1 0h0m23 0h0m12 0h0m16 0h0m9 0h0m73 0h0m14 0h0m-606 1h0m4 0h0m30 0h0m22 0h0m13 0h0m46 0h0m30 0h0m2 0h0m34 0h0m25 0h0m38 0h0m9 0h0m51 0h0m11 0h0m23 0h0m5 0h0m1 0h0m2 0h0m38 0h0m5 0h0m22 0h0m3 0h0m3 0h0m15 0h0m8 0h0m10 0h0m42 0h0m13 0h0m6 0h0m33 0h0m37 0h0m1 0h0m-583 1h0m17 0h0m40 0h0m37 0h0m24 0h0m31 0h0m16 0h0m37 0h0m3 0h0m41 0h0m28 0h0m5 0h0m91 0h0m19 0h0m5 0h0m30 0h0m12 0h0m55 0h0m49 0h0m20 0h0m4 0h0m2 0h0m1 0h0m7 0h0m26 0h0m18 0h0m-608 1h0m7 0h0m3 0h0m14 0h0m2 0h0m33 0h0m5 0h0m35 0h0m4 0h0m30 0h0m26 0h0m6 0h0m7 0h0m28 0h0m8 0h0m29 0h0m4 0h0m15 0h0m43 0h0m3 0h0m1 0h0m6 0h0m31 0h0m7 0h0m16 0h0m44 0h0m19 0h0m15 0h0m62 0h0m60 0h0m9 0h0m-587 1h0m5 0h0m81 0h0m8 0h0m7 0h0m17 0h0m7 0h0m11 0h0m22 0h0m4 0h0m3 0h0m4 0h0m43 0h0m6 0h0m3 0h0m27 0h0m4 0h0m29 0h0m28 0h0m3 0h0m12 0h0m18 0h0m28 0h0m16 0h0m1 0h0m37 0h0m4 0h0m18 0h0m104 0h0m8 0h0m16 0h0m1 0h0m8 0h0m4 0h0m-574 1h0m1 0h0m11 0h0m64 0h0m80 0h0m46 0h0m32 0h0m1 0h0m8 0h0m23 0h0m3 0h0m19 0h0m5 0h0m6 0h0m8 0h0m1 0h0m2 0h0m3 0h0m15 0h0m46 0h0m7 0h0m35 0h0m15 0h0m2 0h0m16 0h0m24 0h0m11 0h0m40 0h0m3 0h0m8 0h0m1 0h0m2 0h0m6 0h0m7 0h0m7 0h0m5 0h0m15 0h0m1 0h0m8 0h0m1 0h0m16 0h0m2 0h0m-608 1h0m1 0h0m10 0h0m1 0h0m22 0h0m4 0h0m49 0h0m12 0h0m11 0h0m28 0h0m12 0h0m4 0h0m10 0h0m9 0h0m38 0h0m36 0h0m18 0h0m5 0h0m28 0h0m6 0h0m1 0h0m7 0h0m7 0h0m29 0h0m11 0h0m7 0h0m11 0h0m1 0h0m24 0h0m3 0h0m7 0h0m9 0h0m3 0h0m1 0h0m5 0h0m3 0h0m6 0h0m10 0h0m26 0h0m4 0h0m12 0h0m2 0h0m8 0h0m6 0h0m3 0h0m7 0h0m25 0h0m7 0h0m4 0h0m2 0h0m7 0h0m9 0h0m-572 1h0m4 0h0m2 0h0m4 0h0m5 0h0m11 0h0m21 0h0m23 0h0m3 0h0m2 0h0m2 0h0m3 0h0m3 0h0m3 0h0m13 0h0m24 0h0m12 0h0m1 0h0m3 0h0m1 0h0m7 0h0m9 0h0m13 0h0m1 0h0m11 0h0m2 0h0m12 0h0m2 0h0m19 0h0m27 0h0m3 0h0m5 0h0m18 0h0m3 0h0m35 0h0m2 0h0m35 0h0m10 0h0m12 0h0m1 0h0m15 0h0m4 0h0m3 0h0m4 0h0m2 0h0m7 0h0m4 0h0m19 0h0m9 0h0m2 0h0m4 0h0m2 0h0m12 0h0m8 0h0m16 0h0m15 0h0m8 0h0m28 0h0m2 0h0m13 0h0m7 0h0m10 0h0m5 0h0m3 0h0m3 0h0m23 0h0m13 0h0m-624 1h0m1 0h0m1 0h0m2 0h0m8 0h0m4 0h0m1 0h0m1 0h0m2 0h0m4 0h0m2 0h0m1 0h0m2 0h0m1 0h0m1 0h0m2 0h0m1 0h0m2 0h0m1 0h0m7 0h0m5 0h0m1 0h0m1 0h0m9 0h0m10 0h0m25 0h0m2 0h0m5 0h0m1 0h0m1 0h0m1 0h0m1 0h0m3 0h0m10 0h0m3 0h0m6 0h0m4 0h0m1 0h0m5 0h0m18 0h0m1 0h0m4 0h0m2 0h0m3 0h0m8 0h0m9 0h0m4 0h0m1 0h0m4 0h0m8 0h0m6 0h0m4 0h0m7 0h0m4 0h0m3 0h0m8 0h0m21 0h0m9 0h0m1 0h0m21 0h0m8 0h0m1 0h0m8 0h0m8 0h0m14 0h0m4 0h0m7 0h0m29 0h0m2 0h0m17 0h0m4 0h0m1 0h0m6 0h0m4 0h0m2 0h0m4 0h0m2 0h0m19 0h0m5 0h0m1 0h0m3 0h0m7 0h0m4 0h0m2 0h0m6 0h0m3 0h0m6 0h0m16 0h0m28 0h0m11 0h0m16 0h0m8 0h0m5 0h0m13 0h0m6 0h0m43 0h0m1 0h0m3 0h0m1 0h0m4 0h0m4 0h0m7 0h0m-628 1h0m1 0h0m13 0h0m1 0h0m8 0h0m3 0h0m4 0h0m1 0h0m1 0h0m6 0h0m9 0h0m1 0h0m5 0h0m4 0h0m5 0h0m13 0h0m1 0h0m3 0h0m1 0h0m7 0h0m2 0h0m9 0h0m7 0h0m1 0h0m5 0h0m4 0h0m9 0h0m22 0h0m1 0h0m5 0h0m1 0h0m3 0h0m2 0h0m2 0h0m1 0h0m6 0h0m2 0h0m1 0h0m15 0h0m5 0h0m5 0h0m3 0h0m3 0h0m5 0h0m8 0h0m2 0h0m3 0h0m4 0h0m1 0h0m1 0h0m3 0h0m29 0h0m2 0h0m1 0h0m2 0h0m7 0h0m3 0h0m2 0h0m5 0h0m1 0h0m6 0h0m1 0h0m7 0h0m16 0h0m5 0h0m6 0h0m1 0h0m2 0h0m4 0h0m2 0h0m2 0h0m2 0h0m1 0h0m5 0h0m8 0h0m18 0h0m1 0h0m2 0h0m6 0h0m7 0h0m2 0h0m2 0h0m4 0h0m3 0h0m2 0h0m12 0h0m14 0h0m9 0h0m9 0h0m1 0h0m1 0h0m4 0h0m2 0h0m1 0h0m2 0h0m7 0h0m4 0h0m2 0h0m9 0h0m12 0h0m24 0h0m20 0h0m14 0h0m13 0h0m18 0h0m2 0h0m8 0h0m4 0h0m8 0h0m2 0h0m11 0h0m10 0h0m7 0h0m-608 1h0m4 0h0m1 0h0m12 0h0m12 0h0m24 0h0m17 0h0m21 0h0m18 0h0m30 0h0m4 0h0m2 0h0m1 0h0m1 0h0m7 0h0m4 0h0m2 0h0m10 0h0m5 0h0m1 0h0m68 0h0m2 0h0m4 0h0m16 0h0m3 0h0m1 0h0m6 0h0m23 0h0m9 0h0m3 0h0m1 0h0m6 0h0m8 0h0m2 0h0m2 0h0m24 0h0m1 0h0m6 0h0m10 0h0m3 0h0m7 0h0m4 0h0m5 0h0m14 0h0m18 0h0m1 0h0m3 0h0m10 0h0m6 0h0m26 0h0m3 0h0m7 0h0m14 0h0m6 0h0m2 0h0m38 0h0m1 0h0m11 0h0m2 0h0m2 0h0m1 0h0m20 0h0m12 0h0m22 0h0m-625 1h0m12 0h0m3 0h0m1 0h0m2 0h0m2 0h0m4 0h0m1 0h0m4 0h0m3 0h0m15 0h0m4 0h0m18 0h0m25 0h0m12 0h0m2 0h0m2 0h0m13 0h0m1 0h0m3 0h0m2 0h0m2 0h0m2 0h0m28 0h0m1 0h0m6 0h0m14 0h0m6 0h0m5 0h0m12 0h0m8 0h0m2 0h0m9 0h0m38 0h0m3 0h0m5 0h0m20 0h0m26 0h0m5 0h0m11 0h0m20 0h0m24 0h0m3 0h0m8 0h0m2 0h0m3 0h0m1 0h0m7 0h0m2 0h0m2 0h0m1 0h0m35 0h0m5 0h0m3 0h0m5 0h0m4 0h0m31 0h0m1 0h0m1 0h0m3 0h0m16 0h0m12 0h0m5 0h0m23 0h0m20 0h0m2 0h0m1 0h0m2 0h0m2 0h0m4 0h0m22 0h0m4 0h0m-599 1h0m14 0h0m1 0h0m2 0h0m5 0h0m1 0h0m2 0h0m4 0h0m12 0h0m3 0h0m16 0h0m6 0h0m24 0h0m36 0h0m21 0h0m25 0h0m5 0h0m1 0h0m1 0h0m21 0h0m13 0h0m3 0h0m41 0h0m8 0h0m4 0h0m8 0h0m1 0h0m3 0h0m32 0h0m26 0h0m3 0h0m10 0h0m23 0h0m4 0h0m2 0h0m22 0h0m1 0h0m23 0h0m1 0h0m21 0h0m3 0h0m3 0h0m13 0h0m22 0h0m41 0h0m18 0h0m2 0h0m-548 1h0m6 0h0m1 0h0m3 0h0m2 0h0m3 0h0m1 0h0m5 0h0m3 0h0m2 0h0m5 0h0m4 0h0m4 0h0m7 0h0m2 0h0m2 0h0m9 0h0m10 0h0m11 0h0m3 0h0m6 0h0m1 0h0m6 0h0m5 0h0m10 0h0m9 0h0m3 0h0m15 0h0m11 0h0m3 0h0m1 0h0m2 0h0m6 0h0m14 0h0m8 0h0m20 0h0m2 0h0m1 0h0m6 0h0m1 0h0m6 0h0m27 0h0m32 0h0m1 0h0m1 0h0m2 0h0m20 0h0m12 0h0m26 0h0m5 0h0m9 0h0m10 0h0m1 0h0m12 0h0m7 0h0m4 0h0m36 0h0m44 0h0m6 0h0m2 0h0m9 0h0m4 0h0m17 0h0m8 0h0m20 0h0m16 0h0m4 0h0m10 0h0m21 0h0m5 0h0m-595 1h0m7 0h0m2 0h0m3 0h0m1 0h0m2 0h0m2 0h0m7 0h0m1 0h0m1 0h0m15 0h0m6 0h0m11 0h0m8 0h0m3 0h0m11 0h0m1 0h0m2 0h0m5 0h0m4 0h0m3 0h0m1 0h0m16 0h0m7 0h0m1 0h0m4 0h0m3 0h0m2 0h0m9 0h0m1 0h0m10 0h0m1 0h0m4 0h0m1 0h0m2 0h0m8 0h0m7 0h0m7 0h0m5 0h0m1 0h0m1 0h0m3 0h0m5 0h0m6 0h0m4 0h0m5 0h0m10 0h0m3 0h0m1 0h0m33 0h0m4 0h0m5 0h0m11 0h0m19 0h0m14 0h0m2 0h0m10 0h0m5 0h0m7 0h0m8 0h0m5 0h0m4 0h0m2 0h0m13 0h0m5 0h0m3 0h0m2 0h0m3 0h0m3 0h0m5 0h0m2 0h0m6 0h0m5 0h0m1 0h0m10 0h0m11 0h0m2 0h0m3 0h0m1 0h0m3 0h0m1 0h0m1 0h0m1 0h0m1 0h0m2 0h0m1 0h0m2 0h0m5 0h0m2 0h0m1 0h0m4 0h0m2 0h0m34 0h0m5 0h0m6 0h0m37 0h0m12 0h0m8 0h0m8 0h0m2 0h0m1 0h0m3 0h0m32 0h0m-606 1h0m6 0h0m5 0h0m1 0h0m8 0h0m2 0h0m3 0h0m2 0h0m3 0h0m3 0h0m7 0h0m6 0h0m4 0h0m11 0h0m5 0h0m7 0h0m14 0h0m4 0h0m11 0h0m3 0h0m11 0h0m7 0h0m2 0h0m11 0h0m18 0h0m1 0h0m5 0h0m18 0h0m8 0h0m5 0h0m12 0h0m11 0h0m8 0h0m5 0h0m4 0h0m26 0h0m14 0h0m3 0h0m2 0h0m18 0h0m18 0h0m8 0h0m14 0h0m1 0h0m17 0h0m3 0h0m6 0h0m10 0h0m2 0h0m8 0h0m7 0h0m8 0h0m12 0h0m27 0h0m10 0h0m17 0h0m5 0h0m26 0h0m17 0h0m30 0h0m1 0h0m4 0h0m13 0h0m5 0h0m6 0h0m2 0h0m13 0h0m3 0h0m5 0h0m7 0h0m19 0h0m-619 1h0m15 0h0m10 0h0m5 0h0m3 0h0m15 0h0m2 0h0m50 0h0m5 0h0m8 0h0m11 0h0m10 0h0m3 0h0m1 0h0m12 0h0m3 0h0m5 0h0m10 0h0m17 0h0m27 0h0m11 0h0m1 0h0m31 0h0m16 0h0m3 0h0m18 0h0m3 0h0m1 0h0m1 0h0m10 0h0m10 0h0m6 0h0m1 0h0m35 0h0m9 0h0m1 0h0m2 0h0m21 0h0m22 0h0m17 0h0m10 0h0m13 0h0m15 0h0m8 0h0m11 0h0m24 0h0m9 0h0m90 0h0m17 0h0m-376 3h0m1 0h0m-18 1h0m-237 2h0m253 0h0m1 0h0m-254 1h0m237 0h0m1 0h0m-239 1h0m634 0h0m-379 2h0m1 0h0m-253 2h0m236 4h0m395 0h0m-379 1h0m379 0h0m-1 3h0m1 1h0m-1 1h0m-393 1h0m16 0h0m377 0h0m-394 3h0m0 1h0m17 0h0m-255 4h0m255 0h0m-255 1h0m255 0h0m-254 1h0m632 1h0m-379 2h0m378 0h0m-394 1h0m0 2h0m-238 1h0m252 0h0m-14 1h0m17 0h0m-18 2h0m395 0h0m-395 1h0m395 0h0m1 0h0m-4 1h0m-629 1h0m254 1h0m378 0h0m-378 1h0m380 2h0m-396 1h0m-239 1h0m238 0h0m397 0h0m-398 1h0m-237 2h0m1 0h0m1 0h0m253 3h0m-17 3h0m17 0h0m378 0h0m-393 3h0m-1 2h0m-238 1h0m1 0h0m237 1h0m15 1h0m379 2h0m2 1h0m-379 1h0m377 0h0m-376 1h0m374 1h0m3 1h0m-634 1h0m634 0h0m-633 1h0m238 4h0m17 0h0m-256 1h0m1 0h0m238 0h0m-1 1h0m-237 1h0m634 1h0m-634 2h0m1 0h0m-1 1h0m237 2h0m397 0h0m-396 2h0m-239 1h0m255 0h0m-15 1h0m16 0h0m-18 1h0m16 2h0m381 0h0m-379 1h0m-255 1h0m237 1h0m1 0h0m0 1h0m-1 2h0m395 0h0m-631 4h0m253 0h0m379 0h0m-397 1h0m1 0h0m17 0h0m379 0h0m-380 1h0m-252 1h0m238 0h0m393 0h0m-394 2h0m16 1h0m379 1h0m-633 1h0m-1 1h0m634 0h0m-633 1h0m254 0h0m-253 1h0m253 4h0m1 1h0m-254 2h0m253 0h0m0 1h0m378 0h0m1 0h0m-634 3h0m0 1h0m255 0h0m-254 1h0m255 0h0m379 1h0m-2 2h0m-395 2h0m2 0h0m-2 2h0m1 0h0m393 0h0m2 0h0m-632 1h0m254 0h0m-19 2h0m2 0h0m394 1h0m2 1h0m-633 2h0m238 0h0m394 0h0m1 0h0m-397 3h0m-237 1h0m634 3h0m-397 1h0m18 1h0m377 0h0m-631 1h0m631 0h0m-632 1h0m-1 1h0m2 0h0m-1 1h0m236 1h0m19 0h0m1 1h0m-18 2h0m1 1h0m394 0h0m2 0h0m-635 1h0m1 0h0m-3 2h0m4 1h0m251 0h0m1 1h0m-253 1h0m-1 2h0m633 0h0m-1 2h0m-395 1h0m19 0h0m-255 2h0m166 0h0m87 0h0m-247 1h0m12 0h0m10 0h0m34 0h0m1 0h0m11 0h0m5 0h0m5 0h0m1 0h0m11 0h0m3 0h0m2 0h0m4 0h0m41 0h0m20 0h0m26 0h0m33 0h0m49 0h0m15 0h0m34 0h0m5 0h0m2 0h0m10 0h0m11 0h0m33 0h0m1 0h0m15 0h0m8 0h0m4 0h0m1 0h0m3 0h0m3 0h0m9 0h0m15 0h0m8 0h0m31 0h0m3 0h0m27 0h0m1 0h0m3 0h0m23 0h0m49 0h0m6 0h0m21 0h0m11 0h0m-614 1h0m5 0h0m6 0h0m11 0h0m4 0h0m18 0h0m5 0h0m3 0h0m2 0h0m5 0h0m6 0h0m9 0h0m5 0h0m1 0h0m1 0h0m3 0h0m16 0h0m2 0h0m3 0h0m3 0h0m12 0h0m6 0h0m11 0h0m1 0h0m1 0h0m2 0h0m5 0h0m2 0h0m3 0h0m7 0h0m3 0h0m2 0h0m1 0h0m18 0h0m5 0h0m7 0h0m21 0h0m1 0h0m37 0h0m2 0h0m36 0h0m13 0h0m7 0h0m12 0h0m10 0h0m1 0h0m3 0h0m2 0h0m1 0h0m1 0h0m9 0h0m20 0h0m9 0h0m2 0h0m3 0h0m17 0h0m2 0h0m4 0h0m5 0h0m16 0h0m1 0h0m2 0h0m4 0h0m5 0h0m6 0h0m3 0h0m7 0h0m1 0h0m1 0h0m3 0h0m1 0h0m1 0h0m16 0h0m3 0h0m2 0h0m6 0h0m3 0h0m5 0h0m5 0h0m5 0h0m4 0h0m19 0h0m5 0h0m2 0h0m29 0h0m2 0h0m12 0h0m6 0h0m12 0h0m4 0h0m3 0h0m8 0h0m-622 1h0m3 0h0m3 0h0m4 0h0m1 0h0m19 0h0m1 0h0m31 0h0m2 0h0m12 0h0m1 0h0m4 0h0m3 0h0m9 0h0m2 0h0m3 0h0m5 0h0m2 0h0m4 0h0m2 0h0m2 0h0m1 0h0m13 0h0m7 0h0m3 0h0m1 0h0m7 0h0m7 0h0m10 0h0m2 0h0m5 0h0m1 0h0m12 0h0m2 0h0m3 0h0m4 0h0m9 0h0m3 0h0m1 0h0m4 0h0m3 0h0m8 0h0m6 0h0m1 0h0m27 0h0m1 0h0m3 0h0m5 0h0m16 0h0m1 0h0m1 0h0m11 0h0m7 0h0m1 0h0m9 0h0m1 0h0m4 0h0m5 0h0m4 0h0m12 0h0m4 0h0m7 0h0m13 0h0m26 0h0m3 0h0m22 0h0m3 0h0m3 0h0m1 0h0m3 0h0m5 0h0m9 0h0m4 0h0m5 0h0m3 0h0m15 0h0m10 0h0m4 0h0m1 0h0m7 0h0m8 0h0m17 0h0m8 0h0m29 0h0m1 0h0m5 0h0m48 0h0m6 0h0m12 0h0m-618 1h0m15 0h0m12 0h0m16 0h0m25 0h0m2 0h0m6 0h0m4 0h0m2 0h0m2 0h0m8 0h0m3 0h0m6 0h0m3 0h0m2 0h0m26 0h0m8 0h0m4 0h0m8 0h0m1 0h0m3 0h0m13 0h0m2 0h0m2 0h0m4 0h0m3 0h0m2 0h0m5 0h0m2 0h0m6 0h0m9 0h0m2 0h0m1 0h0m1 0h0m13 0h0m2 0h0m3 0h0m29 0h0m3 0h0m5 0h0m3 0h0m22 0h0m26 0h0m19 0h0m6 0h0m4 0h0m1 0h0m65 0h0m4 0h0m1 0h0m24 0h0m5 0h0m1 0h0m3 0h0m1 0h0m5 0h0m2 0h0m4 0h0m1 0h0m5 0h0m3 0h0m15 0h0m11 0h0m1 0h0m5 0h0m22 0h0m7 0h0m2 0h0m1 0h0m1 0h0m1 0h0m15 0h0m25 0h0m5 0h0m2 0h0m8 0h0m20 0h0m3 0h0m3 0h0m3 0h0m2 0h0m1 0h0m-622 1h0m6 0h0m15 0h0m19 0h0m15 0h0m26 0h0m8 0h0m5 0h0m3 0h0m47 0h0m3 0h0m7 0h0m5 0h0m12 0h0m6 0h0m17 0h0m2 0h0m30 0h0m3 0h0m1 0h0m4 0h0m20 0h0m12 0h0m6 0h0m1 0h0m29 0h0m5 0h0m22 0h0m25 0h0m18 0h0m13 0h0m2 0h0m3 0h0m53 0h0m3 0h0m1 0h0m1 0h0m7 0h0m1 0h0m5 0h0m11 0h0m51 0h0m13 0h0m6 0h0m5 0h0m1 0h0m11 0h0m24 0h0m3 0h0m10 0h0m2 0h0m21 0h0m4 0h0m1 0h0m2 0h0m-627 1h0m1 0h0m9 0h0m4 0h0m2 0h0m4 0h0m3 0h0m36 0h0m5 0h0m2 0h0m9 0h0m3 0h0m2 0h0m4 0h0m12 0h0m1 0h0m23 0h0m1 0h0m14 0h0m1 0h0m2 0h0m4 0h0m2 0h0m2 0h0m1 0h0m1 0h0m3 0h0m1 0h0m4 0h0m2 0h0m6 0h0m3 0h0m6 0h0m4 0h0m21 0h0m17 0h0m16 0h0m32 0h0m6 0h0m16 0h0m8 0h0m28 0h0m2 0h0m11 0h0m3 0h0m13 0h0m38 0h0m27 0h0m18 0h0m15 0h0m2 0h0m3 0h0m4 0h0m1 0h0m10 0h0m3 0h0m1 0h0m55 0h0m7 0h0m13 0h0m1 0h0m11 0h0m22 0h0m7 0h0m7 0h0m28 0h0m-618 1h0m7 0h0m8 0h0m3 0h0m3 0h0m2 0h0m13 0h0m23 0h0m4 0h0m13 0h0m15 0h0m9 0h0m24 0h0m9 0h0m7 0h0m6 0h0m6 0h0m1 0h0m9 0h0m2 0h0m2 0h0m27 0h0m3 0h0m1 0h0m8 0h0m12 0h0m3 0h0m2 0h0m2 0h0m41 0h0m2 0h0m28 0h0m49 0h0m33 0h0m9 0h0m3 0h0m8 0h0m11 0h0m4 0h0m1 0h0m20 0h0m1 0h0m3 0h0m1 0h0m5 0h0m8 0h0m1 0h0m3 0h0m6 0h0m28 0h0m9 0h0m7 0h0m3 0h0m39 0h0m33 0h0m9 0h0m1 0h0m11 0h0m-603 1h0m5 0h0m3 0h0m5 0h0m3 0h0m5 0h0m19 0h0m8 0h0m5 0h0m6 0h0m2 0h0m2 0h0m3 0h0m1 0h0m2 0h0m1 0h0m10 0h0m2 0h0m3 0h0m2 0h0m3 0h0m1 0h0m1 0h0m1 0h0m23 0h0m21 0h0m8 0h0m1 0h0m5 0h0m5 0h0m15 0h0m1 0h0m2 0h0m3 0h0m9 0h0m12 0h0m24 0h0m1 0h0m4 0h0m2 0h0m31 0h0m1 0h0m2 0h0m7 0h0m5 0h0m4 0h0m1 0h0m9 0h0m5 0h0m2 0h0m6 0h0m8 0h0m18 0h0m5 0h0m7 0h0m2 0h0m1 0h0m2 0h0m5 0h0m6 0h0m10 0h0m35 0h0m3 0h0m2 0h0m7 0h0m9 0h0m5 0h0m1 0h0m10 0h0m2 0h0m3 0h0m3 0h0m1 0h0m1 0h0m4 0h0m2 0h0m7 0h0m6 0h0m1 0h0m10 0h0m10 0h0m4 0h0m4 0h0m1 0h0m6 0h0m1 0h0m2 0h0m3 0h0m3 0h0m1 0h0m16 0h0m2 0h0m15 0h0m5 0h0m4 0h0m29 0h0m2 0h0m6 0h0m4 0h0m8 0h0m4 0h0m1 0h0m6 0h0m2 0h0m2 0h0m4 0h0m-610 1h0m7 0h0m1 0h0m19 0h0m6 0h0m17 0h0m2 0h0m8 0h0m9 0h0m1 0h0m3 0h0m6 0h0m2 0h0m6 0h0m1 0h0m1 0h0m3 0h0m7 0h0m8 0h0m4 0h0m9 0h0m10 0h0m6 0h0m4 0h0m2 0h0m1 0h0m1 0h0m6 0h0m7 0h0m4 0h0m1 0h0m1 0h0m1 0h0m19 0h0m3 0h0m13 0h0m10 0h0m1 0h0m31 0h0m1 0h0m1 0h0m1 0h0m15 0h0m8 0h0m14 0h0m5 0h0m2 0h0m34 0h0m1 0h0m8 0h0m1 0h0m5 0h0m10 0h0m2 0h0m21 0h0m1 0h0m5 0h0m13 0h0m1 0h0m2 0h0m2 0h0m1 0h0m5 0h0m2 0h0m5 0h0m2 0h0m4 0h0m3 0h0m4 0h0m7 0h0m1 0h0m4 0h0m3 0h0m1 0h0m2 0h0m6 0h0m2 0h0m1 0h0m12 0h0m3 0h0m4 0h0m2 0h0m21 0h0m3 0h0m6 0h0m4 0h0m1 0h0m6 0h0m2 0h0m2 0h0m3 0h0m2 0h0m1 0h0m11 0h0m3 0h0m32 0h0m3 0h0m3 0h0m2 0h0m3 0h0m5 0h0m3 0h0m4 0h0m2 0h0m8 0h0m8 0h0m-617 1h0m5 0h0m9 0h0m5 0h0m13 0h0m26 0h0m11 0h0m20 0h0m2 0h0m1 0h0m4 0h0m5 0h0m28 0h0m10 0h0m11 0h0m16 0h0m9 0h0m4 0h0m5 0h0m3 0h0m62 0h0m3 0h0m1 0h0m2 0h0m6 0h0m1 0h0m1 0h0m9 0h0m4 0h0m32 0h0m1 0h0m6 0h0m3 0h0m1 0h0m11 0h0m1 0h0m3 0h0m3 0h0m5 0h0m31 0h0m4 0h0m11 0h0m7 0h0m13 0h0m1 0h0m3 0h0m2 0h0m4 0h0m15 0h0m4 0h0m1 0h0m4 0h0m6 0h0m1 0h0m11 0h0m6 0h0m1 0h0m3 0h0m2 0h0m1 0h0m1 0h0m1 0h0m20 0h0m7 0h0m6 0h0m7 0h0m13 0h0m14 0h0m8 0h0m8 0h0m22 0h0m9 0h0m3 0h0m-593 1h0m51 0h0m5 0h0m1 0h0m5 0h0m8 0h0m22 0h0m1 0h0m23 0h0m1 0h0m10 0h0m16 0h0m6 0h0m3 0h0m1 0h0m1 0h0m10 0h0m7 0h0m43 0h0m40 0h0m2 0h0m7 0h0m6 0h0m5 0h0m4 0h0m5 0h0m23 0h0m3 0h0m11 0h0m8 0h0m9 0h0m7 0h0m11 0h0m34 0h0m1 0h0m1 0h0m1 0h0m10 0h0m10 0h0m3 0h0m3 0h0m7 0h0m1 0h0m15 0h0m3 0h0m2 0h0m12 0h0m17 0h0m2 0h0m2 0h0m15 0h0m6 0h0m5 0h0m2 0h0m4 0h0m4 0h0m1 0h0m12 0h0m53 0h0m5 0h0m3 0h0m8 0h0m1 0h0m7 0h0m4 0h0m1 0h0m11 0h0m-611 1h0m5 0h0m1 0h0m20 0h0m18 0h0m11 0h0m5 0h0m20 0h0m3 0h0m5 0h0m3 0h0m5 0h0m6 0h0m2 0h0m1 0h0m11 0h0m16 0h0m3 0h0m1 0h0m4 0h0m14 0h0m2 0h0m2 0h0m21 0h0m7 0h0m8 0h0m10 0h0m3 0h0m14 0h0m35 0h0m19 0h0m1 0h0m9 0h0m8 0h0m11 0h0m6 0h0m4 0h0m90 0h0m9 0h0m16 0h0m5 0h0m5 0h0m3 0h0m14 0h0m3 0h0m3 0h0m3 0h0m4 0h0m1 0h0m16 0h0m3 0h0m8 0h0m11 0h0m6 0h0m44 0h0m19 0h0m14 0h0m3 0h0m3 0h0m7 0h0m7 0h0m-617 1h0m10 0h0m7 0h0m2 0h0m2 0h0m12 0h0m24 0h0m13 0h0m32 0h0m15 0h0m14 0h0m13 0h0m36 0h0m4 0h0m1 0h0m10 0h0m54 0h0m39 0h0m17 0h0m37 0h0m38 0h0m1 0h0m1 0h0m13 0h0m10 0h0m28 0h0m5 0h0m14 0h0m59 0h0m30 0h0m9 0h0m30 0h0m2 0h0m17 0h0m3 0h0m13 0h0m6 0h0m-624 1h0m2 0h0m17 0h0m19 0h0m4 0h0m5 0h0m10 0h0m4 0h0m1 0h0m1 0h0m1 0h0m2 0h0m7 0h0m2 0h0m2 0h0m4 0h0m6 0h0m6 0h0m5 0h0m4 0h0m5 0h0m2 0h0m12 0h0m4 0h0m4 0h0m2 0h0m3 0h0m9 0h0m2 0h0m12 0h0m11 0h0m1 0h0m4 0h0m1 0h0m20 0h0m13 0h0m9 0h0m1 0h0m3 0h0m5 0h0m2 0h0m37 0h0m5 0h0m22 0h0m23 0h0m3 0h0m3 0h0m2 0h0m2 0h0m12 0h0m7 0h0m11 0h0m3 0h0m6 0h0m6 0h0m12 0h0m6 0h0m5 0h0m3 0h0m1 0h0m3 0h0m1 0h0m3 0h0m4 0h0m1 0h0m7 0h0m16 0h0m1 0h0m4 0h0m5 0h0m1 0h0m1 0h0m5 0h0m1 0h0m5 0h0m8 0h0m12 0h0m7 0h0m8 0h0m2 0h0m3 0h0m14 0h0m18 0h0m2 0h0m2 0h0m25 0h0m1 0h0m10 0h0m11 0h0m2 0h0m1 0h0m4 0h0m8 0h0m1 0h0m1 0h0m10 0h0m7 0h0m6 0h0m1 0h0m2 0h0m-621 1h0m3 0h0m4 0h0m2 0h0m5 0h0m3 0h0m8 0h0m1 0h0m4 0h0m4 0h0m26 0h0m2 0h0m1 0h0m2 0h0m1 0h0m3 0h0m1 0h0m4 0h0m12 0h0m3 0h0m1 0h0m3 0h0m1 0h0m13 0h0m7 0h0m2 0h0m18 0h0m6 0h0m31 0h0m3 0h0m10 0h0m10 0h0m14 0h0m2 0h0m9 0h0m1 0h0m3 0h0m2 0h0m36 0h0m2 0h0m7 0h0m5 0h0m11 0h0m5 0h0m7 0h0m9 0h0m11 0h0m4 0h0m4 0h0m13 0h0m8 0h0m5 0h0m3 0h0m14 0h0m16 0h0m9 0h0m20 0h0m4 0h0m16 0h0m6 0h0m3 0h0m4 0h0m1 0h0m2 0h0m20 0h0m16 0h0m11 0h0m3 0h0m4 0h0m13 0h0m7 0h0m2 0h0m9 0h0m3 0h0m2 0h0m2 0h0m8 0h0m6 0h0m12 0h0m10 0h0m6 0h0m4 0h0m5 0h0m4 0h0m9 0h0m17 0h0m-618 1h0m2 0h0m25 0h0m53 0h0m17 0h0m22 0h0m18 0h0m7 0h0m39 0h0m12 0h0m53 0h0m13 0h0m45 0h0m1 0h0m9 0h0m30 0h0m3 0h0m10 0h0m8 0h0m19 0h0m17 0h0m11 0h0m10 0h0m5 0h0m2 0h0m2 0h0m4 0h0m1 0h0m1 0h0m36 0h0m1 0h0m22 0h0m12 0h0m2 0h0m2 0h0m61 0h0m-565 1h0m7 0h0m8 0h0m62 0h0m3 0h0m3 0h0m2 0h0m34 0h0m6 0h0m17 0h0m24 0h0m79 0h0m8 0h0m2 0h0m20 0h0m3 0h0m33 0h0m17 0h0m11 0h0m18 0h0m17 0h0m1 0h0m2 0h0m17 0h0m5 0h0m1 0h0m9 0h0m15 0h0m6 0h0m9 0h0m1 0h0m6 0h0m5 0h0m19 0h0m21 0h0m2 0h0m17 0h0m1 0h0m8 0h0m55 0h0m6 0h0m7 0h0m10 0h0m4 0h0m2 0h0m-594 1h0m1 0h0m32 0h0m29 0h0m9 0h0m35 0h0m1 0h0m13 0h0m3 0h0m31 0h0m5 0h0m15 0h0m17 0h0m67 0h0m18 0h0m30 0h0m17 0h0m25 0h0m1 0h0m3 0h0m2 0h0m1 0h0m43 0h0m9 0h0m2 0h0m33 0h0m4 0h0m6 0h0m32 0h0m17 0h0m10 0h0m3 0h0m5 0h0m8 0h0m39 0h0m28 0h0m-611 1h0m55 0h0m4 0h0m8 0h0m20 0h0m17 0h0m11 0h0m24 0h0m25 0h0m2 0h0m27 0h0m16 0h0m11 0h0m36 0h0m12 0h0m14 0h0m42 0h0m13 0h0m14 0h0m39 0h0m28 0h0m3 0h0m2 0h0m7 0h0m3 0h0m5 0h0m23 0h0m17 0h0m6 0h0m10 0h0m8 0h0m18 0h0m2 0h0m3 0h0m56 0h0m14 0h0m17 0h0m2 0h0m-611 1h0m1 0h0m52 0h0m11 0h0m8 0h0m7 0h0m3 0h0m38 0h0m22 0h0m67 0h0m4 0h0m34 0h0m40 0h0m35 0h0m56 0h0m36 0h0m14 0h0m8 0h0m10 0h0m4 0h0m52 0h0m16 0h0m22 0h0m28 0h0m17 0h0m24 0h0m7 0h0m-600 1h0m3 0h0m38 0h0m19 0h0m3 0h0m33 0h0m8 0h0m1 0h0m22 0h0m8 0h0m7 0h0m90 0h0m4 0h0m4 0h0m5 0h0m11 0h0m12 0h0m42 0h0m44 0h0m49 0h0m1 0h0m7 0h0m1 0h0m13 0h0m1 0h0m5 0h0m1 0h0m1 0h0m72 0h0m29 0h0m18 0h0m14 0h0m10 0h0m12 0h0m2 0h0m-613 1h0m20 0h0m1 0h0m11 0h0m36 0h0m16 0h0m5 0h0m7 0h0m1 0h0m6 0h0m26 0h0m13 0h0m25 0h0m5 0h0m43 0h0m47 0h0m50 0h0m1 0h0m1 0h0m4 0h0m1 0h0m81 0h0m5 0h0m6 0h0m3 0h0m14 0h0m12 0h0m10 0h0m13 0h0m1 0h0m29 0h0m16 0h0m4 0h0m57 0h0m1 0h0m43 0h0m-613 1h0m9 0h0m23 0h0m26 0h0m2 0h0m11 0h0m5 0h0m3 0h0m10 0h0m11 0h0m16 0h0m27 0h0m14 0h0m13 0h0m10 0h0m18 0h0m11 0h0m75 0h0m22 0h0m11 0h0m3 0h0m18 0h0m27 0h0m4 0h0m23 0h0m7 0h0m2 0h0m9 0h0m1 0h0m15 0h0m7 0h0m23 0h0m12 0h0m3 0h0m8 0h0m32 0h0m12 0h0m53 0h0m16 0h0m13 0h0m4 0h0m-615 1h0m9 0h0m1 0h0m2 0h0m28 0h0m1 0h0m18 0h0m22 0h0m2 0h0m9 0h0m4 0h0m5 0h0m11 0h0m4 0h0m27 0h0m5 0h0m7 0h0m8 0h0m1 0h0m25 0h0m19 0h0m6 0h0m2 0h0m7 0h0m32 0h0m1 0h0m1 0h0m8 0h0m21 0h0m4 0h0m10 0h0m5 0h0m5 0h0m24 0h0m2 0h0m15 0h0m11 0h0m6 0h0m2 0h0m1 0h0m18 0h0m2 0h0m1 0h0m2 0h0m10 0h0m2 0h0m6 0h0m3 0h0m19 0h0m1 0h0m4 0h0m4 0h0m1 0h0m3 0h0m1 0h0m1 0h0m2 0h0m2 0h0m6 0h0m12 0h0m2 0h0m4 0h0m40 0h0m3 0h0m5 0h0m4 0h0m16 0h0m5 0h0m9 0h0m18 0h0m16 0h0m5 0h0m2 0h0m6 0h0m13 0h0m-598 1h0m3 0h0m1 0h0m1 0h0m4 0h0m5 0h0m4 0h0m1 0h0m9 0h0m16 0h0m5 0h0m10 0h0m5 0h0m1 0h0m3 0h0m4 0h0m3 0h0m7 0h0m1 0h0m1 0h0m8 0h0m2 0h0m9 0h0m3 0h0m32 0h0m6 0h0m5 0h0m5 0h0m8 0h0m1 0h0m8 0h0m15 0h0m4 0h0m8 0h0m5 0h0m30 0h0m4 0h0m7 0h0m7 0h0m10 0h0m6 0h0m28 0h0m12 0h0m30 0h0m3 0h0m12 0h0m1 0h0m7 0h0m2 0h0m32 0h0m2 0h0m7 0h0m9 0h0m13 0h0m1 0h0m1 0h0m7 0h0m1 0h0m7 0h0m4 0h0m38 0h0m6 0h0m1 0h0m33 0h0m30 0h0m17 0h0m3 0h0m20 0h0m3 0h0m-609 1h0m14 0h0m5 0h0m9 0h0m3 0h0m24 0h0m5 0h0m14 0h0m6 0h0m66 0h0m3 0h0m1 0h0m35 0h0m76 0h0m14 0h0m1 0h0m96 0h0m12 0h0m83 0h0m15 0h0m3 0h0m14 0h0m4 0h0m20 0h0m42 0h0m33 0h0m20 0h0m-611 1h0m10 0h0m39 0h0m15 0h0m43 0h0m7 0h0m11 0h0m11 0h0m5 0h0m5 0h0m8 0h0m8 0h0m42 0h0m8 0h0m156 0h0m5 0h0m8 0h0m128 0h0m7 0h0m42 0h0m27 0h0m8 0h0m7 0h0m3 0h0m-604 1h0m2 0h0m49 0h0m8 0h0m25 0h0m12 0h0m54 0h0m34 0h0m99 0h0m41 0h0m38 0h0m51 0h0m18 0h0m49 0h0m43 0h0m2 0h0m2 0h0m10 0h0m25 0h0m26 0h0m10 0h0m3 0h0m9 0h0m-611 1h0m22 0h0m4 0h0m28 0h0m20 0h0m25 0h0m5 0h0m11 0h0m13 0h0m30 0h0m36 0h0m17 0h0m53 0h0m5 0h0m10 0h0m25 0h0m35 0h0m9 0h0m5 0h0m70 0h0m6 0h0m6 0h0m6 0h0m3 0h0m23 0h0m7 0h0m10 0h0m6 0h0m4 0h0m6 0h0m39 0h0m73 0h0m1 0h0m-616 1h0m9 0h0m46 0h0m29 0h0m34 0h0m2 0h0m15 0h0m39 0h0m137 0h0m42 0h0m17 0h0m22 0h0m6 0h0m16 0h0m7 0h0m14 0h0m18 0h0m4 0h0m3 0h0m1 0h0m75 0h0m28 0h0m5 0h0m14 0h0m1 0h0m22 0h0m-605 1h0m83 0h0m7 0h0m53 0h0m12 0h0m26 0h0m70 0h0m49 0h0m11 0h0m29 0h0m69 0h0m9 0h0m10 0h0m16 0h0m3 0h0m18 0h0m20 0h0m16 0h0m29 0h0m4 0h0m33 0h0m8 0h0m18 0h0m-545 1h0m20 0h0m30 0h0m33 0h0m18 0h0m7 0h0m5 0h0m19 0h0m22 0h0m11 0h0m32 0h0m129 0h0m9 0h0m63 0h0m3 0h0m22 0h0m61 0h0m38 0h0m16 0h0m-430 1h0m13 0h0m73 0h0m2 0h0m105 0h0m34 0h0m6 0h0m40 0h0m3 0h0m1 0h0m3 0h0m2 0h0m15 0h0m12 0h0m2 0h0m6 0h0m23 0h0m14 0h0m11 0h0m77 0h0m4 0h0m9 0h0m-557 1h0m91 0h0m12 0h0m126 0h0m7 0h0m53 0h0m34 0h0m16 0h0m4 0h0m3 0h0m58 0h0m2 0h0m2 0h0m4 0h0m69 0h0m36 0h0m4 0h0m7 0h0m12 0h0m-593 1h0m177 0h0m17 0h0m63 0h0m74 0h0m29 0h0m66 0h0m3 0h0m14 0h0m35 0h0m53 0h0m32 0h0m-570 1h0m65 0h0m3 0h0m2 0h0m16 0h0m5 0h0m31 0h0m10 0h0m3 0h0m5 0h0m11 0h0m53 0h0m65 0h0m1 0h0m71 0h0m47 0h0m27 0h0m30 0h0m3 0h0m1 0h0m1 0h0m1 0h0m15 0h0m8 0h0m49 0h0m18 0h0m12 0h0m55 0h0m4 0h0m-619 1h0m5 0h0m7 0h0m9 0h0m1 0h0m45 0h0m22 0h0m6 0h0m1 0h0m2 0h0m1 0h0m3 0h0m4 0h0m9 0h0m23 0h0m4 0h0m6 0h0m2 0h0m7 0h0m22 0h0m14 0h0m5 0h0m6 0h0m6 0h0m7 0h0m7 0h0m39 0h0m5 0h0m31 0h0m31 0h0m7 0h0m1 0h0m30 0h0m9 0h0m14 0h0m1 0h0m2 0h0m8 0h0m7 0h0m4 0h0m2 0h0m9 0h0m3 0h0m18 0h0m2 0h0m3 0h0m14 0h0m6 0h0m6 0h0m12 0h0m7 0h0m1 0h0m20 0h0m3 0h0m25 0h0m39 0h0m4 0h0m9 0h0m9 0h0m2 0h0m6 0h0m10 0h0m6 0h0m-618 1h0m13 0h0m4 0h0m17 0h0m16 0h0m9 0h0m2 0h0m7 0h0m1 0h0m5 0h0m2 0h0m13 0h0m15 0h0m58 0h0m1 0h0m18 0h0m29 0h0m58 0h0m129 0h0m4 0h0m20 0h0m21 0h0m2 0h0m82 0h0m43 0h0m2 0h0m28 0h0m-592 1h0m19 0h0m52 0h0m8 0h0m1 0h0m17 0h0m9 0h0m26 0h0m111 0h0m81 0h0m91 0h0m7 0h0m11 0h0m40 0h0m57 0h0m29 0h0m11 0h0m-578 1h0m11 0h0m11 0h0m33 0h0m3 0h0m13 0h0m12 0h0m6 0h0m27 0h0m9 0h0m25 0h0m2 0h0m43 0h0m19 0h0m56 0h0m65 0h0m8 0h0m65 0h0m14 0h0m12 0h0m11 0h0m58 0h0m36 0h0m21 0h0m26 0h0m3 0h0m-548 1h0m51 0h0m18 0h0m53 0h0m124 0h0m27 0h0m19 0h0m1 0h0m74 0h0m25 0h0m25 0h0m21 0h0m32 0h0m54 0h0m34 0h0m19 0h0m-613 1h0m43 0h0m244 0h0m44 0h0m4 0h0m19 0h0m18 0h0m23 0h0m6 0h0m63 0h0m13 0h0m40 0h0m5 0h0m19 0h0m36 0h0m15 0h0m5 0h0m-611 1h0m65 0h0m21 0h0m101 0h0m38 0h0m39 0h0m64 0h0m9 0h0m110 0h0m67 0h0m17 0h0m57 0h0m-520 1h0m10 0h0m48 0h0m8 0h0m50 0h0m115 0h0m23 0h0m4 0h0m99 0h0m26 0h0m6 0h0m1 0h0m89 0h0m12 0h0m22 0h0m47 0h0m-609 1h0m5 0h0m51 0h0m87 0h0m12 0h0m123 0h0m24 0h0m88 0h0m5 0h0m100 0h0m11 0h0m11 0h0m-514 1h0m50 0h0m29 0h0m41 0h0m2 0h0m7 0h0m5 0h0m11 0h0m91 0h0m8 0h0m21 0h0m13 0h0m27 0h0m15 0h0m8 0h0m22 0h0m12 0h0m5 0h0m1 0h0m12 0h0m13 0h0m5 0h0m22 0h0m2 0h0m63 0h0m6 0h0m38 0h0m2 0h0m29 0h0m1 0h0m6 0h0m4 0h0m3 0h0m2 0h0m11 0h0m-610 1h0m18 0h0m3 0h0m43 0h0m3 0h0m2 0h0m3 0h0m11 0h0m11 0h0m2 0h0m9 0h0m2 0h0m40 0h0m9 0h0m29 0h0m27 0h0m5 0h0m42 0h0m26 0h0m58 0h0m5 0h0m1 0h0m71 0h0m6 0h0m3 0h0m1 0h0m16 0h0m43 0h0m4 0h0m50 0h0m-504 1h0m74 0h0m17 0h0m13 0h0m20 0h0m33 0h0m23 0h0m39 0h0m7 0h0m26 0h0m37 0h0m122 0h0m5 0h0m2 0h0m27 0h0m27 0h0m87 0h0m30 0h0m-623 1h0m7 0h0m78 0h0m78 0h0m4 0h0m27 0h0m123 0h0m2 0h0m115 0h0m15 0h0m6 0h0m51 0h0m69 0h0m-579 1h0m66 0h0m139 0h0m52 0h0m140 0h0m18 0h0m25 0h0m10 0h0m8 0h0m28 0h0m-460 1h0m103 0h0m131 0h0m52 0h0m105 0h0m34 0h0m70 0h0m9 0h0m27 0h0m37 0h0m22 0h0m-569 1h0m75 0h0m145 0h0m185 0h0m1 0h0m-437 1h0m50 0h0m27 0h0m47 0h0m31 0h0m243 0h0m53 0h0m43 0h0m102 0h0m-590 1h0m47 0h0m86 0h0m8 0h0m125 0h0m95 0h0m12 0h0m7 0h0m27 0h0m10 0h0m85 0h0m60 0h0m-446 1h0m5 0h0m17 0h0m2 0h0m179 0h0m73 0h0m5 0h0m35 0h0m16 0h0m10 0h0m42 0h0m-421 1h0m58 0h0m33 0h0m121 0h0m9 0h0m70 0h0m34 0h0m37 0h0m115 0h0m-571 1h0m81 0h0m67 0h0m19 0h0m226 0h0m19 0h0m11 0h0m81 0h0m18 0h0m8 0h0m-387 1h0m140 0h0m50 0h0m8 0h0m-326 1h0m126 0h0m46 0h0m7 0h0m237 0h0m110 0h0m-529 1h0m4 0h0m51 0h0m21 0h0m24 0h0m38 0h0m29 0h0m157 0h0m2 0h0m1 0h0m121 0h0m36 0h0m24 0h0m-451 1h0m68 0h0m43 0h0m2 0h0m69 0h0m31 0h0m51 0h0m15 0h0m25 0h0m25 0h0m28 0h0m10 0h0m6 0h0m27 0h0m17 0h0m40 0h0m61 0h0m33 0h0m-520 1h0m44 0h0m17 0h0m25 0h0m124 0h0m109 0h0m17 0h0m165 0h0m-327 1h0m5 0h0m125 0h0m210 0h0m-546 1h0m11 0h0m70 0h0m5 0h0m232 0h0m168 0h0m-538 1h0m41 0h0m31 0h0m30 0h0m-82 1h0m228 0h0m-13 1h0m122 0h0m-317 1h0m32 0h0m345 0h0m41 0h0m-446 1h0m6 0h0m21 0h0m13 0h0m13 0h0m12 0h0m76 0h0m-42 1h0m93 0h0m113 0h0m67 0h0m139 0h0m37 0h0m-570 1h0m29 0h0m53 0h0m30 0h0m48 0h0m119 0h0m264 0h0m-549 1h0m214 0h0m60 0h0m82 0h0m29 0h0m31 0h0m17 0h0m3 0h0m17 0h0m85 0h0m47 0h0m27 0h0m-356 1h0m189 0h0m146 0h0m10 0h0m-339 1h0m23 1h0m324 0h0m-531 1h0m-65 1h0m59 0h0m8 1h0m-66 1h0m562 0h0m-468 1h0m66 0h0m162 1h0m60 0h0m-242 1h0m243 1h0m-405 2h0m515 0h0m71 2h0m-498 2h0m37 1h0m46 0h0m411 0h0m-516 1h0m105 0h0m301 0h0m-61 6h0m104 0h0m-163 1h0m8 0h0m47 2h0m-346 3h0m397 0h0m-60 2h0m-306 15h0m452 6h0m-258 2h0" stroke="#7570b3" stroke-width="5.6" stroke-linecap="round" fill="none"/>
<path d="M1790 1396h0m152 0h0m136 0h0m-201 5h0m51 0h0m310 3h0m-39 1h0m-276 3h0m-181 2h0m-78 4h0m18 0h0m58 0h0m74 0h0m23 0h0m79 0h0m39 0h0m105 0h0m54 0h0m53 0h0m2 0h0m24 0h0m22 0h0m64 0h0m-249 11h0m224 4h0m-509 14h0m33 0h0m25 0h0m106 0h0m60 0h0m58 0h0m54 0h0m162 0h0m-565 44h0m7 0h0m11 0h0m16 0h0m4 0h0m22 0h0m3 0h0m7 0h0m26 0h0m5 0h0m3 0h0m28 0h0m1 0h0m5 0h0m5 0h0m17 0h0m5 0h0m5 0h0m12 0h0m3 0h0m8 0h0m2 0h0m8 0h0m2 0h0m1 0h0m40 0h0m9 0h0m13 0h0m5 0h0m14 0h0m8 0h0m3 0h0m24 0h0m7 0h0m5 0h0m7 0h0m16 0h0m4 0h0m13 0h0m10 0h0m2 0h0m1 0h0m25 0h0m3 0h0m15 0h0m15 0h0m4 0h0m2 0h0m28 0h0m6 0h0m16 0h0m30 0h0m3 0h0m10 0h0m3 0h0m1 0h0m10 0h0m19 0h0m16 0h0m3 0h0m4 0h0m-606 44h0m11 0h0m107 0h0m188 0h0m62 0h0m121 0h0m24 0h0m94 0h0m-268 6h0m-152 4h0m282 5h0m-231 1h0m113 6h0m-354 6h0m-10 1h0m1 0h0m11 0h0m25 0h0m51 0h0m2 0h0m66 0h0m104 0h0m113 0h0m42 0h0m12 0h0m71 0h0m16 0h0m1 0h0m19 0h0m1 0h0m59 0h0m-480 1h0m90 0h0m78 0h0m-228 2h0m255 0h0m32 1h0m19 0h0m262 0h0m-557 2h0m71 3h0m54 2h0m194 1h0" stroke="#ebebeb" stroke-width="2.8" stroke-linecap="round" fill="none" opacity="0.4"/>
<path d="M2009.3 1266.8V1707.2" stroke="#a0009e" stroke-width="4.4"/>
<rect x="200" y="1739.8" width="696.8" height="66.5" fill="#d9d9d9"/>
<rect x="200" y="1806.3" width="696.8" height="481.9" fill="#ebebeb"/>
<path d="M200 2212.6h696.8M200 2103h696.8M200 1993.3h696.8M200 1883.7h696.8M349.5 1806.3V2288.2M585.3 1806.3V2288.2M821.1 1806.3V2288.2" stroke="#f1f1f1" stroke-width="1.5" fill="none"/>
<path d="M200 2267.4h696.8M200 2157.8h696.8M200 2048.2h696.8M200 1938.5h696.8M200 1828.9h696.8M231.6 1806.3V2288.2M467.4 1806.3V2288.2M703.2 1806.3V2288.2" stroke="#f5f5f5" stroke-width="2.5" fill="none"/>
<text transform="translate(548.6 1796.7) scale(1.008 1)" font-size="63" fill="#1a1a1a" text-anchor="middle" stroke="#d9d9d9" stroke-width="0.7">II.9 + III.3</text>
<rect x="231.4" y="1962.2" width="241.5" height="174.1" fill="#e7298a"/>
<rect x="486" y="1962.2" width="382" height="174.1" fill="#e7298a"/>
<path d="M240 1851h0m128 25h0m435 3h0m-52 3h0m-40 2h0m134 0h0m-595 1h0m360 0h0m220 0h0m-481 2h0m239 0h0m-236 1h0m112 0h0m305 0h0m34 0h0m-548 1h0m200 0h0m43 0h0m22 0h0m283 0h0m-428 1h0m174 0h0m129 0h0m-360 1h0m19 0h0m220 0h0m2 0h0m18 0h0m-324 1h0m43 0h0m3 0h0m1 0h0m76 0h0m47 0h0m175 0h0m72 0h0m56 0h0m82 0h0m2 0h0m-576 1h0m263 0h0m310 0h0m38 0h0m-534 1h0m107 0h0m271 0h0m16 0h0m142 0h0m-592 1h0m102 0h0m168 0h0m4 0h0m169 0h0m106 0h0m38 0h0m-573 1h0m5 0h0m-1 1h0m94 0h0m328 0h0m13 0h0m19 0h0m15 0h0m19 0h0m-522 1h0m13 0h0m92 0h0m2 0h0m100 0h0m118 0h0m212 0h0m7 0h0m67 0h0m-564 1h0m217 0h0m90 0h0m15 0h0m111 0h0m1 0h0m49 0h0m23 0h0m55 0h0m-579 1h0m122 0h0m6 0h0m172 0h0m9 0h0m22 0h0m219 0h0m22 0h0m18 0h0m1 0h0m-402 1h0m34 0h0m32 0h0m3 0h0m55 0h0m56 0h0m211 0h0m-563 1h0m75 0h0m10 0h0m1 0h0m1 0h0m119 0h0m12 0h0m21 0h0m13 0h0m81 0h0m12 0h0m12 0h0m87 0h0m11 0h0m4 0h0m24 0h0m25 0h0m5 0h0m3 0h0m10 0h0m5 0h0m11 0h0m18 0h0m-486 1h0m10 0h0m36 0h0m48 0h0m81 0h0m85 0h0m29 0h0m62 0h0m20 0h0m105 0h0m4 0h0m1 0h0m-594 1h0m6 0h0m106 0h0m21 0h0m85 0h0m87 0h0m38 0h0m33 0h0m20 0h0m57 0h0m20 0h0m21 0h0m50 0h0m-536 1h0m38 0h0m20 0h0m46 0h0m13 0h0m249 0h0m173 0h0m31 0h0m21 0h0m13 0h0m1 0h0m-618 1h0m1 0h0m24 0h0m22 0h0m7 0h0m18 0h0m32 0h0m26 0h0m93 0h0m55 0h0m110 0h0m36 0h0m55 0h0m79 0h0m42 0h0m-498 1h0m26 0h0m6 0h0m3 0h0m48 0h0m147 0h0m68 0h0m73 0h0m17 0h0m116 0h0m-549 1h0m91 0h0m62 0h0m83 0h0m25 0h0m63 0h0m4 0h0m26 0h0m45 0h0m16 0h0m15 0h0m9 0h0m1 0h0m6 0h0m98 0h0m11 0h0m10 0h0m-611 1h0m14 0h0m33 0h0m33 0h0m3 0h0m13 0h0m7 0h0m3 0h0m7 0h0m9 0h0m4 0h0m18 0h0m31 0h0m66 0h0m6 0h0m114 0h0m23 0h0m45 0h0m27 0h0m17 0h0m10 0h0m82 0h0m25 0h0m-605 1h0m88 0h0m48 0h0m155 0h0m35 0h0m32 0h0m62 0h0m64 0h0m82 0h0m17 0h0m19 0h0m-487 1h0m1 0h0m164 0h0m46 0h0m224 0h0m-491 1h0m168 0h0m36 0h0m48 0h0m10 0h0m76 0h0m10 0h0m10 0h0m32 0h0m34 0h0m55 0h0m57 0h0m9 0h0m-466 1h0m3 0h0m4 0h0m3 0h0m28 0h0m81 0h0m25 0h0m2 0h0m19 0h0m56 0h0m80 0h0m4 0h0m29 0h0m7 0h0m2 0h0m2 0h0m36 0h0m15 0h0m21 0h0m21 0h0m50 0h0m1 0h0m-531 1h0m41 0h0m124 0h0m50 0h0m18 0h0m133 0h0m93 0h0m19 0h0m-551 1h0m25 0h0m1 0h0m18 0h0m20 0h0m40 0h0m6 0h0m6 0h0m2 0h0m210 0h0m2 0h0m7 0h0m4 0h0m2 0h0m107 0h0m3 0h0m117 0h0m28 0h0m-616 1h0m26 0h0m12 0h0m2 0h0m6 0h0m8 0h0m8 0h0m25 0h0m55 0h0m7 0h0m1 0h0m9 0h0m37 0h0m84 0h0m70 0h0m31 0h0m20 0h0m6 0h0m22 0h0m9 0h0m14 0h0m12 0h0m71 0h0m84 0h0m-619 1h0m28 0h0m14 0h0m7 0h0m4 0h0m6 0h0m3 0h0m3 0h0m7 0h0m4 0h0m18 0h0m10 0h0m35 0h0m28 0h0m50 0h0m33 0h0m4 0h0m10 0h0m17 0h0m10 0h0m50 0h0m39 0h0m17 0h0m4 0h0m1 0h0m29 0h0m37 0h0m1 0h0m10 0h0m78 0h0m1 0h0m8 0h0m11 0h0m31 0h0m12 0h0m-591 1h0m25 0h0m52 0h0m16 0h0m8 0h0m2 0h0m93 0h0m22 0h0m11 0h0m22 0h0m55 0h0m44 0h0m51 0h0m18 0h0m1 0h0m31 0h0m27 0h0m58 0h0m-568 1h0m50 0h0m9 0h0m71 0h0m27 0h0m95 0h0m29 0h0m46 0h0m106 0h0m11 0h0m27 0h0m5 0h0m10 0h0m76 0h0m5 0h0m-562 1h0m36 0h0m46 0h0m32 0h0m1 0h0m1 0h0m13 0h0m81 0h0m65 0h0m3 0h0m112 0h0m5 0h0m9 0h0m92 0h0m-435 1h0m47 0h0m23 0h0m19 0h0m111 0h0m42 0h0m26 0h0m61 0h0m83 0h0m21 0h0m28 0h0m-484 1h0m76 0h0m10 0h0m5 0h0m1 0h0m15 0h0m101 0h0m20 0h0m5 0h0m7 0h0m26 0h0m33 0h0m83 0h0m70 0h0m9 0h0m24 0h0m34 0h0m17 0h0m1 0h0m-571 1h0m21 0h0m93 0h0m8 0h0m1 0h0m1 0h0m7 0h0m1 0h0m9 0h0m104 0h0m10 0h0m15 0h0m12 0h0m6 0h0m37 0h0m19 0h0m62 0h0m5 0h0m18 0h0m15 0h0m32 0h0m7 0h0m38 0h0m70 0h0m21 0h0m-608 1h0m66 0h0m26 0h0m9 0h0m19 0h0m26 0h0m137 0h0m37 0h0m47 0h0m27 0h0m6 0h0m78 0h0m5 0h0m62 0h0m4 0h0m40 0h0m1 0h0m4 0h0m3 0h0m13 0h0m-620 1h0m5 0h0m1 0h0m7 0h0m2 0h0m17 0h0m1 0h0m36 0h0m3 0h0m19 0h0m19 0h0m4 0h0m22 0h0m5 0h0m72 0h0m68 0h0m68 0h0m2 0h0m22 0h0m32 0h0m57 0h0m11 0h0m25 0h0m58 0h0m44 0h0m4 0h0m9 0h0m-619 1h0m4 0h0m5 0h0m4 0h0m21 0h0m11 0h0m2 0h0m1 0h0m12 0h0m3 0h0m2 0h0m3 0h0m4 0h0m10 0h0m25 0h0m14 0h0m4 0h0m2 0h0m5 0h0m5 0h0m1 0h0m9 0h0m9 0h0m11 0h0m7 0h0m22 0h0m8 0h0m10 0h0m2 0h0m3 0h0m13 0h0m36 0h0m1 0h0m15 0h0m2 0h0m3 0h0m7 0h0m3 0h0m3 0h0m2 0h0m2 0h0m14 0h0m13 0h0m11 0h0m2 0h0m2 0h0m4 0h0m9 0h0m5 0h0m9 0h0m11 0h0m3 0h0m4 0h0m35 0h0m34 0h0m20 0h0m15 0h0m2 0h0m1 0h0m7 0h0m4 0h0m10 0h0m2 0h0m22 0h0m11 0h0m5 0h0m1 0h0m8 0h0m1 0h0m13 0h0m16 0h0m7 0h0m5 0h0m3 0h0m3 0h0m2 0h0m-613 1h0m11 0h0m29 0h0m8 0h0m5 0h0m1 0h0m30 0h0m3 0h0m7 0h0m4 0h0m3 0h0m11 0h0m6 0h0m5 0h0m3 0h0m9 0h0m9 0h0m1 0h0m11 0h0m71 0h0m32 0h0m5 0h0m7 0h0m8 0h0m6 0h0m7 0h0m5 0h0m40 0h0m1 0h0m1 0h0m20 0h0m16 0h0m69 0h0m10 0h0m1 0h0m4 0h0m4 0h0m3 0h0m1 0h0m7 0h0m3 0h0m1 0h0m37 0h0m39 0h0m42 0h0m12 0h0m2 0h0m-617 1h0m40 0h0m1 0h0m26 0h0m9 0h0m18 0h0m6 0h0m12 0h0m19 0h0m44 0h0m7 0h0m42 0h0m79 0h0m54 0h0m10 0h0m3 0h0m32 0h0m68 0h0m35 0h0m93 0h0m13 0h0m-580 1h0m25 0h0m154 0h0m9 0h0m62 0h0m1 0h0m1 0h0m3 0h0m64 0h0m39 0h0m14 0h0m6 0h0m37 0h0m16 0h0m31 0h0m9 0h0m9 0h0m44 0h0m28 0h0m14 0h0m18 0h0m5 0h0m2 0h0m-619 1h0m24 0h0m32 0h0m50 0h0m27 0h0m43 0h0m80 0h0m96 0h0m20 0h0m10 0h0m80 0h0m24 0h0m86 0h0m22 0h0m32 0h0m-523 1h0m5 0h0m4 0h0m11 0h0m6 0h0m51 0h0m4 0h0m9 0h0m12 0h0m46 0h0m28 0h0m7 0h0m9 0h0m7 0h0m44 0h0m4 0h0m60 0h0m16 0h0m4 0h0m12 0h0m11 0h0m10 0h0m1 0h0m14 0h0m2 0h0m19 0h0m25 0h0m13 0h0m33 0h0m20 0h0m30 0h0m-604 1h0m1 0h0m35 0h0m4 0h0m17 0h0m10 0h0m13 0h0m3 0h0m33 0h0m9 0h0m5 0h0m26 0h0m44 0h0m52 0h0m43 0h0m5 0h0m55 0h0m23 0h0m1 0h0m17 0h0m53 0h0m23 0h0m12 0h0m36 0h0m26 0h0m8 0h0m18 0h0m17 0h0m5 0h0m-584 1h0m35 0h0m4 0h0m8 0h0m57 0h0m4 0h0m2 0h0m27 0h0m13 0h0m36 0h0m38 0h0m32 0h0m2 0h0m3 0h0m8 0h0m2 0h0m6 0h0m50 0h0m1 0h0m54 0h0m24 0h0m33 0h0m14 0h0m8 0h0m18 0h0m59 0h0m5 0h0m1 0h0m2 0h0m5 0h0m20 0h0m6 0h0m8 0h0m-569 1h0m46 0h0m13 0h0m22 0h0m2 0h0m2 0h0m4 0h0m14 0h0m49 0h0m66 0h0m4 0h0m17 0h0m12 0h0m3 0h0m4 0h0m2 0h0m9 0h0m10 0h0m30 0h0m21 0h0m61 0h0m32 0h0m10 0h0m2 0h0m14 0h0m11 0h0m26 0h0m33 0h0m1 0h0m12 0h0m14 0h0m6 0h0m5 0h0m3 0h0m1 0h0m15 0h0m3 0h0m-590 1h0m11 0h0m4 0h0m1 0h0m3 0h0m17 0h0m1 0h0m11 0h0m2 0h0m26 0h0m5 0h0m8 0h0m4 0h0m1 0h0m4 0h0m10 0h0m12 0h0m38 0h0m12 0h0m12 0h0m1 0h0m3 0h0m14 0h0m34 0h0m33 0h0m10 0h0m61 0h0m31 0h0m11 0h0m37 0h0m33 0h0m9 0h0m11 0h0m4 0h0m36 0h0m13 0h0m12 0h0m5 0h0m13 0h0m3 0h0m1 0h0m6 0h0m21 0h0m9 0h0m-564 1h0m8 0h0m51 0h0m11 0h0m131 0h0m11 0h0m8 0h0m7 0h0m1 0h0m1 0h0m7 0h0m1 0h0m8 0h0m20 0h0m13 0h0m38 0h0m24 0h0m38 0h0m32 0h0m7 0h0m23 0h0m4 0h0m5 0h0m52 0h0m9 0h0m1 0h0m12 0h0m19 0h0m3 0h0m7 0h0m6 0h0m-585 1h0m20 0h0m13 0h0m56 0h0m2 0h0m8 0h0m9 0h0m48 0h0m66 0h0m30 0h0m14 0h0m6 0h0m14 0h0m56 0h0m22 0h0m11 0h0m48 0h0m2 0h0m45 0h0m16 0h0m59 0h0m2 0h0m24 0h0m15 0h0m-624 1h0m10 0h0m1 0h0m3 0h0m1 0h0m5 0h0m18 0h0m1 0h0m3 0h0m13 0h0m5 0h0m8 0h0m5 0h0m1 0h0m3 0h0m8 0h0m4 0h0m17 0h0m2 0h0m2 0h0m6 0h0m9 0h0m4 0h0m3 0h0m4 0h0m3 0h0m3 0h0m2 0h0m1 0h0m1 0h0m14 0h0m20 0h0m9 0h0m9 0h0m13 0h0m5 0h0m4 0h0m2 0h0m4 0h0m32 0h0m5 0h0m4 0h0m17 0h0m20 0h0m8 0h0m9 0h0m7 0h0m9 0h0m13 0h0m9 0h0m11 0h0m4 0h0m8 0h0m1 0h0m12 0h0m19 0h0m24 0h0m15 0h0m11 0h0m11 0h0m1 0h0m8 0h0m5 0h0m14 0h0m7 0h0m34 0h0m6 0h0m22 0h0m1 0h0m1 0h0m4 0h0m3 0h0m5 0h0m17 0h0m11 0h0m1 0h0m7 0h0m4 0h0m-624 1h0m2 0h0m4 0h0m1 0h0m10 0h0m4 0h0m28 0h0m3 0h0m5 0h0m2 0h0m7 0h0m5 0h0m13 0h0m2 0h0m10 0h0m11 0h0m1 0h0m4 0h0m1 0h0m3 0h0m1 0h0m2 0h0m5 0h0m1 0h0m9 0h0m4 0h0m4 0h0m5 0h0m9 0h0m14 0h0m18 0h0m6 0h0m3 0h0m14 0h0m8 0h0m2 0h0m1 0h0m9 0h0m34 0h0m12 0h0m2 0h0m3 0h0m16 0h0m2 0h0m21 0h0m1 0h0m24 0h0m1 0h0m20 0h0m6 0h0m26 0h0m16 0h0m3 0h0m8 0h0m39 0h0m3 0h0m3 0h0m8 0h0m2 0h0m1 0h0m1 0h0m7 0h0m10 0h0m1 0h0m3 0h0m3 0h0m22 0h0m14 0h0m4 0h0m10 0h0m2 0h0m1 0h0m7 0h0m1 0h0m3 0h0m5 0h0m4 0h0m11 0h0m11 0h0m5 0h0m4 0h0m9 0h0m8 0h0m-620 1h0m8 0h0m1 0h0m1 0h0m18 0h0m1 0h0m1 0h0m5 0h0m5 0h0m13 0h0m8 0h0m5 0h0m4 0h0m11 0h0m3 0h0m11 0h0m12 0h0m3 0h0m8 0h0m4 0h0m3 0h0m9 0h0m10 0h0m21 0h0m4 0h0m10 0h0m20 0h0m8 0h0m2 0h0m11 0h0m41 0h0m19 0h0m13 0h0m7 0h0m22 0h0m7 0h0m8 0h0m42 0h0m15 0h0m4 0h0m4 0h0m4 0h0m56 0h0m9 0h0m81 0h0m37 0h0m3 0h0m6 0h0m12 0h0m5 0h0m5 0h0m-610 1h0m21 0h0m2 0h0m13 0h0m42 0h0m20 0h0m17 0h0m7 0h0m7 0h0m12 0h0m41 0h0m33 0h0m20 0h0m3 0h0m6 0h0m1 0h0m13 0h0m2 0h0m23 0h0m6 0h0m2 0h0m17 0h0m10 0h0m28 0h0m1 0h0m20 0h0m17 0h0m6 0h0m27 0h0m27 0h0m10 0h0m2 0h0m3 0h0m5 0h0m12 0h0m3 0h0m4 0h0m1 0h0m30 0h0m22 0h0m13 0h0m45 0h0m13 0h0m-615 1h0m2 0h0m1 0h0m2 0h0m2 0h0m12 0h0m5 0h0m6 0h0m17 0h0m9 0h0m5 0h0m35 0h0m4 0h0m14 0h0m3 0h0m10 0h0m2 0h0m4 0h0m1 0h0m11 0h0m9 0h0m31 0h0m16 0h0m7 0h0m4 0h0m3 0h0m2 0h0m42 0h0m8 0h0m5 0h0m3 0h0m6 0h0m10 0h0m7 0h0m37 0h0m23 0h0m4 0h0m4 0h0m25 0h0m3 0h0m5 0h0m2 0h0m1 0h0m1 0h0m1 0h0m2 0h0m1 0h0m73 0h0m14 0h0m9 0h0m19 0h0m28 0h0m2 0h0m13 0h0m1 0h0m8 0h0m17 0h0m4 0h0m7 0h0m9 0h0m-600 1h0m12 0h0m32 0h0m2 0h0m3 0h0m6 0h0m8 0h0m31 0h0m2 0h0m12 0h0m13 0h0m5 0h0m4 0h0m10 0h0m12 0h0m53 0h0m5 0h0m25 0h0m6 0h0m1 0h0m4 0h0m2 0h0m13 0h0m84 0h0m46 0h0m24 0h0m2 0h0m31 0h0m9 0h0m15 0h0m7 0h0m1 0h0m11 0h0m78 0h0m16 0h0m3 0h0m3 0h0m15 0h0m-627 1h0m17 0h0m11 0h0m8 0h0m36 0h0m6 0h0m12 0h0m17 0h0m10 0h0m2 0h0m4 0h0m2 0h0m2 0h0m2 0h0m16 0h0m76 0h0m4 0h0m58 0h0m11 0h0m8 0h0m1 0h0m6 0h0m7 0h0m12 0h0m8 0h0m54 0h0m44 0h0m1 0h0m30 0h0m4 0h0m5 0h0m7 0h0m17 0h0m34 0h0m23 0h0m7 0h0m17 0h0m7 0h0m3 0h0m14 0h0m6 0h0m2 0h0m17 0h0m-630 1h0m4 0h0m41 0h0m4 0h0m2 0h0m8 0h0m4 0h0m13 0h0m3 0h0m36 0h0m14 0h0m5 0h0m6 0h0m2 0h0m4 0h0m18 0h0m19 0h0m36 0h0m44 0h0m26 0h0m11 0h0m43 0h0m3 0h0m10 0h0m10 0h0m9 0h0m11 0h0m21 0h0m5 0h0m41 0h0m2 0h0m12 0h0m26 0h0m5 0h0m6 0h0m2 0h0m2 0h0m56 0h0m3 0h0m6 0h0m35 0h0m21 0h0m-628 1h0m10 0h0m20 0h0m4 0h0m29 0h0m31 0h0m6 0h0m5 0h0m3 0h0m11 0h0m1 0h0m6 0h0m1 0h0m10 0h0m1 0h0m1 0h0m23 0h0m6 0h0m58 0h0m30 0h0m2 0h0m1 0h0m9 0h0m45 0h0m44 0h0m7 0h0m1 0h0m8 0h0m63 0h0m40 0h0m30 0h0m29 0h0m36 0h0m10 0h0m1 0h0m2 0h0m16 0h0m3 0h0m1 0h0m-589 1h0m43 0h0m29 0h0m9 0h0m13 0h0m14 0h0m7 0h0m2 0h0m3 0h0m1 0h0m2 0h0m3 0h0m69 0h0m19 0h0m44 0h0m6 0h0m18 0h0m3 0h0m4 0h0m14 0h0m3 0h0m15 0h0m21 0h0m5 0h0m6 0h0m3 0h0m37 0h0m12 0h0m14 0h0m7 0h0m3 0h0m3 0h0m5 0h0m19 0h0m13 0h0m8 0h0m3 0h0m6 0h0m1 0h0m2 0h0m3 0h0m1 0h0m1 0h0m11 0h0m33 0h0m15 0h0m5 0h0m7 0h0m2 0h0m14 0h0m3 0h0m3 0h0m9 0h0m2 0h0m4 0h0m-614 1h0m4 0h0m12 0h0m8 0h0m6 0h0m4 0h0m2 0h0m3 0h0m2 0h0m3 0h0m11 0h0m3 0h0m11 0h0m4 0h0m4 0h0m4 0h0m25 0h0m3 0h0m1 0h0m3 0h0m4 0h0m3 0h0m2 0h0m2 0h0m11 0h0m3 0h0m17 0h0m9 0h0m2 0h0m9 0h0m35 0h0m12 0h0m29 0h0m7 0h0m9 0h0m12 0h0m2 0h0m2 0h0m1 0h0m13 0h0m3 0h0m52 0h0m2 0h0m11 0h0m8 0h0m4 0h0m30 0h0m11 0h0m22 0h0m45 0h0m3 0h0m11 0h0m1 0h0m20 0h0m4 0h0m7 0h0m32 0h0m18 0h0m23 0h0m3 0h0m19 0h0m-628 1h0m2 0h0m5 0h0m1 0h0m2 0h0m1 0h0m5 0h0m19 0h0m7 0h0m5 0h0m7 0h0m5 0h0m8 0h0m8 0h0m7 0h0m13 0h0m4 0h0m18 0h0m4 0h0m2 0h0m1 0h0m4 0h0m3 0h0m2 0h0m1 0h0m1 0h0m4 0h0m2 0h0m5 0h0m13 0h0m11 0h0m5 0h0m11 0h0m14 0h0m17 0h0m5 0h0m35 0h0m6 0h0m27 0h0m7 0h0m2 0h0m3 0h0m6 0h0m6 0h0m2 0h0m2 0h0m2 0h0m22 0h0m23 0h0m8 0h0m9 0h0m2 0h0m23 0h0m3 0h0m20 0h0m3 0h0m15 0h0m3 0h0m37 0h0m10 0h0m5 0h0m1 0h0m2 0h0m17 0h0m6 0h0m6 0h0m9 0h0m1 0h0m10 0h0m9 0h0m16 0h0m3 0h0m8 0h0m4 0h0m4 0h0m3 0h0m3 0h0m2 0h0m5 0h0m4 0h0m4 0h0m6 0h0m-618 1h0m1 0h0m3 0h0m7 0h0m17 0h0m9 0h0m13 0h0m4 0h0m7 0h0m2 0h0m13 0h0m3 0h0m18 0h0m1 0h0m15 0h0m1 0h0m4 0h0m4 0h0m1 0h0m2 0h0m1 0h0m3 0h0m1 0h0m3 0h0m1 0h0m2 0h0m2 0h0m5 0h0m2 0h0m21 0h0m83 0h0m5 0h0m5 0h0m17 0h0m30 0h0m13 0h0m12 0h0m7 0h0m15 0h0m18 0h0m4 0h0m3 0h0m6 0h0m2 0h0m14 0h0m3 0h0m4 0h0m8 0h0m18 0h0m4 0h0m29 0h0m8 0h0m5 0h0m15 0h0m30 0h0m18 0h0m15 0h0m8 0h0m4 0h0m16 0h0m20 0h0m13 0h0m3 0h0m-620 1h0m5 0h0m1 0h0m2 0h0m30 0h0m1 0h0m21 0h0m1 0h0m5 0h0m13 0h0m14 0h0m26 0h0m6 0h0m4 0h0m3 0h0m6 0h0m1 0h0m14 0h0m2 0h0m3 0h0m20 0h0m21 0h0m8 0h0m11 0h0m1 0h0m6 0h0m21 0h0m11 0h0m22 0h0m5 0h0m5 0h0m4 0h0m2 0h0m12 0h0m36 0h0m4 0h0m7 0h0m2 0h0m6 0h0m40 0h0m26 0h0m31 0h0m15 0h0m9 0h0m12 0h0m2 0h0m8 0h0m32 0h0m19 0h0m16 0h0m12 0h0m12 0h0m2 0h0m7 0h0m5 0h0m4 0h0m-591 1h0m7 0h0m11 0h0m47 0h0m56 0h0m1 0h0m7 0h0m49 0h0m9 0h0m3 0h0m58 0h0m2 0h0m8 0h0m1 0h0m12 0h0m43 0h0m3 0h0m3 0h0m12 0h0m2 0h0m17 0h0m5 0h0m2 0h0m5 0h0m5 0h0m3 0h0m34 0h0m34 0h0m2 0h0m4 0h0m2 0h0m1 0h0m1 0h0m3 0h0m9 0h0m1 0h0m14 0h0m1 0h0m7 0h0m13 0h0m9 0h0m13 0h0m3 0h0m3 0h0m3 0h0m5 0h0m7 0h0m1 0h0m1 0h0m4 0h0m3 0h0m2 0h0m1 0h0m8 0h0m11 0h0m-598 1h0m5 0h0m8 0h0m20 0h0m11 0h0m2 0h0m2 0h0m7 0h0m47 0h0m7 0h0m11 0h0m5 0h0m2 0h0m4 0h0m2 0h0m21 0h0m16 0h0m25 0h0m60 0h0m2 0h0m1 0h0m5 0h0m6 0h0m7 0h0m11 0h0m4 0h0m2 0h0m5 0h0m7 0h0m8 0h0m1 0h0m41 0h0m1 0h0m2 0h0m13 0h0m1 0h0m3 0h0m5 0h0m12 0h0m5 0h0m10 0h0m18 0h0m7 0h0m4 0h0m9 0h0m10 0h0m9 0h0m6 0h0m1 0h0m8 0h0m10 0h0m8 0h0m6 0h0m20 0h0m16 0h0m18 0h0m3 0h0m2 0h0m3 0h0m7 0h0m1 0h0m8 0h0m27 0h0m11 0h0m-621 1h0m6 0h0m8 0h0m4 0h0m14 0h0m14 0h0m3 0h0m1 0h0m15 0h0m4 0h0m4 0h0m7 0h0m10 0h0m11 0h0m2 0h0m2 0h0m15 0h0m2 0h0m2 0h0m1 0h0m1 0h0m7 0h0m1 0h0m3 0h0m10 0h0m3 0h0m1 0h0m2 0h0m1 0h0m2 0h0m2 0h0m3 0h0m4 0h0m12 0h0m42 0h0m36 0h0m7 0h0m4 0h0m2 0h0m10 0h0m4 0h0m1 0h0m1 0h0m5 0h0m5 0h0m1 0h0m4 0h0m23 0h0m12 0h0m1 0h0m4 0h0m18 0h0m7 0h0m4 0h0m2 0h0m21 0h0m9 0h0m1 0h0m20 0h0m47 0h0m1 0h0m1 0h0m3 0h0m5 0h0m11 0h0m2 0h0m5 0h0m8 0h0m13 0h0m7 0h0m9 0h0m5 0h0m14 0h0m1 0h0m5 0h0m4 0h0m2 0h0m3 0h0m5 0h0m2 0h0m2 0h0m2 0h0m1 0h0m11 0h0m7 0h0m1 0h0m11 0h0m11 0h0m3 0h0m-620 1h0m8 0h0m21 0h0m3 0h0m6 0h0m21 0h0m6 0h0m2 0h0m31 0h0m1 0h0m1 0h0m2 0h0m8 0h0m9 0h0m1 0h0m2 0h0m1 0h0m1 0h0m1 0h0m1 0h0m1 0h0m4 0h0m5 0h0m3 0h0m1 0h0m10 0h0m42 0h0m11 0h0m12 0h0m33 0h0m4 0h0m2 0h0m5 0h0m1 0h0m6 0h0m5 0h0m7 0h0m1 0h0m5 0h0m2 0h0m4 0h0m2 0h0m3 0h0m1 0h0m3 0h0m2 0h0m12 0h0m1 0h0m9 0h0m1 0h0m9 0h0m15 0h0m2 0h0m5 0h0m1 0h0m3 0h0m11 0h0m2 0h0m5 0h0m2 0h0m13 0h0m8 0h0m5 0h0m4 0h0m53 0h0m3 0h0m8 0h0m10 0h0m1 0h0m5 0h0m1 0h0m3 0h0m6 0h0m9 0h0m15 0h0m5 0h0m19 0h0m6 0h0m1 0h0m8 0h0m1 0h0m3 0h0m19 0h0m1 0h0m7 0h0m2 0h0m8 0h0m2 0h0m8 0h0m2 0h0m-615 1h0m4 0h0m21 0h0m22 0h0m8 0h0m2 0h0m6 0h0m6 0h0m4 0h0m39 0h0m7 0h0m1 0h0m3 0h0m5 0h0m4 0h0m5 0h0m4 0h0m23 0h0m113 0h0m17 0h0m3 0h0m53 0h0m39 0h0m9 0h0m59 0h0m1 0h0m10 0h0m11 0h0m3 0h0m1 0h0m8 0h0m14 0h0m22 0h0m3 0h0m18 0h0m9 0h0m5 0h0m1 0h0m3 0h0m8 0h0m26 0h0m1 0h0m7 0h0m-562 1h0m1 0h0m29 0h0m4 0h0m9 0h0m1 0h0m14 0h0m3 0h0m13 0h0m4 0h0m8 0h0m6 0h0m4 0h0m1 0h0m8 0h0m19 0h0m20 0h0m8 0h0m12 0h0m11 0h0m47 0h0m14 0h0m3 0h0m2 0h0m1 0h0m4 0h0m4 0h0m9 0h0m5 0h0m4 0h0m27 0h0m12 0h0m2 0h0m4 0h0m22 0h0m7 0h0m1 0h0m11 0h0m2 0h0m5 0h0m64 0h0m1 0h0m10 0h0m4 0h0m4 0h0m8 0h0m1 0h0m60 0h0m4 0h0m2 0h0m1 0h0m1 0h0m5 0h0m9 0h0m1 0h0m7 0h0m5 0h0m5 0h0m2 0h0m1 0h0m2 0h0m-603 1h0m4 0h0m17 0h0m16 0h0m22 0h0m3 0h0m2 0h0m7 0h0m12 0h0m1 0h0m13 0h0m4 0h0m5 0h0m6 0h0m6 0h0m1 0h0m5 0h0m2 0h0m1 0h0m2 0h0m1 0h0m1 0h0m24 0h0m12 0h0m7 0h0m19 0h0m3 0h0m14 0h0m1 0h0m3 0h0m38 0h0m19 0h0m7 0h0m17 0h0m1 0h0m6 0h0m36 0h0m77 0h0m3 0h0m55 0h0m4 0h0m2 0h0m40 0h0m10 0h0m4 0h0m21 0h0m6 0h0m2 0h0m2 0h0m3 0h0m2 0h0m15 0h0m6 0h0m4 0h0m12 0h0m7 0h0m-617 1h0m7 0h0m2 0h0m4 0h0m14 0h0m23 0h0m16 0h0m1 0h0m2 0h0m1 0h0m5 0h0m10 0h0m4 0h0m3 0h0m3 0h0m1 0h0m9 0h0m7 0h0m2 0h0m3 0h0m11 0h0m2 0h0m4 0h0m1 0h0m5 0h0m8 0h0m9 0h0m2 0h0m34 0h0m2 0h0m3 0h0m19 0h0m1 0h0m3 0h0m31 0h0m3 0h0m6 0h0m21 0h0m9 0h0m1 0h0m2 0h0m8 0h0m8 0h0m5 0h0m6 0h0m1 0h0m17 0h0m6 0h0m2 0h0m6 0h0m3 0h0m2 0h0m8 0h0m15 0h0m22 0h0m1 0h0m15 0h0m17 0h0m22 0h0m3 0h0m6 0h0m3 0h0m8 0h0m9 0h0m9 0h0m12 0h0m16 0h0m1 0h0m11 0h0m5 0h0m2 0h0m7 0h0m10 0h0m2 0h0m5 0h0m1 0h0m1 0h0m1 0h0m1 0h0m5 0h0m5 0h0m13 0h0m3 0h0m1 0h0m3 0h0m3 0h0m2 0h0m3 0h0m12 0h0m1 0h0m-626 1h0m1 0h0m1 0h0m6 0h0m1 0h0m1 0h0m1 0h0m1 0h0m2 0h0m5 0h0m10 0h0m2 0h0m2 0h0m2 0h0m2 0h0m2 0h0m2 0h0m5 0h0m3 0h0m5 0h0m3 0h0m7 0h0m1 0h0m3 0h0m2 0h0m3 0h0m1 0h0m1 0h0m1 0h0m4 0h0m8 0h0m1 0h0m13 0h0m3 0h0m3 0h0m2 0h0m1 0h0m2 0h0m5 0h0m1 0h0m1 0h0m2 0h0m3 0h0m3 0h0m1 0h0m3 0h0m2 0h0m3 0h0m1 0h0m1 0h0m3 0h0m1 0h0m3 0h0m3 0h0m11 0h0m2 0h0m3 0h0m5 0h0m2 0h0m13 0h0m16 0h0m4 0h0m22 0h0m32 0h0m4 0h0m2 0h0m1 0h0m1 0h0m2 0h0m11 0h0m1 0h0m1 0h0m1 0h0m3 0h0m1 0h0m5 0h0m3 0h0m1 0h0m3 0h0m3 0h0m1 0h0m1 0h0m11 0h0m6 0h0m5 0h0m1 0h0m21 0h0m3 0h0m10 0h0m4 0h0m3 0h0m1 0h0m6 0h0m7 0h0m14 0h0m8 0h0m2 0h0m4 0h0m3 0h0m4 0h0m12 0h0m6 0h0m3 0h0m7 0h0m10 0h0m2 0h0m4 0h0m3 0h0m7 0h0m2 0h0m3 0h0m1 0h0m4 0h0m3 0h0m9 0h0m3 0h0m2 0h0m5 0h0m1 0h0m2 0h0m6 0h0m2 0h0m18 0h0m8 0h0m4 0h0m2 0h0m7 0h0m9 0h0m4 0h0m8 0h0m5 0h0m2 0h0m1 0h0m2 0h0m13 0h0m2 0h0m4 0h0m1 0h0m3 0h0m7 0h0m2 0h0m1 0h0m4 0h0m1 0h0m4 0h0m1 0h0m-625 1h0m2 0h0m8 0h0m4 0h0m4 0h0m2 0h0m3 0h0m8 0h0m3 0h0m5 0h0m6 0h0m7 0h0m6 0h0m4 0h0m2 0h0m3 0h0m1 0h0m1 0h0m3 0h0m1 0h0m2 0h0m1 0h0m1 0h0m2 0h0m3 0h0m6 0h0m12 0h0m1 0h0m4 0h0m2 0h0m1 0h0m1 0h0m3 0h0m4 0h0m4 0h0m1 0h0m3 0h0m2 0h0m1 0h0m1 0h0m2 0h0m1 0h0m2 0h0m1 0h0m1 0h0m1 0h0m1 0h0m4 0h0m19 0h0m1 0h0m3 0h0m7 0h0m6 0h0m26 0h0m1 0h0m12 0h0m14 0h0m25 0h0m11 0h0m6 0h0m6 0h0m1 0h0m21 0h0m2 0h0m1 0h0m12 0h0m2 0h0m10 0h0m2 0h0m4 0h0m7 0h0m9 0h0m5 0h0m3 0h0m6 0h0m13 0h0m15 0h0m4 0h0m7 0h0m2 0h0m1 0h0m2 0h0m3 0h0m23 0h0m4 0h0m4 0h0m7 0h0m16 0h0m2 0h0m1 0h0m4 0h0m3 0h0m3 0h0m5 0h0m1 0h0m9 0h0m1 0h0m12 0h0m10 0h0m15 0h0m7 0h0m8 0h0m10 0h0m2 0h0m5 0h0m3 0h0m4 0h0m5 0h0m4 0h0m4 0h0m29 0h0m4 0h0m1 0h0m3 0h0m7 0h0m-620 1h0m8 0h0m4 0h0m3 0h0m27 0h0m13 0h0m10 0h0m1 0h0m1 0h0m6 0h0m9 0h0m16 0h0m9 0h0m3 0h0m4 0h0m3 0h0m1 0h0m2 0h0m12 0h0m2 0h0m8 0h0m12 0h0m9 0h0m20 0h0m34 0h0m5 0h0m24 0h0m2 0h0m4 0h0m3 0h0m4 0h0m6 0h0m3 0h0m1 0h0m5 0h0m2 0h0m2 0h0m7 0h0m8 0h0m9 0h0m3 0h0m4 0h0m7 0h0m8 0h0m14 0h0m7 0h0m11 0h0m5 0h0m3 0h0m1 0h0m6 0h0m1 0h0m7 0h0m5 0h0m15 0h0m6 0h0m14 0h0m6 0h0m4 0h0m12 0h0m24 0h0m18 0h0m2 0h0m5 0h0m3 0h0m3 0h0m5 0h0m3 0h0m15 0h0m9 0h0m16 0h0m7 0h0m6 0h0m1 0h0m4 0h0m14 0h0m15 0h0m4 0h0m5 0h0m13 0h0m5 0h0m2 0h0m1 0h0m-628 1h0m6 0h0m3 0h0m7 0h0m34 0h0m7 0h0m2 0h0m2 0h0m3 0h0m3 0h0m1 0h0m2 0h0m3 0h0m18 0h0m24 0h0m1 0h0m4 0h0m7 0h0m2 0h0m1 0h0m2 0h0m1 0h0m5 0h0m2 0h0m1 0h0m3 0h0m1 0h0m2 0h0m20 0h0m6 0h0m28 0h0m3 0h0m3 0h0m48 0h0m10 0h0m3 0h0m6 0h0m7 0h0m12 0h0m41 0h0m25 0h0m5 0h0m5 0h0m6 0h0m17 0h0m5 0h0m13 0h0m22 0h0m41 0h0m14 0h0m2 0h0m15 0h0m49 0h0m8 0h0m1 0h0m11 0h0m2 0h0m3 0h0m3 0h0m2 0h0m5 0h0m12 0h0m3 0h0m24 0h0m-626 1h0m3 0h0m11 0h0m6 0h0m6 0h0m1 0h0m21 0h0m22 0h0m32 0h0m3 0h0m11 0h0m1 0h0m3 0h0m3 0h0m6 0h0m2 0h0m3 0h0m1 0h0m47 0h0m37 0h0m43 0h0m13 0h0m9 0h0m12 0h0m2 0h0m1 0h0m58 0h0m20 0h0m3 0h0m3 0h0m20 0h0m23 0h0m12 0h0m20 0h0m9 0h0m4 0h0m17 0h0m1 0h0m10 0h0m9 0h0m6 0h0m7 0h0m9 0h0m42 0h0m1 0h0m14 0h0m35 0h0m4 0h0m-621 1h0m10 0h0m6 0h0m4 0h0m8 0h0m11 0h0m3 0h0m5 0h0m7 0h0m3 0h0m28 0h0m29 0h0m1 0h0m1 0h0m3 0h0m1 0h0m1 0h0m6 0h0m9 0h0m3 0h0m2 0h0m6 0h0m62 0h0m6 0h0m6 0h0m26 0h0m8 0h0m6 0h0m1 0h0m16 0h0m4 0h0m1 0h0m13 0h0m11 0h0m23 0h0m3 0h0m23 0h0m20 0h0m5 0h0m6 0h0m12 0h0m1 0h0m2 0h0m2 0h0m5 0h0m20 0h0m4 0h0m6 0h0m5 0h0m5 0h0m4 0h0m4 0h0m3 0h0m8 0h0m5 0h0m7 0h0m43 0h0m5 0h0m6 0h0m1 0h0m2 0h0m10 0h0m12 0h0m1 0h0m11 0h0m11 0h0m12 0h0m4 0h0m1 0h0m2 0h0m4 0h0m8 0h0m10 0h0m-632 1h0m1 0h0m252 0h0m-254 2h0m256 0h0m-255 1h0m632 0h0m2 0h0m-635 2h0m238 0h0m394 2h0m-630 1h0m0 5h0m237 0h0m1 1h0m17 1h0m-255 1h0m-2 2h0m1 0h0m1 0h0m237 0h0m-1 1h0m17 0h0m0 1h0m1 0h0m377 0h0m-632 1h0m1 1h0m237 0h0m0 1h0m16 0h0m-253 1h0m237 0h0m16 0h0m1 2h0m1 0h0m378 0h0m-634 2h0m237 0h0m-237 1h0m0 1h0m238 0h0m-239 2h0m2 0h0m237 0h0m16 0h0m380 0h0m0 2h0m-379 2h0m380 0h0m-379 1h0m-18 2h0m17 0h0m1 1h0m-18 5h0m0 2h0m-1 1h0m-238 1h0m258 0h0m-18 2h0m14 0h0m380 0h0m-395 5h0m-2 3h0m-236 1h0m633 3h0m-395 1h0m17 0h0m378 0h0m1 1h0m-380 1h0m-17 1h0m0 1h0m1 1h0m-238 1h0m255 0h0m-17 1h0m2 1h0m15 0h0m1 0h0m-256 1h0m239 0h0m-240 1h0m633 0h0m1 0h0m0 1h0m-632 2h0m-1 1h0m633 0h0m-394 2h0m394 0h0m-379 3h0m1 0h0m-19 2h0m397 1h0m-633 1h0m2 0h0m254 0h0m-18 1h0m1 1h0m18 1h0m-20 2h0m0 1h0m1 0h0m17 0h0m380 2h0m-636 1h0m634 0h0m-634 1h0m1 1h0m633 0h0m0 1h0m-394 1h0m15 0h0m-16 2h0m17 0h0m1 1h0m1 0h0m375 0h0m-631 3h0m238 0h0m396 0h0m-3 2h0m-377 5h0m1 0h0m376 0h0m2 0h0m1 1h0m-634 2h0m237 1h0m394 1h0m1 0h0m-396 1h0m18 0h0m377 3h0m1 0h0m-1 1h0m-375 2h0m375 1h0m-395 1h0m2 0h0m396 1h0m-396 1h0m-240 3h0m240 0h0m18 0h0m377 0h0m-633 1h0m632 1h0m-633 2h0m1 0h0m237 1h0m17 0h0m-1 1h0m380 0h0m-2 3h0m-378 1h0m379 0h0m-632 1h0m633 0h0m0 2h0m-633 1h0m237 0h0m15 0h0m-252 1h0m235 0h0m4 1h0m15 1h0m378 0h0m-395 2h0m-238 3h0m633 0h0m-1 1h0m-376 1h0m-256 1h0m256 2h0m378 0h0m-397 1h0m2 0h0m-240 1h0m256 1h0m2 3h0m-257 2h0m14 1h0m5 0h0m23 0h0m7 0h0m1 0h0m15 0h0m21 0h0m61 0h0m7 0h0m10 0h0m2 0h0m25 0h0m4 0h0m20 0h0m13 0h0m1 0h0m34 0h0m3 0h0m11 0h0m28 0h0m11 0h0m1 0h0m1 0h0m3 0h0m11 0h0m25 0h0m2 0h0m12 0h0m12 0h0m9 0h0m2 0h0m9 0h0m11 0h0m1 0h0m6 0h0m3 0h0m11 0h0m1 0h0m1 0h0m13 0h0m6 0h0m7 0h0m8 0h0m4 0h0m2 0h0m10 0h0m4 0h0m15 0h0m23 0h0m1 0h0m1 0h0m4 0h0m22 0h0m15 0h0m14 0h0m18 0h0m4 0h0m-596 1h0m2 0h0m2 0h0m2 0h0m5 0h0m5 0h0m5 0h0m3 0h0m2 0h0m4 0h0m2 0h0m4 0h0m2 0h0m2 0h0m10 0h0m3 0h0m2 0h0m1 0h0m16 0h0m4 0h0m2 0h0m4 0h0m12 0h0m13 0h0m16 0h0m1 0h0m6 0h0m18 0h0m18 0h0m10 0h0m6 0h0m2 0h0m1 0h0m1 0h0m1 0h0m2 0h0m2 0h0m6 0h0m4 0h0m3 0h0m3 0h0m2 0h0m11 0h0m3 0h0m23 0h0m4 0h0m1 0h0m3 0h0m1 0h0m1 0h0m1 0h0m5 0h0m5 0h0m10 0h0m3 0h0m9 0h0m4 0h0m3 0h0m2 0h0m1 0h0m6 0h0m2 0h0m11 0h0m2 0h0m13 0h0m1 0h0m2 0h0m13 0h0m2 0h0m8 0h0m10 0h0m12 0h0m5 0h0m5 0h0m3 0h0m3 0h0m2 0h0m3 0h0m15 0h0m38 0h0m1 0h0m5 0h0m2 0h0m1 0h0m1 0h0m2 0h0m2 0h0m4 0h0m1 0h0m2 0h0m2 0h0m2 0h0m4 0h0m1 0h0m1 0h0m2 0h0m9 0h0m15 0h0m2 0h0m2 0h0m4 0h0m3 0h0m1 0h0m24 0h0m2 0h0m8 0h0m2 0h0m12 0h0m2 0h0m16 0h0m7 0h0m8 0h0m9 0h0m-624 1h0m14 0h0m2 0h0m2 0h0m5 0h0m6 0h0m4 0h0m12 0h0m1 0h0m1 0h0m3 0h0m10 0h0m10 0h0m15 0h0m1 0h0m1 0h0m2 0h0m4 0h0m7 0h0m1 0h0m3 0h0m5 0h0m2 0h0m6 0h0m5 0h0m3 0h0m12 0h0m11 0h0m7 0h0m4 0h0m12 0h0m1 0h0m7 0h0m1 0h0m4 0h0m3 0h0m1 0h0m9 0h0m1 0h0m1 0h0m5 0h0m2 0h0m2 0h0m10 0h0m4 0h0m3 0h0m6 0h0m3 0h0m28 0h0m7 0h0m3 0h0m4 0h0m2 0h0m15 0h0m5 0h0m5 0h0m4 0h0m7 0h0m31 0h0m6 0h0m2 0h0m12 0h0m15 0h0m6 0h0m1 0h0m5 0h0m3 0h0m2 0h0m3 0h0m2 0h0m11 0h0m5 0h0m2 0h0m13 0h0m3 0h0m1 0h0m2 0h0m6 0h0m12 0h0m6 0h0m1 0h0m1 0h0m12 0h0m7 0h0m3 0h0m30 0h0m7 0h0m4 0h0m2 0h0m9 0h0m7 0h0m3 0h0m2 0h0m2 0h0m2 0h0m1 0h0m1 0h0m2 0h0m1 0h0m1 0h0m5 0h0m3 0h0m8 0h0m4 0h0m5 0h0m7 0h0m29 0h0m-611 1h0m1 0h0m2 0h0m2 0h0m16 0h0m3 0h0m3 0h0m6 0h0m6 0h0m1 0h0m35 0h0m1 0h0m20 0h0m10 0h0m2 0h0m11 0h0m9 0h0m7 0h0m3 0h0m5 0h0m2 0h0m4 0h0m1 0h0m16 0h0m1 0h0m1 0h0m6 0h0m5 0h0m6 0h0m7 0h0m20 0h0m3 0h0m4 0h0m24 0h0m1 0h0m3 0h0m11 0h0m26 0h0m4 0h0m2 0h0m1 0h0m1 0h0m7 0h0m55 0h0m28 0h0m1 0h0m7 0h0m14 0h0m20 0h0m11 0h0m1 0h0m3 0h0m1 0h0m5 0h0m10 0h0m3 0h0m6 0h0m2 0h0m2 0h0m1 0h0m5 0h0m4 0h0m13 0h0m2 0h0m5 0h0m7 0h0m3 0h0m2 0h0m14 0h0m15 0h0m3 0h0m2 0h0m2 0h0m7 0h0m9 0h0m4 0h0m13 0h0m1 0h0m3 0h0m2 0h0m4 0h0m6 0h0m-605 1h0m2 0h0m1 0h0m10 0h0m2 0h0m13 0h0m10 0h0m1 0h0m1 0h0m4 0h0m8 0h0m14 0h0m1 0h0m7 0h0m11 0h0m6 0h0m31 0h0m31 0h0m3 0h0m3 0h0m19 0h0m1 0h0m14 0h0m13 0h0m2 0h0m3 0h0m1 0h0m11 0h0m5 0h0m36 0h0m31 0h0m6 0h0m2 0h0m2 0h0m91 0h0m3 0h0m8 0h0m27 0h0m10 0h0m13 0h0m7 0h0m4 0h0m8 0h0m9 0h0m5 0h0m14 0h0m17 0h0m3 0h0m30 0h0m15 0h0m5 0h0m13 0h0m-582 1h0m5 0h0m15 0h0m24 0h0m22 0h0m4 0h0m12 0h0m15 0h0m3 0h0m1 0h0m15 0h0m22 0h0m39 0h0m13 0h0m5 0h0m8 0h0m1 0h0m1 0h0m9 0h0m2 0h0m1 0h0m2 0h0m6 0h0m23 0h0m23 0h0m24 0h0m7 0h0m17 0h0m3 0h0m20 0h0m26 0h0m17 0h0m5 0h0m2 0h0m4 0h0m13 0h0m12 0h0m1 0h0m1 0h0m41 0h0m4 0h0m1 0h0m6 0h0m3 0h0m1 0h0m19 0h0m11 0h0m5 0h0m30 0h0m2 0h0m11 0h0m7 0h0m7 0h0m1 0h0m14 0h0m2 0h0m8 0h0m2 0h0m10 0h0m4 0h0m-613 1h0m39 0h0m8 0h0m1 0h0m17 0h0m19 0h0m16 0h0m51 0h0m27 0h0m3 0h0m5 0h0m25 0h0m2 0h0m2 0h0m82 0h0m4 0h0m11 0h0m38 0h0m19 0h0m11 0h0m6 0h0m1 0h0m6 0h0m1 0h0m2 0h0m2 0h0m1 0h0m27 0h0m6 0h0m8 0h0m3 0h0m20 0h0m3 0h0m16 0h0m17 0h0m6 0h0m3 0h0m3 0h0m10 0h0m4 0h0m14 0h0m25 0h0m9 0h0m35 0h0m-607 1h0m7 0h0m3 0h0m2 0h0m6 0h0m14 0h0m9 0h0m5 0h0m7 0h0m26 0h0m1 0h0m1 0h0m8 0h0m3 0h0m1 0h0m1 0h0m3 0h0m1 0h0m1 0h0m11 0h0m28 0h0m2 0h0m2 0h0m1 0h0m1 0h0m3 0h0m14 0h0m17 0h0m3 0h0m3 0h0m1 0h0m2 0h0m5 0h0m1 0h0m1 0h0m1 0h0m1 0h0m1 0h0m1 0h0m3 0h0m1 0h0m2 0h0m3 0h0m5 0h0m1 0h0m1 0h0m2 0h0m2 0h0m4 0h0m28 0h0m3 0h0m6 0h0m5 0h0m6 0h0m8 0h0m6 0h0m8 0h0m15 0h0m3 0h0m4 0h0m25 0h0m22 0h0m7 0h0m12 0h0m2 0h0m7 0h0m3 0h0m3 0h0m1 0h0m6 0h0m8 0h0m1 0h0m1 0h0m3 0h0m7 0h0m5 0h0m5 0h0m2 0h0m8 0h0m6 0h0m21 0h0m10 0h0m23 0h0m19 0h0m1 0h0m36 0h0m6 0h0m4 0h0m4 0h0m2 0h0m28 0h0m2 0h0m11 0h0m7 0h0m2 0h0m-620 1h0m1 0h0m11 0h0m9 0h0m8 0h0m3 0h0m5 0h0m15 0h0m6 0h0m3 0h0m3 0h0m7 0h0m3 0h0m2 0h0m1 0h0m12 0h0m6 0h0m6 0h0m4 0h0m3 0h0m22 0h0m26 0h0m3 0h0m2 0h0m4 0h0m1 0h0m2 0h0m2 0h0m12 0h0m3 0h0m2 0h0m1 0h0m10 0h0m3 0h0m1 0h0m3 0h0m1 0h0m1 0h0m1 0h0m8 0h0m2 0h0m3 0h0m2 0h0m29 0h0m1 0h0m2 0h0m10 0h0m22 0h0m5 0h0m6 0h0m2 0h0m1 0h0m1 0h0m2 0h0m1 0h0m40 0h0m3 0h0m2 0h0m6 0h0m11 0h0m3 0h0m3 0h0m6 0h0m5 0h0m25 0h0m2 0h0m3 0h0m1 0h0m22 0h0m1 0h0m2 0h0m4 0h0m7 0h0m6 0h0m2 0h0m1 0h0m6 0h0m6 0h0m2 0h0m4 0h0m4 0h0m6 0h0m9 0h0m8 0h0m6 0h0m2 0h0m1 0h0m10 0h0m10 0h0m4 0h0m3 0h0m3 0h0m3 0h0m3 0h0m4 0h0m3 0h0m3 0h0m4 0h0m4 0h0m1 0h0m8 0h0m8 0h0m9 0h0m1 0h0m9 0h0m-601 1h0m6 0h0m2 0h0m5 0h0m20 0h0m2 0h0m5 0h0m5 0h0m3 0h0m5 0h0m35 0h0m1 0h0m8 0h0m33 0h0m17 0h0m5 0h0m17 0h0m6 0h0m3 0h0m2 0h0m2 0h0m9 0h0m1 0h0m8 0h0m11 0h0m85 0h0m1 0h0m75 0h0m1 0h0m10 0h0m14 0h0m5 0h0m2 0h0m14 0h0m1 0h0m9 0h0m8 0h0m21 0h0m6 0h0m7 0h0m8 0h0m9 0h0m9 0h0m4 0h0m12 0h0m17 0h0m2 0h0m19 0h0m15 0h0m5 0h0m2 0h0m4 0h0m2 0h0m14 0h0m-567 1h0m7 0h0m8 0h0m23 0h0m15 0h0m9 0h0m88 0h0m12 0h0m3 0h0m6 0h0m3 0h0m13 0h0m48 0h0m7 0h0m4 0h0m5 0h0m11 0h0m3 0h0m4 0h0m3 0h0m3 0h0m9 0h0m16 0h0m37 0h0m14 0h0m1 0h0m22 0h0m8 0h0m7 0h0m38 0h0m8 0h0m11 0h0m2 0h0m2 0h0m5 0h0m13 0h0m3 0h0m5 0h0m3 0h0m8 0h0m1 0h0m6 0h0m31 0h0m2 0h0m4 0h0m9 0h0m1 0h0m13 0h0m17 0h0m-603 1h0m5 0h0m17 0h0m13 0h0m6 0h0m1 0h0m27 0h0m4 0h0m3 0h0m18 0h0m1 0h0m3 0h0m9 0h0m21 0h0m45 0h0m24 0h0m10 0h0m19 0h0m27 0h0m9 0h0m37 0h0m10 0h0m2 0h0m1 0h0m6 0h0m7 0h0m29 0h0m32 0h0m13 0h0m4 0h0m10 0h0m15 0h0m2 0h0m11 0h0m13 0h0m5 0h0m19 0h0m1 0h0m2 0h0m19 0h0m10 0h0m3 0h0m7 0h0m8 0h0m12 0h0m5 0h0m3 0h0m16 0h0m34 0h0m12 0h0m-613 1h0m1 0h0m2 0h0m6 0h0m17 0h0m10 0h0m4 0h0m39 0h0m5 0h0m8 0h0m1 0h0m31 0h0m18 0h0m4 0h0m5 0h0m17 0h0m1 0h0m11 0h0m2 0h0m6 0h0m2 0h0m6 0h0m4 0h0m4 0h0m2 0h0m1 0h0m11 0h0m57 0h0m26 0h0m2 0h0m7 0h0m11 0h0m7 0h0m12 0h0m19 0h0m5 0h0m33 0h0m59 0h0m11 0h0m18 0h0m34 0h0m3 0h0m6 0h0m30 0h0m25 0h0m-581 1h0m1 0h0m14 0h0m22 0h0m5 0h0m1 0h0m29 0h0m2 0h0m4 0h0m2 0h0m7 0h0m5 0h0m3 0h0m12 0h0m10 0h0m23 0h0m18 0h0m31 0h0m9 0h0m1 0h0m1 0h0m1 0h0m8 0h0m11 0h0m9 0h0m25 0h0m13 0h0m9 0h0m3 0h0m6 0h0m18 0h0m24 0h0m13 0h0m24 0h0m1 0h0m28 0h0m4 0h0m6 0h0m1 0h0m21 0h0m1 0h0m1 0h0m5 0h0m10 0h0m3 0h0m11 0h0m4 0h0m11 0h0m1 0h0m5 0h0m3 0h0m1 0h0m8 0h0m12 0h0m3 0h0m1 0h0m11 0h0m2 0h0m3 0h0m1 0h0m1 0h0m3 0h0m8 0h0m9 0h0m6 0h0m8 0h0m10 0h0m10 0h0m7 0h0m6 0h0m9 0h0m8 0h0m-597 1h0m4 0h0m14 0h0m8 0h0m19 0h0m10 0h0m1 0h0m47 0h0m7 0h0m9 0h0m21 0h0m9 0h0m22 0h0m3 0h0m1 0h0m4 0h0m2 0h0m13 0h0m5 0h0m2 0h0m3 0h0m9 0h0m4 0h0m42 0h0m7 0h0m3 0h0m22 0h0m1 0h0m2 0h0m10 0h0m47 0h0m10 0h0m19 0h0m12 0h0m3 0h0m8 0h0m3 0h0m1 0h0m3 0h0m1 0h0m13 0h0m24 0h0m2 0h0m5 0h0m2 0h0m7 0h0m1 0h0m4 0h0m21 0h0m18 0h0m10 0h0m3 0h0m1 0h0m18 0h0m7 0h0m2 0h0m4 0h0m3 0h0m5 0h0m15 0h0m13 0h0m-604 1h0m6 0h0m9 0h0m14 0h0m1 0h0m11 0h0m1 0h0m2 0h0m10 0h0m50 0h0m25 0h0m13 0h0m4 0h0m60 0h0m2 0h0m2 0h0m8 0h0m47 0h0m16 0h0m9 0h0m11 0h0m5 0h0m7 0h0m35 0h0m10 0h0m18 0h0m11 0h0m2 0h0m8 0h0m2 0h0m10 0h0m8 0h0m48 0h0m7 0h0m8 0h0m3 0h0m2 0h0m6 0h0m10 0h0m11 0h0m12 0h0m43 0h0m2 0h0m14 0h0m4 0h0m11 0h0m4 0h0m13 0h0m-570 1h0m21 0h0m93 0h0m5 0h0m6 0h0m23 0h0m38 0h0m39 0h0m1 0h0m5 0h0m5 0h0m42 0h0m49 0h0m3 0h0m43 0h0m15 0h0m2 0h0m43 0h0m11 0h0m19 0h0m12 0h0m1 0h0m1 0h0m7 0h0m24 0h0m11 0h0m3 0h0m8 0h0m35 0h0m2 0h0m-612 1h0m7 0h0m1 0h0m24 0h0m33 0h0m6 0h0m17 0h0m10 0h0m1 0h0m8 0h0m19 0h0m14 0h0m43 0h0m14 0h0m1 0h0m9 0h0m9 0h0m56 0h0m2 0h0m4 0h0m27 0h0m5 0h0m72 0h0m44 0h0m3 0h0m3 0h0m12 0h0m20 0h0m112 0h0m12 0h0m4 0h0m-582 1h0m9 0h0m34 0h0m19 0h0m7 0h0m21 0h0m19 0h0m44 0h0m29 0h0m4 0h0m7 0h0m59 0h0m4 0h0m127 0h0m5 0h0m30 0h0m46 0h0m30 0h0m12 0h0m9 0h0m32 0h0m27 0h0m3 0h0m3 0h0m11 0h0m-580 1h0m22 0h0m25 0h0m13 0h0m58 0h0m37 0h0m6 0h0m12 0h0m15 0h0m86 0h0m4 0h0m25 0h0m30 0h0m25 0h0m9 0h0m6 0h0m15 0h0m5 0h0m9 0h0m31 0h0m9 0h0m7 0h0m20 0h0m33 0h0m30 0h0m1 0h0m58 0h0m16 0h0m-621 1h0m9 0h0m8 0h0m21 0h0m42 0h0m1 0h0m5 0h0m40 0h0m23 0h0m5 0h0m5 0h0m20 0h0m26 0h0m2 0h0m18 0h0m68 0h0m3 0h0m11 0h0m1 0h0m6 0h0m41 0h0m42 0h0m9 0h0m12 0h0m9 0h0m12 0h0m13 0h0m7 0h0m1 0h0m2 0h0m18 0h0m48 0h0m29 0h0m12 0h0m18 0h0m-580 1h0m6 0h0m7 0h0m52 0h0m27 0h0m22 0h0m3 0h0m33 0h0m14 0h0m8 0h0m17 0h0m4 0h0m27 0h0m39 0h0m13 0h0m11 0h0m11 0h0m3 0h0m28 0h0m13 0h0m16 0h0m8 0h0m22 0h0m13 0h0m7 0h0m29 0h0m32 0h0m38 0h0m4 0h0m18 0h0m27 0h0m1 0h0m6 0h0m31 0h0m25 0h0m-623 1h0m17 0h0m21 0h0m26 0h0m15 0h0m2 0h0m16 0h0m2 0h0m18 0h0m21 0h0m52 0h0m16 0h0m7 0h0m12 0h0m24 0h0m16 0h0m10 0h0m27 0h0m12 0h0m11 0h0m43 0h0m12 0h0m5 0h0m5 0h0m7 0h0m11 0h0m21 0h0m26 0h0m28 0h0m13 0h0m11 0h0m8 0h0m5 0h0m81 0h0m9 0h0m8 0h0m-609 1h0m6 0h0m19 0h0m6 0h0m19 0h0m4 0h0m7 0h0m12 0h0m12 0h0m26 0h0m3 0h0m11 0h0m42 0h0m25 0h0m4 0h0m2 0h0m8 0h0m9 0h0m27 0h0m16 0h0m10 0h0m10 0h0m3 0h0m4 0h0m9 0h0m1 0h0m4 0h0m13 0h0m60 0h0m2 0h0m11 0h0m1 0h0m15 0h0m1 0h0m21 0h0m15 0h0m11 0h0m12 0h0m17 0h0m11 0h0m7 0h0m6 0h0m1 0h0m2 0h0m1 0h0m19 0h0m2 0h0m12 0h0m7 0h0m8 0h0m13 0h0m20 0h0m-594 1h0m6 0h0m1 0h0m3 0h0m13 0h0m7 0h0m5 0h0m18 0h0m11 0h0m7 0h0m2 0h0m5 0h0m1 0h0m4 0h0m11 0h0m3 0h0m4 0h0m3 0h0m4 0h0m2 0h0m17 0h0m14 0h0m1 0h0m4 0h0m36 0h0m5 0h0m5 0h0m4 0h0m2 0h0m4 0h0m2 0h0m13 0h0m2 0h0m2 0h0m28 0h0m9 0h0m23 0h0m1 0h0m8 0h0m5 0h0m4 0h0m4 0h0m13 0h0m14 0h0m1 0h0m28 0h0m4 0h0m16 0h0m13 0h0m8 0h0m2 0h0m2 0h0m5 0h0m1 0h0m12 0h0m3 0h0m17 0h0m33 0h0m2 0h0m1 0h0m1 0h0m28 0h0m5 0h0m17 0h0m3 0h0m6 0h0m4 0h0m2 0h0m1 0h0m7 0h0m2 0h0m2 0h0m2 0h0m1 0h0m16 0h0m4 0h0m23 0h0m1 0h0m12 0h0m1 0h0m-584 1h0m6 0h0m4 0h0m2 0h0m20 0h0m22 0h0m1 0h0m7 0h0m41 0h0m6 0h0m38 0h0m24 0h0m55 0h0m9 0h0m3 0h0m23 0h0m9 0h0m8 0h0m7 0h0m6 0h0m50 0h0m4 0h0m3 0h0m10 0h0m3 0h0m4 0h0m12 0h0m14 0h0m32 0h0m3 0h0m10 0h0m10 0h0m3 0h0m20 0h0m14 0h0m1 0h0m1 0h0m6 0h0m19 0h0m37 0h0m14 0h0m4 0h0m-536 1h0m6 0h0m10 0h0m14 0h0m16 0h0m49 0h0m16 0h0m8 0h0m10 0h0m20 0h0m88 0h0m12 0h0m2 0h0m4 0h0m3 0h0m11 0h0m34 0h0m4 0h0m20 0h0m4 0h0m16 0h0m11 0h0m1 0h0m51 0h0m6 0h0m17 0h0m3 0h0m18 0h0m9 0h0m65 0h0m11 0h0m17 0h0m-571 1h0m23 0h0m9 0h0m47 0h0m40 0h0m6 0h0m6 0h0m1 0h0m19 0h0m7 0h0m1 0h0m1 0h0m13 0h0m4 0h0m69 0h0m73 0h0m22 0h0m21 0h0m5 0h0m5 0h0m5 0h0m29 0h0m45 0h0m63 0h0m1 0h0m32 0h0m14 0h0m-609 1h0m11 0h0m3 0h0m14 0h0m6 0h0m5 0h0m1 0h0m3 0h0m13 0h0m2 0h0m12 0h0m28 0h0m48 0h0m29 0h0m1 0h0m17 0h0m7 0h0m1 0h0m2 0h0m2 0h0m9 0h0m12 0h0m37 0h0m42 0h0m5 0h0m60 0h0m3 0h0m5 0h0m10 0h0m2 0h0m1 0h0m18 0h0m25 0h0m13 0h0m9 0h0m6 0h0m12 0h0m5 0h0m29 0h0m3 0h0m1 0h0m8 0h0m41 0h0m22 0h0m11 0h0m5 0h0m1 0h0m-587 1h0m33 0h0m29 0h0m46 0h0m51 0h0m4 0h0m1 0h0m14 0h0m29 0h0m75 0h0m9 0h0m54 0h0m34 0h0m4 0h0m15 0h0m40 0h0m15 0h0m27 0h0m56 0h0m1 0h0m25 0h0m14 0h0m2 0h0m1 0h0m11 0h0m-586 1h0m5 0h0m91 0h0m68 0h0m8 0h0m25 0h0m39 0h0m6 0h0m47 0h0m41 0h0m30 0h0m6 0h0m6 0h0m64 0h0m1 0h0m8 0h0m38 0h0m9 0h0m1 0h0m36 0h0m3 0h0m18 0h0m27 0h0m-569 1h0m14 0h0m14 0h0m9 0h0m1 0h0m7 0h0m21 0h0m40 0h0m9 0h0m35 0h0m6 0h0m3 0h0m22 0h0m99 0h0m46 0h0m7 0h0m9 0h0m16 0h0m16 0h0m48 0h0m9 0h0m3 0h0m47 0h0m38 0h0m16 0h0m8 0h0m45 0h0m-589 1h0m9 0h0m3 0h0m15 0h0m47 0h0m5 0h0m71 0h0m32 0h0m94 0h0m66 0h0m52 0h0m63 0h0m2 0h0m105 0h0m35 0h0m-557 1h0m9 0h0m34 0h0m28 0h0m51 0h0m23 0h0m37 0h0m20 0h0m35 0h0m76 0h0m4 0h0m28 0h0m53 0h0m30 0h0m10 0h0m15 0h0m4 0h0m32 0h0m29 0h0m-585 1h0m8 0h0m3 0h0m10 0h0m61 0h0m11 0h0m5 0h0m6 0h0m99 0h0m7 0h0m1 0h0m1 0h0m12 0h0m83 0h0m1 0h0m16 0h0m44 0h0m30 0h0m2 0h0m13 0h0m13 0h0m12 0h0m6 0h0m96 0h0m5 0h0m-532 1h0m53 0h0m16 0h0m13 0h0m17 0h0m23 0h0m37 0h0m2 0h0m4 0h0m20 0h0m7 0h0m71 0h0m9 0h0m5 0h0m8 0h0m55 0h0m35 0h0m69 0h0m50 0h0m11 0h0m2 0h0m28 0h0m13 0h0m20 0h0m24 0h0m18 0h0m-620 1h0m3 0h0m32 0h0m1 0h0m10 0h0m32 0h0m3 0h0m10 0h0m3 0h0m21 0h0m5 0h0m12 0h0m2 0h0m29 0h0m6 0h0m3 0h0m9 0h0m5 0h0m3 0h0m2 0h0m2 0h0m3 0h0m2 0h0m5 0h0m1 0h0m2 0h0m40 0h0m11 0h0m10 0h0m23 0h0m7 0h0m5 0h0m7 0h0m39 0h0m1 0h0m32 0h0m19 0h0m45 0h0m10 0h0m1 0h0m7 0h0m15 0h0m4 0h0m7 0h0m2 0h0m29 0h0m11 0h0m2 0h0m9 0h0m7 0h0m5 0h0m4 0h0m10 0h0m7 0h0m4 0h0m2 0h0m9 0h0m1 0h0m9 0h0m5 0h0m-605 1h0m80 0h0m5 0h0m23 0h0m7 0h0m33 0h0m26 0h0m5 0h0m6 0h0m6 0h0m1 0h0m3 0h0m54 0h0m6 0h0m7 0h0m2 0h0m23 0h0m32 0h0m3 0h0m7 0h0m16 0h0m17 0h0m42 0h0m5 0h0m6 0h0m11 0h0m5 0h0m28 0h0m6 0h0m5 0h0m9 0h0m1 0h0m7 0h0m24 0h0m8 0h0m21 0h0m12 0h0m6 0h0m14 0h0m24 0h0m6 0h0m11 0h0m-551 1h0m70 0h0m33 0h0m1 0h0m8 0h0m5 0h0m3 0h0m4 0h0m3 0h0m16 0h0m5 0h0m94 0h0m10 0h0m30 0h0m42 0h0m25 0h0m4 0h0m18 0h0m44 0h0m47 0h0m12 0h0m12 0h0m6 0h0m41 0h0m-530 1h0m24 0h0m10 0h0m5 0h0m3 0h0m32 0h0m17 0h0m20 0h0m29 0h0m12 0h0m44 0h0m102 0h0m25 0h0m26 0h0m130 0h0m28 0h0m4 0h0m3 0h0m-537 1h0m2 0h0m21 0h0m7 0h0m6 0h0m111 0h0m8 0h0m19 0h0m3 0h0m82 0h0m22 0h0m55 0h0m16 0h0m10 0h0m10 0h0m7 0h0m75 0h0m11 0h0m27 0h0m2 0h0m-544 1h0m17 0h0m70 0h0m8 0h0m18 0h0m2 0h0m15 0h0m9 0h0m7 0h0m40 0h0m19 0h0m4 0h0m3 0h0m12 0h0m5 0h0m31 0h0m3 0h0m49 0h0m74 0h0m90 0h0m48 0h0m30 0h0m67 0h0m-592 1h0m96 0h0m13 0h0m79 0h0m197 0h0m5 0h0m33 0h0m11 0h0m17 0h0m2 0h0m44 0h0m29 0h0m5 0h0m8 0h0m8 0h0m14 0h0m37 0h0m-623 1h0m91 0h0m78 0h0m116 0h0m8 0h0m7 0h0m6 0h0m64 0h0m8 0h0m7 0h0m21 0h0m4 0h0m38 0h0m20 0h0m1 0h0m4 0h0m6 0h0m53 0h0m12 0h0m9 0h0m12 0h0m5 0h0m2 0h0m3 0h0m8 0h0m23 0h0m-557 1h0m17 0h0m29 0h0m83 0h0m100 0h0m30 0h0m49 0h0m3 0h0m2 0h0m7 0h0m107 0h0m1 0h0m29 0h0m75 0h0m-578 1h0m64 0h0m17 0h0m37 0h0m12 0h0m18 0h0m10 0h0m6 0h0m18 0h0m15 0h0m4 0h0m1 0h0m4 0h0m4 0h0m51 0h0m24 0h0m3 0h0m25 0h0m5 0h0m7 0h0m14 0h0m41 0h0m1 0h0m13 0h0m60 0h0m6 0h0m11 0h0m3 0h0m7 0h0m21 0h0m15 0h0m16 0h0m9 0h0m27 0h0m32 0h0m6 0h0m7 0h0m-619 1h0m3 0h0m45 0h0m18 0h0m21 0h0m15 0h0m75 0h0m27 0h0m56 0h0m41 0h0m4 0h0m28 0h0m21 0h0m7 0h0m21 0h0m4 0h0m25 0h0m15 0h0m2 0h0m2 0h0m4 0h0m3 0h0m2 0h0m8 0h0m23 0h0m1 0h0m1 0h0m4 0h0m31 0h0m20 0h0m11 0h0m11 0h0m5 0h0m22 0h0m11 0h0m18 0h0m6 0h0m-509 1h0m98 0h0m1 0h0m6 0h0m50 0h0m49 0h0m1 0h0m1 0h0m1 0h0m7 0h0m9 0h0m24 0h0m21 0h0m38 0h0m17 0h0m12 0h0m12 0h0m13 0h0m6 0h0m39 0h0m7 0h0m70 0h0m16 0h0m-510 1h0m5 0h0m3 0h0m100 0h0m20 0h0m37 0h0m5 0h0m97 0h0m37 0h0m7 0h0m18 0h0m34 0h0m10 0h0m18 0h0m5 0h0m18 0h0m16 0h0m3 0h0m20 0h0m67 0h0m12 0h0m-590 1h0m44 0h0m2 0h0m17 0h0m5 0h0m90 0h0m2 0h0m3 0h0m104 0h0m11 0h0m4 0h0m2 0h0m15 0h0m20 0h0m35 0h0m30 0h0m4 0h0m12 0h0m3 0h0m11 0h0m18 0h0m50 0h0m2 0h0m15 0h0m18 0h0m5 0h0m1 0h0m9 0h0m19 0h0m-532 1h0m4 0h0m14 0h0m12 0h0m62 0h0m29 0h0m36 0h0m9 0h0m2 0h0m6 0h0m37 0h0m45 0h0m14 0h0m34 0h0m15 0h0m4 0h0m12 0h0m18 0h0m107 0h0m19 0h0m23 0h0m8 0h0m3 0h0m3 0h0m4 0h0m14 0h0m28 0h0m7 0h0m-526 1h0m97 0h0m8 0h0m5 0h0m13 0h0m57 0h0m35 0h0m23 0h0m38 0h0m31 0h0m28 0h0m6 0h0m51 0h0m24 0h0m2 0h0m2 0h0m44 0h0m8 0h0m10 0h0m7 0h0m8 0h0m9 0h0m-595 1h0m13 0h0m75 0h0m7 0h0m19 0h0m93 0h0m5 0h0m13 0h0m2 0h0m70 0h0m92 0h0m6 0h0m15 0h0m2 0h0m4 0h0m15 0h0m28 0h0m10 0h0m6 0h0m64 0h0m22 0h0m12 0h0m9 0h0m-574 1h0m17 0h0m24 0h0m20 0h0m19 0h0m28 0h0m15 0h0m11 0h0m50 0h0m9 0h0m8 0h0m2 0h0m11 0h0m47 0h0m12 0h0m30 0h0m2 0h0m3 0h0m5 0h0m3 0h0m64 0h0m40 0h0m6 0h0m10 0h0m7 0h0m8 0h0m22 0h0m12 0h0m22 0h0m1 0h0m4 0h0m15 0h0m20 0h0m15 0h0m19 0h0m14 0h0m-607 1h0m32 0h0m44 0h0m2 0h0m7 0h0m4 0h0m4 0h0m8 0h0m18 0h0m30 0h0m11 0h0m12 0h0m27 0h0m1 0h0m1 0h0m4 0h0m4 0h0m64 0h0m1 0h0m28 0h0m1 0h0m1 0h0m3 0h0m38 0h0m8 0h0m3 0h0m12 0h0m24 0h0m31 0h0m9 0h0m1 0h0m4 0h0m12 0h0m1 0h0m19 0h0m22 0h0m15 0h0m12 0h0m17 0h0m19 0h0m58 0h0m-481 1h0m56 0h0m25 0h0m7 0h0m40 0h0m94 0h0m21 0h0m25 0h0m-386 1h0m25 0h0m39 0h0m88 0h0m46 0h0m56 0h0m41 0h0m1 0h0m1 0h0m22 0h0m20 0h0m18 0h0m14 0h0m4 0h0m2 0h0m34 0h0m49 0h0m2 0h0m73 0h0m10 0h0m22 0h0m29 0h0m5 0h0m-568 1h0m9 0h0m22 0h0m178 0h0m1 0h0m48 0h0m62 0h0m16 0h0m10 0h0m9 0h0m35 0h0m12 0h0m10 0h0m3 0h0m7 0h0m81 0h0m-509 1h0m132 0h0m57 0h0m92 0h0m51 0h0m23 0h0m71 0h0m25 0h0m-484 1h0m4 0h0m75 0h0m11 0h0m18 0h0m11 0h0m10 0h0m47 0h0m10 0h0m78 0h0m20 0h0m13 0h0m52 0h0m37 0h0m80 0h0m1 0h0m8 0h0m6 0h0m4 0h0m22 0h0m19 0h0m21 0h0m12 0h0m-568 1h0m16 0h0m26 0h0m11 0h0m10 0h0m26 0h0m89 0h0m7 0h0m4 0h0m24 0h0m3 0h0m52 0h0m34 0h0m10 0h0m21 0h0m14 0h0m2 0h0m32 0h0m6 0h0m10 0h0m6 0h0m10 0h0m2 0h0m33 0h0m28 0h0m6 0h0m2 0h0m35 0h0m1 0h0m16 0h0m12 0h0m10 0h0m3 0h0m1 0h0m24 0h0m14 0h0m7 0h0m3 0h0m10 0h0m-597 1h0m25 0h0m21 0h0m29 0h0m7 0h0m14 0h0m69 0h0m36 0h0m3 0h0m54 0h0m24 0h0m11 0h0m49 0h0m6 0h0m22 0h0m15 0h0m29 0h0m37 0h0m1 0h0m11 0h0m20 0h0m14 0h0m2 0h0m7 0h0m25 0h0m6 0h0m4 0h0m20 0h0m-500 1h0m93 0h0m38 0h0m62 0h0m25 0h0m70 0h0m2 0h0m21 0h0m3 0h0m28 0h0m20 0h0m7 0h0m14 0h0m7 0h0m1 0h0m26 0h0m4 0h0m3 0h0m15 0h0m54 0h0m-531 1h0m128 0h0m15 0h0m67 0h0m50 0h0m158 0h0m79 0h0m7 0h0m6 0h0m-543 1h0m77 0h0m73 0h0m98 0h0m34 0h0m58 0h0m5 0h0m41 0h0m62 0h0m15 0h0m42 0h0m54 0h0m2 0h0m3 0h0m-527 1h0m38 0h0m22 0h0m95 0h0m16 0h0m46 0h0m64 0h0m61 0h0m3 0h0m1 0h0m16 0h0m66 0h0m43 0h0m73 0h0m-559 1h0m55 0h0m138 0h0m33 0h0m13 0h0m7 0h0m1 0h0m115 0h0m79 0h0m12 0h0m117 0h0m-599 1h0m39 0h0m39 0h0m39 0h0m64 0h0m20 0h0m103 0h0m36 0h0m15 0h0m57 0h0m16 0h0m25 0h0m16 0h0m48 0h0m-515 1h0m5 0h0m3 0h0m64 0h0m7 0h0m62 0h0m51 0h0m30 0h0m169 0h0m48 0h0m8 0h0m1 0h0m24 0h0m37 0h0m3 0h0m7 0h0m8 0h0m3 0h0m19 0h0m56 0h0m-606 1h0m19 0h0m138 0h0m97 0h0m76 0h0m79 0h0m39 0h0m8 0h0m73 0h0m3 0h0m26 0h0m4 0h0m13 0h0m-505 1h0m12 0h0m91 0h0m4 0h0m86 0h0m47 0h0m1 0h0m35 0h0m17 0h0m31 0h0m1 0h0m21 0h0m46 0h0m3 0h0m4 0h0m2 0h0m9 0h0m14 0h0m12 0h0m6 0h0m9 0h0m3 0h0m32 0h0m27 0h0m-552 1h0m3 0h0m30 0h0m45 0h0m63 0h0m8 0h0m11 0h0m7 0h0m11 0h0m2 0h0m6 0h0m36 0h0m129 0h0m7 0h0m10 0h0m8 0h0m63 0h0m1 0h0m49 0h0m9 0h0m23 0h0m24 0h0m4 0h0m-503 1h0m48 0h0m37 0h0m16 0h0m39 0h0m150 0h0m26 0h0m174 0h0m-521 1h0m63 0h0m47 0h0m216 0h0m170 0h0m24 0h0m34 0h0m-586 1h0m68 0h0m11 0h0m52 0h0m6 0h0m20 0h0m207 0h0m4 0h0m49 0h0m34 0h0m31 0h0m27 0h0m28 0h0m11 0h0m39 0h0m6 0h0m-587 1h0m48 0h0m112 0h0m11 0h0m2 0h0m161 0h0m8 0h0m32 0h0m48 0h0m89 0h0m-442 1h0m115 0h0m16 0h0m159 0h0m37 0h0m53 0h0m53 0h0m-343 1h0m21 0h0m266 0h0m37 0h0m45 0h0m12 0h0m-553 1h0m44 0h0m107 0h0m24 0h0m14 0h0m1 0h0m6 0h0m112 0h0m7 0h0m28 0h0m14 0h0m14 0h0m28 0h0m22 0h0m19 0h0m11 0h0m7 0h0m11 0h0m39 0h0m27 0h0m-538 1h0m68 0h0m148 0h0m104 0h0m107 0h0m90 0h0m71 0h0m-197 1h0m38 0h0m50 0h0m40 0h0m12 0h0m4 0h0m-290 1h0m10 0h0m106 0h0m12 0h0m101 0h0m1 0h0m46 0h0m37 0h0m35 0h0m-211 1h0m33 0h0m5 0h0m12 0h0m-350 1h0m384 0h0m-410 1h0m43 0h0m3 0h0m43 0h0m165 0h0m71 0h0m4 0h0m86 0h0m86 0h0m57 0h0m-569 1h0m19 0h0m119 0h0m7 0h0m12 0h0m2 0h0m14 0h0m43 0h0m53 0h0m6 0h0m65 0h0m10 0h0m15 0h0m66 0h0m13 0h0m117 0h0m-451 1h0m27 0h0m13 0h0m26 0h0m65 0h0m5 0h0m87 0h0m43 0h0m79 0h0m41 0h0m-553 1h0m33 0h0m158 0h0m123 0h0m88 0h0m44 0h0m121 0h0m-417 1h0m7 0h0m108 0h0m20 0h0m190 0h0m116 0h0m34 0h0m-557 1h0m44 0h0m80 0h0m209 0h0m16 0h0m17 0h0m10 0h0m17 0h0m-419 1h0m31 0h0m27 0h0m86 0h0m5 0h0m25 0h0m6 0h0m67 0h0m42 0h0m69 0h0m47 0h0m41 0h0m94 0h0m20 0h0m7 0h0m-524 1h0m171 0h0m137 0h0m29 0h0m24 0h0m34 0h0m-135 1h0m134 0h0m61 0h0m4 0h0m-62 1h0m-405 1h0m73 0h0m79 0h0m-37 1h0m67 0h0m47 0h0m183 0h0m114 0h0m-436 1h0m230 0h0m139 0h0m75 0h0m-597 1h0m15 0h0m281 0h0m94 0h0m-374 1h0m127 0h0m171 0h0m277 0h0m-566 1h0m271 0h0m178 0h0m-410 1h0m14 0h0m1 0h0m312 0h0m164 0h0m41 0h0m-554 1h0m23 0h0m287 0h0m-202 1h0m269 0h0m76 0h0m106 0h0m-440 1h0m21 0h0m199 0h0m99 0h0m78 0h0m-56 1h0m-508 1h0m187 0h0m195 0h0m-367 1h0m138 0h0m364 0h0m82 0h0m-196 1h0m-24 1h0m-339 1h0m106 0h0m159 0h0m19 2h0m261 1h0m-176 1h0m3 0h0m54 0h0m67 0h0m-103 2h0m93 3h0m-490 1h0m529 2h0m-371 8h0" stroke="#e7298a" stroke-width="5.6" stroke-linecap="round" fill="none"/>
<path d="M427 1967h0m28 0h0m234 0h0m-277 1h0m368 3h0m-58 3h0m-414 1h0m17 0h0m35 0h0m57 0h0m16 0h0m145 0h0m18 0h0m24 0h0m49 0h0m104 0h0m46 0h0m32 0h0m1 0h0m1 0h0m-503 3h0m365 0h0m48 0h0m-266 5h0m-80 6h0m160 3h0m-293 12h0m91 0h0m15 0h0m121 0h0m22 0h0m94 0h0m125 0h0m72 0h0m-589 44h0m2 0h0m6 0h0m7 0h0m13 0h0m10 0h0m2 0h0m5 0h0m12 0h0m1 0h0m23 0h0m14 0h0m11 0h0m6 0h0m19 0h0m7 0h0m13 0h0m9 0h0m3 0h0m9 0h0m19 0h0m8 0h0m1 0h0m31 0h0m4 0h0m30 0h0m8 0h0m25 0h0m1 0h0m22 0h0m10 0h0m10 0h0m1 0h0m22 0h0m3 0h0m2 0h0m1 0h0m2 0h0m45 0h0m13 0h0m1 0h0m7 0h0m39 0h0m12 0h0m1 0h0m11 0h0m8 0h0m14 0h0m8 0h0m8 0h0m3 0h0m3 0h0m4 0h0m40 0h0m21 0h0m7 0h0m10 0h0m1 0h0m2 0h0m-293 34h0m284 6h0m-439 4h0m52 0h0m1 0h0m93 0h0m74 0h0m20 0h0m30 0h0m63 0h0m-341 9h0m-134 3h0m382 2h0m70 6h0m8 0h0m2 5h0m39 0h0m-528 4h0m62 0h0m64 0h0m28 0h0m14 0h0m12 0h0m11 0h0m52 0h0m61 0h0m21 0h0m50 0h0m1 0h0m1 0h0m33 0h0m66 0h0m48 0h0m68 0h0m20 0h0m-427 1h0m97 3h0m141 0h0m-237 1h0m290 0h0m-284 3h0m-94 3h0m383 1h0" stroke="#ebebeb" stroke-width="2.8" stroke-linecap="round" fill="none" opacity="0.4"/>
<path d="M590.6 1827.9V2268.4" stroke="#a0009e" stroke-width="4.4"/>
<path d="M193 1828.9H200" stroke="#a0a0a0" stroke-width="1.8"/>
<text transform="translate(187.8 1848.2) scale(0.975 1)" font-size="51" fill="#4d4d4d" text-anchor="end">1.00</text>
<path d="M193 1938.5H200" stroke="#a0a0a0" stroke-width="1.8"/>
<text transform="translate(187.8 1957.8) scale(0.975 1)" font-size="51" fill="#4d4d4d" text-anchor="end">0.75</text>
<path d="M193 2048.2H200" stroke="#a0a0a0" stroke-width="1.8"/>
<text transform="translate(187.8 2067.5) scale(0.975 1)" font-size="51" fill="#4d4d4d" text-anchor="end">0.50</text>
<path d="M193 2157.8H200" stroke="#a0a0a0" stroke-width="1.8"/>
<text transform="translate(187.8 2177.1) scale(0.975 1)" font-size="51" fill="#4d4d4d" text-anchor="end">0.25</text>
<path d="M193 2267.4H200" stroke="#a0a0a0" stroke-width="1.8"/>
<text transform="translate(187.8 2286.7) scale(0.975 1)" font-size="51" fill="#4d4d4d" text-anchor="end">0.00</text>
<path d="M231.6 2288.2v7" stroke="#a8a8a8" stroke-width="1.8"/>
<text transform="translate(231.6 2345.3) scale(0.93 1)" font-size="62.5" fill="#333" text-anchor="middle">0</text>
<path d="M467.4 2288.2v7" stroke="#a8a8a8" stroke-width="1.8"/>
<text transform="translate(400.9 2345.3) scale(.958 1)" font-size="62.5" fill="#333" stroke="#fff" stroke-width="0.5">5×10<tspan dy="-33.5" dx="3.5" font-size="31" fill="#6e6e6e" stroke="none">7</tspan></text>
<path d="M703.2 2288.2v7" stroke="#a8a8a8" stroke-width="1.8"/>
<text transform="translate(634.7 2345.3) scale(.958 1)" font-size="62.5" fill="#333" stroke="#fff" stroke-width="0.5">1×10<tspan dy="-33.5" dx="4.5" font-size="31" fill="#6e6e6e" stroke="none">8</tspan></text>
<rect x="910.2" y="1739.8" width="696.8" height="66.5" fill="#d9d9d9"/>
<rect x="910.2" y="1806.3" width="696.8" height="481.9" fill="#ebebeb"/>
<path d="M910.2 2212.6h696.8M910.2 2103h696.8M910.2 1993.3h696.8M910.2 1883.7h696.8M1058.2 1806.3V2288.2M1294 1806.3V2288.2M1529.8 1806.3V2288.2" stroke="#f1f1f1" stroke-width="1.5" fill="none"/>
<path d="M910.2 2267.4h696.8M910.2 2157.8h696.8M910.2 2048.2h696.8M910.2 1938.5h696.8M910.2 1828.9h696.8M940.3 1806.3V2288.2M1176.1 1806.3V2288.2M1411.9 1806.3V2288.2" stroke="#f5f5f5" stroke-width="2.5" fill="none"/>
<text transform="translate(1262.9 1796.7) scale(1.008 1)" font-size="63" fill="#1a1a1a" text-anchor="middle" stroke="#d9d9d9" stroke-width="0.7">II.9 + III.7</text>
<rect x="940.1" y="1953.4" width="241.5" height="182.9" fill="#66a61e"/>
<rect x="1194.7" y="1953.4" width="382" height="182.9" fill="#66a61e"/>
<path d="M949 1851h0m151 28h0m-27 4h0m74 0h0m-133 4h0m198 1h0m263 2h0m-163 1h0m72 0h0m95 1h0m-139 1h0m-52 1h0m53 0h0m197 0h0m21 0h0m-103 1h0m-411 1h0m243 0h0m260 0h0m-568 3h0m237 0h0m98 0h0m12 0h0m173 0h0m-422 1h0m20 0h0m119 0h0m-156 1h0m24 0h0m36 0h0m104 0h0m179 0h0m89 0h0m-540 1h0m47 0h0m159 0h0m134 0h0m6 0h0m78 0h0m95 0h0m-493 1h0m3 0h0m38 0h0m3 0h0m44 0h0m10 0h0m168 0h0m50 0h0m172 0h0m85 0h0m-345 1h0m75 0h0m5 0h0m59 0h0m117 0h0m9 0h0m3 0h0m-527 1h0m82 0h0m9 0h0m60 0h0m61 0h0m69 0h0m81 0h0m15 0h0m54 0h0m25 0h0m75 0h0m39 0h0m-299 1h0m60 0h0m18 0h0m14 0h0m82 0h0m12 0h0m60 0h0m12 0h0m49 0h0m22 0h0m7 0h0m9 0h0m-509 1h0m26 0h0m339 0h0m12 0h0m42 0h0m90 0h0m-580 1h0m28 0h0m84 0h0m24 0h0m113 0h0m26 0h0m35 0h0m17 0h0m17 0h0m13 0h0m23 0h0m59 0h0m1 0h0m25 0h0m33 0h0m53 0h0m21 0h0m-514 1h0m17 0h0m184 0h0m14 0h0m26 0h0m26 0h0m14 0h0m3 0h0m30 0h0m52 0h0m57 0h0m6 0h0m74 0h0m14 0h0m-611 1h0m145 0h0m72 0h0m60 0h0m50 0h0m14 0h0m11 0h0m24 0h0m9 0h0m136 0h0m36 0h0m-557 1h0m16 0h0m19 0h0m114 0h0m25 0h0m41 0h0m7 0h0m2 0h0m4 0h0m109 0h0m3 0h0m50 0h0m3 0h0m132 0h0m4 0h0m78 0h0m6 0h0m4 0h0m-619 1h0m100 0h0m20 0h0m30 0h0m6 0h0m232 0h0m111 0h0m14 0h0m78 0h0m-517 1h0m253 0h0m5 0h0m30 0h0m2 0h0m222 0h0m13 0h0m18 0h0m9 0h0m-508 1h0m172 0h0m66 0h0m8 0h0m15 0h0m16 0h0m2 0h0m103 0h0m41 0h0m59 0h0m-593 1h0m10 0h0m54 0h0m64 0h0m7 0h0m76 0h0m241 0h0m-428 1h0m24 0h0m4 0h0m31 0h0m17 0h0m30 0h0m6 0h0m23 0h0m175 0h0m29 0h0m131 0h0m2 0h0m4 0h0m13 0h0m5 0h0m27 0h0m33 0h0m1 0h0m16 0h0m-566 1h0m7 0h0m15 0h0m7 0h0m62 0h0m16 0h0m7 0h0m5 0h0m8 0h0m14 0h0m44 0h0m47 0h0m71 0h0m31 0h0m1 0h0m11 0h0m3 0h0m2 0h0m24 0h0m15 0h0m57 0h0m27 0h0m12 0h0m1 0h0m9 0h0m8 0h0m33 0h0m-548 1h0m8 0h0m35 0h0m107 0h0m41 0h0m6 0h0m32 0h0m21 0h0m76 0h0m15 0h0m113 0h0m47 0h0m1 0h0m3 0h0m-529 1h0m103 0h0m10 0h0m10 0h0m37 0h0m175 0h0m19 0h0m165 0h0m1 0h0m-376 1h0m141 0h0m55 0h0m23 0h0m158 0h0m3 0h0m18 0h0m3 0h0m-547 1h0m50 0h0m96 0h0m176 0h0m14 0h0m33 0h0m116 0h0m19 0h0m24 0h0m6 0h0m56 0h0m-583 1h0m24 0h0m5 0h0m8 0h0m3 0h0m18 0h0m73 0h0m28 0h0m33 0h0m142 0h0m4 0h0m14 0h0m7 0h0m15 0h0m8 0h0m55 0h0m20 0h0m46 0h0m9 0h0m17 0h0m13 0h0m37 0h0m6 0h0m18 0h0m8 0h0m-586 1h0m11 0h0m71 0h0m335 0h0m176 0h0m-590 1h0m1 0h0m50 0h0m17 0h0m36 0h0m2 0h0m55 0h0m14 0h0m21 0h0m104 0h0m37 0h0m16 0h0m77 0h0m66 0h0m14 0h0m19 0h0m37 0h0m16 0h0m-595 1h0m101 0h0m33 0h0m15 0h0m5 0h0m36 0h0m170 0h0m38 0h0m73 0h0m15 0h0m13 0h0m32 0h0m47 0h0m-589 1h0m3 0h0m13 0h0m4 0h0m3 0h0m8 0h0m19 0h0m1 0h0m3 0h0m17 0h0m32 0h0m1 0h0m18 0h0m13 0h0m2 0h0m3 0h0m19 0h0m4 0h0m17 0h0m16 0h0m2 0h0m2 0h0m11 0h0m56 0h0m57 0h0m12 0h0m16 0h0m38 0h0m10 0h0m7 0h0m58 0h0m14 0h0m25 0h0m8 0h0m8 0h0m3 0h0m18 0h0m1 0h0m3 0h0m37 0h0m14 0h0m-582 1h0m38 0h0m2 0h0m34 0h0m28 0h0m10 0h0m14 0h0m15 0h0m18 0h0m70 0h0m30 0h0m19 0h0m9 0h0m23 0h0m43 0h0m7 0h0m10 0h0m1 0h0m6 0h0m15 0h0m28 0h0m110 0h0m-554 1h0m19 0h0m1 0h0m39 0h0m20 0h0m3 0h0m51 0h0m15 0h0m25 0h0m144 0h0m19 0h0m45 0h0m14 0h0m14 0h0m31 0h0m18 0h0m15 0h0m70 0h0m6 0h0m76 0h0m-594 1h0m55 0h0m14 0h0m35 0h0m6 0h0m19 0h0m27 0h0m16 0h0m18 0h0m35 0h0m103 0h0m6 0h0m27 0h0m10 0h0m123 0h0m1 0h0m23 0h0m1 0h0m38 0h0m10 0h0m2 0h0m13 0h0m-586 1h0m52 0h0m15 0h0m220 0h0m37 0h0m164 0h0m41 0h0m1 0h0m23 0h0m19 0h0m20 0h0m-558 1h0m9 0h0m25 0h0m22 0h0m2 0h0m28 0h0m5 0h0m63 0h0m5 0h0m72 0h0m23 0h0m24 0h0m3 0h0m1 0h0m13 0h0m11 0h0m16 0h0m11 0h0m122 0h0m9 0h0m4 0h0m12 0h0m59 0h0m7 0h0m3 0h0m1 0h0m2 0h0m9 0h0m-616 1h0m20 0h0m21 0h0m16 0h0m3 0h0m8 0h0m13 0h0m7 0h0m8 0h0m12 0h0m8 0h0m3 0h0m10 0h0m41 0h0m34 0h0m1 0h0m11 0h0m105 0h0m43 0h0m21 0h0m48 0h0m22 0h0m22 0h0m13 0h0m27 0h0m3 0h0m6 0h0m16 0h0m36 0h0m12 0h0m28 0h0m-596 1h0m2 0h0m24 0h0m20 0h0m41 0h0m11 0h0m13 0h0m11 0h0m27 0h0m36 0h0m119 0h0m10 0h0m24 0h0m6 0h0m12 0h0m12 0h0m5 0h0m14 0h0m45 0h0m35 0h0m56 0h0m3 0h0m26 0h0m21 0h0m8 0h0m-596 1h0m90 0h0m48 0h0m40 0h0m9 0h0m3 0h0m14 0h0m106 0h0m42 0h0m71 0h0m7 0h0m77 0h0m69 0h0m-591 1h0m20 0h0m20 0h0m10 0h0m7 0h0m10 0h0m35 0h0m4 0h0m15 0h0m2 0h0m9 0h0m22 0h0m23 0h0m2 0h0m207 0h0m23 0h0m5 0h0m73 0h0m57 0h0m15 0h0m31 0h0m30 0h0m-602 1h0m13 0h0m38 0h0m50 0h0m9 0h0m5 0h0m155 0h0m46 0h0m15 0h0m4 0h0m1 0h0m43 0h0m8 0h0m85 0h0m28 0h0m3 0h0m1 0h0m1 0h0m3 0h0m29 0h0m58 0h0m8 0h0m2 0h0m4 0h0m-617 1h0m70 0h0m24 0h0m24 0h0m32 0h0m52 0h0m81 0h0m5 0h0m11 0h0m6 0h0m19 0h0m7 0h0m2 0h0m13 0h0m8 0h0m43 0h0m65 0h0m28 0h0m6 0h0m24 0h0m2 0h0m3 0h0m16 0h0m2 0h0m25 0h0m15 0h0m10 0h0m14 0h0m-615 1h0m13 0h0m21 0h0m7 0h0m5 0h0m9 0h0m11 0h0m5 0h0m4 0h0m8 0h0m10 0h0m2 0h0m23 0h0m8 0h0m1 0h0m4 0h0m15 0h0m2 0h0m2 0h0m15 0h0m1 0h0m1 0h0m34 0h0m51 0h0m32 0h0m4 0h0m38 0h0m4 0h0m5 0h0m14 0h0m10 0h0m5 0h0m1 0h0m1 0h0m7 0h0m14 0h0m6 0h0m12 0h0m16 0h0m64 0h0m1 0h0m9 0h0m16 0h0m8 0h0m2 0h0m1 0h0m7 0h0m6 0h0m14 0h0m3 0h0m17 0h0m25 0h0m13 0h0m7 0h0m-607 1h0m2 0h0m17 0h0m19 0h0m2 0h0m9 0h0m3 0h0m5 0h0m6 0h0m12 0h0m15 0h0m3 0h0m4 0h0m10 0h0m1 0h0m14 0h0m21 0h0m14 0h0m23 0h0m26 0h0m1 0h0m6 0h0m56 0h0m6 0h0m22 0h0m8 0h0m20 0h0m4 0h0m11 0h0m1 0h0m4 0h0m12 0h0m18 0h0m10 0h0m9 0h0m26 0h0m3 0h0m30 0h0m15 0h0m2 0h0m11 0h0m10 0h0m4 0h0m7 0h0m3 0h0m3 0h0m3 0h0m2 0h0m2 0h0m18 0h0m29 0h0m16 0h0m4 0h0m1 0h0m10 0h0m23 0h0m-620 1h0m67 0h0m11 0h0m15 0h0m6 0h0m10 0h0m2 0h0m16 0h0m18 0h0m15 0h0m46 0h0m4 0h0m4 0h0m2 0h0m4 0h0m3 0h0m5 0h0m31 0h0m10 0h0m2 0h0m13 0h0m48 0h0m27 0h0m5 0h0m4 0h0m6 0h0m53 0h0m27 0h0m21 0h0m53 0h0m8 0h0m8 0h0m28 0h0m23 0h0m4 0h0m-600 1h0m23 0h0m2 0h0m3 0h0m14 0h0m22 0h0m14 0h0m18 0h0m3 0h0m13 0h0m2 0h0m14 0h0m11 0h0m18 0h0m2 0h0m4 0h0m5 0h0m3 0h0m13 0h0m36 0h0m43 0h0m20 0h0m50 0h0m2 0h0m8 0h0m3 0h0m51 0h0m37 0h0m4 0h0m36 0h0m31 0h0m14 0h0m2 0h0m8 0h0m44 0h0m15 0h0m-580 1h0m1 0h0m2 0h0m1 0h0m12 0h0m2 0h0m14 0h0m21 0h0m24 0h0m4 0h0m1 0h0m9 0h0m13 0h0m7 0h0m2 0h0m27 0h0m6 0h0m2 0h0m10 0h0m4 0h0m1 0h0m27 0h0m2 0h0m3 0h0m7 0h0m5 0h0m1 0h0m38 0h0m93 0h0m13 0h0m3 0h0m12 0h0m14 0h0m1 0h0m2 0h0m65 0h0m2 0h0m9 0h0m33 0h0m16 0h0m6 0h0m7 0h0m79 0h0m14 0h0m-603 1h0m2 0h0m4 0h0m6 0h0m30 0h0m6 0h0m13 0h0m15 0h0m23 0h0m105 0h0m66 0h0m20 0h0m17 0h0m14 0h0m3 0h0m9 0h0m4 0h0m1 0h0m2 0h0m15 0h0m2 0h0m9 0h0m4 0h0m3 0h0m34 0h0m17 0h0m11 0h0m13 0h0m7 0h0m41 0h0m1 0h0m2 0h0m1 0h0m4 0h0m8 0h0m66 0h0m1 0h0m4 0h0m-591 1h0m5 0h0m23 0h0m3 0h0m27 0h0m48 0h0m17 0h0m14 0h0m4 0h0m7 0h0m34 0h0m3 0h0m6 0h0m3 0h0m6 0h0m45 0h0m15 0h0m17 0h0m34 0h0m11 0h0m1 0h0m5 0h0m5 0h0m16 0h0m29 0h0m19 0h0m24 0h0m77 0h0m4 0h0m6 0h0m3 0h0m1 0h0m8 0h0m9 0h0m15 0h0m17 0h0m6 0h0m2 0h0m1 0h0m24 0h0m3 0h0m9 0h0m-620 1h0m2 0h0m9 0h0m13 0h0m8 0h0m14 0h0m11 0h0m57 0h0m11 0h0m23 0h0m112 0h0m17 0h0m8 0h0m37 0h0m12 0h0m16 0h0m1 0h0m3 0h0m13 0h0m30 0h0m8 0h0m61 0h0m47 0h0m6 0h0m8 0h0m8 0h0m25 0h0m49 0h0m-604 1h0m7 0h0m2 0h0m19 0h0m4 0h0m11 0h0m6 0h0m1 0h0m2 0h0m5 0h0m2 0h0m56 0h0m2 0h0m3 0h0m11 0h0m28 0h0m3 0h0m6 0h0m10 0h0m23 0h0m5 0h0m1 0h0m4 0h0m37 0h0m3 0h0m27 0h0m31 0h0m13 0h0m53 0h0m1 0h0m7 0h0m43 0h0m39 0h0m49 0h0m5 0h0m30 0h0m1 0h0m2 0h0m4 0h0m3 0h0m45 0h0m4 0h0m2 0h0m-609 1h0m31 0h0m6 0h0m10 0h0m7 0h0m5 0h0m2 0h0m2 0h0m1 0h0m3 0h0m21 0h0m12 0h0m9 0h0m4 0h0m1 0h0m9 0h0m6 0h0m13 0h0m35 0h0m22 0h0m7 0h0m43 0h0m17 0h0m9 0h0m30 0h0m6 0h0m6 0h0m1 0h0m9 0h0m1 0h0m5 0h0m10 0h0m10 0h0m1 0h0m3 0h0m3 0h0m1 0h0m7 0h0m7 0h0m8 0h0m2 0h0m3 0h0m19 0h0m33 0h0m73 0h0m3 0h0m3 0h0m8 0h0m15 0h0m68 0h0m3 0h0m-622 1h0m3 0h0m9 0h0m3 0h0m5 0h0m2 0h0m3 0h0m5 0h0m3 0h0m3 0h0m2 0h0m9 0h0m9 0h0m17 0h0m10 0h0m23 0h0m1 0h0m2 0h0m13 0h0m4 0h0m6 0h0m4 0h0m4 0h0m7 0h0m1 0h0m1 0h0m5 0h0m39 0h0m2 0h0m13 0h0m3 0h0m6 0h0m6 0h0m2 0h0m4 0h0m27 0h0m4 0h0m6 0h0m7 0h0m3 0h0m5 0h0m4 0h0m50 0h0m2 0h0m2 0h0m14 0h0m6 0h0m11 0h0m4 0h0m2 0h0m1 0h0m5 0h0m1 0h0m2 0h0m1 0h0m2 0h0m4 0h0m6 0h0m7 0h0m3 0h0m4 0h0m5 0h0m20 0h0m5 0h0m20 0h0m2 0h0m5 0h0m6 0h0m5 0h0m1 0h0m30 0h0m4 0h0m8 0h0m4 0h0m2 0h0m2 0h0m1 0h0m1 0h0m2 0h0m1 0h0m3 0h0m5 0h0m6 0h0m2 0h0m1 0h0m1 0h0m1 0h0m2 0h0m4 0h0m13 0h0m14 0h0m8 0h0m7 0h0m3 0h0m-599 1h0m3 0h0m1 0h0m1 0h0m2 0h0m1 0h0m2 0h0m3 0h0m2 0h0m1 0h0m5 0h0m3 0h0m8 0h0m1 0h0m1 0h0m5 0h0m1 0h0m1 0h0m11 0h0m1 0h0m5 0h0m1 0h0m4 0h0m1 0h0m3 0h0m1 0h0m2 0h0m2 0h0m8 0h0m15 0h0m2 0h0m2 0h0m12 0h0m3 0h0m1 0h0m5 0h0m2 0h0m4 0h0m10 0h0m14 0h0m4 0h0m5 0h0m9 0h0m6 0h0m4 0h0m13 0h0m5 0h0m3 0h0m2 0h0m4 0h0m2 0h0m3 0h0m2 0h0m2 0h0m1 0h0m11 0h0m1 0h0m24 0h0m1 0h0m1 0h0m6 0h0m5 0h0m10 0h0m8 0h0m11 0h0m12 0h0m23 0h0m1 0h0m3 0h0m3 0h0m5 0h0m9 0h0m4 0h0m3 0h0m1 0h0m1 0h0m1 0h0m10 0h0m4 0h0m1 0h0m2 0h0m3 0h0m4 0h0m2 0h0m1 0h0m2 0h0m3 0h0m1 0h0m2 0h0m20 0h0m6 0h0m5 0h0m2 0h0m1 0h0m3 0h0m6 0h0m1 0h0m3 0h0m1 0h0m1 0h0m5 0h0m2 0h0m12 0h0m33 0h0m3 0h0m16 0h0m4 0h0m1 0h0m3 0h0m5 0h0m1 0h0m2 0h0m6 0h0m3 0h0m5 0h0m3 0h0m1 0h0m1 0h0m6 0h0m5 0h0m3 0h0m4 0h0m4 0h0m6 0h0m6 0h0m4 0h0m3 0h0m5 0h0m4 0h0m1 0h0m4 0h0m1 0h0m1 0h0m3 0h0m3 0h0m8 0h0m-620 1h0m11 0h0m4 0h0m13 0h0m2 0h0m7 0h0m10 0h0m2 0h0m2 0h0m3 0h0m5 0h0m1 0h0m2 0h0m1 0h0m6 0h0m2 0h0m26 0h0m2 0h0m19 0h0m5 0h0m7 0h0m3 0h0m1 0h0m2 0h0m8 0h0m4 0h0m17 0h0m5 0h0m5 0h0m19 0h0m10 0h0m4 0h0m2 0h0m6 0h0m1 0h0m10 0h0m29 0h0m17 0h0m9 0h0m45 0h0m3 0h0m8 0h0m5 0h0m1 0h0m13 0h0m2 0h0m2 0h0m18 0h0m4 0h0m5 0h0m1 0h0m3 0h0m38 0h0m43 0h0m27 0h0m13 0h0m1 0h0m10 0h0m2 0h0m3 0h0m7 0h0m2 0h0m2 0h0m57 0h0m15 0h0m11 0h0m-626 1h0m11 0h0m2 0h0m6 0h0m12 0h0m32 0h0m2 0h0m1 0h0m6 0h0m12 0h0m11 0h0m8 0h0m4 0h0m5 0h0m5 0h0m3 0h0m10 0h0m3 0h0m2 0h0m3 0h0m25 0h0m4 0h0m5 0h0m15 0h0m16 0h0m13 0h0m7 0h0m43 0h0m8 0h0m34 0h0m26 0h0m1 0h0m6 0h0m2 0h0m10 0h0m5 0h0m3 0h0m4 0h0m6 0h0m1 0h0m2 0h0m2 0h0m11 0h0m2 0h0m14 0h0m4 0h0m18 0h0m2 0h0m7 0h0m29 0h0m4 0h0m2 0h0m19 0h0m4 0h0m24 0h0m9 0h0m7 0h0m4 0h0m8 0h0m9 0h0m17 0h0m12 0h0m9 0h0m7 0h0m7 0h0m8 0h0m4 0h0m6 0h0m-600 1h0m2 0h0m16 0h0m21 0h0m4 0h0m4 0h0m12 0h0m10 0h0m3 0h0m1 0h0m28 0h0m2 0h0m9 0h0m7 0h0m2 0h0m19 0h0m3 0h0m7 0h0m4 0h0m13 0h0m4 0h0m14 0h0m1 0h0m1 0h0m6 0h0m9 0h0m3 0h0m23 0h0m83 0h0m4 0h0m6 0h0m9 0h0m4 0h0m2 0h0m3 0h0m7 0h0m7 0h0m10 0h0m3 0h0m18 0h0m7 0h0m78 0h0m16 0h0m15 0h0m1 0h0m5 0h0m1 0h0m2 0h0m2 0h0m6 0h0m13 0h0m3 0h0m5 0h0m5 0h0m28 0h0m5 0h0m9 0h0m4 0h0m1 0h0m4 0h0m8 0h0m1 0h0m-630 1h0m4 0h0m3 0h0m1 0h0m2 0h0m3 0h0m3 0h0m11 0h0m2 0h0m4 0h0m7 0h0m15 0h0m15 0h0m1 0h0m1 0h0m32 0h0m2 0h0m3 0h0m7 0h0m7 0h0m1 0h0m4 0h0m2 0h0m5 0h0m3 0h0m2 0h0m11 0h0m18 0h0m1 0h0m12 0h0m2 0h0m27 0h0m22 0h0m1 0h0m21 0h0m23 0h0m8 0h0m50 0h0m6 0h0m5 0h0m3 0h0m2 0h0m16 0h0m7 0h0m1 0h0m1 0h0m1 0h0m19 0h0m18 0h0m11 0h0m2 0h0m61 0h0m5 0h0m31 0h0m1 0h0m2 0h0m1 0h0m7 0h0m3 0h0m6 0h0m3 0h0m6 0h0m4 0h0m1 0h0m4 0h0m1 0h0m1 0h0m23 0h0m2 0h0m3 0h0m3 0h0m6 0h0m15 0h0m-613 1h0m6 0h0m1 0h0m3 0h0m6 0h0m5 0h0m10 0h0m1 0h0m9 0h0m1 0h0m1 0h0m2 0h0m4 0h0m8 0h0m2 0h0m2 0h0m4 0h0m1 0h0m2 0h0m9 0h0m6 0h0m5 0h0m9 0h0m8 0h0m10 0h0m1 0h0m2 0h0m1 0h0m2 0h0m4 0h0m7 0h0m3 0h0m5 0h0m6 0h0m6 0h0m2 0h0m1 0h0m1 0h0m1 0h0m3 0h0m6 0h0m1 0h0m3 0h0m3 0h0m1 0h0m3 0h0m5 0h0m15 0h0m5 0h0m3 0h0m5 0h0m3 0h0m2 0h0m3 0h0m2 0h0m5 0h0m3 0h0m3 0h0m29 0h0m9 0h0m1 0h0m9 0h0m12 0h0m3 0h0m2 0h0m11 0h0m11 0h0m6 0h0m6 0h0m11 0h0m5 0h0m7 0h0m1 0h0m11 0h0m1 0h0m5 0h0m5 0h0m5 0h0m5 0h0m1 0h0m2 0h0m5 0h0m2 0h0m4 0h0m10 0h0m4 0h0m6 0h0m10 0h0m6 0h0m3 0h0m9 0h0m4 0h0m14 0h0m3 0h0m2 0h0m5 0h0m12 0h0m19 0h0m7 0h0m3 0h0m2 0h0m7 0h0m2 0h0m8 0h0m1 0h0m5 0h0m2 0h0m5 0h0m3 0h0m5 0h0m11 0h0m5 0h0m8 0h0m13 0h0m4 0h0m2 0h0m11 0h0m2 0h0m6 0h0m6 0h0m-627 1h0m1 0h0m2 0h0m3 0h0m1 0h0m14 0h0m1 0h0m5 0h0m7 0h0m3 0h0m3 0h0m7 0h0m2 0h0m4 0h0m9 0h0m1 0h0m4 0h0m2 0h0m1 0h0m1 0h0m2 0h0m6 0h0m1 0h0m3 0h0m11 0h0m1 0h0m2 0h0m4 0h0m9 0h0m2 0h0m6 0h0m2 0h0m3 0h0m1 0h0m8 0h0m2 0h0m2 0h0m12 0h0m1 0h0m4 0h0m2 0h0m10 0h0m1 0h0m12 0h0m6 0h0m5 0h0m22 0h0m1 0h0m2 0h0m1 0h0m1 0h0m12 0h0m3 0h0m22 0h0m3 0h0m1 0h0m7 0h0m7 0h0m20 0h0m2 0h0m16 0h0m15 0h0m3 0h0m6 0h0m4 0h0m5 0h0m7 0h0m4 0h0m1 0h0m7 0h0m8 0h0m4 0h0m8 0h0m4 0h0m3 0h0m3 0h0m6 0h0m6 0h0m3 0h0m1 0h0m11 0h0m2 0h0m12 0h0m17 0h0m10 0h0m1 0h0m10 0h0m3 0h0m2 0h0m8 0h0m23 0h0m5 0h0m3 0h0m1 0h0m6 0h0m1 0h0m2 0h0m3 0h0m3 0h0m1 0h0m2 0h0m8 0h0m5 0h0m4 0h0m3 0h0m1 0h0m3 0h0m8 0h0m2 0h0m12 0h0m1 0h0m7 0h0m6 0h0m1 0h0m4 0h0m1 0h0m1 0h0m1 0h0m1 0h0m5 0h0m4 0h0m2 0h0m1 0h0m1 0h0m2 0h0m2 0h0m2 0h0m4 0h0m1 0h0m-625 1h0m2 0h0m2 0h0m13 0h0m2 0h0m28 0h0m16 0h0m8 0h0m1 0h0m3 0h0m5 0h0m1 0h0m8 0h0m12 0h0m20 0h0m6 0h0m4 0h0m22 0h0m4 0h0m4 0h0m2 0h0m4 0h0m2 0h0m3 0h0m3 0h0m2 0h0m1 0h0m29 0h0m5 0h0m3 0h0m1 0h0m3 0h0m3 0h0m30 0h0m1 0h0m5 0h0m10 0h0m15 0h0m7 0h0m13 0h0m18 0h0m1 0h0m7 0h0m1 0h0m4 0h0m8 0h0m1 0h0m6 0h0m12 0h0m3 0h0m15 0h0m4 0h0m1 0h0m4 0h0m1 0h0m7 0h0m6 0h0m6 0h0m19 0h0m2 0h0m6 0h0m3 0h0m12 0h0m9 0h0m9 0h0m16 0h0m7 0h0m10 0h0m14 0h0m3 0h0m1 0h0m4 0h0m1 0h0m9 0h0m2 0h0m1 0h0m3 0h0m5 0h0m1 0h0m8 0h0m14 0h0m5 0h0m10 0h0m4 0h0m2 0h0m5 0h0m5 0h0m4 0h0m2 0h0m1 0h0m1 0h0m3 0h0m3 0h0m6 0h0m4 0h0m-602 1h0m3 0h0m15 0h0m8 0h0m12 0h0m32 0h0m13 0h0m2 0h0m16 0h0m16 0h0m14 0h0m4 0h0m14 0h0m24 0h0m20 0h0m10 0h0m7 0h0m3 0h0m17 0h0m6 0h0m6 0h0m14 0h0m20 0h0m39 0h0m1 0h0m2 0h0m16 0h0m5 0h0m7 0h0m14 0h0m9 0h0m6 0h0m18 0h0m1 0h0m48 0h0m17 0h0m8 0h0m15 0h0m8 0h0m18 0h0m5 0h0m2 0h0m54 0h0m23 0h0m1 0h0m-379 1h0m-240 1h0m259 3h0m-2 2h0m-256 2h0m238 0h0m396 0h0m-633 1h0m237 0h0m17 2h0m-17 1h0m1 1h0m16 0h0m-254 1h0m254 0h0m1 0h0m-256 1h0m241 0h0m14 0h0m0 1h0m1 0h0m-17 4h0m15 0h0m-253 1h0m633 0h0m-394 1h0m394 0h0m-634 2h0m2 0h0m633 0h0m-634 2h0m237 0h0m-237 1h0m255 0h0m-18 1h0m0 2h0m0 1h0m-238 2h0m237 0h0m-235 1h0m633 0h0m-1 2h0m1 2h0m-398 1h0m2 0h0m15 1h0m2 0h0m376 0h0m3 0h0m-635 1h0m255 0h0m378 1h0m-631 2h0m235 0h0m395 0h0m-631 2h0m254 0h0m380 0h0m-379 3h0m377 0h0m-379 2h0m1 0h0m378 0h0m-376 1h0m-19 1h0m397 0h0m0 1h0m-633 2h0m252 0h0m2 0h0m-18 1h0m0 2h0m-237 3h0m238 0h0m395 2h0m-633 2h0m237 0h0m396 3h0m-378 1h0m379 0h0m-635 4h0m254 1h0m-252 1h0m633 0h0m-635 3h0m634 0h0m-377 1h0m-256 1h0m3 0h0m234 0h0m395 0h0m0 4h0m-379 1h0m-16 4h0m1 2h0m395 0h0m-632 1h0m631 0h0m-631 1h0m632 0h0m-632 3h0m235 1h0m1 0h0m1 0h0m395 0h0m-633 3h0m255 0h0m-1 1h0m-254 1h0m1 0h0m-2 2h0m257 0h0m-17 1h0m15 2h0m-18 1h0m397 2h0m-633 1h0m2 0h0m253 0h0m378 1h0m-378 4h0m-16 2h0m15 0h0m-253 1h0m237 1h0m17 2h0m0 1h0m0 2h0m377 0h0m-631 2h0m631 0h0m-632 1h0m254 0h0m378 1h0m3 1h0m-636 1h0m1 0h0m237 0h0m2 0h0m-1 3h0m-238 1h0m253 0h0m-16 1h0m-238 1h0m239 2h0m1 0h0m394 0h0m-1 1h0m-632 1h0m237 0h0m395 0h0m-377 1h0m377 0h0m2 0h0m2 0h0m-637 2h0m239 0h0m17 0h0m0 2h0m379 0h0m-379 1h0m-1 2h0m1 2h0m-16 3h0m17 1h0m378 0h0m-635 1h0m256 0h0m-18 1h0m-238 2h0m239 0h0m17 0h0m2 1h0m375 2h0m1 1h0m-395 1h0m394 0h0m1 0h0m-633 1h0m633 0h0m-633 2h0m633 1h0m-379 2h0m2 0h0m376 1h0m-633 1h0m238 0h0m1 2h0m-226 1h0m8 0h0m61 0h0m5 0h0m18 0h0m2 0h0m13 0h0m13 0h0m1 0h0m15 0h0m31 0h0m23 0h0m18 0h0m5 0h0m32 0h0m3 0h0m15 0h0m1 0h0m10 0h0m17 0h0m1 0h0m2 0h0m15 0h0m1 0h0m2 0h0m7 0h0m1 0h0m5 0h0m4 0h0m1 0h0m4 0h0m18 0h0m7 0h0m2 0h0m1 0h0m2 0h0m3 0h0m8 0h0m14 0h0m19 0h0m7 0h0m16 0h0m9 0h0m9 0h0m2 0h0m12 0h0m2 0h0m4 0h0m10 0h0m13 0h0m7 0h0m10 0h0m15 0h0m1 0h0m1 0h0m16 0h0m3 0h0m43 0h0m10 0h0m17 0h0m4 0h0m-629 1h0m13 0h0m1 0h0m4 0h0m3 0h0m4 0h0m3 0h0m6 0h0m1 0h0m6 0h0m4 0h0m7 0h0m2 0h0m2 0h0m1 0h0m15 0h0m1 0h0m4 0h0m6 0h0m2 0h0m1 0h0m1 0h0m1 0h0m8 0h0m4 0h0m8 0h0m2 0h0m4 0h0m2 0h0m4 0h0m3 0h0m2 0h0m8 0h0m5 0h0m6 0h0m11 0h0m2 0h0m2 0h0m8 0h0m1 0h0m15 0h0m13 0h0m8 0h0m11 0h0m3 0h0m2 0h0m1 0h0m34 0h0m1 0h0m3 0h0m6 0h0m6 0h0m6 0h0m7 0h0m4 0h0m12 0h0m10 0h0m7 0h0m4 0h0m5 0h0m5 0h0m2 0h0m1 0h0m3 0h0m6 0h0m6 0h0m4 0h0m4 0h0m1 0h0m4 0h0m10 0h0m7 0h0m1 0h0m5 0h0m4 0h0m4 0h0m3 0h0m19 0h0m30 0h0m2 0h0m27 0h0m7 0h0m2 0h0m19 0h0m2 0h0m3 0h0m2 0h0m3 0h0m1 0h0m5 0h0m7 0h0m1 0h0m2 0h0m7 0h0m1 0h0m1 0h0m2 0h0m11 0h0m1 0h0m4 0h0m10 0h0m10 0h0m7 0h0m8 0h0m1 0h0m1 0h0m5 0h0m5 0h0m6 0h0m10 0h0m1 0h0m5 0h0m5 0h0m-622 1h0m11 0h0m2 0h0m8 0h0m1 0h0m2 0h0m9 0h0m13 0h0m1 0h0m16 0h0m6 0h0m4 0h0m4 0h0m2 0h0m4 0h0m4 0h0m6 0h0m1 0h0m2 0h0m1 0h0m4 0h0m1 0h0m13 0h0m5 0h0m9 0h0m2 0h0m11 0h0m2 0h0m2 0h0m7 0h0m1 0h0m19 0h0m3 0h0m12 0h0m16 0h0m1 0h0m1 0h0m2 0h0m2 0h0m5 0h0m10 0h0m1 0h0m1 0h0m24 0h0m8 0h0m1 0h0m1 0h0m20 0h0m2 0h0m2 0h0m2 0h0m1 0h0m3 0h0m10 0h0m18 0h0m2 0h0m3 0h0m1 0h0m4 0h0m5 0h0m1 0h0m1 0h0m3 0h0m2 0h0m3 0h0m2 0h0m4 0h0m11 0h0m2 0h0m1 0h0m5 0h0m4 0h0m5 0h0m8 0h0m13 0h0m10 0h0m1 0h0m2 0h0m9 0h0m4 0h0m5 0h0m1 0h0m19 0h0m15 0h0m1 0h0m7 0h0m4 0h0m9 0h0m6 0h0m1 0h0m4 0h0m1 0h0m1 0h0m3 0h0m1 0h0m1 0h0m2 0h0m2 0h0m4 0h0m5 0h0m1 0h0m1 0h0m3 0h0m5 0h0m2 0h0m2 0h0m4 0h0m5 0h0m1 0h0m5 0h0m6 0h0m14 0h0m20 0h0m11 0h0m2 0h0m11 0h0m1 0h0m5 0h0m4 0h0m1 0h0m-603 1h0m29 0h0m2 0h0m2 0h0m9 0h0m13 0h0m1 0h0m1 0h0m4 0h0m2 0h0m4 0h0m2 0h0m2 0h0m1 0h0m11 0h0m3 0h0m3 0h0m4 0h0m8 0h0m5 0h0m4 0h0m2 0h0m1 0h0m4 0h0m1 0h0m9 0h0m24 0h0m1 0h0m1 0h0m8 0h0m4 0h0m8 0h0m10 0h0m12 0h0m5 0h0m37 0h0m1 0h0m30 0h0m1 0h0m1 0h0m17 0h0m4 0h0m2 0h0m1 0h0m3 0h0m6 0h0m1 0h0m20 0h0m2 0h0m11 0h0m1 0h0m2 0h0m1 0h0m9 0h0m5 0h0m14 0h0m6 0h0m14 0h0m5 0h0m7 0h0m8 0h0m3 0h0m13 0h0m2 0h0m26 0h0m12 0h0m16 0h0m10 0h0m1 0h0m1 0h0m9 0h0m1 0h0m7 0h0m45 0h0m1 0h0m4 0h0m1 0h0m1 0h0m2 0h0m31 0h0m10 0h0m-611 1h0m6 0h0m3 0h0m7 0h0m4 0h0m24 0h0m3 0h0m5 0h0m6 0h0m2 0h0m33 0h0m14 0h0m2 0h0m2 0h0m13 0h0m5 0h0m1 0h0m8 0h0m40 0h0m6 0h0m3 0h0m6 0h0m21 0h0m1 0h0m21 0h0m2 0h0m5 0h0m6 0h0m30 0h0m7 0h0m35 0h0m1 0h0m9 0h0m3 0h0m5 0h0m3 0h0m7 0h0m19 0h0m1 0h0m24 0h0m12 0h0m5 0h0m25 0h0m16 0h0m33 0h0m1 0h0m11 0h0m8 0h0m7 0h0m5 0h0m24 0h0m28 0h0m8 0h0m5 0h0m4 0h0m25 0h0m-612 1h0m1 0h0m6 0h0m34 0h0m9 0h0m9 0h0m20 0h0m4 0h0m37 0h0m7 0h0m4 0h0m1 0h0m10 0h0m4 0h0m4 0h0m20 0h0m21 0h0m4 0h0m8 0h0m56 0h0m1 0h0m2 0h0m18 0h0m2 0h0m3 0h0m5 0h0m8 0h0m1 0h0m7 0h0m5 0h0m2 0h0m15 0h0m16 0h0m49 0h0m2 0h0m23 0h0m20 0h0m10 0h0m8 0h0m42 0h0m2 0h0m1 0h0m9 0h0m5 0h0m7 0h0m8 0h0m23 0h0m21 0h0m34 0h0m-607 1h0m16 0h0m3 0h0m32 0h0m1 0h0m1 0h0m2 0h0m43 0h0m16 0h0m1 0h0m2 0h0m1 0h0m1 0h0m8 0h0m2 0h0m8 0h0m17 0h0m1 0h0m1 0h0m24 0h0m9 0h0m7 0h0m3 0h0m5 0h0m40 0h0m8 0h0m2 0h0m3 0h0m10 0h0m5 0h0m8 0h0m15 0h0m6 0h0m2 0h0m2 0h0m5 0h0m6 0h0m7 0h0m5 0h0m2 0h0m5 0h0m10 0h0m4 0h0m2 0h0m7 0h0m3 0h0m1 0h0m2 0h0m37 0h0m60 0h0m18 0h0m2 0h0m4 0h0m11 0h0m3 0h0m8 0h0m5 0h0m4 0h0m10 0h0m5 0h0m1 0h0m39 0h0m6 0h0m16 0h0m-610 1h0m15 0h0m3 0h0m7 0h0m4 0h0m2 0h0m11 0h0m13 0h0m17 0h0m1 0h0m3 0h0m1 0h0m4 0h0m4 0h0m4 0h0m5 0h0m30 0h0m6 0h0m3 0h0m2 0h0m4 0h0m2 0h0m6 0h0m2 0h0m2 0h0m4 0h0m20 0h0m11 0h0m20 0h0m1 0h0m5 0h0m1 0h0m67 0h0m4 0h0m19 0h0m8 0h0m4 0h0m7 0h0m1 0h0m11 0h0m8 0h0m7 0h0m4 0h0m20 0h0m7 0h0m21 0h0m32 0h0m1 0h0m21 0h0m8 0h0m6 0h0m2 0h0m31 0h0m9 0h0m9 0h0m6 0h0m14 0h0m13 0h0m11 0h0m15 0h0m47 0h0m1 0h0m-625 1h0m5 0h0m8 0h0m7 0h0m8 0h0m2 0h0m7 0h0m2 0h0m25 0h0m4 0h0m2 0h0m1 0h0m2 0h0m2 0h0m1 0h0m1 0h0m1 0h0m2 0h0m1 0h0m3 0h0m3 0h0m11 0h0m2 0h0m3 0h0m10 0h0m15 0h0m4 0h0m3 0h0m4 0h0m5 0h0m1 0h0m8 0h0m1 0h0m1 0h0m17 0h0m2 0h0m19 0h0m2 0h0m1 0h0m11 0h0m3 0h0m6 0h0m13 0h0m26 0h0m35 0h0m4 0h0m1 0h0m1 0h0m4 0h0m1 0h0m6 0h0m9 0h0m2 0h0m4 0h0m8 0h0m1 0h0m2 0h0m1 0h0m2 0h0m1 0h0m1 0h0m3 0h0m2 0h0m3 0h0m1 0h0m3 0h0m2 0h0m12 0h0m6 0h0m6 0h0m2 0h0m3 0h0m1 0h0m21 0h0m13 0h0m4 0h0m19 0h0m20 0h0m1 0h0m1 0h0m1 0h0m11 0h0m3 0h0m5 0h0m9 0h0m9 0h0m3 0h0m2 0h0m4 0h0m1 0h0m7 0h0m3 0h0m11 0h0m1 0h0m27 0h0m17 0h0m2 0h0m9 0h0m1 0h0m5 0h0m4 0h0m5 0h0m26 0h0m-629 1h0m15 0h0m6 0h0m5 0h0m3 0h0m27 0h0m3 0h0m10 0h0m1 0h0m2 0h0m5 0h0m4 0h0m5 0h0m4 0h0m5 0h0m6 0h0m2 0h0m2 0h0m32 0h0m25 0h0m5 0h0m12 0h0m8 0h0m5 0h0m2 0h0m4 0h0m3 0h0m3 0h0m7 0h0m2 0h0m3 0h0m8 0h0m7 0h0m3 0h0m25 0h0m15 0h0m36 0h0m6 0h0m11 0h0m10 0h0m8 0h0m4 0h0m11 0h0m4 0h0m1 0h0m8 0h0m2 0h0m4 0h0m3 0h0m18 0h0m9 0h0m2 0h0m6 0h0m20 0h0m23 0h0m6 0h0m2 0h0m1 0h0m6 0h0m4 0h0m2 0h0m11 0h0m10 0h0m10 0h0m5 0h0m6 0h0m1 0h0m10 0h0m21 0h0m2 0h0m8 0h0m5 0h0m4 0h0m12 0h0m7 0h0m26 0h0m7 0h0m-609 1h0m29 0h0m22 0h0m3 0h0m5 0h0m6 0h0m1 0h0m1 0h0m1 0h0m1 0h0m12 0h0m22 0h0m11 0h0m6 0h0m1 0h0m6 0h0m1 0h0m4 0h0m17 0h0m5 0h0m30 0h0m1 0h0m30 0h0m36 0h0m6 0h0m25 0h0m1 0h0m12 0h0m12 0h0m1 0h0m4 0h0m7 0h0m15 0h0m3 0h0m9 0h0m15 0h0m2 0h0m2 0h0m3 0h0m7 0h0m1 0h0m8 0h0m9 0h0m34 0h0m2 0h0m1 0h0m24 0h0m12 0h0m6 0h0m6 0h0m11 0h0m22 0h0m20 0h0m6 0h0m14 0h0m26 0h0m3 0h0m24 0h0m5 0h0m-611 1h0m3 0h0m1 0h0m18 0h0m42 0h0m1 0h0m2 0h0m21 0h0m13 0h0m9 0h0m10 0h0m6 0h0m2 0h0m59 0h0m8 0h0m43 0h0m4 0h0m33 0h0m4 0h0m11 0h0m4 0h0m12 0h0m7 0h0m9 0h0m21 0h0m6 0h0m4 0h0m10 0h0m2 0h0m4 0h0m5 0h0m88 0h0m23 0h0m18 0h0m13 0h0m13 0h0m11 0h0m14 0h0m1 0h0m9 0h0m3 0h0m8 0h0m16 0h0m-606 1h0m3 0h0m13 0h0m2 0h0m26 0h0m13 0h0m16 0h0m3 0h0m1 0h0m2 0h0m4 0h0m11 0h0m6 0h0m9 0h0m7 0h0m31 0h0m23 0h0m103 0h0m25 0h0m30 0h0m6 0h0m5 0h0m3 0h0m3 0h0m7 0h0m17 0h0m19 0h0m39 0h0m27 0h0m17 0h0m33 0h0m1 0h0m5 0h0m5 0h0m9 0h0m16 0h0m12 0h0m2 0h0m21 0h0m-574 1h0m14 0h0m9 0h0m1 0h0m4 0h0m1 0h0m1 0h0m12 0h0m14 0h0m6 0h0m5 0h0m5 0h0m4 0h0m2 0h0m2 0h0m1 0h0m3 0h0m1 0h0m3 0h0m4 0h0m5 0h0m3 0h0m1 0h0m7 0h0m9 0h0m7 0h0m1 0h0m2 0h0m3 0h0m7 0h0m1 0h0m2 0h0m4 0h0m37 0h0m5 0h0m1 0h0m7 0h0m8 0h0m11 0h0m17 0h0m1 0h0m53 0h0m1 0h0m5 0h0m30 0h0m10 0h0m6 0h0m3 0h0m4 0h0m5 0h0m3 0h0m10 0h0m6 0h0m14 0h0m18 0h0m12 0h0m5 0h0m28 0h0m1 0h0m2 0h0m15 0h0m3 0h0m12 0h0m26 0h0m14 0h0m9 0h0m2 0h0m1 0h0m1 0h0m8 0h0m10 0h0m1 0h0m15 0h0m12 0h0m6 0h0m24 0h0m8 0h0m-616 1h0m14 0h0m6 0h0m7 0h0m1 0h0m4 0h0m12 0h0m7 0h0m5 0h0m3 0h0m3 0h0m6 0h0m1 0h0m3 0h0m5 0h0m3 0h0m1 0h0m2 0h0m3 0h0m1 0h0m5 0h0m5 0h0m6 0h0m19 0h0m3 0h0m4 0h0m28 0h0m2 0h0m3 0h0m23 0h0m21 0h0m7 0h0m11 0h0m5 0h0m52 0h0m4 0h0m3 0h0m7 0h0m2 0h0m22 0h0m14 0h0m33 0h0m4 0h0m4 0h0m8 0h0m3 0h0m4 0h0m18 0h0m11 0h0m4 0h0m15 0h0m5 0h0m3 0h0m13 0h0m7 0h0m5 0h0m3 0h0m13 0h0m11 0h0m5 0h0m10 0h0m5 0h0m1 0h0m6 0h0m19 0h0m10 0h0m22 0h0m2 0h0m17 0h0m2 0h0m13 0h0m11 0h0m-614 1h0m14 0h0m4 0h0m23 0h0m30 0h0m2 0h0m7 0h0m1 0h0m8 0h0m50 0h0m22 0h0m12 0h0m30 0h0m45 0h0m35 0h0m4 0h0m3 0h0m37 0h0m5 0h0m5 0h0m4 0h0m2 0h0m2 0h0m8 0h0m3 0h0m9 0h0m47 0h0m58 0h0m11 0h0m1 0h0m17 0h0m2 0h0m7 0h0m2 0h0m43 0h0m12 0h0m13 0h0m28 0h0m5 0h0m-544 1h0m2 0h0m6 0h0m3 0h0m3 0h0m1 0h0m16 0h0m10 0h0m4 0h0m8 0h0m6 0h0m13 0h0m2 0h0m6 0h0m45 0h0m4 0h0m17 0h0m15 0h0m52 0h0m2 0h0m2 0h0m9 0h0m1 0h0m4 0h0m10 0h0m1 0h0m12 0h0m6 0h0m1 0h0m9 0h0m34 0h0m3 0h0m1 0h0m17 0h0m36 0h0m3 0h0m11 0h0m12 0h0m2 0h0m18 0h0m8 0h0m28 0h0m4 0h0m8 0h0m10 0h0m16 0h0m21 0h0m1 0h0m18 0h0m10 0h0m6 0h0m4 0h0m-591 1h0m55 0h0m3 0h0m5 0h0m44 0h0m2 0h0m13 0h0m5 0h0m28 0h0m15 0h0m82 0h0m25 0h0m18 0h0m5 0h0m25 0h0m29 0h0m5 0h0m40 0h0m49 0h0m2 0h0m49 0h0m18 0h0m1 0h0m11 0h0m45 0h0m4 0h0m8 0h0m-582 1h0m5 0h0m15 0h0m26 0h0m2 0h0m1 0h0m6 0h0m18 0h0m20 0h0m5 0h0m3 0h0m23 0h0m10 0h0m7 0h0m2 0h0m2 0h0m16 0h0m3 0h0m2 0h0m11 0h0m13 0h0m37 0h0m1 0h0m23 0h0m11 0h0m13 0h0m12 0h0m8 0h0m11 0h0m2 0h0m5 0h0m8 0h0m8 0h0m11 0h0m11 0h0m71 0h0m61 0h0m8 0h0m5 0h0m5 0h0m1 0h0m11 0h0m11 0h0m20 0h0m10 0h0m3 0h0m1 0h0m9 0h0m11 0h0m-605 1h0m6 0h0m5 0h0m7 0h0m11 0h0m2 0h0m5 0h0m4 0h0m16 0h0m17 0h0m5 0h0m5 0h0m1 0h0m2 0h0m3 0h0m1 0h0m11 0h0m5 0h0m27 0h0m2 0h0m1 0h0m8 0h0m3 0h0m4 0h0m12 0h0m15 0h0m98 0h0m10 0h0m4 0h0m7 0h0m1 0h0m2 0h0m15 0h0m8 0h0m40 0h0m6 0h0m1 0h0m5 0h0m14 0h0m2 0h0m2 0h0m79 0h0m8 0h0m10 0h0m12 0h0m12 0h0m14 0h0m16 0h0m13 0h0m8 0h0m10 0h0m38 0h0m8 0h0m2 0h0m-605 1h0m3 0h0m26 0h0m21 0h0m12 0h0m4 0h0m2 0h0m2 0h0m3 0h0m60 0h0m1 0h0m6 0h0m19 0h0m24 0h0m22 0h0m8 0h0m24 0h0m26 0h0m13 0h0m30 0h0m20 0h0m18 0h0m14 0h0m2 0h0m1 0h0m76 0h0m7 0h0m12 0h0m20 0h0m25 0h0m5 0h0m45 0h0m15 0h0m15 0h0m2 0h0m7 0h0m19 0h0m-612 1h0m3 0h0m12 0h0m4 0h0m24 0h0m20 0h0m6 0h0m5 0h0m7 0h0m39 0h0m11 0h0m3 0h0m68 0h0m76 0h0m43 0h0m7 0h0m9 0h0m12 0h0m9 0h0m4 0h0m11 0h0m86 0h0m3 0h0m19 0h0m40 0h0m48 0h0m6 0h0m-573 1h0m12 0h0m1 0h0m37 0h0m3 0h0m19 0h0m2 0h0m5 0h0m17 0h0m28 0h0m1 0h0m4 0h0m4 0h0m1 0h0m17 0h0m12 0h0m8 0h0m2 0h0m3 0h0m2 0h0m17 0h0m6 0h0m12 0h0m24 0h0m5 0h0m12 0h0m7 0h0m8 0h0m30 0h0m3 0h0m6 0h0m14 0h0m13 0h0m30 0h0m1 0h0m38 0h0m54 0h0m3 0h0m33 0h0m2 0h0m6 0h0m6 0h0m3 0h0m102 0h0m-611 1h0m16 0h0m5 0h0m1 0h0m1 0h0m21 0h0m12 0h0m4 0h0m8 0h0m5 0h0m4 0h0m4 0h0m1 0h0m46 0h0m1 0h0m8 0h0m2 0h0m5 0h0m7 0h0m7 0h0m9 0h0m1 0h0m14 0h0m3 0h0m2 0h0m2 0h0m20 0h0m26 0h0m41 0h0m4 0h0m10 0h0m8 0h0m6 0h0m6 0h0m11 0h0m13 0h0m1 0h0m2 0h0m1 0h0m1 0h0m7 0h0m15 0h0m11 0h0m32 0h0m2 0h0m27 0h0m17 0h0m15 0h0m9 0h0m4 0h0m6 0h0m6 0h0m6 0h0m5 0h0m27 0h0m9 0h0m27 0h0m1 0h0m14 0h0m4 0h0m5 0h0m3 0h0m17 0h0m-626 1h0m20 0h0m3 0h0m1 0h0m1 0h0m2 0h0m3 0h0m3 0h0m16 0h0m5 0h0m2 0h0m7 0h0m5 0h0m7 0h0m2 0h0m1 0h0m5 0h0m1 0h0m1 0h0m7 0h0m1 0h0m7 0h0m4 0h0m2 0h0m32 0h0m9 0h0m14 0h0m13 0h0m10 0h0m6 0h0m2 0h0m26 0h0m4 0h0m47 0h0m16 0h0m5 0h0m10 0h0m13 0h0m5 0h0m10 0h0m28 0h0m9 0h0m2 0h0m3 0h0m12 0h0m20 0h0m19 0h0m5 0h0m17 0h0m1 0h0m14 0h0m7 0h0m13 0h0m7 0h0m31 0h0m17 0h0m11 0h0m18 0h0m7 0h0m26 0h0m26 0h0m5 0h0m-618 1h0m3 0h0m6 0h0m1 0h0m1 0h0m43 0h0m16 0h0m3 0h0m13 0h0m12 0h0m21 0h0m2 0h0m19 0h0m37 0h0m6 0h0m65 0h0m1 0h0m2 0h0m21 0h0m7 0h0m10 0h0m5 0h0m5 0h0m7 0h0m42 0h0m5 0h0m11 0h0m10 0h0m5 0h0m20 0h0m16 0h0m40 0h0m3 0h0m8 0h0m3 0h0m17 0h0m13 0h0m1 0h0m5 0h0m2 0h0m1 0h0m1 0h0m1 0h0m11 0h0m8 0h0m4 0h0m46 0h0m1 0h0m22 0h0m-584 1h0m10 0h0m32 0h0m24 0h0m26 0h0m3 0h0m11 0h0m29 0h0m46 0h0m6 0h0m86 0h0m21 0h0m57 0h0m105 0h0m33 0h0m71 0h0m-571 1h0m77 0h0m4 0h0m8 0h0m12 0h0m16 0h0m2 0h0m21 0h0m124 0h0m10 0h0m19 0h0m11 0h0m79 0h0m10 0h0m42 0h0m9 0h0m14 0h0m35 0h0m1 0h0m19 0h0m1 0h0m14 0h0m12 0h0m4 0h0m10 0h0m10 0h0m-500 1h0m2 0h0m28 0h0m1 0h0m29 0h0m2 0h0m7 0h0m1 0h0m4 0h0m6 0h0m35 0h0m39 0h0m28 0h0m6 0h0m67 0h0m6 0h0m43 0h0m119 0h0m1 0h0m19 0h0m16 0h0m38 0h0m-558 1h0m85 0h0m3 0h0m40 0h0m3 0h0m65 0h0m47 0h0m38 0h0m34 0h0m8 0h0m9 0h0m28 0h0m20 0h0m61 0h0m53 0h0m41 0h0m24 0h0m17 0h0m15 0h0m-590 1h0m2 0h0m9 0h0m46 0h0m6 0h0m12 0h0m4 0h0m4 0h0m26 0h0m44 0h0m25 0h0m15 0h0m81 0h0m10 0h0m1 0h0m2 0h0m43 0h0m71 0h0m75 0h0m4 0h0m27 0h0m2 0h0m3 0h0m66 0h0m3 0h0m26 0h0m-622 1h0m30 0h0m38 0h0m6 0h0m20 0h0m16 0h0m32 0h0m24 0h0m8 0h0m9 0h0m22 0h0m12 0h0m46 0h0m2 0h0m79 0h0m27 0h0m4 0h0m2 0h0m3 0h0m35 0h0m26 0h0m14 0h0m20 0h0m18 0h0m12 0h0m14 0h0m60 0h0m1 0h0m42 0h0m-590 1h0m36 0h0m5 0h0m4 0h0m4 0h0m8 0h0m9 0h0m61 0h0m22 0h0m167 0h0m16 0h0m34 0h0m35 0h0m2 0h0m68 0h0m6 0h0m24 0h0m35 0h0m7 0h0m44 0h0m-625 1h0m7 0h0m76 0h0m70 0h0m19 0h0m103 0h0m1 0h0m69 0h0m15 0h0m21 0h0m32 0h0m25 0h0m36 0h0m14 0h0m-472 1h0m19 0h0m199 0h0m41 0h0m16 0h0m18 0h0m4 0h0m28 0h0m2 0h0m24 0h0m19 0h0m4 0h0m46 0h0m8 0h0m3 0h0m31 0h0m41 0h0m69 0h0m-563 1h0m1 0h0m26 0h0m39 0h0m44 0h0m2 0h0m5 0h0m11 0h0m9 0h0m93 0h0m9 0h0m13 0h0m15 0h0m1 0h0m34 0h0m12 0h0m14 0h0m14 0h0m58 0h0m1 0h0m26 0h0m10 0h0m48 0h0m10 0h0m11 0h0m60 0h0m6 0h0m6 0h0m-596 1h0m15 0h0m12 0h0m1 0h0m38 0h0m6 0h0m11 0h0m34 0h0m7 0h0m20 0h0m1 0h0m2 0h0m16 0h0m59 0h0m47 0h0m32 0h0m13 0h0m18 0h0m8 0h0m3 0h0m6 0h0m2 0h0m6 0h0m5 0h0m2 0h0m14 0h0m1 0h0m1 0h0m1 0h0m21 0h0m8 0h0m28 0h0m9 0h0m1 0h0m32 0h0m20 0h0m2 0h0m7 0h0m3 0h0m10 0h0m8 0h0m8 0h0m20 0h0m22 0h0m11 0h0m31 0h0m-603 1h0m23 0h0m1 0h0m1 0h0m23 0h0m19 0h0m22 0h0m36 0h0m3 0h0m1 0h0m22 0h0m3 0h0m16 0h0m65 0h0m2 0h0m15 0h0m7 0h0m2 0h0m17 0h0m13 0h0m4 0h0m49 0h0m4 0h0m21 0h0m65 0h0m2 0h0m7 0h0m9 0h0m2 0h0m29 0h0m44 0h0m3 0h0m37 0h0m3 0h0m4 0h0m-581 1h0m17 0h0m4 0h0m26 0h0m19 0h0m44 0h0m17 0h0m5 0h0m29 0h0m78 0h0m41 0h0m53 0h0m60 0h0m12 0h0m51 0h0m117 0h0m38 0h0m-610 1h0m5 0h0m57 0h0m4 0h0m49 0h0m35 0h0m10 0h0m44 0h0m11 0h0m59 0h0m90 0h0m209 0h0m9 0h0m-602 1h0m21 0h0m9 0h0m47 0h0m24 0h0m25 0h0m31 0h0m58 0h0m212 0h0m26 0h0m40 0h0m77 0h0m-549 1h0m64 0h0m47 0h0m20 0h0m3 0h0m362 0h0m85 0h0m-565 1h0m52 0h0m89 0h0m55 0h0m54 0h0m2 0h0m42 0h0m17 0h0m135 0h0m9 0h0m39 0h0m50 0h0m2 0h0m5 0h0m-528 1h0m14 0h0m213 0h0m103 0h0m137 0h0m68 0h0m6 0h0m-576 1h0m13 0h0m42 0h0m221 0h0m59 0h0m25 0h0m65 0h0m28 0h0m14 0h0m13 0h0m85 0h0m-573 1h0m7 0h0m36 0h0m23 0h0m35 0h0m1 0h0m13 0h0m36 0h0m63 0h0m49 0h0m24 0h0m18 0h0m48 0h0m11 0h0m2 0h0m20 0h0m1 0h0m51 0h0m20 0h0m9 0h0m34 0h0m8 0h0m50 0h0m9 0h0m-581 1h0m12 0h0m19 0h0m7 0h0m27 0h0m69 0h0m10 0h0m148 0h0m20 0h0m5 0h0m2 0h0m40 0h0m118 0h0m11 0h0m47 0h0m14 0h0m37 0h0m5 0h0m-567 1h0m129 0h0m49 0h0m64 0h0m82 0h0m72 0h0m85 0h0m62 0h0m17 0h0m-565 1h0m60 0h0m63 0h0m71 0h0m78 0h0m30 0h0m42 0h0m75 0h0m38 0h0m-463 1h0m62 0h0m5 0h0m55 0h0m68 0h0m90 0h0m1 0h0m9 0h0m32 0h0m3 0h0m32 0h0m39 0h0m14 0h0m13 0h0m63 0h0m9 0h0m108 0h0m-437 1h0m146 0h0m59 0h0m196 0h0m-558 1h0m9 0h0m45 0h0m3 0h0m21 0h0m159 0h0m73 0h0m10 0h0m26 0h0m99 0h0m-441 1h0m33 0h0m5 0h0m37 0h0m4 0h0m47 0h0m194 0h0m247 0h0m-543 1h0m135 0h0m25 0h0m125 0h0m12 0h0m109 0h0m12 0h0m116 0h0m5 0h0m-569 1h0m1 0h0m8 0h0m5 0h0m22 0h0m28 0h0m63 0h0m159 0h0m56 0h0m14 0h0m67 0h0m32 0h0m6 0h0m9 0h0m106 0h0m25 0h0m-624 1h0m15 0h0m40 0h0m30 0h0m15 0h0m36 0h0m6 0h0m119 0h0m70 0h0m23 0h0m19 0h0m222 0h0m1 0h0m-503 1h0m68 0h0m35 0h0m65 0h0m161 0h0m70 0h0m39 0h0m63 0h0m36 0h0m-628 1h0m18 0h0m69 0h0m193 0h0m90 0h0m162 0h0m-354 1h0m41 0h0m90 0h0m42 0h0m23 0h0m183 0h0m47 0h0m-470 1h0m71 0h0m7 0h0m4 0h0m102 0h0m58 0h0m96 0h0m35 0h0m41 0h0m57 0h0m-604 1h0m18 0h0m10 0h0m3 0h0m2 0h0m39 0h0m5 0h0m67 0h0m2 0h0m21 0h0m17 0h0m32 0h0m43 0h0m32 0h0m72 0h0m236 0h0m24 0h0m-588 1h0m23 0h0m17 0h0m6 0h0m109 0h0m77 0h0m25 0h0m19 0h0m-204 1h0m63 0h0m243 0h0m30 0h0m147 0h0m-549 1h0m56 0h0m1 0h0m29 0h0m12 0h0m26 0h0m-140 1h0m1 0h0m234 0h0m57 0h0m40 0h0m146 0h0m-410 1h0m105 0h0m54 0h0m38 0h0m58 0h0m45 0h0m3 0h0m182 0h0m-432 1h0m83 0h0m66 0h0m34 0h0m82 0h0m140 0h0m73 0h0m-546 1h0m200 0h0m33 0h0m81 0h0m60 0h0m77 0h0m98 0h0m-289 1h0m24 0h0m117 0h0m-204 1h0m261 0h0m-482 1h0m5 0h0m46 0h0m161 0h0m16 0h0m20 0h0m7 0h0m1 0h0m28 0h0m279 0h0m-395 1h0m139 0h0m92 0h0m-440 1h0m82 0h0m372 0h0m-432 1h0m124 0h0m180 0h0m139 0h0m24 0h0m13 0h0m-455 1h0m84 0h0m72 0h0m66 0h0m340 0h0m-596 1h0m58 0h0m113 0h0m78 0h0m2 0h0m140 0h0m-261 1h0m33 0h0m253 0h0m65 0h0m-200 1h0m278 0h0m-209 1h0m164 0h0m-417 1h0m158 0h0m44 0h0m17 0h0m183 0h0m12 0h0m-470 2h0m288 0h0m30 0h0m123 0h0m114 0h0m-434 2h0m138 0h0m-244 1h0m13 0h0m22 0h0m138 0h0m-258 1h0m82 0h0m45 0h0m224 0h0m117 0h0m-400 2h0m492 0h0m-472 1h0m348 0h0m36 0h0m-153 1h0m211 0h0m-530 1h0m257 0h0m325 0h0m-279 2h0m-15 1h0m25 0h0m77 0h0m213 0h0m-551 1h0m79 2h0m211 1h0m112 0h0m-356 1h0m118 0h0m160 0h0m-289 1h0m448 1h0m-415 3h0m255 0h0m-296 1h0m175 3h0m-182 7h0m9 0h0m415 1h0" stroke="#66a61e" stroke-width="5.6" stroke-linecap="round" fill="none"/>
<path d="M1438 1956h0m-276 2h0m250 2h0m156 0h0m-615 1h0m482 0h0m-160 1h0m257 1h0m-462 2h0m406 0h0m-227 2h0m-291 1h0m347 1h0m-315 6h0m23 0h0m5 0h0m18 0h0m31 0h0m177 0h0m25 0h0m45 0h0m13 0h0m25 0h0m18 0h0m34 0h0m48 0h0m12 0h0m61 0h0m-455 8h0m154 2h0m-213 19h0m42 0h0m103 0h0m105 0h0m233 0h0m8 0h0m11 0h0m-563 44h0m2 0h0m6 0h0m3 0h0m26 0h0m2 0h0m9 0h0m3 0h0m23 0h0m1 0h0m3 0h0m4 0h0m5 0h0m6 0h0m2 0h0m14 0h0m14 0h0m1 0h0m25 0h0m13 0h0m9 0h0m1 0h0m8 0h0m16 0h0m55 0h0m2 0h0m1 0h0m1 0h0m5 0h0m66 0h0m6 0h0m15 0h0m7 0h0m5 0h0m2 0h0m3 0h0m8 0h0m3 0h0m2 0h0m4 0h0m3 0h0m21 0h0m3 0h0m1 0h0m7 0h0m6 0h0m60 0h0m10 0h0m6 0h0m3 0h0m1 0h0m10 0h0m2 0h0m4 0h0m20 0h0m3 0h0m5 0h0m7 0h0m4 0h0m29 0h0m5 0h0m17 0h0m-544 44h0m124 0h0m9 0h0m122 0h0m62 0h0m71 0h0m57 0h0m52 0h0m-454 12h0m162 9h0m-175 1h0m246 0h0m226 2h0m-162 3h0m-97 1h0m-287 1h0m13 0h0m20 0h0m10 0h0m19 0h0m104 0h0m13 0h0m29 0h0m43 0h0m8 0h0m11 0h0m37 0h0m3 0h0m39 0h0m30 0h0m11 0h0m52 0h0m55 0h0m104 0h0m-586 6h0m26 0h0m324 3h0m-113 2h0m-46 1h0" stroke="#ebebeb" stroke-width="2.8" stroke-linecap="round" fill="none" opacity="0.4"/>
<path d="M1299.3 1827.9V2268.4" stroke="#a0009e" stroke-width="4.4"/>
<path d="M940.3 2288.2v7" stroke="#a8a8a8" stroke-width="1.8"/>
<text transform="translate(940.3 2345.3) scale(0.93 1)" font-size="62.5" fill="#333" text-anchor="middle">0</text>
<path d="M1176.1 2288.2v7" stroke="#a8a8a8" stroke-width="1.8"/>
<text transform="translate(1109.6 2345.3) scale(.958 1)" font-size="62.5" fill="#333" stroke="#fff" stroke-width="0.5">5×10<tspan dy="-33.5" dx="3.5" font-size="31" fill="#6e6e6e" stroke="none">7</tspan></text>
<path d="M1411.9 2288.2v7" stroke="#a8a8a8" stroke-width="1.8"/>
<text transform="translate(1343.4 2345.3) scale(.958 1)" font-size="62.5" fill="#333" stroke="#fff" stroke-width="0.5">1×10<tspan dy="-33.5" dx="4.5" font-size="31" fill="#6e6e6e" stroke="none">8</tspan></text>
<rect x="1620.2" y="1739.8" width="696.8" height="66.5" fill="#d9d9d9"/>
<rect x="1620.2" y="1806.3" width="696.8" height="481.9" fill="#ebebeb"/>
<path d="M1620.2 2212.6h696.8M1620.2 2103h696.8M1620.2 1993.3h696.8M1620.2 1883.7h696.8M1768.2 1806.3V2288.2M2004 1806.3V2288.2M2239.8 1806.3V2288.2" stroke="#f1f1f1" stroke-width="1.5" fill="none"/>
<path d="M1620.2 2267.4h696.8M1620.2 2157.8h696.8M1620.2 2048.2h696.8M1620.2 1938.5h696.8M1620.2 1828.9h696.8M1650.3 1806.3V2288.2M1886.1 1806.3V2288.2M2121.9 1806.3V2288.2" stroke="#f5f5f5" stroke-width="2.5" fill="none"/>
<text transform="translate(1964.7 1796.7) scale(1.008 1)" font-size="63" fill="#1a1a1a" text-anchor="middle" stroke="#d9d9d9" stroke-width="0.7">III.3 + III.7</text>
<rect x="2019.8" y="1944.7" width="173.6" height="200.4" fill="#e6ab02"/>
<rect x="2224.9" y="1944.7" width="60.8" height="200.4" fill="#e6ab02"/>
<path d="M2069 1888h0m175 0h0m16 0h0m-234 4h0m88 0h0m-21 1h0m170 0h0m16 1h0m-214 1h0m66 0h0m30 0h0m87 0h0m-182 1h0m205 0h0m-240 1h0m199 0h0m51 0h0m-211 1h0m77 0h0m3 0h0m1 0h0m-122 1h0m124 0h0m-42 1h0m-3 1h0m12 0h0m16 0h0m50 0h0m82 0h0m-216 1h0m3 0h0m42 0h0m27 0h0m14 0h0m13 0h0m10 0h0m91 0h0m-186 1h0m7 0h0m27 0h0m7 1h0m67 0h0m-125 1h0m85 0h0m99 0h0m39 0h0m-208 1h0m7 0h0m65 0h0m136 0h0m-213 1h0m197 0h0m-225 1h0m13 0h0m46 0h0m72 0h0m5 0h0m96 0h0m-238 1h0m29 0h0m13 0h0m30 0h0m35 0h0m51 0h0m47 0h0m24 0h0m7 0h0m5 0h0m3 0h0m3 0h0m8 0h0m-233 1h0m9 0h0m24 0h0m-52 1h0m34 0h0m35 0h0m33 0h0m57 0h0m-106 1h0m56 0h0m10 0h0m82 0h0m15 0h0m25 0h0m-184 1h0m25 0h0m160 0h0m-239 1h0m18 0h0m18 0h0m164 0h0m20 0h0m12 0h0m-189 1h0m5 0h0m4 0h0m85 0h0m2 0h0m13 0h0m46 0h0m4 0h0m11 0h0m27 0h0m-215 1h0m7 0h0m11 0h0m5 0h0m42 0h0m17 0h0m37 0h0m2 0h0m59 0h0m1 0h0m27 0h0m5 0h0m3 0h0m10 0h0m-259 1h0m18 0h0m69 0h0m23 0h0m7 0h0m5 0h0m16 0h0m1 0h0m2 0h0m6 0h0m70 0h0m24 0h0m5 0h0m3 0h0m2 0h0m8 0h0m-212 1h0m17 0h0m1 0h0m15 0h0m20 0h0m127 0h0m-209 1h0m16 0h0m21 0h0m15 0h0m12 0h0m5 0h0m28 0h0m1 0h0m18 0h0m17 0h0m99 0h0m-213 1h0m6 0h0m21 0h0m16 0h0m23 0h0m8 0h0m-72 1h0m2 0h0m31 0h0m51 0h0m82 0h0m17 0h0m23 0h0m7 0h0m-248 1h0m17 0h0m5 0h0m6 0h0m2 0h0m14 0h0m13 0h0m16 0h0m2 0h0m10 0h0m62 0h0m8 0h0m61 0h0m34 0h0m-210 1h0m21 0h0m18 0h0m15 0h0m45 0h0m66 0h0m1 0h0m34 0h0m16 0h0m-236 1h0m23 0h0m4 0h0m25 0h0m3 0h0m44 0h0m26 0h0m11 0h0m2 0h0m51 0h0m24 0h0m-231 1h0m14 0h0m15 0h0m2 0h0m10 0h0m33 0h0m3 0h0m51 0h0m26 0h0m48 0h0m8 0h0m5 0h0m-211 1h0m14 0h0m21 0h0m4 0h0m12 0h0m2 0h0m8 0h0m3 0h0m11 0h0m2 0h0m2 0h0m27 0h0m1 0h0m3 0h0m15 0h0m73 0h0m2 0h0m7 0h0m1 0h0m5 0h0m14 0h0m1 0h0m11 0h0m2 0h0m-213 1h0m23 0h0m5 0h0m12 0h0m14 0h0m4 0h0m5 0h0m2 0h0m2 0h0m8 0h0m15 0h0m12 0h0m75 0h0m40 0h0m-253 1h0m7 0h0m34 0h0m5 0h0m4 0h0m55 0h0m4 0h0m28 0h0m1 0h0m17 0h0m61 0h0m28 0h0m-237 1h0m33 0h0m9 0h0m9 0h0m11 0h0m7 0h0m10 0h0m30 0h0m43 0h0m48 0h0m7 0h0m16 0h0m-178 1h0m28 0h0m18 0h0m31 0h0m12 0h0m7 0h0m55 0h0m33 0h0m4 0h0m7 0h0m-232 1h0m15 0h0m8 0h0m24 0h0m10 0h0m9 0h0m9 0h0m1 0h0m5 0h0m12 0h0m15 0h0m4 0h0m5 0h0m3 0h0m19 0h0m2 0h0m82 0h0m11 0h0m7 0h0m-233 1h0m23 0h0m2 0h0m35 0h0m8 0h0m3 0h0m19 0h0m5 0h0m110 0h0m2 0h0m16 0h0m3 0h0m-221 1h0m2 0h0m9 0h0m4 0h0m42 0h0m13 0h0m3 0h0m6 0h0m1 0h0m44 0h0m3 0h0m50 0h0m6 0h0m1 0h0m1 0h0m36 0h0m-240 1h0m36 0h0m2 0h0m1 0h0m16 0h0m2 0h0m3 0h0m5 0h0m2 0h0m4 0h0m3 0h0m4 0h0m7 0h0m4 0h0m11 0h0m43 0h0m13 0h0m41 0h0m1 0h0m2 0h0m2 0h0m11 0h0m24 0h0m-247 1h0m32 0h0m8 0h0m2 0h0m7 0h0m9 0h0m1 0h0m5 0h0m8 0h0m20 0h0m1 0h0m18 0h0m36 0h0m6 0h0m2 0h0m75 0h0m3 0h0m1 0h0m12 0h0m-231 1h0m20 0h0m5 0h0m2 0h0m24 0h0m13 0h0m2 0h0m19 0h0m42 0h0m96 0h0m4 0h0m14 0h0m-217 1h0m5 0h0m3 0h0m24 0h0m11 0h0m3 0h0m9 0h0m22 0h0m11 0h0m4 0h0m1 0h0m3 0h0m9 0h0m11 0h0m5 0h0m59 0h0m11 0h0m18 0h0m8 0h0m1 0h0m-231 1h0m2 0h0m9 0h0m2 0h0m2 0h0m1 0h0m5 0h0m5 0h0m7 0h0m1 0h0m3 0h0m5 0h0m4 0h0m5 0h0m6 0h0m9 0h0m2 0h0m6 0h0m2 0h0m5 0h0m6 0h0m1 0h0m11 0h0m1 0h0m9 0h0m31 0h0m42 0h0m1 0h0m4 0h0m5 0h0m1 0h0m8 0h0m6 0h0m1 0h0m2 0h0m2 0h0m1 0h0m2 0h0m2 0h0m1 0h0m3 0h0m3 0h0m9 0h0m-260 1h0m3 0h0m1 0h0m2 0h0m15 0h0m1 0h0m2 0h0m3 0h0m8 0h0m3 0h0m4 0h0m3 0h0m4 0h0m17 0h0m2 0h0m13 0h0m5 0h0m7 0h0m1 0h0m1 0h0m6 0h0m2 0h0m9 0h0m2 0h0m3 0h0m3 0h0m3 0h0m10 0h0m3 0h0m8 0h0m1 0h0m6 0h0m3 0h0m1 0h0m2 0h0m1 0h0m48 0h0m7 0h0m4 0h0m10 0h0m1 0h0m5 0h0m3 0h0m11 0h0m2 0h0m1 0h0m5 0h0m1 0h0m3 0h0m-545 1h0m2 0h0m289 0h0m11 0h0m6 0h0m4 0h0m12 0h0m8 0h0m2 0h0m5 0h0m8 0h0m27 0h0m1 0h0m11 0h0m5 0h0m18 0h0m2 0h0m92 0h0m7 0h0m18 0h0m3 0h0m5 0h0m-233 1h0m23 0h0m4 0h0m13 0h0m12 0h0m7 0h0m18 0h0m1 0h0m2 0h0m2 0h0m8 0h0m22 0h0m7 0h0m11 0h0m1 0h0m18 0h0m66 0h0m7 0h0m10 0h0m-536 1h0m302 0h0m8 0h0m5 0h0m17 0h0m32 0h0m7 0h0m6 0h0m8 0h0m1 0h0m2 0h0m25 0h0m24 0h0m17 0h0m48 0h0m13 0h0m9 0h0m10 0h0m1 0h0m2 0h0m-534 1h0m297 0h0m1 0h0m3 0h0m11 0h0m1 0h0m3 0h0m12 0h0m15 0h0m19 0h0m4 0h0m9 0h0m4 0h0m3 0h0m1 0h0m15 0h0m12 0h0m23 0h0m8 0h0m84 0h0m4 0h0m3 0h0m-249 1h0m7 0h0m1 0h0m1 0h0m12 0h0m19 0h0m9 0h0m6 0h0m1 0h0m22 0h0m6 0h0m3 0h0m10 0h0m5 0h0m6 0h0m2 0h0m8 0h0m1 0h0m11 0h0m9 0h0m15 0h0m2 0h0m2 0h0m2 0h0m2 0h0m50 0h0m12 0h0m13 0h0m15 0h0m2 0h0m-538 1h0m292 0h0m20 0h0m5 0h0m11 0h0m3 0h0m4 0h0m6 0h0m7 0h0m5 0h0m4 0h0m7 0h0m7 0h0m8 0h0m17 0h0m1 0h0m1 0h0m3 0h0m32 0h0m1 0h0m2 0h0m7 0h0m2 0h0m3 0h0m51 0h0m2 0h0m2 0h0m6 0h0m35 0h0m-255 1h0m15 0h0m3 0h0m1 0h0m3 0h0m14 0h0m7 0h0m11 0h0m37 0h0m16 0h0m3 0h0m1 0h0m6 0h0m5 0h0m1 0h0m2 0h0m12 0h0m4 0h0m1 0h0m18 0h0m74 0h0m6 0h0m12 0h0m2 0h0m2 0h0m-226 1h0m2 0h0m5 0h0m1 0h0m4 0h0m25 0h0m1 0h0m6 0h0m10 0h0m8 0h0m19 0h0m6 0h0m18 0h0m1 0h0m16 0h0m4 0h0m59 0h0m15 0h0m-232 1h0m5 0h0m1 0h0m34 0h0m1 0h0m1 0h0m4 0h0m3 0h0m24 0h0m8 0h0m13 0h0m1 0h0m32 0h0m12 0h0m9 0h0m18 0h0m40 0h0m9 0h0m17 0h0m2 0h0m10 0h0m1 0h0m3 0h0m-248 1h0m34 0h0m4 0h0m2 0h0m26 0h0m20 0h0m25 0h0m123 0h0m13 0h0m-219 1h0m140 0h0m33 0h0m-487 1h0m542 0h0m-545 1h0m0 1h0m284 0h0m1 0h0m171 0h0m-1 2h0m-454 1h0m1 0h0m285 0h0m170 0h0m90 0h0m-546 1h0m455 0h0m-453 1h0m486 0h0m-487 2h0m283 0h0m-283 2h0m452 0h0m-454 1h0m1 1h0m285 0h0m-1 1h0m170 0h0m36 0h0m1 0h0m-491 1h0m455 0h0m33 1h0m-488 1h0m1 0h0m488 0h0m-489 1h0m2 0h0m545 0h0m-545 1h0m545 0h0m1 0h0m-96 1h0m1 0h0m38 0h0m-208 1h0m205 0h0m60 0h0m-92 1h0m92 0h0m-548 2h0m490 0h0m57 0h0m-548 1h0m287 0h0m168 0h0m-458 1h0m4 0h0m454 0h0m36 0h0m1 0h0m-1 3h0m-493 1h0m5 0h0m453 0h0m35 0h0m1 0h0m-1 1h0m-491 2h0m1 0h0m284 0h0m1 0h0m261 0h0m-546 1h0m1 0h0m284 0h0m-286 1h0m286 0h0m205 0h0m-493 1h0m4 0h0m453 0h0m35 0h0m-492 1h0m2 0h0m492 2h0m-488 1h0m-1 1h0m545 0h0m-547 1h0m2 0h0m284 0h0m-286 1h0m285 0h0m204 0h0m59 0h0m-547 1h0m284 0h0m261 0h0m1 0h0m-549 1h0m1 1h0m285 0h0m-284 1h0m1 0h0m0 1h0m489 0h0m-491 1h0m1 0h0m284 0h0m-282 1h0m283 0h0m170 0h0m36 0h0m-36 1h0m-456 1h0m1 0h0m1 0h0m284 0h0m262 0h0m-262 1h0m-285 1h0m1 1h0m453 0h0m-453 1h0m-3 1h0m3 0h0m488 0h0m56 0h0m-261 1h0m-283 1h0m285 0h0m258 0h0m-54 2h0m0 1h0m-489 1h0m285 0h0m-286 1h0m3 0h0m282 0h0m-285 1h0m547 0h0m-93 2h0m92 0h0m-548 1h0m288 0h0m261 0h0m0 1h0m-550 2h0m550 0h0m-546 1h0m544 0h0m-260 1h0m261 1h0m-545 1h0m284 0h0m-287 1h0m492 0h0m-491 1h0m1 0h0m4 0h0m450 0h0m1 0h0m35 0h0m1 0h0m-490 1h0m284 0h0m2 0h0m168 1h0m35 0h0m-273 1h0m-216 1h0m2 2h0m450 0h0m-452 1h0m-1 1h0m-1 2h0m457 1h0m92 0h0m-549 1h0m456 0h0m-454 3h0m286 0h0m-288 1h0m548 0h0m-92 1h0m34 0h0m-205 1h0m-287 1h0m2 0h0m491 1h0m-492 1h0m6 0h0m-4 1h0m286 0h0m167 0h0m2 1h0m-456 1h0m549 0h0m-546 1h0m453 0h0m-170 1h0m170 0h0m92 0h0m-2 2h0m-544 2h0m488 0h0m-490 1h0m0 1h0m285 0h0m206 0h0m-206 1h0m263 1h0m-547 1h0m489 0h0m-205 1h0m171 1h0m-457 1h0m2 0h0m6 0h0m486 0h0m55 0h0m-546 2h0m547 0h0m-263 1h0m169 0h0m35 1h0m57 0h0m-546 1h0m2 0h0m488 0h0m-490 1h0m286 0h0m168 0h0m-456 1h0m3 0h0m-5 1h0m1 0h0m492 0h0m2 0h0m-491 1h0m1 0h0m0 1h0m490 0h0m-37 1h0m94 0h0m-547 3h0m546 0h0m-547 1h0m284 0h0m173 0h0m90 0h0m-545 1h0m543 0h0m2 0h0m-633 1h0m540 0h0m-458 1h0m288 0h0m-283 1h0m-2 1h0m286 1h0m1 0h0m203 0h0m59 0h0m-263 1h0m169 2h0m35 0h0m-488 1h0m-65 1h0m63 0h0m0 1h0m549 0h0m-548 1h0m490 0h0m56 1h0m-92 1h0m93 0h0m-546 1h0m2 0h0m451 0h0m1 0h0m-456 1h0m3 0h0m282 0h0m-285 1h0m4 1h0m282 0h0m0 1h0m262 0h0m-546 1h0m546 0h0m-548 1h0m1 0h0m-1 1h0m0 1h0m549 0h0m-546 1h0m489 0h0m-422 1h0m385 0h0m37 0h0m-489 1h0m452 0h0m-453 1h0m488 0h0m1 1h0m-491 2h0m77 0h0m-77 1h0m491 0h0m57 0h0m-547 1h0m288 0h0m201 0h0m-35 1h0m36 0h0m-490 1h0m-1 1h0m2 1h0m453 0h0m94 0h0m-94 1h0m-169 1h0m205 0h0m58 0h0m-547 1h0m285 1h0m261 0h0m-632 1h0m539 0h0m93 0h0m-56 2h0m55 0h0m-547 2h0m3 0h0m27 0h0m177 0h0m78 0h0m170 0h0m36 0h0m-486 1h0m-86 1h0m536 0h0m2 0h0m-456 1h0m285 0h0m-285 1h0m2 0h0m455 1h0m32 1h0m-206 1h0m-284 1h0m455 0h0m92 0h0m-505 1h0m136 0h0m370 0h0m-546 2h0m1 0h0m451 0h0m93 0h0m1 0h0m-263 1h0m-285 1h0m292 1h0m23 0h0m5 0h0m95 0h0m6 0h0m-135 1h0m18 0h0m7 0h0m14 0h0m31 0h0m10 0h0m54 0h0m5 0h0m67 0h0m8 0h0m15 0h0m16 0h0m-530 1h0m290 0h0m2 0h0m2 0h0m4 0h0m1 0h0m8 0h0m1 0h0m5 0h0m4 0h0m4 0h0m1 0h0m8 0h0m20 0h0m1 0h0m1 0h0m8 0h0m1 0h0m5 0h0m1 0h0m2 0h0m8 0h0m1 0h0m6 0h0m10 0h0m2 0h0m10 0h0m3 0h0m7 0h0m3 0h0m2 0h0m2 0h0m5 0h0m1 0h0m4 0h0m5 0h0m2 0h0m9 0h0m50 0h0m3 0h0m6 0h0m9 0h0m14 0h0m3 0h0m-534 1h0m294 0h0m8 0h0m2 0h0m32 0h0m11 0h0m16 0h0m4 0h0m1 0h0m5 0h0m2 0h0m3 0h0m1 0h0m14 0h0m13 0h0m9 0h0m1 0h0m5 0h0m1 0h0m5 0h0m1 0h0m2 0h0m20 0h0m42 0h0m40 0h0m10 0h0m-542 1h0m291 0h0m2 0h0m11 0h0m17 0h0m6 0h0m7 0h0m3 0h0m5 0h0m6 0h0m4 0h0m5 0h0m5 0h0m5 0h0m47 0h0m1 0h0m1 0h0m7 0h0m18 0h0m1 0h0m4 0h0m2 0h0m3 0h0m57 0h0m1 0h0m7 0h0m12 0h0m4 0h0m9 0h0m-539 1h0m285 0h0m3 0h0m3 0h0m7 0h0m1 0h0m1 0h0m2 0h0m1 0h0m4 0h0m1 0h0m6 0h0m4 0h0m2 0h0m1 0h0m1 0h0m4 0h0m7 0h0m7 0h0m1 0h0m5 0h0m4 0h0m1 0h0m1 0h0m1 0h0m4 0h0m1 0h0m3 0h0m13 0h0m14 0h0m8 0h0m11 0h0m1 0h0m4 0h0m2 0h0m5 0h0m2 0h0m2 0h0m3 0h0m1 0h0m2 0h0m11 0h0m1 0h0m4 0h0m1 0h0m51 0h0m1 0h0m7 0h0m7 0h0m24 0h0m-540 1h0m2 0h0m196 0h0m17 0h0m35 0h0m47 0h0m6 0h0m2 0h0m8 0h0m11 0h0m8 0h0m5 0h0m2 0h0m8 0h0m3 0h0m5 0h0m6 0h0m6 0h0m13 0h0m14 0h0m23 0h0m1 0h0m7 0h0m1 0h0m13 0h0m1 0h0m1 0h0m1 0h0m1 0h0m2 0h0m8 0h0m45 0h0m1 0h0m1 0h0m18 0h0m8 0h0m5 0h0m-242 1h0m2 0h0m11 0h0m3 0h0m1 0h0m1 0h0m5 0h0m2 0h0m1 0h0m2 0h0m2 0h0m3 0h0m2 0h0m2 0h0m5 0h0m1 0h0m3 0h0m1 0h0m9 0h0m4 0h0m1 0h0m2 0h0m3 0h0m3 0h0m4 0h0m2 0h0m3 0h0m3 0h0m3 0h0m28 0h0m2 0h0m2 0h0m10 0h0m5 0h0m3 0h0m8 0h0m1 0h0m4 0h0m11 0h0m52 0h0m2 0h0m2 0h0m2 0h0m1 0h0m23 0h0m16 0h0m-543 1h0m177 0h0m125 0h0m4 0h0m6 0h0m4 0h0m6 0h0m5 0h0m6 0h0m2 0h0m14 0h0m1 0h0m9 0h0m3 0h0m40 0h0m1 0h0m2 0h0m7 0h0m6 0h0m5 0h0m3 0h0m9 0h0m6 0h0m51 0h0m2 0h0m6 0h0m3 0h0m14 0h0m2 0h0m13 0h0m-535 1h0m1 0h0m325 0h0m3 0h0m2 0h0m51 0h0m19 0h0m26 0h0m5 0h0m2 0h0m13 0h0m1 0h0m4 0h0m2 0h0m42 0h0m21 0h0m-226 1h0m12 0h0m6 0h0m5 0h0m1 0h0m3 0h0m2 0h0m6 0h0m8 0h0m17 0h0m3 0h0m4 0h0m1 0h0m4 0h0m2 0h0m1 0h0m7 0h0m10 0h0m36 0h0m4 0h0m8 0h0m6 0h0m1 0h0m58 0h0m1 0h0m2 0h0m2 0h0m12 0h0m7 0h0m18 0h0m5 0h0m-245 1h0m10 0h0m7 0h0m1 0h0m24 0h0m2 0h0m13 0h0m13 0h0m44 0h0m12 0h0m3 0h0m10 0h0m2 0h0m82 0h0m-518 1h0m4 0h0m295 0h0m9 0h0m31 0h0m8 0h0m18 0h0m75 0h0m1 0h0m10 0h0m41 0h0m2 0h0m30 0h0m-526 1h0m290 0h0m19 0h0m5 0h0m9 0h0m27 0h0m3 0h0m13 0h0m33 0h0m25 0h0m5 0h0m2 0h0m10 0h0m55 0h0m6 0h0m19 0h0m21 0h0m-248 1h0m13 0h0m3 0h0m3 0h0m19 0h0m22 0h0m76 0h0m23 0h0m49 0h0m20 0h0m3 0h0m4 0h0m1 0h0m2 0h0m-529 1h0m1 0h0m294 0h0m3 0h0m13 0h0m7 0h0m3 0h0m4 0h0m2 0h0m28 0h0m2 0h0m13 0h0m18 0h0m11 0h0m8 0h0m7 0h0m8 0h0m3 0h0m76 0h0m3 0h0m33 0h0m-536 1h0m306 0h0m4 0h0m4 0h0m7 0h0m12 0h0m7 0h0m1 0h0m4 0h0m2 0h0m7 0h0m3 0h0m5 0h0m30 0h0m2 0h0m13 0h0m1 0h0m5 0h0m3 0h0m1 0h0m4 0h0m5 0h0m6 0h0m6 0h0m9 0h0m44 0h0m4 0h0m3 0h0m4 0h0m10 0h0m4 0h0m9 0h0m2 0h0m2 0h0m4 0h0m1 0h0m6 0h0m-544 1h0m290 0h0m15 0h0m3 0h0m2 0h0m17 0h0m7 0h0m22 0h0m17 0h0m15 0h0m14 0h0m17 0h0m1 0h0m15 0h0m2 0h0m6 0h0m3 0h0m5 0h0m3 0h0m48 0h0m4 0h0m2 0h0m10 0h0m19 0h0m5 0h0m-538 1h0m304 0h0m8 0h0m7 0h0m5 0h0m92 0h0m4 0h0m2 0h0m1 0h0m12 0h0m55 0h0m8 0h0m8 0h0m19 0h0m9 0h0m5 0h0m-625 1h0m316 0h0m56 0h0m25 0h0m14 0h0m27 0h0m11 0h0m33 0h0m8 0h0m5 0h0m35 0h0m54 0h0m-190 1h0m16 0h0m1 0h0m17 0h0m4 0h0m1 0h0m6 0h0m3 0h0m45 0h0m20 0h0m3 0h0m5 0h0m3 0h0m4 0h0m63 0h0m9 0h0m33 0h0m3 0h0m-544 1h0m302 0h0m23 0h0m98 0h0m6 0h0m21 0h0m44 0h0m17 0h0m2 0h0m10 0h0m-525 1h0m331 0h0m11 0h0m5 0h0m4 0h0m16 0h0m46 0h0m6 0h0m72 0h0m15 0h0m-506 1h0m86 0h0m207 0h0m62 0h0m24 0h0m9 0h0m28 0h0m18 0h0m2 0h0m110 0h0m-204 1h0m17 0h0m13 0h0m4 0h0m116 0h0m8 0h0m-498 1h0m285 0h0m2 0h0m13 0h0m29 0h0m110 0h0m1 0h0m56 0h0m8 0h0m28 0h0m4 0h0m-230 1h0m34 0h0m83 0h0m69 0h0m-205 1h0m58 0h0m29 0h0m33 0h0m45 0h0m41 0h0m4 0h0m-501 1h0m2 0h0m2 0h0m310 0h0m3 0h0m16 0h0m18 0h0m67 0h0m12 0h0m8 0h0m56 0h0m8 0h0m32 0h0m11 0h0m-543 1h0m298 0h0m5 0h0m1 0h0m13 0h0m5 0h0m6 0h0m12 0h0m5 0h0m3 0h0m1 0h0m68 0h0m2 0h0m19 0h0m58 0h0m1 0h0m9 0h0m13 0h0m22 0h0m-540 1h0m190 0h0m95 0h0m2 0h0m2 0h0m21 0h0m9 0h0m4 0h0m2 0h0m16 0h0m2 0h0m34 0h0m66 0h0m-250 1h0m134 0h0m51 0h0m-376 1h0m315 0h0m37 0h0m69 0h0m12 0h0m60 0h0m2 0h0m-500 1h0m4 0h0m286 0h0m18 0h0m13 0h0m36 0h0m31 0h0m29 0h0m18 0h0m67 0h0m16 0h0m18 0h0m-535 1h0m318 0h0m23 0h0m17 0h0m17 0h0m11 0h0m-80 1h0m46 0h0m26 0h0m16 0h0m42 0h0m17 0h0m67 0h0m-517 1h0m325 0h0m17 0h0m6 0h0m9 0h0m109 0h0m76 0h0m-357 1h0m101 0h0m71 0h0m17 0h0m16 0h0m26 0h0m83 0h0m5 0h0m39 0h0m-545 1h0m348 0h0m14 0h0m5 0h0m34 0h0m9 0h0m7 0h0m20 0h0m4 0h0m56 0h0m4 0h0m14 0h0m3 0h0m25 0h0m-247 1h0m52 0h0m2 0h0m3 0h0m4 0h0m131 0h0m-520 1h0m290 0h0m79 0h0m80 0h0m108 0h0m-433 1h0m246 0h0m13 0h0m11 0h0m81 0h0m57 0h0m6 0h0m40 0h0m-328 1h0m93 0h0m44 0h0m43 0h0m10 0h0m121 0h0m8 0h0m-378 1h0m132 0h0m109 0h0m26 0h0m-227 1h0m122 0h0m11 0h0m90 0h0m15 0h0m28 0h0m15 0h0m28 0h0m33 0h0m-467 1h0m100 0h0m157 0h0m23 0h0m80 0h0m2 0h0m4 0h0m51 0h0m51 0h0m-416 1h0m170 0h0m35 0h0m21 0h0m5 0h0m37 0h0m19 0h0m28 0h0m-482 1h0m220 0h0m125 0h0m56 0h0m37 0h0m32 0h0m3 0h0m12 0h0m-449 1h0m77 0h0m247 0h0m13 0h0m40 0h0m42 0h0m12 0h0m4 0h0m43 0h0m26 0h0m24 0h0m-537 1h0m63 0h0m10 0h0m33 0h0m113 0h0m51 0h0m60 0h0m30 0h0m19 0h0m82 0h0m5 0h0m9 0h0m22 0h0m-532 1h0m14 0h0m199 0h0m186 0h0m9 0h0m46 0h0m14 0h0m26 0h0m88 0h0m-604 1h0m79 0h0m33 0h0m83 0h0m118 0h0m63 0h0m80 0h0m127 0h0m-507 1h0m256 0h0m8 0h0m40 0h0m6 0h0m23 0h0m3 0h0m21 0h0m76 0h0m58 0h0m47 0h0m-584 1h0m39 0h0m97 0h0m35 0h0m35 0h0m133 0h0m6 0h0m39 0h0m7 0h0m27 0h0m1 0h0m118 0h0m1 0h0m25 0h0m-605 1h0m148 0h0m68 0h0m19 0h0m41 0h0m76 0h0m171 0h0m53 0h0m24 0h0m21 0h0m-601 1h0m47 0h0m19 0h0m2 0h0m15 0h0m43 0h0m144 0h0m5 0h0m91 0h0m45 0h0m71 0h0m47 0h0m-430 1h0m67 0h0m57 0h0m92 0h0m92 0h0m10 0h0m16 0h0m71 0h0m-509 1h0m108 0h0m9 0h0m12 0h0m57 0h0m35 0h0m238 0h0m80 0h0m-521 1h0m21 0h0m177 0h0m71 0h0m21 0h0m-209 1h0m5 0h0m76 0h0m84 0h0m1 0h0m45 0h0m-247 1h0m184 0h0m95 0h0m201 0h0m17 0h0m-551 1h0m57 0h0m5 0h0m25 0h0m30 0h0m40 0h0m257 0h0m-437 1h0m9 0h0m34 0h0m10 0h0m3 0h0m16 0h0m4 0h0m44 0h0m42 0h0m29 0h0m124 0h0m35 0h0m40 0h0m140 0h0m-525 1h0m50 0h0m22 0h0m40 0h0m11 0h0m90 0h0m216 0h0m4 0h0m2 0h0m68 0h0m71 0h0m-568 1h0m77 0h0m81 0h0m1 0h0m132 0h0m8 0h0m15 0h0m44 0h0m92 0h0m31 0h0m14 0h0m2 0h0m2 0h0m10 0h0m-474 1h0m25 0h0m19 0h0m139 0h0m95 0h0m13 0h0m33 0h0m245 0h0m-557 1h0m37 0h0m63 0h0m83 0h0m6 0h0m86 0h0m159 0h0m128 0h0m-591 1h0m113 0h0m70 0h0m39 0h0m26 0h0m15 0h0m26 0h0m70 0h0m8 0h0m36 0h0m51 0h0m-441 1h0m54 0h0m191 0h0m205 0h0m-458 1h0m96 0h0m23 0h0m6 0h0m22 0h0m43 0h0m3 0h0m71 0h0m17 0h0m263 0h0m-565 1h0m47 0h0m16 0h0m67 0h0m134 0h0m13 0h0m37 0h0m30 0h0m16 0h0m148 0h0m106 0h0m-630 1h0m15 0h0m4 0h0m12 0h0m36 0h0m19 0h0m87 0h0m21 0h0m10 0h0m1 0h0m21 0h0m21 0h0m7 0h0m20 0h0m11 0h0m59 0h0m16 0h0m15 0h0m2 0h0m8 0h0m144 0h0m21 0h0m15 0h0m16 0h0m2 0h0m-547 1h0m42 0h0m70 0h0m68 0h0m47 0h0m58 0h0m34 0h0m44 0h0m58 0h0m59 0h0m46 0h0m23 0h0m-557 1h0m84 0h0m10 0h0m51 0h0m5 0h0m40 0h0m85 0h0m21 0h0m5 0h0m4 0h0m19 0h0m187 0h0m-536 1h0m7 0h0m9 0h0m41 0h0m3 0h0m2 0h0m30 0h0m71 0h0m47 0h0m37 0h0m22 0h0m32 0h0m32 0h0m18 0h0m121 0h0m46 0h0m-355 1h0m3 0h0m32 0h0m56 0h0m85 0h0m59 0h0m38 0h0m-342 1h0m4 0h0m3 0h0m146 0h0m33 0h0m75 0h0m264 0h0m-564 1h0m106 0h0m12 0h0m51 0h0m70 0h0m40 0h0m38 0h0m63 0h0m18 0h0m52 0h0m6 0h0m61 0h0m14 0h0m3 0h0m22 0h0m1 0h0m-608 1h0m35 0h0m23 0h0m31 0h0m17 0h0m57 0h0m74 0h0m62 0h0m5 0h0m31 0h0m45 0h0m2 0h0m57 0h0m83 0h0m90 0h0m-426 1h0m52 0h0m50 0h0m46 0h0m67 0h0m2 0h0m29 0h0m-352 1h0m26 0h0m218 0h0m34 0h0m41 0h0m30 0h0m12 0h0m104 0h0m33 0h0m-467 1h0m97 0h0m4 0h0m2 0h0m20 0h0m44 0h0m40 0h0m10 0h0m50 0h0m6 0h0m12 0h0m3 0h0m4 0h0m1 0h0m3 0h0m14 0h0m86 0h0m117 0h0m-420 1h0m24 0h0m14 0h0m24 0h0m17 0h0m61 0h0m7 0h0m39 0h0m36 0h0m-254 1h0m107 0h0m49 0h0m129 0h0m11 0h0m122 0h0m32 0h0m-567 1h0m25 0h0m64 0h0m149 0h0m53 0h0m8 0h0m21 0h0m64 0h0m91 0h0m39 0h0m34 0h0m-432 1h0m5 0h0m179 0h0m55 0h0m9 0h0m194 0h0m-550 1h0m33 0h0m16 0h0m25 0h0m36 0h0m13 0h0m180 0h0m15 0h0m54 0h0m58 0h0m55 0h0m31 0h0m-514 1h0m27 0h0m53 0h0m8 0h0m216 0h0m97 0h0m-404 1h0m51 0h0m115 0h0m15 0h0m105 0h0m3 0h0m136 0h0m64 0h0m-535 1h0m46 0h0m52 0h0m105 0h0m4 0h0m53 0h0m340 0h0m-578 1h0m13 0h0m109 0h0m33 0h0m34 0h0m67 0h0m31 0h0m42 0h0m12 0h0m128 0h0m-465 1h0m46 0h0m42 0h0m155 0h0m216 0h0m28 0h0m-534 1h0m175 0h0m58 0h0m33 0h0m7 0h0m14 0h0m-152 1h0m17 0h0m16 0h0m2 0h0m20 0h0m46 0h0m95 0h0m60 0h0m-202 1h0m147 0h0m-292 1h0m38 0h0m67 0h0m42 0h0m133 0h0m29 0h0m248 0h0m-450 1h0m45 0h0m194 0h0m-392 1h0m135 0h0m-121 1h0m492 0h0m-497 1h0m194 0h0m10 0h0m97 0h0m252 0h0m-131 1h0m56 0h0m-201 1h0m135 0h0m27 0h0m50 0h0m-405 1h0m93 0h0m361 1h0m22 4h0m-332 2h0m23 2h0" stroke="#e6ab02" stroke-width="5.6" stroke-linecap="round" fill="none"/>
<path d="M2250 1949h0m-114 17h0m-36 3h0m-30 6h0m14 0h0m21 0h0m60 0h0m17 0h0m90 0h0m-181 29h0m72 0h0m-119 44h0m6 0h0m3 0h0m8 0h0m19 0h0m13 0h0m16 0h0m23 0h0m3 0h0m2 0h0m5 0h0m12 0h0m6 0h0m11 0h0m4 0h0m6 0h0m1 0h0m6 0h0m47 0h0m5 0h0m12 0h0m16 0h0m6 0h0m-230 44h0m62 0h0m-73 29h0m3 0h0m24 0h0m3 0h0m52 0h0m119 0h0m4 0h0m-95 4h0m-104 12h0m144 2h0m-154 2h0" stroke="#ebebeb" stroke-width="2.8" stroke-linecap="round" fill="none" opacity="0.4"/>
<path d="M2009.3 1827.9V2268.4" stroke="#a0009e" stroke-width="4.4"/>
<path d="M1650.3 2288.2v7" stroke="#a8a8a8" stroke-width="1.8"/>
<text transform="translate(1650.3 2345.3) scale(0.93 1)" font-size="62.5" fill="#333" text-anchor="middle">0</text>
<path d="M1886.1 2288.2v7" stroke="#a8a8a8" stroke-width="1.8"/>
<text transform="translate(1819.6 2345.3) scale(.958 1)" font-size="62.5" fill="#333" stroke="#fff" stroke-width="0.5">5×10<tspan dy="-33.5" dx="3.5" font-size="31" fill="#6e6e6e" stroke="none">7</tspan></text>
<path d="M2121.9 2288.2v7" stroke="#a8a8a8" stroke-width="1.8"/>
<text transform="translate(2053.4 2345.3) scale(.958 1)" font-size="62.5" fill="#333" stroke="#fff" stroke-width="0.5">1×10<tspan dy="-33.5" dx="4.5" font-size="31" fill="#6e6e6e" stroke="none">8</tspan></text>
<text transform="translate(1151.5 2401) scale(0.985 1)" font-size="61.5" fill="#111" stroke="#fff" stroke-width="0.7">Position</text>
<text transform="translate(75.5 1766) scale(1.06 1) rotate(-90)" font-size="61.5" fill="#111" text-anchor="middle" stroke="#fff" stroke-width="0.7">Ratios diffrence</text>
</g>
<g id="panelD">
<text transform="translate(24 2393)" font-size="92" fill="#000">D</text>
<path d="M2338.5 2422V3368.5" stroke="#d6d6d6" stroke-width="2.6"/>
<rect x="170.3" y="2517.4" width="2157" height="769.1" fill="#fff"/>
<path d="M265.3 2517.4V3286.5M545.2 2517.4V3286.5M825.1 2517.4V3286.5M1105 2517.4V3286.5M1384.9 2517.4V3286.5M1664.8 2517.4V3286.5M1944.7 2517.4V3286.5M2224.6 2517.4V3286.5M170.3 3164H2327.3M170.3 2989.2H2327.3M170.3 2814.6H2327.3M170.3 2639.9H2327.3" stroke="#f4f4f4" stroke-width="1.6" fill="none"/>
<path d="M170.3 3251.3H2327.3M170.3 3076.6H2327.3M170.3 2901.9H2327.3M170.3 2727.2H2327.3M170.3 2552.5H2327.3" stroke="#f0f0f0" stroke-width="2" fill="none"/>
<path d="M170.3 2814.6H2327.3" stroke="#8c8c8c" stroke-width="2" stroke-dasharray="2.3 3.7 8.6 3.7" fill="none"/>
<path d="M170.3 2587.2H2327.3" stroke="#8c8c8c" stroke-width="2.6" stroke-dasharray="10.5 5.2" fill="none"/>
<path d="M269.5 3251.3H2231" stroke="#4d4d4d" stroke-width="13" stroke-linecap="round"/>
<circle cx="383" cy="3248.3" r="5.2" fill="#4d4d4d"/>
<circle cx="404" cy="3248.3" r="5.2" fill="#4d4d4d"/>
<circle cx="450" cy="3248.3" r="5.2" fill="#4d4d4d"/>
<circle cx="730.6" cy="3248.3" r="5.2" fill="#4d4d4d"/>
<circle cx="742" cy="3248.8" r="5.2" fill="#4d4d4d"/>
<circle cx="906.6" cy="3248.3" r="5.2" fill="#4d4d4d"/>
<circle cx="1172.6" cy="3247.8" r="5.2" fill="#4d4d4d"/>
<circle cx="1265" cy="3248.3" r="5.2" fill="#4d4d4d"/>
<circle cx="1437.2" cy="3248.3" r="5.2" fill="#4d4d4d"/>
<circle cx="1471.7" cy="3246.3" r="5.2" fill="#4d4d4d"/>
<circle cx="1500.4" cy="3248.3" r="5.2" fill="#4d4d4d"/>
<circle cx="1563.5" cy="3246.3" r="5.2" fill="#4d4d4d"/>
<circle cx="1601" cy="3248.3" r="5.2" fill="#4d4d4d"/>
<circle cx="1656.5" cy="3248.3" r="5.2" fill="#4d4d4d"/>
<circle cx="1707" cy="3245.8" r="5.2" fill="#4d4d4d"/>
<circle cx="1756.8" cy="3246.3" r="5.2" fill="#4d4d4d"/>
<circle cx="1593" cy="3248.3" r="5.2" fill="#4d4d4d"/>
<circle cx="1849.5" cy="3244.8" r="5.2" fill="#4d4d4d"/>
<circle cx="1894.3" cy="3248.3" r="5.2" fill="#4d4d4d"/>
<circle cx="1967.7" cy="3248.3" r="5.2" fill="#4d4d4d"/>
<circle cx="1990" cy="3247.3" r="5.2" fill="#4d4d4d"/>
<circle cx="2123.9" cy="3247.8" r="5.2" fill="#4d4d4d"/>
<circle cx="2210.7" cy="3248.3" r="5.2" fill="#4d4d4d"/>
<circle cx="2050" cy="3248.8" r="5.2" fill="#4d4d4d"/>
<circle cx="1625" cy="3248.8" r="5.2" fill="#4d4d4d"/>
<path d="M781 2600L826 2602" stroke="#6b8cf0" stroke-width="1.6" fill="none"/>
<path d="M826 2584L855 2594" stroke="#3aa3a3" stroke-width="1.6" fill="none"/>
<path d="M2057.7 2672L2057.9 2705" stroke="#6b8cf0" stroke-width="1.6" fill="none"/>
<path d="M2008.3 2838.6L2008.1 2872" stroke="#6a6a6a" stroke-width="1.6" fill="none"/>
<path d="M2123.9 2838.6L2123.2 2872" stroke="#6a6a6a" stroke-width="1.6" fill="none"/>
<path d="M346.4 3148.6L346.4 3183.5" stroke="#6a6a6a" stroke-width="1.6" fill="none"/>
<path d="M406.8 3070.2L423.5 3103" stroke="#6a6a6a" stroke-width="1.6" fill="none"/>
<path d="M465 3083.6L473.3 3117" stroke="#6a6a6a" stroke-width="1.6" fill="none"/>
<path d="M508.2 3197.6L503.6 3230.5" stroke="#6a6a6a" stroke-width="1.6" fill="none"/>
<path d="M571.7 3197.6L571.7 3230.5" stroke="#6a6a6a" stroke-width="1.6" fill="none"/>
<path d="M704.1 3172.7L704.4 3207.2" stroke="#6a6a6a" stroke-width="1.6" fill="none"/>
<path d="M907.4 2954.1L907.4 2988" stroke="#6a6a6a" stroke-width="1.6" fill="none"/>
<path d="M1009.2 2963.7L1009.2 2997.5" stroke="#6a6a6a" stroke-width="1.6" fill="none"/>
<path d="M969 3197.1L1021.2 3232" stroke="#6a6a6a" stroke-width="1.6" fill="none"/>
<path d="M1033 3197.9L1043.5 3230.5" stroke="#6a6a6a" stroke-width="1.6" fill="none"/>
<path d="M1098 3197.9L1079 3231.5" stroke="#6a6a6a" stroke-width="1.6" fill="none"/>
<path d="M1148.5 3060.1L1114 3093.8" stroke="#6a6a6a" stroke-width="1.6" fill="none"/>
<path d="M1197.5 3197.1L1224.2 3231.5" stroke="#6a6a6a" stroke-width="1.6" fill="none"/>
<path d="M1252.2 3197.9L1232.2 3231.5" stroke="#6a6a6a" stroke-width="1.6" fill="none"/>
<path d="M1336.6 3199.5L1337.6 3231.5" stroke="#6a6a6a" stroke-width="1.6" fill="none"/>
<path d="M1389.4 3202.2L1369.5 3233.5" stroke="#6a6a6a" stroke-width="1.6" fill="none"/>
<path d="M1433.4 3059.1L1373 3096.8" stroke="#6a6a6a" stroke-width="1.6" fill="none"/>
<path d="M1477.4 3151L1427.2 3186" stroke="#6a6a6a" stroke-width="1.6" fill="none"/>
<path d="M1530.2 3197L1530.2 3230.5" stroke="#6a6a6a" stroke-width="1.6" fill="none"/>
<path d="M1944 3196.8L2027.5 3233.8" stroke="#6a6a6a" stroke-width="1.6" fill="none"/>
<path d="M1990 3149.8L2054 3186.5" stroke="#6a6a6a" stroke-width="1.6" fill="none"/>
<path d="M2035.9 3196.8L2061 3231.5" stroke="#6a6a6a" stroke-width="1.6" fill="none"/>
<path d="M2141 3196.8L2183.5 3232.5" stroke="#6a6a6a" stroke-width="1.6" fill="none"/>
<path d="M2208 3199.5L2192 3232" stroke="#6a6a6a" stroke-width="1.6" fill="none"/>
<circle cx="394.2" cy="2598.7" r="6.1" fill="#4169e1"/>
<circle cx="475.7" cy="2595.7" r="7.6" fill="#008b8b"/>
<circle cx="625.7" cy="2596.4" r="6.1" fill="#4169e1"/>
<circle cx="688.8" cy="2601.4" r="6.1" fill="#4169e1"/>
<circle cx="832" cy="2602.6" r="6.1" fill="#4169e1"/>
<circle cx="860.7" cy="2596.4" r="6.1" fill="#008b8b"/>
<circle cx="905.9" cy="2596.4" r="6.1" fill="#008b8b"/>
<circle cx="964.8" cy="2593.8" r="7.4" fill="#008b8b"/>
<circle cx="1290.9" cy="2598.7" r="6.1" fill="#4169e1"/>
<circle cx="1284.3" cy="2637.8" r="6.1" fill="#4169e1"/>
<circle cx="1386.7" cy="2587.4" r="6.1" fill="#cd0000"/>
<circle cx="1393.2" cy="2600.3" r="6.1" fill="#4169e1"/>
<circle cx="1809.3" cy="2598.7" r="6.1" fill="#4169e1"/>
<circle cx="2058.4" cy="2711.6" r="6.1" fill="#4169e1"/>
<circle cx="2096.3" cy="2596.4" r="6.1" fill="#008b8b"/>
<circle cx="2008" cy="2878.8" r="6.1" fill="#4d4d4d"/>
<circle cx="2123" cy="2878.8" r="6.1" fill="#4d4d4d"/>
<circle cx="346.4" cy="3190" r="6.1" fill="#4d4d4d"/>
<circle cx="426.7" cy="3109.6" r="6.1" fill="#4d4d4d"/>
<circle cx="475.3" cy="3123.4" r="6.1" fill="#4d4d4d"/>
<circle cx="502.5" cy="3237" r="6.1" fill="#4d4d4d"/>
<circle cx="571.7" cy="3237" r="6.1" fill="#4d4d4d"/>
<circle cx="704.5" cy="3213.7" r="6.1" fill="#4d4d4d"/>
<circle cx="907.4" cy="2994.3" r="6.1" fill="#4d4d4d"/>
<circle cx="1009.2" cy="3003.9" r="6.1" fill="#4d4d4d"/>
<circle cx="1026" cy="3236.5" r="6.1" fill="#4d4d4d"/>
<circle cx="1046.3" cy="3236.5" r="6.1" fill="#4d4d4d"/>
<circle cx="1076.2" cy="3236.5" r="6.1" fill="#4d4d4d"/>
<circle cx="1109.4" cy="3098.4" r="6.1" fill="#4d4d4d"/>
<circle cx="1228.4" cy="3236.5" r="6.1" fill="#4d4d4d"/>
<circle cx="1337.8" cy="3237.8" r="6.1" fill="#4d4d4d"/>
<circle cx="1366.5" cy="3239.7" r="6.1" fill="#4d4d4d"/>
<circle cx="1367.6" cy="3100" r="6.1" fill="#4d4d4d"/>
<circle cx="1422" cy="3190" r="6.1" fill="#4d4d4d"/>
<circle cx="1530.2" cy="3237" r="6.1" fill="#4d4d4d"/>
<circle cx="2033.2" cy="3237" r="6.1" fill="#4d4d4d"/>
<circle cx="2060" cy="3190" r="6.1" fill="#4d4d4d"/>
<circle cx="2064.6" cy="3237" r="6.1" fill="#4d4d4d"/>
<circle cx="2188.2" cy="3237.8" r="6.1" fill="#4d4d4d"/>
<text transform="translate(385.8 2525.5) scale(1.06 1) rotate(-90)" font-size="36" fill="#4a6fee" text-anchor="end">RYR2</text>
<text transform="translate(466.9 2526.5) scale(1.06 1) rotate(-90)" font-size="36" fill="#0b8f8f" text-anchor="end">GPR75</text>
<text transform="translate(516 2526.5) scale(1.06 1) rotate(-90)" font-size="36" fill="#0b8f8f" text-anchor="end">RTN4</text>
<text transform="translate(618.4 2527) scale(1.06 1) rotate(-90)" font-size="36" fill="#4a6fee" text-anchor="end">MUC4</text>
<text transform="translate(681.6 2526.5) scale(1.06 1) rotate(-90)" font-size="36" fill="#4a6fee" text-anchor="end">PAICS</text>
<text transform="translate(779.2 2531) scale(1.06 1) rotate(-90)" font-size="36" fill="#4a6fee" text-anchor="end">FCHSD1</text>
<text transform="translate(825.1 2527) scale(1.06 1) rotate(-90)" font-size="36" fill="#0b8f8f" text-anchor="end">HLA-C</text>
<text transform="translate(887.4 2525.5) scale(1.06 1) rotate(-90)" font-size="36" fill="#0b8f8f" text-anchor="end">TBP</text>
<text transform="translate(951.4 2527) scale(1.06 1) rotate(-90)" font-size="36" fill="#0b8f8f" text-anchor="end">ZAN</text>
<text transform="translate(1003.4 2525.5) scale(1.06 1) rotate(-90)" font-size="36" fill="#0b8f8f" text-anchor="end">MUC3A</text>
<text transform="translate(1273 2526.5) scale(1.06 1) rotate(-90)" font-size="36" fill="#4a6fee" text-anchor="end">MUC6</text>
<text transform="translate(1328.2 2526.5) scale(1.06 1) rotate(-90)" font-size="36" fill="#4a6fee" text-anchor="end">CHRNA10</text>
<text transform="translate(1379.9 2531.5) scale(1.06 1) rotate(-90)" font-size="36" fill="#d01010" text-anchor="end">WNT11</text>
<text transform="translate(1430.8 2524) scale(1.06 1) rotate(-90)" font-size="36" fill="#4a6fee" text-anchor="end">MYO7A</text>
<text transform="translate(1802.7 2531) scale(1.06 1) rotate(-90)" font-size="36" fill="#4a6fee" text-anchor="end">ANKFY1</text>
<text transform="translate(2072.2 2548.5) scale(1.06 1) rotate(-90)" font-size="36" fill="#4a6fee" text-anchor="end">LILRA6</text>
<text transform="translate(2133.4 2526.5) scale(1.06 1) rotate(-90)" font-size="36" fill="#0b8f8f" text-anchor="end">PCSK2</text>
<text transform="translate(2022.4 2688.5) scale(1.06 1) rotate(-90)" font-size="36" fill="#555" text-anchor="end">RSPH6A</text>
<text transform="translate(2138.8 2717.5) scale(1.06 1) rotate(-90)" font-size="36" fill="#555" text-anchor="end">ACSS2</text>
<text transform="translate(361.3 3030.3) scale(1.06 1) rotate(-90)" font-size="36" fill="#555" text-anchor="end">NBPF9</text>
<text transform="translate(421 2967.5) scale(1.06 1) rotate(-90)" font-size="36" fill="#555" text-anchor="end">OTOF</text>
<text transform="translate(479.5 2960.7) scale(1.06 1) rotate(-90)" font-size="36" fill="#555" text-anchor="end">PSME4</text>
<text transform="translate(523.9 2995) scale(1.06 1) rotate(-90)" font-size="36" fill="#555" text-anchor="end">AC013268.1</text>
<text transform="translate(585.9 3061) scale(1.06 1) rotate(-90)" font-size="36" fill="#555" text-anchor="end">ZNF717</text>
<text transform="translate(719.4 3057) scale(1.06 1) rotate(-90)" font-size="36" fill="#555" text-anchor="end">FRAS1</text>
<text transform="translate(922.7 2809) scale(1.06 1) rotate(-90)" font-size="36" fill="#555" text-anchor="end">FAM20C</text>
<text transform="translate(1024.1 2837.7) scale(1.06 1) rotate(-90)" font-size="36" fill="#555" text-anchor="end">KMT2C</text>
<text transform="translate(983.2 3033) scale(1.06 1) rotate(-90)" font-size="36" fill="#555" text-anchor="end">ZNF705G</text>
<text transform="translate(1048.6 3036.7) scale(1.06 1) rotate(-90)" font-size="36" fill="#555" text-anchor="end">FAM86B1</text>
<text transform="translate(1115.2 3023.3) scale(1.06 1) rotate(-90)" font-size="36" fill="#555" text-anchor="end">MTCO1P4</text>
<text transform="translate(1163.8 3006) scale(1.06 1) rotate(-90)" font-size="36" fill="#555" text-anchor="end">TG</text>
<text transform="translate(1215.1 2998.4) scale(1.06 1) rotate(-90)" font-size="36" fill="#555" text-anchor="end">AL133216.2</text>
<text transform="translate(1265.6 3013.7) scale(1.06 1) rotate(-90)" font-size="36" fill="#555" text-anchor="end">SLC9B1P3</text>
<text transform="translate(1351.9 3075.5) scale(1.06 1) rotate(-90)" font-size="36" fill="#555" text-anchor="end">OR6Q1</text>
<text transform="translate(1405.1 3051.7) scale(1.06 1) rotate(-90)" font-size="36" fill="#555" text-anchor="end">CCDC87</text>
<text transform="translate(1449.1 2945.3) scale(1.06 1) rotate(-90)" font-size="36" fill="#555" text-anchor="end">CLCF1</text>
<text transform="translate(1491.6 3027.6) scale(1.06 1) rotate(-90)" font-size="36" fill="#555" text-anchor="end">TAGLN</text>
<text transform="translate(1545.6 3033.3) scale(1.06 1) rotate(-90)" font-size="36" fill="#555" text-anchor="end">GPALPP1</text>
<text transform="translate(1958.2 3061) scale(1.06 1) rotate(-90)" font-size="36" fill="#555" text-anchor="end">IGLON5</text>
<text transform="translate(2005.3 3049.4) scale(1.06 1) rotate(-90)" font-size="36" fill="#555" text-anchor="end">LAIR1</text>
<text transform="translate(2051.6 3066) scale(1.06 1) rotate(-90)" font-size="36" fill="#555" text-anchor="end">ZNF211</text>
<text transform="translate(2155.3 3080) scale(1.06 1) rotate(-90)" font-size="36" fill="#555" text-anchor="end">NF1P6</text>
<text transform="translate(2221.8 3073.5) scale(1.06 1) rotate(-90)" font-size="36" fill="#555" text-anchor="end">POTEH</text>
<rect x="170.3" y="2517.4" width="2157" height="769.1" fill="none" stroke="#858585" stroke-width="2.6"/>
<path d="M163 2552.5H170.3" stroke="#888" stroke-width="1.8"/>
<text transform="translate(158 2572.1) scale(1.01 1)" font-size="50.5" fill="#4d4d4d" text-anchor="end">0.8</text>
<path d="M163 2727.2H170.3" stroke="#888" stroke-width="1.8"/>
<text transform="translate(158 2746.8) scale(1.01 1)" font-size="50.5" fill="#4d4d4d" text-anchor="end">0.6</text>
<path d="M163 2901.9H170.3" stroke="#888" stroke-width="1.8"/>
<text transform="translate(158 2921.5) scale(1.01 1)" font-size="50.5" fill="#4d4d4d" text-anchor="end">0.4</text>
<path d="M163 3076.6H170.3" stroke="#888" stroke-width="1.8"/>
<text transform="translate(158 3096.2) scale(1.01 1)" font-size="50.5" fill="#4d4d4d" text-anchor="end">0.2</text>
<path d="M163 3251.3H170.3" stroke="#888" stroke-width="1.8"/>
<text transform="translate(158 3270.9) scale(1.01 1)" font-size="50.5" fill="#4d4d4d" text-anchor="end">0.0</text>
<text transform="translate(71.2 2900.5) scale(1.075 1) rotate(-90)" font-size="62.4" fill="#111" text-anchor="middle" stroke="#fff" stroke-width="0.7">Exomiser gene combined score</text>
<text transform="translate(1248 3344.8) scale(0.985 1)" font-size="62.5" fill="#111" text-anchor="middle" stroke="#fff" stroke-width="0.7">Relative genomic position</text>
<path d="M764 3398.6H797.5" stroke="#8c8c8c" stroke-width="1.8" stroke-dasharray="2.5 3.5 9 3.5" fill="none"/>
<text transform="translate(829 3419.2) scale(0.995 1)" font-size="51.5" fill="#111" stroke="#fff" stroke-width="0.7">0.5 score cut-off</text>
<path d="M1309.5 3396.2H1337" stroke="#8c8c8c" stroke-width="2.2" stroke-dasharray="10.5 5.5" fill="none"/>
<text transform="translate(1376.5 3416) scale(0.995 1)" font-size="51.5" fill="#111" stroke="#fff" stroke-width="0.7">WNT11 score</text>
<circle cx="70" cy="3461.8" r="7" fill="#008b8b"/>
<text transform="translate(85.8 3470.6) rotate(-90)" font-size="29" font-weight="bold" fill="#008b8b" opacity=".9">a</text>
<text transform="translate(118.5 3482.2) scale(0.966 1)" font-size="51.5" fill="#111" stroke="#fff" stroke-width="0.7">outside the shared regions</text>
<circle cx="786.7" cy="3461.8" r="7" fill="#4169e1"/>
<text transform="translate(802.5 3470.6) rotate(-90)" font-size="29" font-weight="bold" fill="#4169e1" opacity=".9">a</text>
<text transform="translate(838 3480.6) scale(0.966 1)" font-size="51.5" fill="#111" stroke="#fff" stroke-width="0.7">within the shared regions</text>
<circle cx="1458" cy="3461.8" r="7" fill="#cd0000"/>
<text transform="translate(1473.8 3470.6) rotate(-90)" font-size="29" font-weight="bold" fill="#cd0000" opacity=".9">a</text>
<text transform="translate(1507.5 3480.2) scale(0.957 1)" font-size="51.5" fill="#111" stroke="#fff" stroke-width="0.7">candidate gene</text>
<circle cx="1916" cy="3461.8" r="7" fill="#4d4d4d"/>
<text transform="translate(1931.8 3470.6) rotate(-90)" font-size="29" font-weight="bold" fill="#4d4d4d" opacity=".9">a</text>
<text transform="translate(1966.5 3480.2) scale(0.98 1)" font-size="51.5" fill="#111" stroke="#fff" stroke-width="0.7">&lt; 0.5 score</text>
</g>
</svg>
</body></html>
